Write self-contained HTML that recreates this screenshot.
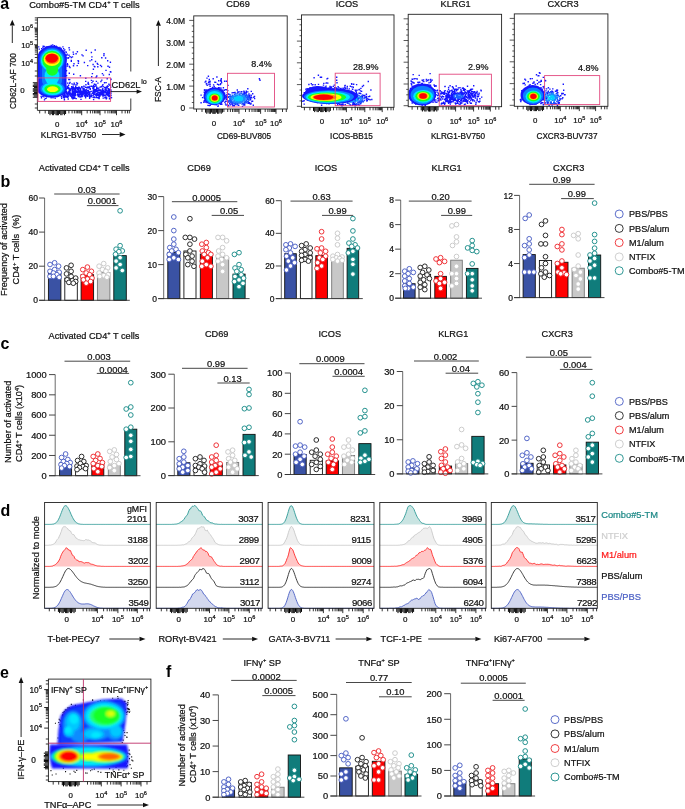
<!DOCTYPE html><html><head><meta charset="utf-8"><title>Figure</title><style>html,body{margin:0;padding:0;background:#fff;width:685px;height:809px;overflow:hidden}svg{display:block;font-family:"Liberation Sans", sans-serif;will-change:transform}</style></head><body><svg width="685" height="809" viewBox="0 0 685 809" font-family='"Liberation Sans", sans-serif'><defs><filter id="bl" x="-30%" y="-30%" width="160%" height="160%"><feGaussianBlur stdDeviation="0.75"/></filter><filter id="bl2" x="-30%" y="-30%" width="160%" height="160%"><feGaussianBlur stdDeviation="1.1"/></filter><clipPath id="c1"><rect x="37.9" y="17.6" width="93.4" height="92.8"/></clipPath><clipPath id="c2"><rect x="194.2" y="15.9" width="93.0" height="93.1"/></clipPath><clipPath id="c3"><rect x="302.0" y="14.9" width="92.0" height="92.4"/></clipPath><clipPath id="c4"><rect x="408.7" y="14.3" width="93.0" height="92.4"/></clipPath><clipPath id="c5"><rect x="514.8" y="13.9" width="93.0" height="92.4"/></clipPath><clipPath id="c6"><rect x="48.9" y="679.1" width="102.5" height="102.5"/></clipPath></defs><rect width="685" height="809" fill="#fff"/><rect x="48.40" y="273.02" width="12.50" height="27.28" fill="#3a52a4" stroke="#111" stroke-width="0.90"/>
<rect x="64.80" y="278.13" width="12.50" height="22.17" fill="#ffffff" stroke="#111" stroke-width="0.90"/>
<rect x="81.10" y="274.73" width="12.50" height="25.57" fill="#ff0000" stroke="#111" stroke-width="0.90"/>
<rect x="97.40" y="272.51" width="12.50" height="27.79" fill="#c8c8c8" stroke="#777" stroke-width="0.90"/>
<rect x="113.80" y="255.63" width="12.50" height="44.67" fill="#107c7b" stroke="#111" stroke-width="0.90"/>
<circle cx="54.6" cy="262.8" r="2.35" fill="#fff" stroke="#4b5fc4" stroke-width="0.95"/>
<circle cx="50.0" cy="264.5" r="2.35" fill="#fff" stroke="#4b5fc4" stroke-width="0.95"/>
<circle cx="58.6" cy="266.2" r="2.35" fill="#fff" stroke="#4b5fc4" stroke-width="0.95"/>
<circle cx="54.6" cy="269.6" r="2.35" fill="#fff" stroke="#4b5fc4" stroke-width="0.95"/>
<circle cx="50.0" cy="271.3" r="2.35" fill="#fff" stroke="#4b5fc4" stroke-width="0.95"/>
<circle cx="59.2" cy="272.2" r="2.35" fill="#fff" stroke="#4b5fc4" stroke-width="0.95"/>
<circle cx="53.4" cy="273.0" r="2.35" fill="#fff" stroke="#4b5fc4" stroke-width="0.95"/>
<circle cx="56.9" cy="274.7" r="2.35" fill="#fff" stroke="#4b5fc4" stroke-width="0.95"/>
<circle cx="50.0" cy="276.4" r="2.35" fill="#fff" stroke="#4b5fc4" stroke-width="0.95"/>
<circle cx="53.4" cy="276.4" r="2.35" fill="#fff" stroke="#4b5fc4" stroke-width="0.95"/>
<circle cx="59.2" cy="277.3" r="2.35" fill="#fff" stroke="#4b5fc4" stroke-width="0.95"/>
<circle cx="71.1" cy="265.3" r="2.35" fill="#fff" stroke="#222" stroke-width="0.95"/>
<circle cx="66.5" cy="267.9" r="2.35" fill="#fff" stroke="#222" stroke-width="0.95"/>
<circle cx="71.1" cy="271.3" r="2.35" fill="#fff" stroke="#222" stroke-width="0.95"/>
<circle cx="66.5" cy="273.9" r="2.35" fill="#fff" stroke="#222" stroke-width="0.95"/>
<circle cx="71.1" cy="276.4" r="2.35" fill="#fff" stroke="#222" stroke-width="0.95"/>
<circle cx="75.7" cy="278.1" r="2.35" fill="#fff" stroke="#222" stroke-width="0.95"/>
<circle cx="67.1" cy="279.8" r="2.35" fill="#fff" stroke="#222" stroke-width="0.95"/>
<circle cx="72.3" cy="280.7" r="2.35" fill="#fff" stroke="#222" stroke-width="0.95"/>
<circle cx="75.7" cy="281.5" r="2.35" fill="#fff" stroke="#222" stroke-width="0.95"/>
<circle cx="68.9" cy="282.4" r="2.35" fill="#fff" stroke="#222" stroke-width="0.95"/>
<circle cx="73.3" cy="283.2" r="2.35" fill="#fff" stroke="#222" stroke-width="0.95"/>
<circle cx="87.4" cy="267.1" r="2.35" fill="#fff" stroke="#ee2a2f" stroke-width="0.95"/>
<circle cx="82.8" cy="269.6" r="2.35" fill="#fff" stroke="#ee2a2f" stroke-width="0.95"/>
<circle cx="91.4" cy="271.3" r="2.35" fill="#fff" stroke="#ee2a2f" stroke-width="0.95"/>
<circle cx="86.2" cy="273.0" r="2.35" fill="#fff" stroke="#ee2a2f" stroke-width="0.95"/>
<circle cx="89.6" cy="274.7" r="2.35" fill="#fff" stroke="#ee2a2f" stroke-width="0.95"/>
<circle cx="82.8" cy="276.4" r="2.35" fill="#fff" stroke="#ee2a2f" stroke-width="0.95"/>
<circle cx="92.0" cy="278.1" r="2.35" fill="#fff" stroke="#ee2a2f" stroke-width="0.95"/>
<circle cx="87.4" cy="279.0" r="2.35" fill="#fff" stroke="#ee2a2f" stroke-width="0.95"/>
<circle cx="83.4" cy="279.8" r="2.35" fill="#fff" stroke="#ee2a2f" stroke-width="0.95"/>
<circle cx="90.6" cy="281.5" r="2.35" fill="#fff" stroke="#ee2a2f" stroke-width="0.95"/>
<circle cx="86.2" cy="283.2" r="2.35" fill="#fff" stroke="#ee2a2f" stroke-width="0.95"/>
<circle cx="103.7" cy="263.6" r="2.35" fill="#fff" stroke="#c9c9c9" stroke-width="0.95"/>
<circle cx="99.1" cy="266.2" r="2.35" fill="#fff" stroke="#c9c9c9" stroke-width="0.95"/>
<circle cx="107.7" cy="267.9" r="2.35" fill="#fff" stroke="#c9c9c9" stroke-width="0.95"/>
<circle cx="102.5" cy="269.6" r="2.35" fill="#fff" stroke="#c9c9c9" stroke-width="0.95"/>
<circle cx="105.9" cy="271.3" r="2.35" fill="#fff" stroke="#c9c9c9" stroke-width="0.95"/>
<circle cx="99.1" cy="273.0" r="2.35" fill="#fff" stroke="#c9c9c9" stroke-width="0.95"/>
<circle cx="108.2" cy="274.7" r="2.35" fill="#fff" stroke="#c9c9c9" stroke-width="0.95"/>
<circle cx="103.7" cy="275.6" r="2.35" fill="#fff" stroke="#c9c9c9" stroke-width="0.95"/>
<circle cx="99.7" cy="276.4" r="2.35" fill="#fff" stroke="#c9c9c9" stroke-width="0.95"/>
<circle cx="106.9" cy="277.3" r="2.35" fill="#fff" stroke="#c9c9c9" stroke-width="0.95"/>
<circle cx="120.1" cy="210.8" r="2.35" fill="#fff" stroke="#1a8c89" stroke-width="0.95"/>
<circle cx="120.1" cy="245.7" r="2.35" fill="#fff" stroke="#1a8c89" stroke-width="0.95"/>
<circle cx="116.1" cy="249.2" r="2.35" fill="#fff" stroke="#1a8c89" stroke-width="0.95"/>
<circle cx="122.3" cy="250.9" r="2.35" fill="#fff" stroke="#1a8c89" stroke-width="0.95"/>
<circle cx="118.9" cy="251.7" r="2.35" fill="#fff" stroke="#1a8c89" stroke-width="0.95"/>
<circle cx="115.5" cy="254.3" r="2.35" fill="#fff" stroke="#1a8c89" stroke-width="0.95"/>
<circle cx="120.1" cy="257.7" r="2.35" fill="#fff" stroke="#1a8c89" stroke-width="0.95"/>
<circle cx="116.1" cy="261.1" r="2.35" fill="#fff" stroke="#1a8c89" stroke-width="0.95"/>
<circle cx="120.1" cy="264.5" r="2.35" fill="#fff" stroke="#1a8c89" stroke-width="0.95"/>
<circle cx="116.1" cy="267.9" r="2.35" fill="#fff" stroke="#1a8c89" stroke-width="0.95"/>
<circle cx="122.3" cy="270.5" r="2.35" fill="#fff" stroke="#1a8c89" stroke-width="0.95"/>
<line x1="44.60" y1="198.00" x2="44.60" y2="300.75" stroke="#6a6a6a" stroke-width="1.00"/>
<line x1="39.10" y1="300.30" x2="129.80" y2="300.30" stroke="#333" stroke-width="0.90"/>
<line x1="39.10" y1="300.30" x2="44.60" y2="300.30" stroke="#333" stroke-width="0.90"/>
<text x="37.9" y="303.4" font-size="8.50" text-anchor="end" fill="#111" stroke="#111" stroke-width="0.22">0</text>
<line x1="39.10" y1="266.20" x2="44.60" y2="266.20" stroke="#333" stroke-width="0.90"/>
<text x="37.9" y="269.3" font-size="8.50" text-anchor="end" fill="#111" stroke="#111" stroke-width="0.22">20</text>
<line x1="39.10" y1="232.10" x2="44.60" y2="232.10" stroke="#333" stroke-width="0.90"/>
<text x="37.9" y="235.2" font-size="8.50" text-anchor="end" fill="#111" stroke="#111" stroke-width="0.22">40</text>
<line x1="39.10" y1="198.00" x2="44.60" y2="198.00" stroke="#333" stroke-width="0.90"/>
<text x="37.9" y="201.1" font-size="8.50" text-anchor="end" fill="#111" stroke="#111" stroke-width="0.22">60</text>
<line x1="54.20" y1="194.00" x2="119.60" y2="194.00" stroke="#333" stroke-width="0.90"/>
<text x="86.9" y="192.8" font-size="9.40" text-anchor="middle" fill="#111" stroke="#111" stroke-width="0.22">0.03</text>
<line x1="86.90" y1="205.60" x2="118.50" y2="205.60" stroke="#333" stroke-width="0.90"/>
<text x="102.2" y="204.4" font-size="9.40" text-anchor="middle" fill="#111" stroke="#111" stroke-width="0.22">0.0001</text>
<text x="84.2" y="171.3" font-size="9.20" text-anchor="middle" fill="#111" stroke="#111" stroke-width="0.22">Activated CD4<tspan dy="-3.50" font-size="5.70">+</tspan><tspan dy="3.50"> T cells</tspan></text>
<rect x="167.80" y="252.36" width="12.10" height="46.24" fill="#3a52a4" stroke="#111" stroke-width="0.90"/>
<rect x="183.90" y="251.00" width="12.10" height="47.60" fill="#ffffff" stroke="#111" stroke-width="0.90"/>
<rect x="200.30" y="254.06" width="12.10" height="44.54" fill="#ff0000" stroke="#111" stroke-width="0.90"/>
<rect x="216.60" y="257.46" width="12.10" height="41.14" fill="#c8c8c8" stroke="#777" stroke-width="0.90"/>
<rect x="233.00" y="274.12" width="12.10" height="24.48" fill="#107c7b" stroke="#111" stroke-width="0.90"/>
<circle cx="173.8" cy="217.0" r="2.35" fill="#fff" stroke="#4b5fc4" stroke-width="0.95"/>
<circle cx="173.8" cy="230.6" r="2.35" fill="#fff" stroke="#4b5fc4" stroke-width="0.95"/>
<circle cx="173.8" cy="239.1" r="2.35" fill="#fff" stroke="#4b5fc4" stroke-width="0.95"/>
<circle cx="173.8" cy="244.2" r="2.35" fill="#fff" stroke="#4b5fc4" stroke-width="0.95"/>
<circle cx="169.8" cy="247.6" r="2.35" fill="#fff" stroke="#4b5fc4" stroke-width="0.95"/>
<circle cx="176.0" cy="249.3" r="2.35" fill="#fff" stroke="#4b5fc4" stroke-width="0.95"/>
<circle cx="171.7" cy="251.0" r="2.35" fill="#fff" stroke="#4b5fc4" stroke-width="0.95"/>
<circle cx="178.4" cy="252.7" r="2.35" fill="#fff" stroke="#4b5fc4" stroke-width="0.95"/>
<circle cx="169.2" cy="254.4" r="2.35" fill="#fff" stroke="#4b5fc4" stroke-width="0.95"/>
<circle cx="173.8" cy="257.8" r="2.35" fill="#fff" stroke="#4b5fc4" stroke-width="0.95"/>
<circle cx="169.2" cy="259.5" r="2.35" fill="#fff" stroke="#4b5fc4" stroke-width="0.95"/>
<circle cx="178.4" cy="259.5" r="2.35" fill="#fff" stroke="#4b5fc4" stroke-width="0.95"/>
<circle cx="189.9" cy="218.7" r="2.35" fill="#fff" stroke="#222" stroke-width="0.95"/>
<circle cx="189.9" cy="237.4" r="2.35" fill="#fff" stroke="#222" stroke-width="0.95"/>
<circle cx="185.3" cy="237.4" r="2.35" fill="#fff" stroke="#222" stroke-width="0.95"/>
<circle cx="194.5" cy="239.1" r="2.35" fill="#fff" stroke="#222" stroke-width="0.95"/>
<circle cx="189.9" cy="244.2" r="2.35" fill="#fff" stroke="#222" stroke-width="0.95"/>
<circle cx="189.9" cy="251.0" r="2.35" fill="#fff" stroke="#222" stroke-width="0.95"/>
<circle cx="185.9" cy="254.4" r="2.35" fill="#fff" stroke="#222" stroke-width="0.95"/>
<circle cx="192.1" cy="256.1" r="2.35" fill="#fff" stroke="#222" stroke-width="0.95"/>
<circle cx="187.8" cy="257.8" r="2.35" fill="#fff" stroke="#222" stroke-width="0.95"/>
<circle cx="192.1" cy="261.2" r="2.35" fill="#fff" stroke="#222" stroke-width="0.95"/>
<circle cx="187.8" cy="264.6" r="2.35" fill="#fff" stroke="#222" stroke-width="0.95"/>
<circle cx="193.9" cy="266.3" r="2.35" fill="#fff" stroke="#222" stroke-width="0.95"/>
<circle cx="206.3" cy="242.5" r="2.35" fill="#fff" stroke="#ee2a2f" stroke-width="0.95"/>
<circle cx="201.8" cy="244.2" r="2.35" fill="#fff" stroke="#ee2a2f" stroke-width="0.95"/>
<circle cx="206.3" cy="247.6" r="2.35" fill="#fff" stroke="#ee2a2f" stroke-width="0.95"/>
<circle cx="202.3" cy="251.0" r="2.35" fill="#fff" stroke="#ee2a2f" stroke-width="0.95"/>
<circle cx="208.5" cy="252.7" r="2.35" fill="#fff" stroke="#ee2a2f" stroke-width="0.95"/>
<circle cx="204.2" cy="254.4" r="2.35" fill="#fff" stroke="#ee2a2f" stroke-width="0.95"/>
<circle cx="210.9" cy="254.4" r="2.35" fill="#fff" stroke="#ee2a2f" stroke-width="0.95"/>
<circle cx="207.5" cy="257.8" r="2.35" fill="#fff" stroke="#ee2a2f" stroke-width="0.95"/>
<circle cx="202.3" cy="261.2" r="2.35" fill="#fff" stroke="#ee2a2f" stroke-width="0.95"/>
<circle cx="206.3" cy="264.6" r="2.35" fill="#fff" stroke="#ee2a2f" stroke-width="0.95"/>
<circle cx="201.8" cy="266.3" r="2.35" fill="#fff" stroke="#ee2a2f" stroke-width="0.95"/>
<circle cx="210.9" cy="266.3" r="2.35" fill="#fff" stroke="#ee2a2f" stroke-width="0.95"/>
<circle cx="222.6" cy="237.4" r="2.35" fill="#fff" stroke="#c9c9c9" stroke-width="0.95"/>
<circle cx="218.0" cy="237.4" r="2.35" fill="#fff" stroke="#c9c9c9" stroke-width="0.95"/>
<circle cx="226.6" cy="240.8" r="2.35" fill="#fff" stroke="#c9c9c9" stroke-width="0.95"/>
<circle cx="222.6" cy="247.6" r="2.35" fill="#fff" stroke="#c9c9c9" stroke-width="0.95"/>
<circle cx="218.6" cy="251.0" r="2.35" fill="#fff" stroke="#c9c9c9" stroke-width="0.95"/>
<circle cx="222.6" cy="254.4" r="2.35" fill="#fff" stroke="#c9c9c9" stroke-width="0.95"/>
<circle cx="218.0" cy="256.1" r="2.35" fill="#fff" stroke="#c9c9c9" stroke-width="0.95"/>
<circle cx="226.6" cy="257.8" r="2.35" fill="#fff" stroke="#c9c9c9" stroke-width="0.95"/>
<circle cx="221.4" cy="259.5" r="2.35" fill="#fff" stroke="#c9c9c9" stroke-width="0.95"/>
<circle cx="218.0" cy="261.2" r="2.35" fill="#fff" stroke="#c9c9c9" stroke-width="0.95"/>
<circle cx="222.6" cy="264.6" r="2.35" fill="#fff" stroke="#c9c9c9" stroke-width="0.95"/>
<circle cx="222.6" cy="271.4" r="2.35" fill="#fff" stroke="#c9c9c9" stroke-width="0.95"/>
<circle cx="239.0" cy="252.7" r="2.35" fill="#fff" stroke="#1a8c89" stroke-width="0.95"/>
<circle cx="234.4" cy="254.4" r="2.35" fill="#fff" stroke="#1a8c89" stroke-width="0.95"/>
<circle cx="239.0" cy="264.6" r="2.35" fill="#fff" stroke="#1a8c89" stroke-width="0.95"/>
<circle cx="235.0" cy="268.0" r="2.35" fill="#fff" stroke="#1a8c89" stroke-width="0.95"/>
<circle cx="241.2" cy="269.7" r="2.35" fill="#fff" stroke="#1a8c89" stroke-width="0.95"/>
<circle cx="236.8" cy="271.4" r="2.35" fill="#fff" stroke="#1a8c89" stroke-width="0.95"/>
<circle cx="241.2" cy="274.8" r="2.35" fill="#fff" stroke="#1a8c89" stroke-width="0.95"/>
<circle cx="235.0" cy="276.5" r="2.35" fill="#fff" stroke="#1a8c89" stroke-width="0.95"/>
<circle cx="243.6" cy="278.2" r="2.35" fill="#fff" stroke="#1a8c89" stroke-width="0.95"/>
<circle cx="239.0" cy="279.9" r="2.35" fill="#fff" stroke="#1a8c89" stroke-width="0.95"/>
<circle cx="234.4" cy="281.6" r="2.35" fill="#fff" stroke="#1a8c89" stroke-width="0.95"/>
<circle cx="243.0" cy="283.3" r="2.35" fill="#fff" stroke="#1a8c89" stroke-width="0.95"/>
<circle cx="239.0" cy="286.7" r="2.35" fill="#fff" stroke="#1a8c89" stroke-width="0.95"/>
<line x1="163.70" y1="196.60" x2="163.70" y2="299.05" stroke="#6a6a6a" stroke-width="1.00"/>
<line x1="158.20" y1="298.60" x2="249.60" y2="298.60" stroke="#333" stroke-width="0.90"/>
<line x1="158.20" y1="298.60" x2="163.70" y2="298.60" stroke="#333" stroke-width="0.90"/>
<text x="157.0" y="301.7" font-size="8.50" text-anchor="end" fill="#111" stroke="#111" stroke-width="0.22">0</text>
<line x1="158.20" y1="264.60" x2="163.70" y2="264.60" stroke="#333" stroke-width="0.90"/>
<text x="157.0" y="267.7" font-size="8.50" text-anchor="end" fill="#111" stroke="#111" stroke-width="0.22">10</text>
<line x1="158.20" y1="230.60" x2="163.70" y2="230.60" stroke="#333" stroke-width="0.90"/>
<text x="157.0" y="233.7" font-size="8.50" text-anchor="end" fill="#111" stroke="#111" stroke-width="0.22">20</text>
<line x1="158.20" y1="196.60" x2="163.70" y2="196.60" stroke="#333" stroke-width="0.90"/>
<text x="157.0" y="199.7" font-size="8.50" text-anchor="end" fill="#111" stroke="#111" stroke-width="0.22">30</text>
<line x1="171.90" y1="201.70" x2="237.30" y2="201.70" stroke="#333" stroke-width="0.90"/>
<text x="206.6" y="200.8" font-size="9.40" text-anchor="middle" fill="#111" stroke="#111" stroke-width="0.22">0.0005</text>
<line x1="211.70" y1="215.40" x2="244.00" y2="215.40" stroke="#333" stroke-width="0.90"/>
<text x="229.1" y="214.1" font-size="9.40" text-anchor="middle" fill="#111" stroke="#111" stroke-width="0.22">0.05</text>
<text x="199.0" y="171.3" font-size="9.20" text-anchor="middle" fill="#111" stroke="#111" stroke-width="0.22">CD69</text>
<rect x="284.70" y="253.73" width="11.60" height="44.87" fill="#3a52a4" stroke="#111" stroke-width="0.90"/>
<rect x="300.40" y="255.36" width="11.60" height="43.24" fill="#ffffff" stroke="#111" stroke-width="0.90"/>
<rect x="315.80" y="255.69" width="11.60" height="42.91" fill="#ff0000" stroke="#111" stroke-width="0.90"/>
<rect x="331.70" y="256.18" width="11.60" height="42.42" fill="#c8c8c8" stroke="#777" stroke-width="0.90"/>
<rect x="347.10" y="248.34" width="11.60" height="50.26" fill="#107c7b" stroke="#111" stroke-width="0.90"/>
<circle cx="290.5" cy="243.9" r="2.35" fill="#fff" stroke="#4b5fc4" stroke-width="0.95"/>
<circle cx="285.9" cy="244.8" r="2.35" fill="#fff" stroke="#4b5fc4" stroke-width="0.95"/>
<circle cx="295.1" cy="246.4" r="2.35" fill="#fff" stroke="#4b5fc4" stroke-width="0.95"/>
<circle cx="289.3" cy="248.0" r="2.35" fill="#fff" stroke="#4b5fc4" stroke-width="0.95"/>
<circle cx="285.9" cy="249.7" r="2.35" fill="#fff" stroke="#4b5fc4" stroke-width="0.95"/>
<circle cx="290.5" cy="252.9" r="2.35" fill="#fff" stroke="#4b5fc4" stroke-width="0.95"/>
<circle cx="286.5" cy="256.2" r="2.35" fill="#fff" stroke="#4b5fc4" stroke-width="0.95"/>
<circle cx="292.7" cy="257.8" r="2.35" fill="#fff" stroke="#4b5fc4" stroke-width="0.95"/>
<circle cx="288.3" cy="261.1" r="2.35" fill="#fff" stroke="#4b5fc4" stroke-width="0.95"/>
<circle cx="294.5" cy="262.7" r="2.35" fill="#fff" stroke="#4b5fc4" stroke-width="0.95"/>
<circle cx="290.5" cy="266.0" r="2.35" fill="#fff" stroke="#4b5fc4" stroke-width="0.95"/>
<circle cx="286.5" cy="270.0" r="2.35" fill="#fff" stroke="#4b5fc4" stroke-width="0.95"/>
<circle cx="306.2" cy="243.9" r="2.35" fill="#fff" stroke="#222" stroke-width="0.95"/>
<circle cx="301.6" cy="245.6" r="2.35" fill="#fff" stroke="#222" stroke-width="0.95"/>
<circle cx="310.2" cy="248.0" r="2.35" fill="#fff" stroke="#222" stroke-width="0.95"/>
<circle cx="305.0" cy="249.7" r="2.35" fill="#fff" stroke="#222" stroke-width="0.95"/>
<circle cx="301.6" cy="251.3" r="2.35" fill="#fff" stroke="#222" stroke-width="0.95"/>
<circle cx="310.2" cy="252.9" r="2.35" fill="#fff" stroke="#222" stroke-width="0.95"/>
<circle cx="305.0" cy="254.5" r="2.35" fill="#fff" stroke="#222" stroke-width="0.95"/>
<circle cx="301.6" cy="255.4" r="2.35" fill="#fff" stroke="#222" stroke-width="0.95"/>
<circle cx="310.2" cy="257.8" r="2.35" fill="#fff" stroke="#222" stroke-width="0.95"/>
<circle cx="305.0" cy="259.4" r="2.35" fill="#fff" stroke="#222" stroke-width="0.95"/>
<circle cx="301.6" cy="260.3" r="2.35" fill="#fff" stroke="#222" stroke-width="0.95"/>
<circle cx="308.4" cy="261.1" r="2.35" fill="#fff" stroke="#222" stroke-width="0.95"/>
<circle cx="321.6" cy="231.7" r="2.35" fill="#fff" stroke="#ee2a2f" stroke-width="0.95"/>
<circle cx="321.6" cy="239.0" r="2.35" fill="#fff" stroke="#ee2a2f" stroke-width="0.95"/>
<circle cx="321.6" cy="248.0" r="2.35" fill="#fff" stroke="#ee2a2f" stroke-width="0.95"/>
<circle cx="317.0" cy="248.8" r="2.35" fill="#fff" stroke="#ee2a2f" stroke-width="0.95"/>
<circle cx="325.6" cy="251.3" r="2.35" fill="#fff" stroke="#ee2a2f" stroke-width="0.95"/>
<circle cx="320.4" cy="252.9" r="2.35" fill="#fff" stroke="#ee2a2f" stroke-width="0.95"/>
<circle cx="325.6" cy="256.2" r="2.35" fill="#fff" stroke="#ee2a2f" stroke-width="0.95"/>
<circle cx="319.4" cy="257.8" r="2.35" fill="#fff" stroke="#ee2a2f" stroke-width="0.95"/>
<circle cx="322.8" cy="259.4" r="2.35" fill="#fff" stroke="#ee2a2f" stroke-width="0.95"/>
<circle cx="317.6" cy="262.7" r="2.35" fill="#fff" stroke="#ee2a2f" stroke-width="0.95"/>
<circle cx="321.6" cy="266.0" r="2.35" fill="#fff" stroke="#ee2a2f" stroke-width="0.95"/>
<circle cx="317.0" cy="268.4" r="2.35" fill="#fff" stroke="#ee2a2f" stroke-width="0.95"/>
<circle cx="337.5" cy="233.3" r="2.35" fill="#fff" stroke="#c9c9c9" stroke-width="0.95"/>
<circle cx="337.5" cy="238.2" r="2.35" fill="#fff" stroke="#c9c9c9" stroke-width="0.95"/>
<circle cx="337.5" cy="244.8" r="2.35" fill="#fff" stroke="#c9c9c9" stroke-width="0.95"/>
<circle cx="337.5" cy="254.5" r="2.35" fill="#fff" stroke="#c9c9c9" stroke-width="0.95"/>
<circle cx="332.9" cy="256.2" r="2.35" fill="#fff" stroke="#c9c9c9" stroke-width="0.95"/>
<circle cx="342.1" cy="257.0" r="2.35" fill="#fff" stroke="#c9c9c9" stroke-width="0.95"/>
<circle cx="336.3" cy="257.8" r="2.35" fill="#fff" stroke="#c9c9c9" stroke-width="0.95"/>
<circle cx="339.7" cy="258.6" r="2.35" fill="#fff" stroke="#c9c9c9" stroke-width="0.95"/>
<circle cx="332.9" cy="259.4" r="2.35" fill="#fff" stroke="#c9c9c9" stroke-width="0.95"/>
<circle cx="342.1" cy="260.3" r="2.35" fill="#fff" stroke="#c9c9c9" stroke-width="0.95"/>
<circle cx="337.5" cy="261.1" r="2.35" fill="#fff" stroke="#c9c9c9" stroke-width="0.95"/>
<circle cx="352.9" cy="218.6" r="2.35" fill="#fff" stroke="#1a8c89" stroke-width="0.95"/>
<circle cx="352.9" cy="230.9" r="2.35" fill="#fff" stroke="#1a8c89" stroke-width="0.95"/>
<circle cx="352.9" cy="239.0" r="2.35" fill="#fff" stroke="#1a8c89" stroke-width="0.95"/>
<circle cx="348.9" cy="243.1" r="2.35" fill="#fff" stroke="#1a8c89" stroke-width="0.95"/>
<circle cx="355.1" cy="244.8" r="2.35" fill="#fff" stroke="#1a8c89" stroke-width="0.95"/>
<circle cx="351.7" cy="246.4" r="2.35" fill="#fff" stroke="#1a8c89" stroke-width="0.95"/>
<circle cx="357.5" cy="248.0" r="2.35" fill="#fff" stroke="#1a8c89" stroke-width="0.95"/>
<circle cx="352.9" cy="251.3" r="2.35" fill="#fff" stroke="#1a8c89" stroke-width="0.95"/>
<circle cx="348.3" cy="252.9" r="2.35" fill="#fff" stroke="#1a8c89" stroke-width="0.95"/>
<circle cx="352.9" cy="259.4" r="2.35" fill="#fff" stroke="#1a8c89" stroke-width="0.95"/>
<circle cx="352.9" cy="264.3" r="2.35" fill="#fff" stroke="#1a8c89" stroke-width="0.95"/>
<circle cx="352.9" cy="274.1" r="2.35" fill="#fff" stroke="#1a8c89" stroke-width="0.95"/>
<line x1="281.30" y1="200.70" x2="281.30" y2="299.05" stroke="#6a6a6a" stroke-width="1.00"/>
<line x1="275.80" y1="298.60" x2="362.80" y2="298.60" stroke="#333" stroke-width="0.90"/>
<line x1="275.80" y1="298.60" x2="281.30" y2="298.60" stroke="#333" stroke-width="0.90"/>
<text x="274.6" y="301.7" font-size="8.50" text-anchor="end" fill="#111" stroke="#111" stroke-width="0.22">0</text>
<line x1="275.80" y1="265.97" x2="281.30" y2="265.97" stroke="#333" stroke-width="0.90"/>
<text x="274.6" y="269.0" font-size="8.50" text-anchor="end" fill="#111" stroke="#111" stroke-width="0.22">20</text>
<line x1="275.80" y1="233.33" x2="281.30" y2="233.33" stroke="#333" stroke-width="0.90"/>
<text x="274.6" y="236.4" font-size="8.50" text-anchor="end" fill="#111" stroke="#111" stroke-width="0.22">40</text>
<line x1="275.80" y1="200.70" x2="281.30" y2="200.70" stroke="#333" stroke-width="0.90"/>
<text x="274.6" y="203.8" font-size="8.50" text-anchor="end" fill="#111" stroke="#111" stroke-width="0.22">60</text>
<line x1="290.50" y1="201.10" x2="352.60" y2="201.10" stroke="#333" stroke-width="0.90"/>
<text x="321.5" y="200.0" font-size="9.40" text-anchor="middle" fill="#111" stroke="#111" stroke-width="0.22">0.63</text>
<line x1="322.00" y1="215.40" x2="353.20" y2="215.40" stroke="#333" stroke-width="0.90"/>
<text x="337.5" y="213.9" font-size="9.40" text-anchor="middle" fill="#111" stroke="#111" stroke-width="0.22">0.99</text>
<text x="326.0" y="171.3" font-size="9.20" text-anchor="middle" fill="#111" stroke="#111" stroke-width="0.22">ICOS</text>
<rect x="403.50" y="283.73" width="11.60" height="14.47" fill="#3a52a4" stroke="#111" stroke-width="0.90"/>
<rect x="419.00" y="274.29" width="11.60" height="23.91" fill="#ffffff" stroke="#111" stroke-width="0.90"/>
<rect x="434.80" y="276.37" width="11.60" height="21.83" fill="#ff0000" stroke="#111" stroke-width="0.90"/>
<rect x="450.70" y="260.19" width="11.60" height="38.01" fill="#c8c8c8" stroke="#777" stroke-width="0.90"/>
<rect x="466.40" y="268.40" width="11.60" height="29.80" fill="#107c7b" stroke="#111" stroke-width="0.90"/>
<circle cx="409.3" cy="268.8" r="2.35" fill="#fff" stroke="#4b5fc4" stroke-width="0.95"/>
<circle cx="404.7" cy="271.2" r="2.35" fill="#fff" stroke="#4b5fc4" stroke-width="0.95"/>
<circle cx="413.3" cy="272.4" r="2.35" fill="#fff" stroke="#4b5fc4" stroke-width="0.95"/>
<circle cx="408.1" cy="273.7" r="2.35" fill="#fff" stroke="#4b5fc4" stroke-width="0.95"/>
<circle cx="404.7" cy="276.1" r="2.35" fill="#fff" stroke="#4b5fc4" stroke-width="0.95"/>
<circle cx="409.3" cy="278.6" r="2.35" fill="#fff" stroke="#4b5fc4" stroke-width="0.95"/>
<circle cx="404.7" cy="281.0" r="2.35" fill="#fff" stroke="#4b5fc4" stroke-width="0.95"/>
<circle cx="409.3" cy="283.5" r="2.35" fill="#fff" stroke="#4b5fc4" stroke-width="0.95"/>
<circle cx="404.7" cy="285.9" r="2.35" fill="#fff" stroke="#4b5fc4" stroke-width="0.95"/>
<circle cx="413.3" cy="287.2" r="2.35" fill="#fff" stroke="#4b5fc4" stroke-width="0.95"/>
<circle cx="408.1" cy="288.4" r="2.35" fill="#fff" stroke="#4b5fc4" stroke-width="0.95"/>
<circle cx="405.3" cy="288.4" r="2.35" fill="#fff" stroke="#4b5fc4" stroke-width="0.95"/>
<circle cx="424.8" cy="266.3" r="2.35" fill="#fff" stroke="#222" stroke-width="0.95"/>
<circle cx="420.2" cy="267.5" r="2.35" fill="#fff" stroke="#222" stroke-width="0.95"/>
<circle cx="428.8" cy="270.0" r="2.35" fill="#fff" stroke="#222" stroke-width="0.95"/>
<circle cx="422.6" cy="272.4" r="2.35" fill="#fff" stroke="#222" stroke-width="0.95"/>
<circle cx="427.0" cy="274.9" r="2.35" fill="#fff" stroke="#222" stroke-width="0.95"/>
<circle cx="420.2" cy="276.1" r="2.35" fill="#fff" stroke="#222" stroke-width="0.95"/>
<circle cx="429.4" cy="278.6" r="2.35" fill="#fff" stroke="#222" stroke-width="0.95"/>
<circle cx="423.6" cy="279.8" r="2.35" fill="#fff" stroke="#222" stroke-width="0.95"/>
<circle cx="420.2" cy="282.3" r="2.35" fill="#fff" stroke="#222" stroke-width="0.95"/>
<circle cx="424.8" cy="284.7" r="2.35" fill="#fff" stroke="#222" stroke-width="0.95"/>
<circle cx="420.2" cy="287.2" r="2.35" fill="#fff" stroke="#222" stroke-width="0.95"/>
<circle cx="424.8" cy="289.6" r="2.35" fill="#fff" stroke="#222" stroke-width="0.95"/>
<circle cx="440.6" cy="257.7" r="2.35" fill="#fff" stroke="#ee2a2f" stroke-width="0.95"/>
<circle cx="436.0" cy="259.0" r="2.35" fill="#fff" stroke="#ee2a2f" stroke-width="0.95"/>
<circle cx="444.6" cy="261.4" r="2.35" fill="#fff" stroke="#ee2a2f" stroke-width="0.95"/>
<circle cx="439.4" cy="262.6" r="2.35" fill="#fff" stroke="#ee2a2f" stroke-width="0.95"/>
<circle cx="440.6" cy="273.7" r="2.35" fill="#fff" stroke="#ee2a2f" stroke-width="0.95"/>
<circle cx="440.6" cy="278.6" r="2.35" fill="#fff" stroke="#ee2a2f" stroke-width="0.95"/>
<circle cx="436.0" cy="281.0" r="2.35" fill="#fff" stroke="#ee2a2f" stroke-width="0.95"/>
<circle cx="444.6" cy="282.3" r="2.35" fill="#fff" stroke="#ee2a2f" stroke-width="0.95"/>
<circle cx="439.4" cy="283.5" r="2.35" fill="#fff" stroke="#ee2a2f" stroke-width="0.95"/>
<circle cx="440.6" cy="288.4" r="2.35" fill="#fff" stroke="#ee2a2f" stroke-width="0.95"/>
<circle cx="456.5" cy="224.6" r="2.35" fill="#fff" stroke="#c9c9c9" stroke-width="0.95"/>
<circle cx="451.9" cy="225.9" r="2.35" fill="#fff" stroke="#c9c9c9" stroke-width="0.95"/>
<circle cx="456.5" cy="236.9" r="2.35" fill="#fff" stroke="#c9c9c9" stroke-width="0.95"/>
<circle cx="456.5" cy="241.8" r="2.35" fill="#fff" stroke="#c9c9c9" stroke-width="0.95"/>
<circle cx="452.5" cy="245.5" r="2.35" fill="#fff" stroke="#c9c9c9" stroke-width="0.95"/>
<circle cx="456.5" cy="256.5" r="2.35" fill="#fff" stroke="#c9c9c9" stroke-width="0.95"/>
<circle cx="456.5" cy="266.3" r="2.35" fill="#fff" stroke="#c9c9c9" stroke-width="0.95"/>
<circle cx="456.5" cy="273.7" r="2.35" fill="#fff" stroke="#c9c9c9" stroke-width="0.95"/>
<circle cx="451.9" cy="273.7" r="2.35" fill="#fff" stroke="#c9c9c9" stroke-width="0.95"/>
<circle cx="456.5" cy="278.6" r="2.35" fill="#fff" stroke="#c9c9c9" stroke-width="0.95"/>
<circle cx="456.5" cy="283.5" r="2.35" fill="#fff" stroke="#c9c9c9" stroke-width="0.95"/>
<circle cx="451.9" cy="285.9" r="2.35" fill="#fff" stroke="#c9c9c9" stroke-width="0.95"/>
<circle cx="472.2" cy="240.6" r="2.35" fill="#fff" stroke="#1a8c89" stroke-width="0.95"/>
<circle cx="472.2" cy="245.5" r="2.35" fill="#fff" stroke="#1a8c89" stroke-width="0.95"/>
<circle cx="467.6" cy="247.9" r="2.35" fill="#fff" stroke="#1a8c89" stroke-width="0.95"/>
<circle cx="472.2" cy="250.4" r="2.35" fill="#fff" stroke="#1a8c89" stroke-width="0.95"/>
<circle cx="476.8" cy="251.6" r="2.35" fill="#fff" stroke="#1a8c89" stroke-width="0.95"/>
<circle cx="472.2" cy="263.9" r="2.35" fill="#fff" stroke="#1a8c89" stroke-width="0.95"/>
<circle cx="472.2" cy="273.7" r="2.35" fill="#fff" stroke="#1a8c89" stroke-width="0.95"/>
<circle cx="467.6" cy="273.7" r="2.35" fill="#fff" stroke="#1a8c89" stroke-width="0.95"/>
<circle cx="472.2" cy="279.8" r="2.35" fill="#fff" stroke="#1a8c89" stroke-width="0.95"/>
<circle cx="472.2" cy="285.9" r="2.35" fill="#fff" stroke="#1a8c89" stroke-width="0.95"/>
<circle cx="472.2" cy="290.8" r="2.35" fill="#fff" stroke="#1a8c89" stroke-width="0.95"/>
<line x1="400.70" y1="200.10" x2="400.70" y2="298.65" stroke="#6a6a6a" stroke-width="1.00"/>
<line x1="395.20" y1="298.20" x2="482.00" y2="298.20" stroke="#333" stroke-width="0.90"/>
<line x1="395.20" y1="298.20" x2="400.70" y2="298.20" stroke="#333" stroke-width="0.90"/>
<text x="394.0" y="301.3" font-size="8.50" text-anchor="end" fill="#111" stroke="#111" stroke-width="0.22">0</text>
<line x1="395.20" y1="273.68" x2="400.70" y2="273.68" stroke="#333" stroke-width="0.90"/>
<text x="394.0" y="276.7" font-size="8.50" text-anchor="end" fill="#111" stroke="#111" stroke-width="0.22">2</text>
<line x1="395.20" y1="249.15" x2="400.70" y2="249.15" stroke="#333" stroke-width="0.90"/>
<text x="394.0" y="252.2" font-size="8.50" text-anchor="end" fill="#111" stroke="#111" stroke-width="0.22">4</text>
<line x1="395.20" y1="224.62" x2="400.70" y2="224.62" stroke="#333" stroke-width="0.90"/>
<text x="394.0" y="227.7" font-size="8.50" text-anchor="end" fill="#111" stroke="#111" stroke-width="0.22">6</text>
<line x1="395.20" y1="200.10" x2="400.70" y2="200.10" stroke="#333" stroke-width="0.90"/>
<text x="394.0" y="203.2" font-size="8.50" text-anchor="end" fill="#111" stroke="#111" stroke-width="0.22">8</text>
<line x1="408.80" y1="201.10" x2="471.60" y2="201.10" stroke="#333" stroke-width="0.90"/>
<text x="440.5" y="200.0" font-size="9.40" text-anchor="middle" fill="#111" stroke="#111" stroke-width="0.22">0.20</text>
<line x1="441.10" y1="215.40" x2="472.20" y2="215.40" stroke="#333" stroke-width="0.90"/>
<text x="456.9" y="213.9" font-size="9.40" text-anchor="middle" fill="#111" stroke="#111" stroke-width="0.22">0.99</text>
<text x="446.6" y="171.3" font-size="9.20" text-anchor="middle" fill="#111" stroke="#111" stroke-width="0.22">KLRG1</text>
<rect x="523.10" y="254.59" width="12.20" height="43.01" fill="#3a52a4" stroke="#111" stroke-width="0.90"/>
<rect x="539.40" y="260.55" width="12.20" height="37.05" fill="#ffffff" stroke="#111" stroke-width="0.90"/>
<rect x="555.80" y="262.26" width="12.20" height="35.34" fill="#ff0000" stroke="#111" stroke-width="0.90"/>
<rect x="572.10" y="268.22" width="12.20" height="29.38" fill="#c8c8c8" stroke="#777" stroke-width="0.90"/>
<rect x="588.50" y="255.02" width="12.20" height="42.58" fill="#107c7b" stroke="#111" stroke-width="0.90"/>
<circle cx="529.2" cy="215.0" r="2.35" fill="#fff" stroke="#4b5fc4" stroke-width="0.95"/>
<circle cx="525.2" cy="218.4" r="2.35" fill="#fff" stroke="#4b5fc4" stroke-width="0.95"/>
<circle cx="529.2" cy="238.8" r="2.35" fill="#fff" stroke="#4b5fc4" stroke-width="0.95"/>
<circle cx="529.2" cy="243.9" r="2.35" fill="#fff" stroke="#4b5fc4" stroke-width="0.95"/>
<circle cx="524.6" cy="245.6" r="2.35" fill="#fff" stroke="#4b5fc4" stroke-width="0.95"/>
<circle cx="529.2" cy="249.9" r="2.35" fill="#fff" stroke="#4b5fc4" stroke-width="0.95"/>
<circle cx="529.2" cy="255.0" r="2.35" fill="#fff" stroke="#4b5fc4" stroke-width="0.95"/>
<circle cx="524.6" cy="257.6" r="2.35" fill="#fff" stroke="#4b5fc4" stroke-width="0.95"/>
<circle cx="529.2" cy="272.1" r="2.35" fill="#fff" stroke="#4b5fc4" stroke-width="0.95"/>
<circle cx="524.6" cy="272.1" r="2.35" fill="#fff" stroke="#4b5fc4" stroke-width="0.95"/>
<circle cx="533.8" cy="272.1" r="2.35" fill="#fff" stroke="#4b5fc4" stroke-width="0.95"/>
<circle cx="545.5" cy="220.9" r="2.35" fill="#fff" stroke="#222" stroke-width="0.95"/>
<circle cx="541.5" cy="224.4" r="2.35" fill="#fff" stroke="#222" stroke-width="0.95"/>
<circle cx="545.5" cy="235.4" r="2.35" fill="#fff" stroke="#222" stroke-width="0.95"/>
<circle cx="545.5" cy="243.9" r="2.35" fill="#fff" stroke="#222" stroke-width="0.95"/>
<circle cx="540.9" cy="243.9" r="2.35" fill="#fff" stroke="#222" stroke-width="0.95"/>
<circle cx="545.5" cy="256.7" r="2.35" fill="#fff" stroke="#222" stroke-width="0.95"/>
<circle cx="545.5" cy="263.5" r="2.35" fill="#fff" stroke="#222" stroke-width="0.95"/>
<circle cx="541.5" cy="267.8" r="2.35" fill="#fff" stroke="#222" stroke-width="0.95"/>
<circle cx="545.5" cy="272.1" r="2.35" fill="#fff" stroke="#222" stroke-width="0.95"/>
<circle cx="540.9" cy="273.8" r="2.35" fill="#fff" stroke="#222" stroke-width="0.95"/>
<circle cx="549.5" cy="275.5" r="2.35" fill="#fff" stroke="#222" stroke-width="0.95"/>
<circle cx="544.3" cy="277.2" r="2.35" fill="#fff" stroke="#222" stroke-width="0.95"/>
<circle cx="561.9" cy="229.5" r="2.35" fill="#fff" stroke="#ee2a2f" stroke-width="0.95"/>
<circle cx="561.9" cy="234.6" r="2.35" fill="#fff" stroke="#ee2a2f" stroke-width="0.95"/>
<circle cx="561.9" cy="243.9" r="2.35" fill="#fff" stroke="#ee2a2f" stroke-width="0.95"/>
<circle cx="557.3" cy="246.5" r="2.35" fill="#fff" stroke="#ee2a2f" stroke-width="0.95"/>
<circle cx="561.9" cy="249.9" r="2.35" fill="#fff" stroke="#ee2a2f" stroke-width="0.95"/>
<circle cx="561.9" cy="261.0" r="2.35" fill="#fff" stroke="#ee2a2f" stroke-width="0.95"/>
<circle cx="557.3" cy="263.5" r="2.35" fill="#fff" stroke="#ee2a2f" stroke-width="0.95"/>
<circle cx="561.9" cy="267.8" r="2.35" fill="#fff" stroke="#ee2a2f" stroke-width="0.95"/>
<circle cx="557.9" cy="272.1" r="2.35" fill="#fff" stroke="#ee2a2f" stroke-width="0.95"/>
<circle cx="564.1" cy="272.9" r="2.35" fill="#fff" stroke="#ee2a2f" stroke-width="0.95"/>
<circle cx="560.7" cy="273.8" r="2.35" fill="#fff" stroke="#ee2a2f" stroke-width="0.95"/>
<circle cx="566.5" cy="274.6" r="2.35" fill="#fff" stroke="#ee2a2f" stroke-width="0.95"/>
<circle cx="578.2" cy="233.7" r="2.35" fill="#fff" stroke="#c9c9c9" stroke-width="0.95"/>
<circle cx="573.6" cy="235.4" r="2.35" fill="#fff" stroke="#c9c9c9" stroke-width="0.95"/>
<circle cx="578.2" cy="238.8" r="2.35" fill="#fff" stroke="#c9c9c9" stroke-width="0.95"/>
<circle cx="578.2" cy="255.0" r="2.35" fill="#fff" stroke="#c9c9c9" stroke-width="0.95"/>
<circle cx="578.2" cy="266.1" r="2.35" fill="#fff" stroke="#c9c9c9" stroke-width="0.95"/>
<circle cx="574.2" cy="269.5" r="2.35" fill="#fff" stroke="#c9c9c9" stroke-width="0.95"/>
<circle cx="580.4" cy="272.1" r="2.35" fill="#fff" stroke="#c9c9c9" stroke-width="0.95"/>
<circle cx="576.0" cy="275.5" r="2.35" fill="#fff" stroke="#c9c9c9" stroke-width="0.95"/>
<circle cx="580.4" cy="278.9" r="2.35" fill="#fff" stroke="#c9c9c9" stroke-width="0.95"/>
<circle cx="578.2" cy="284.0" r="2.35" fill="#fff" stroke="#c9c9c9" stroke-width="0.95"/>
<circle cx="578.2" cy="289.1" r="2.35" fill="#fff" stroke="#c9c9c9" stroke-width="0.95"/>
<circle cx="594.6" cy="203.1" r="2.35" fill="#fff" stroke="#1a8c89" stroke-width="0.95"/>
<circle cx="594.6" cy="234.6" r="2.35" fill="#fff" stroke="#1a8c89" stroke-width="0.95"/>
<circle cx="594.6" cy="241.4" r="2.35" fill="#fff" stroke="#1a8c89" stroke-width="0.95"/>
<circle cx="594.6" cy="248.2" r="2.35" fill="#fff" stroke="#1a8c89" stroke-width="0.95"/>
<circle cx="594.6" cy="253.3" r="2.35" fill="#fff" stroke="#1a8c89" stroke-width="0.95"/>
<circle cx="590.0" cy="255.0" r="2.35" fill="#fff" stroke="#1a8c89" stroke-width="0.95"/>
<circle cx="594.6" cy="258.4" r="2.35" fill="#fff" stroke="#1a8c89" stroke-width="0.95"/>
<circle cx="590.0" cy="261.0" r="2.35" fill="#fff" stroke="#1a8c89" stroke-width="0.95"/>
<circle cx="594.6" cy="265.2" r="2.35" fill="#fff" stroke="#1a8c89" stroke-width="0.95"/>
<circle cx="590.0" cy="267.8" r="2.35" fill="#fff" stroke="#1a8c89" stroke-width="0.95"/>
<circle cx="594.6" cy="278.0" r="2.35" fill="#fff" stroke="#1a8c89" stroke-width="0.95"/>
<circle cx="590.0" cy="278.0" r="2.35" fill="#fff" stroke="#1a8c89" stroke-width="0.95"/>
<line x1="519.60" y1="195.40" x2="519.60" y2="298.05" stroke="#6a6a6a" stroke-width="1.00"/>
<line x1="514.10" y1="297.60" x2="604.50" y2="297.60" stroke="#333" stroke-width="0.90"/>
<line x1="514.10" y1="297.60" x2="519.60" y2="297.60" stroke="#333" stroke-width="0.90"/>
<text x="512.9" y="300.7" font-size="8.50" text-anchor="end" fill="#111" stroke="#111" stroke-width="0.22">0</text>
<line x1="514.10" y1="263.53" x2="519.60" y2="263.53" stroke="#333" stroke-width="0.90"/>
<text x="512.9" y="266.6" font-size="8.50" text-anchor="end" fill="#111" stroke="#111" stroke-width="0.22">4</text>
<line x1="514.10" y1="229.47" x2="519.60" y2="229.47" stroke="#333" stroke-width="0.90"/>
<text x="512.9" y="232.5" font-size="8.50" text-anchor="end" fill="#111" stroke="#111" stroke-width="0.22">8</text>
<line x1="514.10" y1="195.40" x2="519.60" y2="195.40" stroke="#333" stroke-width="0.90"/>
<text x="512.9" y="198.5" font-size="8.50" text-anchor="end" fill="#111" stroke="#111" stroke-width="0.22">12</text>
<line x1="529.20" y1="184.30" x2="594.60" y2="184.30" stroke="#333" stroke-width="0.90"/>
<text x="561.9" y="183.0" font-size="9.40" text-anchor="middle" fill="#111" stroke="#111" stroke-width="0.22">0.99</text>
<line x1="561.10" y1="198.60" x2="593.80" y2="198.60" stroke="#333" stroke-width="0.90"/>
<text x="576.9" y="196.9" font-size="9.40" text-anchor="middle" fill="#111" stroke="#111" stroke-width="0.22">0.99</text>
<text x="568.7" y="171.3" font-size="9.20" text-anchor="middle" fill="#111" stroke="#111" stroke-width="0.22">CXCR3</text>
<rect x="59.60" y="463.06" width="12.00" height="12.64" fill="#3a52a4" stroke="#111" stroke-width="0.90"/>
<rect x="75.60" y="466.10" width="12.00" height="9.60" fill="#ffffff" stroke="#111" stroke-width="0.90"/>
<rect x="91.80" y="464.07" width="12.00" height="11.63" fill="#ff0000" stroke="#111" stroke-width="0.90"/>
<rect x="108.30" y="465.08" width="12.00" height="10.62" fill="#c8c8c8" stroke="#777" stroke-width="0.90"/>
<rect x="124.80" y="429.19" width="12.00" height="46.51" fill="#107c7b" stroke="#111" stroke-width="0.90"/>
<circle cx="65.6" cy="454.0" r="2.35" fill="#fff" stroke="#4b5fc4" stroke-width="0.95"/>
<circle cx="61.6" cy="457.5" r="2.35" fill="#fff" stroke="#4b5fc4" stroke-width="0.95"/>
<circle cx="67.8" cy="459.5" r="2.35" fill="#fff" stroke="#4b5fc4" stroke-width="0.95"/>
<circle cx="63.4" cy="461.5" r="2.35" fill="#fff" stroke="#4b5fc4" stroke-width="0.95"/>
<circle cx="70.2" cy="462.6" r="2.35" fill="#fff" stroke="#4b5fc4" stroke-width="0.95"/>
<circle cx="66.8" cy="463.6" r="2.35" fill="#fff" stroke="#4b5fc4" stroke-width="0.95"/>
<circle cx="61.0" cy="464.6" r="2.35" fill="#fff" stroke="#4b5fc4" stroke-width="0.95"/>
<circle cx="64.4" cy="465.6" r="2.35" fill="#fff" stroke="#4b5fc4" stroke-width="0.95"/>
<circle cx="69.6" cy="466.6" r="2.35" fill="#fff" stroke="#4b5fc4" stroke-width="0.95"/>
<circle cx="61.6" cy="468.1" r="2.35" fill="#fff" stroke="#4b5fc4" stroke-width="0.95"/>
<circle cx="81.6" cy="456.5" r="2.35" fill="#fff" stroke="#222" stroke-width="0.95"/>
<circle cx="77.6" cy="460.5" r="2.35" fill="#fff" stroke="#222" stroke-width="0.95"/>
<circle cx="83.8" cy="461.5" r="2.35" fill="#fff" stroke="#222" stroke-width="0.95"/>
<circle cx="80.4" cy="463.6" r="2.35" fill="#fff" stroke="#222" stroke-width="0.95"/>
<circle cx="86.2" cy="465.6" r="2.35" fill="#fff" stroke="#222" stroke-width="0.95"/>
<circle cx="77.0" cy="466.1" r="2.35" fill="#fff" stroke="#222" stroke-width="0.95"/>
<circle cx="82.8" cy="466.6" r="2.35" fill="#fff" stroke="#222" stroke-width="0.95"/>
<circle cx="79.4" cy="467.6" r="2.35" fill="#fff" stroke="#222" stroke-width="0.95"/>
<circle cx="85.6" cy="468.6" r="2.35" fill="#fff" stroke="#222" stroke-width="0.95"/>
<circle cx="77.0" cy="469.6" r="2.35" fill="#fff" stroke="#222" stroke-width="0.95"/>
<circle cx="97.8" cy="454.0" r="2.35" fill="#fff" stroke="#ee2a2f" stroke-width="0.95"/>
<circle cx="93.2" cy="456.5" r="2.35" fill="#fff" stroke="#ee2a2f" stroke-width="0.95"/>
<circle cx="100.0" cy="458.5" r="2.35" fill="#fff" stroke="#ee2a2f" stroke-width="0.95"/>
<circle cx="95.6" cy="460.5" r="2.35" fill="#fff" stroke="#ee2a2f" stroke-width="0.95"/>
<circle cx="102.4" cy="462.6" r="2.35" fill="#fff" stroke="#ee2a2f" stroke-width="0.95"/>
<circle cx="93.2" cy="463.6" r="2.35" fill="#fff" stroke="#ee2a2f" stroke-width="0.95"/>
<circle cx="97.8" cy="465.6" r="2.35" fill="#fff" stroke="#ee2a2f" stroke-width="0.95"/>
<circle cx="101.8" cy="466.6" r="2.35" fill="#fff" stroke="#ee2a2f" stroke-width="0.95"/>
<circle cx="93.8" cy="468.6" r="2.35" fill="#fff" stroke="#ee2a2f" stroke-width="0.95"/>
<circle cx="97.8" cy="471.7" r="2.35" fill="#fff" stroke="#ee2a2f" stroke-width="0.95"/>
<circle cx="114.3" cy="449.9" r="2.35" fill="#fff" stroke="#c9c9c9" stroke-width="0.95"/>
<circle cx="109.7" cy="451.4" r="2.35" fill="#fff" stroke="#c9c9c9" stroke-width="0.95"/>
<circle cx="116.5" cy="454.5" r="2.35" fill="#fff" stroke="#c9c9c9" stroke-width="0.95"/>
<circle cx="112.1" cy="457.0" r="2.35" fill="#fff" stroke="#c9c9c9" stroke-width="0.95"/>
<circle cx="116.5" cy="459.5" r="2.35" fill="#fff" stroke="#c9c9c9" stroke-width="0.95"/>
<circle cx="110.3" cy="461.5" r="2.35" fill="#fff" stroke="#c9c9c9" stroke-width="0.95"/>
<circle cx="118.9" cy="463.6" r="2.35" fill="#fff" stroke="#c9c9c9" stroke-width="0.95"/>
<circle cx="114.3" cy="465.6" r="2.35" fill="#fff" stroke="#c9c9c9" stroke-width="0.95"/>
<circle cx="109.7" cy="467.6" r="2.35" fill="#fff" stroke="#c9c9c9" stroke-width="0.95"/>
<circle cx="114.3" cy="470.6" r="2.35" fill="#fff" stroke="#c9c9c9" stroke-width="0.95"/>
<circle cx="130.8" cy="382.7" r="2.35" fill="#fff" stroke="#1a8c89" stroke-width="0.95"/>
<circle cx="130.8" cy="407.0" r="2.35" fill="#fff" stroke="#1a8c89" stroke-width="0.95"/>
<circle cx="126.2" cy="409.0" r="2.35" fill="#fff" stroke="#1a8c89" stroke-width="0.95"/>
<circle cx="130.8" cy="415.0" r="2.35" fill="#fff" stroke="#1a8c89" stroke-width="0.95"/>
<circle cx="130.8" cy="427.2" r="2.35" fill="#fff" stroke="#1a8c89" stroke-width="0.95"/>
<circle cx="126.2" cy="429.2" r="2.35" fill="#fff" stroke="#1a8c89" stroke-width="0.95"/>
<circle cx="130.8" cy="435.3" r="2.35" fill="#fff" stroke="#1a8c89" stroke-width="0.95"/>
<circle cx="130.8" cy="441.3" r="2.35" fill="#fff" stroke="#1a8c89" stroke-width="0.95"/>
<circle cx="130.8" cy="449.4" r="2.35" fill="#fff" stroke="#1a8c89" stroke-width="0.95"/>
<circle cx="130.8" cy="456.5" r="2.35" fill="#fff" stroke="#1a8c89" stroke-width="0.95"/>
<circle cx="126.2" cy="457.5" r="2.35" fill="#fff" stroke="#1a8c89" stroke-width="0.95"/>
<line x1="55.20" y1="374.60" x2="55.20" y2="476.15" stroke="#6a6a6a" stroke-width="1.00"/>
<line x1="49.00" y1="475.70" x2="140.50" y2="475.70" stroke="#333" stroke-width="0.90"/>
<line x1="49.00" y1="475.70" x2="55.20" y2="475.70" stroke="#333" stroke-width="0.90"/>
<text x="46.7" y="479.0" font-size="9.30" text-anchor="end" fill="#111" stroke="#111" stroke-width="0.22">0</text>
<line x1="49.00" y1="455.48" x2="55.20" y2="455.48" stroke="#333" stroke-width="0.90"/>
<text x="46.7" y="458.8" font-size="9.30" text-anchor="end" fill="#111" stroke="#111" stroke-width="0.22">200</text>
<line x1="49.00" y1="435.26" x2="55.20" y2="435.26" stroke="#333" stroke-width="0.90"/>
<text x="46.7" y="438.6" font-size="9.30" text-anchor="end" fill="#111" stroke="#111" stroke-width="0.22">400</text>
<line x1="49.00" y1="415.04" x2="55.20" y2="415.04" stroke="#333" stroke-width="0.90"/>
<text x="46.7" y="418.4" font-size="9.30" text-anchor="end" fill="#111" stroke="#111" stroke-width="0.22">600</text>
<line x1="49.00" y1="394.82" x2="55.20" y2="394.82" stroke="#333" stroke-width="0.90"/>
<text x="46.7" y="398.2" font-size="9.30" text-anchor="end" fill="#111" stroke="#111" stroke-width="0.22">800</text>
<line x1="49.00" y1="374.60" x2="55.20" y2="374.60" stroke="#333" stroke-width="0.90"/>
<text x="46.7" y="377.9" font-size="9.30" text-anchor="end" fill="#111" stroke="#111" stroke-width="0.22">1000</text>
<line x1="64.50" y1="361.20" x2="130.20" y2="361.20" stroke="#333" stroke-width="0.90"/>
<text x="99.0" y="360.2" font-size="9.40" text-anchor="middle" fill="#111" stroke="#111" stroke-width="0.22">0.003</text>
<line x1="96.80" y1="373.40" x2="129.10" y2="373.40" stroke="#333" stroke-width="0.90"/>
<text x="113.5" y="372.8" font-size="9.40" text-anchor="middle" fill="#111" stroke="#111" stroke-width="0.22">0.0004</text>
<text x="94.0" y="338.5" font-size="9.20" text-anchor="middle" fill="#111" stroke="#111" stroke-width="0.22">Activated CD4<tspan dy="-3.50" font-size="5.70">+</tspan><tspan dy="3.50"> T cells</tspan></text>
<rect x="177.80" y="462.76" width="12.10" height="12.84" fill="#3a52a4" stroke="#111" stroke-width="0.90"/>
<rect x="194.00" y="465.46" width="12.10" height="10.14" fill="#ffffff" stroke="#111" stroke-width="0.90"/>
<rect x="210.20" y="464.11" width="12.10" height="11.49" fill="#ff0000" stroke="#111" stroke-width="0.90"/>
<rect x="226.60" y="462.42" width="12.10" height="13.18" fill="#c8c8c8" stroke="#777" stroke-width="0.90"/>
<rect x="243.00" y="434.36" width="12.10" height="41.24" fill="#107c7b" stroke="#111" stroke-width="0.90"/>
<circle cx="183.8" cy="451.3" r="2.35" fill="#fff" stroke="#4b5fc4" stroke-width="0.95"/>
<circle cx="183.8" cy="457.0" r="2.35" fill="#fff" stroke="#4b5fc4" stroke-width="0.95"/>
<circle cx="179.2" cy="458.7" r="2.35" fill="#fff" stroke="#4b5fc4" stroke-width="0.95"/>
<circle cx="183.8" cy="462.1" r="2.35" fill="#fff" stroke="#4b5fc4" stroke-width="0.95"/>
<circle cx="179.2" cy="463.8" r="2.35" fill="#fff" stroke="#4b5fc4" stroke-width="0.95"/>
<circle cx="187.8" cy="465.5" r="2.35" fill="#fff" stroke="#4b5fc4" stroke-width="0.95"/>
<circle cx="182.7" cy="467.2" r="2.35" fill="#fff" stroke="#4b5fc4" stroke-width="0.95"/>
<circle cx="179.2" cy="468.8" r="2.35" fill="#fff" stroke="#4b5fc4" stroke-width="0.95"/>
<circle cx="187.8" cy="470.5" r="2.35" fill="#fff" stroke="#4b5fc4" stroke-width="0.95"/>
<circle cx="182.7" cy="472.2" r="2.35" fill="#fff" stroke="#4b5fc4" stroke-width="0.95"/>
<circle cx="200.0" cy="457.0" r="2.35" fill="#fff" stroke="#222" stroke-width="0.95"/>
<circle cx="195.4" cy="458.7" r="2.35" fill="#fff" stroke="#222" stroke-width="0.95"/>
<circle cx="204.0" cy="460.4" r="2.35" fill="#fff" stroke="#222" stroke-width="0.95"/>
<circle cx="200.0" cy="463.8" r="2.35" fill="#fff" stroke="#222" stroke-width="0.95"/>
<circle cx="195.4" cy="465.5" r="2.35" fill="#fff" stroke="#222" stroke-width="0.95"/>
<circle cx="204.6" cy="466.1" r="2.35" fill="#fff" stroke="#222" stroke-width="0.95"/>
<circle cx="198.8" cy="467.2" r="2.35" fill="#fff" stroke="#222" stroke-width="0.95"/>
<circle cx="202.2" cy="468.8" r="2.35" fill="#fff" stroke="#222" stroke-width="0.95"/>
<circle cx="195.4" cy="470.5" r="2.35" fill="#fff" stroke="#222" stroke-width="0.95"/>
<circle cx="204.6" cy="472.2" r="2.35" fill="#fff" stroke="#222" stroke-width="0.95"/>
<circle cx="216.2" cy="445.2" r="2.35" fill="#fff" stroke="#ee2a2f" stroke-width="0.95"/>
<circle cx="216.2" cy="455.3" r="2.35" fill="#fff" stroke="#ee2a2f" stroke-width="0.95"/>
<circle cx="211.7" cy="457.0" r="2.35" fill="#fff" stroke="#ee2a2f" stroke-width="0.95"/>
<circle cx="216.2" cy="460.4" r="2.35" fill="#fff" stroke="#ee2a2f" stroke-width="0.95"/>
<circle cx="211.7" cy="462.1" r="2.35" fill="#fff" stroke="#ee2a2f" stroke-width="0.95"/>
<circle cx="220.2" cy="463.8" r="2.35" fill="#fff" stroke="#ee2a2f" stroke-width="0.95"/>
<circle cx="215.1" cy="465.5" r="2.35" fill="#fff" stroke="#ee2a2f" stroke-width="0.95"/>
<circle cx="211.7" cy="467.2" r="2.35" fill="#fff" stroke="#ee2a2f" stroke-width="0.95"/>
<circle cx="220.2" cy="468.8" r="2.35" fill="#fff" stroke="#ee2a2f" stroke-width="0.95"/>
<circle cx="216.2" cy="472.2" r="2.35" fill="#fff" stroke="#ee2a2f" stroke-width="0.95"/>
<circle cx="211.7" cy="473.9" r="2.35" fill="#fff" stroke="#ee2a2f" stroke-width="0.95"/>
<circle cx="232.6" cy="450.2" r="2.35" fill="#fff" stroke="#c9c9c9" stroke-width="0.95"/>
<circle cx="228.0" cy="451.9" r="2.35" fill="#fff" stroke="#c9c9c9" stroke-width="0.95"/>
<circle cx="232.6" cy="455.3" r="2.35" fill="#fff" stroke="#c9c9c9" stroke-width="0.95"/>
<circle cx="228.6" cy="458.7" r="2.35" fill="#fff" stroke="#c9c9c9" stroke-width="0.95"/>
<circle cx="234.8" cy="460.4" r="2.35" fill="#fff" stroke="#c9c9c9" stroke-width="0.95"/>
<circle cx="230.4" cy="462.1" r="2.35" fill="#fff" stroke="#c9c9c9" stroke-width="0.95"/>
<circle cx="234.8" cy="465.5" r="2.35" fill="#fff" stroke="#c9c9c9" stroke-width="0.95"/>
<circle cx="228.6" cy="467.2" r="2.35" fill="#fff" stroke="#c9c9c9" stroke-width="0.95"/>
<circle cx="237.2" cy="468.8" r="2.35" fill="#fff" stroke="#c9c9c9" stroke-width="0.95"/>
<circle cx="232.6" cy="472.2" r="2.35" fill="#fff" stroke="#c9c9c9" stroke-width="0.95"/>
<circle cx="249.0" cy="389.4" r="2.35" fill="#fff" stroke="#1a8c89" stroke-width="0.95"/>
<circle cx="249.0" cy="394.5" r="2.35" fill="#fff" stroke="#1a8c89" stroke-width="0.95"/>
<circle cx="249.0" cy="408.0" r="2.35" fill="#fff" stroke="#1a8c89" stroke-width="0.95"/>
<circle cx="244.4" cy="408.7" r="2.35" fill="#fff" stroke="#1a8c89" stroke-width="0.95"/>
<circle cx="249.0" cy="427.3" r="2.35" fill="#fff" stroke="#1a8c89" stroke-width="0.95"/>
<circle cx="244.4" cy="428.3" r="2.35" fill="#fff" stroke="#1a8c89" stroke-width="0.95"/>
<circle cx="249.0" cy="441.8" r="2.35" fill="#fff" stroke="#1a8c89" stroke-width="0.95"/>
<circle cx="244.4" cy="442.5" r="2.35" fill="#fff" stroke="#1a8c89" stroke-width="0.95"/>
<circle cx="249.0" cy="451.9" r="2.35" fill="#fff" stroke="#1a8c89" stroke-width="0.95"/>
<circle cx="245.0" cy="455.3" r="2.35" fill="#fff" stroke="#1a8c89" stroke-width="0.95"/>
<circle cx="251.2" cy="457.0" r="2.35" fill="#fff" stroke="#1a8c89" stroke-width="0.95"/>
<line x1="174.30" y1="374.20" x2="174.30" y2="476.05" stroke="#6a6a6a" stroke-width="1.00"/>
<line x1="168.30" y1="475.60" x2="258.80" y2="475.60" stroke="#333" stroke-width="0.90"/>
<line x1="168.30" y1="475.60" x2="174.30" y2="475.60" stroke="#333" stroke-width="0.90"/>
<text x="166.0" y="478.9" font-size="9.30" text-anchor="end" fill="#111" stroke="#111" stroke-width="0.22">0</text>
<line x1="168.30" y1="441.80" x2="174.30" y2="441.80" stroke="#333" stroke-width="0.90"/>
<text x="166.0" y="445.1" font-size="9.30" text-anchor="end" fill="#111" stroke="#111" stroke-width="0.22">100</text>
<line x1="168.30" y1="408.00" x2="174.30" y2="408.00" stroke="#333" stroke-width="0.90"/>
<text x="166.0" y="411.3" font-size="9.30" text-anchor="end" fill="#111" stroke="#111" stroke-width="0.22">200</text>
<line x1="168.30" y1="374.20" x2="174.30" y2="374.20" stroke="#333" stroke-width="0.90"/>
<text x="166.0" y="377.5" font-size="9.30" text-anchor="end" fill="#111" stroke="#111" stroke-width="0.22">300</text>
<line x1="182.00" y1="368.30" x2="247.60" y2="368.30" stroke="#333" stroke-width="0.90"/>
<text x="216.1" y="367.1" font-size="9.40" text-anchor="middle" fill="#111" stroke="#111" stroke-width="0.22">0.99</text>
<line x1="217.40" y1="383.00" x2="249.70" y2="383.00" stroke="#333" stroke-width="0.90"/>
<text x="232.5" y="381.8" font-size="9.40" text-anchor="middle" fill="#111" stroke="#111" stroke-width="0.22">0.13</text>
<text x="216.7" y="337.0" font-size="9.20" text-anchor="middle" fill="#111" stroke="#111" stroke-width="0.22">CD69</text>
<rect x="294.00" y="454.50" width="12.20" height="20.00" fill="#3a52a4" stroke="#111" stroke-width="0.90"/>
<rect x="310.20" y="460.29" width="12.20" height="14.21" fill="#ffffff" stroke="#111" stroke-width="0.90"/>
<rect x="326.20" y="460.80" width="12.20" height="13.70" fill="#ff0000" stroke="#111" stroke-width="0.90"/>
<rect x="342.40" y="455.52" width="12.20" height="18.98" fill="#c8c8c8" stroke="#777" stroke-width="0.90"/>
<rect x="358.80" y="443.64" width="12.20" height="30.86" fill="#107c7b" stroke="#111" stroke-width="0.90"/>
<circle cx="300.1" cy="421.7" r="2.35" fill="#fff" stroke="#4b5fc4" stroke-width="0.95"/>
<circle cx="300.1" cy="445.1" r="2.35" fill="#fff" stroke="#4b5fc4" stroke-width="0.95"/>
<circle cx="295.5" cy="446.1" r="2.35" fill="#fff" stroke="#4b5fc4" stroke-width="0.95"/>
<circle cx="304.7" cy="447.1" r="2.35" fill="#fff" stroke="#4b5fc4" stroke-width="0.95"/>
<circle cx="300.1" cy="452.2" r="2.35" fill="#fff" stroke="#4b5fc4" stroke-width="0.95"/>
<circle cx="295.5" cy="454.2" r="2.35" fill="#fff" stroke="#4b5fc4" stroke-width="0.95"/>
<circle cx="304.1" cy="456.2" r="2.35" fill="#fff" stroke="#4b5fc4" stroke-width="0.95"/>
<circle cx="300.1" cy="459.3" r="2.35" fill="#fff" stroke="#4b5fc4" stroke-width="0.95"/>
<circle cx="296.1" cy="462.3" r="2.35" fill="#fff" stroke="#4b5fc4" stroke-width="0.95"/>
<circle cx="302.3" cy="464.4" r="2.35" fill="#fff" stroke="#4b5fc4" stroke-width="0.95"/>
<circle cx="316.3" cy="440.0" r="2.35" fill="#fff" stroke="#222" stroke-width="0.95"/>
<circle cx="316.3" cy="450.1" r="2.35" fill="#fff" stroke="#222" stroke-width="0.95"/>
<circle cx="311.7" cy="452.2" r="2.35" fill="#fff" stroke="#222" stroke-width="0.95"/>
<circle cx="320.3" cy="454.2" r="2.35" fill="#fff" stroke="#222" stroke-width="0.95"/>
<circle cx="315.1" cy="456.2" r="2.35" fill="#fff" stroke="#222" stroke-width="0.95"/>
<circle cx="320.3" cy="459.3" r="2.35" fill="#fff" stroke="#222" stroke-width="0.95"/>
<circle cx="316.3" cy="462.3" r="2.35" fill="#fff" stroke="#222" stroke-width="0.95"/>
<circle cx="311.7" cy="464.4" r="2.35" fill="#fff" stroke="#222" stroke-width="0.95"/>
<circle cx="320.3" cy="466.4" r="2.35" fill="#fff" stroke="#222" stroke-width="0.95"/>
<circle cx="316.3" cy="469.4" r="2.35" fill="#fff" stroke="#222" stroke-width="0.95"/>
<circle cx="332.3" cy="439.0" r="2.35" fill="#fff" stroke="#ee2a2f" stroke-width="0.95"/>
<circle cx="332.3" cy="447.1" r="2.35" fill="#fff" stroke="#ee2a2f" stroke-width="0.95"/>
<circle cx="332.3" cy="452.2" r="2.35" fill="#fff" stroke="#ee2a2f" stroke-width="0.95"/>
<circle cx="327.7" cy="454.2" r="2.35" fill="#fff" stroke="#ee2a2f" stroke-width="0.95"/>
<circle cx="336.3" cy="456.2" r="2.35" fill="#fff" stroke="#ee2a2f" stroke-width="0.95"/>
<circle cx="331.1" cy="458.3" r="2.35" fill="#fff" stroke="#ee2a2f" stroke-width="0.95"/>
<circle cx="335.5" cy="460.3" r="2.35" fill="#fff" stroke="#ee2a2f" stroke-width="0.95"/>
<circle cx="328.3" cy="462.3" r="2.35" fill="#fff" stroke="#ee2a2f" stroke-width="0.95"/>
<circle cx="333.5" cy="464.4" r="2.35" fill="#fff" stroke="#ee2a2f" stroke-width="0.95"/>
<circle cx="332.3" cy="469.4" r="2.35" fill="#fff" stroke="#ee2a2f" stroke-width="0.95"/>
<circle cx="348.5" cy="440.0" r="2.35" fill="#fff" stroke="#c9c9c9" stroke-width="0.95"/>
<circle cx="348.5" cy="446.1" r="2.35" fill="#fff" stroke="#c9c9c9" stroke-width="0.95"/>
<circle cx="343.9" cy="447.1" r="2.35" fill="#fff" stroke="#c9c9c9" stroke-width="0.95"/>
<circle cx="352.5" cy="450.1" r="2.35" fill="#fff" stroke="#c9c9c9" stroke-width="0.95"/>
<circle cx="348.5" cy="454.2" r="2.35" fill="#fff" stroke="#c9c9c9" stroke-width="0.95"/>
<circle cx="343.9" cy="456.2" r="2.35" fill="#fff" stroke="#c9c9c9" stroke-width="0.95"/>
<circle cx="352.5" cy="458.3" r="2.35" fill="#fff" stroke="#c9c9c9" stroke-width="0.95"/>
<circle cx="347.3" cy="460.3" r="2.35" fill="#fff" stroke="#c9c9c9" stroke-width="0.95"/>
<circle cx="351.7" cy="462.3" r="2.35" fill="#fff" stroke="#c9c9c9" stroke-width="0.95"/>
<circle cx="344.5" cy="464.4" r="2.35" fill="#fff" stroke="#c9c9c9" stroke-width="0.95"/>
<circle cx="364.9" cy="390.3" r="2.35" fill="#fff" stroke="#1a8c89" stroke-width="0.95"/>
<circle cx="364.9" cy="410.6" r="2.35" fill="#fff" stroke="#1a8c89" stroke-width="0.95"/>
<circle cx="364.9" cy="416.6" r="2.35" fill="#fff" stroke="#1a8c89" stroke-width="0.95"/>
<circle cx="360.3" cy="417.7" r="2.35" fill="#fff" stroke="#1a8c89" stroke-width="0.95"/>
<circle cx="364.9" cy="430.9" r="2.35" fill="#fff" stroke="#1a8c89" stroke-width="0.95"/>
<circle cx="360.3" cy="432.9" r="2.35" fill="#fff" stroke="#1a8c89" stroke-width="0.95"/>
<circle cx="364.9" cy="455.2" r="2.35" fill="#fff" stroke="#1a8c89" stroke-width="0.95"/>
<circle cx="360.9" cy="458.3" r="2.35" fill="#fff" stroke="#1a8c89" stroke-width="0.95"/>
<circle cx="368.9" cy="459.3" r="2.35" fill="#fff" stroke="#1a8c89" stroke-width="0.95"/>
<circle cx="364.9" cy="461.3" r="2.35" fill="#fff" stroke="#1a8c89" stroke-width="0.95"/>
<circle cx="360.3" cy="462.3" r="2.35" fill="#fff" stroke="#1a8c89" stroke-width="0.95"/>
<line x1="290.50" y1="373.00" x2="290.50" y2="474.95" stroke="#6a6a6a" stroke-width="1.00"/>
<line x1="284.80" y1="474.50" x2="375.20" y2="474.50" stroke="#333" stroke-width="0.90"/>
<line x1="284.80" y1="474.50" x2="290.50" y2="474.50" stroke="#333" stroke-width="0.90"/>
<text x="282.5" y="477.8" font-size="9.30" text-anchor="end" fill="#111" stroke="#111" stroke-width="0.22">0</text>
<line x1="284.80" y1="454.20" x2="290.50" y2="454.20" stroke="#333" stroke-width="0.90"/>
<text x="282.5" y="457.5" font-size="9.30" text-anchor="end" fill="#111" stroke="#111" stroke-width="0.22">20</text>
<line x1="284.80" y1="433.90" x2="290.50" y2="433.90" stroke="#333" stroke-width="0.90"/>
<text x="282.5" y="437.2" font-size="9.30" text-anchor="end" fill="#111" stroke="#111" stroke-width="0.22">40</text>
<line x1="284.80" y1="413.60" x2="290.50" y2="413.60" stroke="#333" stroke-width="0.90"/>
<text x="282.5" y="416.9" font-size="9.30" text-anchor="end" fill="#111" stroke="#111" stroke-width="0.22">60</text>
<line x1="284.80" y1="393.30" x2="290.50" y2="393.30" stroke="#333" stroke-width="0.90"/>
<text x="282.5" y="396.6" font-size="9.30" text-anchor="end" fill="#111" stroke="#111" stroke-width="0.22">80</text>
<line x1="284.80" y1="373.00" x2="290.50" y2="373.00" stroke="#333" stroke-width="0.90"/>
<text x="282.5" y="376.3" font-size="9.30" text-anchor="end" fill="#111" stroke="#111" stroke-width="0.22">100</text>
<line x1="299.30" y1="363.70" x2="364.50" y2="363.70" stroke="#333" stroke-width="0.90"/>
<text x="330.4" y="361.9" font-size="9.40" text-anchor="middle" fill="#111" stroke="#111" stroke-width="0.22">0.0009</text>
<line x1="332.50" y1="376.30" x2="364.70" y2="376.30" stroke="#333" stroke-width="0.90"/>
<text x="348.7" y="374.9" font-size="9.40" text-anchor="middle" fill="#111" stroke="#111" stroke-width="0.22">0.0004</text>
<text x="329.8" y="337.0" font-size="9.20" text-anchor="middle" fill="#111" stroke="#111" stroke-width="0.22">ICOS</text>
<rect x="406.70" y="468.10" width="12.30" height="5.80" fill="#3a52a4" stroke="#111" stroke-width="0.90"/>
<rect x="422.90" y="468.78" width="12.30" height="5.12" fill="#ffffff" stroke="#111" stroke-width="0.90"/>
<rect x="439.30" y="466.05" width="12.30" height="7.85" fill="#ff0000" stroke="#111" stroke-width="0.90"/>
<rect x="455.40" y="463.66" width="12.30" height="10.24" fill="#c8c8c8" stroke="#777" stroke-width="0.90"/>
<rect x="471.80" y="436.35" width="12.30" height="37.55" fill="#107c7b" stroke="#111" stroke-width="0.90"/>
<circle cx="412.9" cy="460.9" r="2.35" fill="#fff" stroke="#4b5fc4" stroke-width="0.95"/>
<circle cx="408.2" cy="462.0" r="2.35" fill="#fff" stroke="#4b5fc4" stroke-width="0.95"/>
<circle cx="417.5" cy="463.7" r="2.35" fill="#fff" stroke="#4b5fc4" stroke-width="0.95"/>
<circle cx="411.7" cy="465.4" r="2.35" fill="#fff" stroke="#4b5fc4" stroke-width="0.95"/>
<circle cx="408.2" cy="467.1" r="2.35" fill="#fff" stroke="#4b5fc4" stroke-width="0.95"/>
<circle cx="416.9" cy="468.8" r="2.35" fill="#fff" stroke="#4b5fc4" stroke-width="0.95"/>
<circle cx="411.7" cy="470.5" r="2.35" fill="#fff" stroke="#4b5fc4" stroke-width="0.95"/>
<circle cx="408.2" cy="471.2" r="2.35" fill="#fff" stroke="#4b5fc4" stroke-width="0.95"/>
<circle cx="415.1" cy="472.2" r="2.35" fill="#fff" stroke="#4b5fc4" stroke-width="0.95"/>
<circle cx="410.7" cy="472.9" r="2.35" fill="#fff" stroke="#4b5fc4" stroke-width="0.95"/>
<circle cx="429.1" cy="456.8" r="2.35" fill="#fff" stroke="#222" stroke-width="0.95"/>
<circle cx="429.1" cy="462.0" r="2.35" fill="#fff" stroke="#222" stroke-width="0.95"/>
<circle cx="424.4" cy="463.7" r="2.35" fill="#fff" stroke="#222" stroke-width="0.95"/>
<circle cx="433.1" cy="465.4" r="2.35" fill="#fff" stroke="#222" stroke-width="0.95"/>
<circle cx="427.9" cy="467.1" r="2.35" fill="#fff" stroke="#222" stroke-width="0.95"/>
<circle cx="424.4" cy="468.8" r="2.35" fill="#fff" stroke="#222" stroke-width="0.95"/>
<circle cx="433.1" cy="470.5" r="2.35" fill="#fff" stroke="#222" stroke-width="0.95"/>
<circle cx="427.9" cy="471.5" r="2.35" fill="#fff" stroke="#222" stroke-width="0.95"/>
<circle cx="424.4" cy="472.2" r="2.35" fill="#fff" stroke="#222" stroke-width="0.95"/>
<circle cx="445.4" cy="449.0" r="2.35" fill="#fff" stroke="#ee2a2f" stroke-width="0.95"/>
<circle cx="440.8" cy="451.7" r="2.35" fill="#fff" stroke="#ee2a2f" stroke-width="0.95"/>
<circle cx="445.4" cy="455.1" r="2.35" fill="#fff" stroke="#ee2a2f" stroke-width="0.95"/>
<circle cx="441.4" cy="458.5" r="2.35" fill="#fff" stroke="#ee2a2f" stroke-width="0.95"/>
<circle cx="445.4" cy="462.0" r="2.35" fill="#fff" stroke="#ee2a2f" stroke-width="0.95"/>
<circle cx="441.4" cy="465.4" r="2.35" fill="#fff" stroke="#ee2a2f" stroke-width="0.95"/>
<circle cx="447.6" cy="467.1" r="2.35" fill="#fff" stroke="#ee2a2f" stroke-width="0.95"/>
<circle cx="443.2" cy="468.8" r="2.35" fill="#fff" stroke="#ee2a2f" stroke-width="0.95"/>
<circle cx="450.1" cy="470.5" r="2.35" fill="#fff" stroke="#ee2a2f" stroke-width="0.95"/>
<circle cx="440.8" cy="472.2" r="2.35" fill="#fff" stroke="#ee2a2f" stroke-width="0.95"/>
<circle cx="445.4" cy="473.2" r="2.35" fill="#fff" stroke="#ee2a2f" stroke-width="0.95"/>
<circle cx="461.6" cy="429.5" r="2.35" fill="#fff" stroke="#c9c9c9" stroke-width="0.95"/>
<circle cx="461.6" cy="444.9" r="2.35" fill="#fff" stroke="#c9c9c9" stroke-width="0.95"/>
<circle cx="456.9" cy="446.6" r="2.35" fill="#fff" stroke="#c9c9c9" stroke-width="0.95"/>
<circle cx="465.6" cy="448.3" r="2.35" fill="#fff" stroke="#c9c9c9" stroke-width="0.95"/>
<circle cx="461.6" cy="458.5" r="2.35" fill="#fff" stroke="#c9c9c9" stroke-width="0.95"/>
<circle cx="457.6" cy="462.0" r="2.35" fill="#fff" stroke="#c9c9c9" stroke-width="0.95"/>
<circle cx="463.8" cy="463.7" r="2.35" fill="#fff" stroke="#c9c9c9" stroke-width="0.95"/>
<circle cx="459.4" cy="465.4" r="2.35" fill="#fff" stroke="#c9c9c9" stroke-width="0.95"/>
<circle cx="463.8" cy="468.8" r="2.35" fill="#fff" stroke="#c9c9c9" stroke-width="0.95"/>
<circle cx="457.6" cy="470.5" r="2.35" fill="#fff" stroke="#c9c9c9" stroke-width="0.95"/>
<circle cx="477.9" cy="381.7" r="2.35" fill="#fff" stroke="#1a8c89" stroke-width="0.95"/>
<circle cx="473.3" cy="383.4" r="2.35" fill="#fff" stroke="#1a8c89" stroke-width="0.95"/>
<circle cx="481.9" cy="385.2" r="2.35" fill="#fff" stroke="#1a8c89" stroke-width="0.95"/>
<circle cx="476.8" cy="386.9" r="2.35" fill="#fff" stroke="#1a8c89" stroke-width="0.95"/>
<circle cx="477.9" cy="393.7" r="2.35" fill="#fff" stroke="#1a8c89" stroke-width="0.95"/>
<circle cx="477.9" cy="402.2" r="2.35" fill="#fff" stroke="#1a8c89" stroke-width="0.95"/>
<circle cx="477.9" cy="412.5" r="2.35" fill="#fff" stroke="#1a8c89" stroke-width="0.95"/>
<circle cx="477.9" cy="461.3" r="2.35" fill="#fff" stroke="#1a8c89" stroke-width="0.95"/>
<circle cx="473.3" cy="462.6" r="2.35" fill="#fff" stroke="#1a8c89" stroke-width="0.95"/>
<circle cx="482.6" cy="463.7" r="2.35" fill="#fff" stroke="#1a8c89" stroke-width="0.95"/>
<circle cx="476.8" cy="464.7" r="2.35" fill="#fff" stroke="#1a8c89" stroke-width="0.95"/>
<circle cx="480.1" cy="465.4" r="2.35" fill="#fff" stroke="#1a8c89" stroke-width="0.95"/>
<line x1="402.70" y1="371.50" x2="402.70" y2="474.35" stroke="#6a6a6a" stroke-width="1.00"/>
<line x1="396.80" y1="473.90" x2="488.30" y2="473.90" stroke="#333" stroke-width="0.90"/>
<line x1="396.80" y1="473.90" x2="402.70" y2="473.90" stroke="#333" stroke-width="0.90"/>
<text x="394.5" y="477.2" font-size="9.30" text-anchor="end" fill="#111" stroke="#111" stroke-width="0.22">0</text>
<line x1="396.80" y1="439.77" x2="402.70" y2="439.77" stroke="#333" stroke-width="0.90"/>
<text x="394.5" y="443.1" font-size="9.30" text-anchor="end" fill="#111" stroke="#111" stroke-width="0.22">10</text>
<line x1="396.80" y1="405.63" x2="402.70" y2="405.63" stroke="#333" stroke-width="0.90"/>
<text x="394.5" y="409.0" font-size="9.30" text-anchor="end" fill="#111" stroke="#111" stroke-width="0.22">20</text>
<line x1="396.80" y1="371.50" x2="402.70" y2="371.50" stroke="#333" stroke-width="0.90"/>
<text x="394.5" y="374.8" font-size="9.30" text-anchor="end" fill="#111" stroke="#111" stroke-width="0.22">30</text>
<line x1="414.00" y1="361.00" x2="478.80" y2="361.00" stroke="#333" stroke-width="0.90"/>
<text x="445.6" y="359.6" font-size="9.40" text-anchor="middle" fill="#111" stroke="#111" stroke-width="0.22">0.002</text>
<line x1="445.60" y1="373.20" x2="478.20" y2="373.20" stroke="#333" stroke-width="0.90"/>
<text x="460.9" y="371.8" font-size="9.40" text-anchor="middle" fill="#111" stroke="#111" stroke-width="0.22">0.04</text>
<text x="453.2" y="337.0" font-size="9.20" text-anchor="middle" fill="#111" stroke="#111" stroke-width="0.22">KLRG1</text>
<rect x="520.80" y="463.26" width="12.30" height="10.64" fill="#3a52a4" stroke="#111" stroke-width="0.90"/>
<rect x="537.20" y="464.95" width="12.30" height="8.95" fill="#ffffff" stroke="#111" stroke-width="0.90"/>
<rect x="553.60" y="464.95" width="12.30" height="8.95" fill="#ff0000" stroke="#111" stroke-width="0.90"/>
<rect x="569.80" y="464.61" width="12.30" height="9.29" fill="#c8c8c8" stroke="#777" stroke-width="0.90"/>
<rect x="586.20" y="442.16" width="12.30" height="31.74" fill="#107c7b" stroke="#111" stroke-width="0.90"/>
<circle cx="526.9" cy="438.4" r="2.35" fill="#fff" stroke="#4b5fc4" stroke-width="0.95"/>
<circle cx="526.9" cy="452.8" r="2.35" fill="#fff" stroke="#4b5fc4" stroke-width="0.95"/>
<circle cx="522.3" cy="455.3" r="2.35" fill="#fff" stroke="#4b5fc4" stroke-width="0.95"/>
<circle cx="530.9" cy="457.0" r="2.35" fill="#fff" stroke="#4b5fc4" stroke-width="0.95"/>
<circle cx="526.9" cy="460.4" r="2.35" fill="#fff" stroke="#4b5fc4" stroke-width="0.95"/>
<circle cx="522.9" cy="463.8" r="2.35" fill="#fff" stroke="#4b5fc4" stroke-width="0.95"/>
<circle cx="529.1" cy="465.5" r="2.35" fill="#fff" stroke="#4b5fc4" stroke-width="0.95"/>
<circle cx="524.7" cy="467.1" r="2.35" fill="#fff" stroke="#4b5fc4" stroke-width="0.95"/>
<circle cx="531.5" cy="468.8" r="2.35" fill="#fff" stroke="#4b5fc4" stroke-width="0.95"/>
<circle cx="522.3" cy="470.5" r="2.35" fill="#fff" stroke="#4b5fc4" stroke-width="0.95"/>
<circle cx="543.3" cy="450.3" r="2.35" fill="#fff" stroke="#222" stroke-width="0.95"/>
<circle cx="543.3" cy="457.0" r="2.35" fill="#fff" stroke="#222" stroke-width="0.95"/>
<circle cx="538.7" cy="458.7" r="2.35" fill="#fff" stroke="#222" stroke-width="0.95"/>
<circle cx="543.3" cy="462.1" r="2.35" fill="#fff" stroke="#222" stroke-width="0.95"/>
<circle cx="539.3" cy="465.5" r="2.35" fill="#fff" stroke="#222" stroke-width="0.95"/>
<circle cx="545.5" cy="467.1" r="2.35" fill="#fff" stroke="#222" stroke-width="0.95"/>
<circle cx="541.1" cy="468.8" r="2.35" fill="#fff" stroke="#222" stroke-width="0.95"/>
<circle cx="547.9" cy="470.5" r="2.35" fill="#fff" stroke="#222" stroke-width="0.95"/>
<circle cx="538.7" cy="472.2" r="2.35" fill="#fff" stroke="#222" stroke-width="0.95"/>
<circle cx="559.8" cy="445.2" r="2.35" fill="#fff" stroke="#ee2a2f" stroke-width="0.95"/>
<circle cx="559.8" cy="453.6" r="2.35" fill="#fff" stroke="#ee2a2f" stroke-width="0.95"/>
<circle cx="555.1" cy="455.3" r="2.35" fill="#fff" stroke="#ee2a2f" stroke-width="0.95"/>
<circle cx="563.8" cy="457.0" r="2.35" fill="#fff" stroke="#ee2a2f" stroke-width="0.95"/>
<circle cx="559.8" cy="460.4" r="2.35" fill="#fff" stroke="#ee2a2f" stroke-width="0.95"/>
<circle cx="555.8" cy="463.8" r="2.35" fill="#fff" stroke="#ee2a2f" stroke-width="0.95"/>
<circle cx="562.0" cy="465.5" r="2.35" fill="#fff" stroke="#ee2a2f" stroke-width="0.95"/>
<circle cx="557.5" cy="467.1" r="2.35" fill="#fff" stroke="#ee2a2f" stroke-width="0.95"/>
<circle cx="564.4" cy="468.8" r="2.35" fill="#fff" stroke="#ee2a2f" stroke-width="0.95"/>
<circle cx="559.8" cy="472.2" r="2.35" fill="#fff" stroke="#ee2a2f" stroke-width="0.95"/>
<circle cx="575.9" cy="450.3" r="2.35" fill="#fff" stroke="#c9c9c9" stroke-width="0.95"/>
<circle cx="575.9" cy="455.3" r="2.35" fill="#fff" stroke="#c9c9c9" stroke-width="0.95"/>
<circle cx="571.9" cy="458.7" r="2.35" fill="#fff" stroke="#c9c9c9" stroke-width="0.95"/>
<circle cx="575.9" cy="462.1" r="2.35" fill="#fff" stroke="#c9c9c9" stroke-width="0.95"/>
<circle cx="571.3" cy="463.8" r="2.35" fill="#fff" stroke="#c9c9c9" stroke-width="0.95"/>
<circle cx="579.9" cy="465.5" r="2.35" fill="#fff" stroke="#c9c9c9" stroke-width="0.95"/>
<circle cx="574.7" cy="467.1" r="2.35" fill="#fff" stroke="#c9c9c9" stroke-width="0.95"/>
<circle cx="578.1" cy="468.8" r="2.35" fill="#fff" stroke="#c9c9c9" stroke-width="0.95"/>
<circle cx="571.3" cy="470.5" r="2.35" fill="#fff" stroke="#c9c9c9" stroke-width="0.95"/>
<circle cx="580.5" cy="472.2" r="2.35" fill="#fff" stroke="#c9c9c9" stroke-width="0.95"/>
<circle cx="592.3" cy="382.7" r="2.35" fill="#fff" stroke="#1a8c89" stroke-width="0.95"/>
<circle cx="592.3" cy="396.2" r="2.35" fill="#fff" stroke="#1a8c89" stroke-width="0.95"/>
<circle cx="592.3" cy="418.2" r="2.35" fill="#fff" stroke="#1a8c89" stroke-width="0.95"/>
<circle cx="587.7" cy="419.9" r="2.35" fill="#fff" stroke="#1a8c89" stroke-width="0.95"/>
<circle cx="592.3" cy="433.4" r="2.35" fill="#fff" stroke="#1a8c89" stroke-width="0.95"/>
<circle cx="588.3" cy="436.8" r="2.35" fill="#fff" stroke="#1a8c89" stroke-width="0.95"/>
<circle cx="592.3" cy="445.2" r="2.35" fill="#fff" stroke="#1a8c89" stroke-width="0.95"/>
<circle cx="588.3" cy="448.6" r="2.35" fill="#fff" stroke="#1a8c89" stroke-width="0.95"/>
<circle cx="592.3" cy="453.6" r="2.35" fill="#fff" stroke="#1a8c89" stroke-width="0.95"/>
<circle cx="588.3" cy="457.0" r="2.35" fill="#fff" stroke="#1a8c89" stroke-width="0.95"/>
<circle cx="592.3" cy="462.1" r="2.35" fill="#fff" stroke="#1a8c89" stroke-width="0.95"/>
<line x1="516.80" y1="372.60" x2="516.80" y2="474.35" stroke="#6a6a6a" stroke-width="1.00"/>
<line x1="511.60" y1="473.90" x2="602.40" y2="473.90" stroke="#333" stroke-width="0.90"/>
<line x1="511.60" y1="473.90" x2="516.80" y2="473.90" stroke="#333" stroke-width="0.90"/>
<text x="509.3" y="477.2" font-size="9.30" text-anchor="end" fill="#111" stroke="#111" stroke-width="0.22">0</text>
<line x1="511.60" y1="440.13" x2="516.80" y2="440.13" stroke="#333" stroke-width="0.90"/>
<text x="509.3" y="443.5" font-size="9.30" text-anchor="end" fill="#111" stroke="#111" stroke-width="0.22">20</text>
<line x1="511.60" y1="406.37" x2="516.80" y2="406.37" stroke="#333" stroke-width="0.90"/>
<text x="509.3" y="409.7" font-size="9.30" text-anchor="end" fill="#111" stroke="#111" stroke-width="0.22">40</text>
<line x1="511.60" y1="372.60" x2="516.80" y2="372.60" stroke="#333" stroke-width="0.90"/>
<text x="509.3" y="375.9" font-size="9.30" text-anchor="end" fill="#111" stroke="#111" stroke-width="0.22">60</text>
<line x1="525.90" y1="357.20" x2="591.40" y2="357.20" stroke="#333" stroke-width="0.90"/>
<text x="558.9" y="355.6" font-size="9.40" text-anchor="middle" fill="#111" stroke="#111" stroke-width="0.22">0.05</text>
<line x1="559.90" y1="369.40" x2="592.50" y2="369.40" stroke="#333" stroke-width="0.90"/>
<text x="575.0" y="368.0" font-size="9.40" text-anchor="middle" fill="#111" stroke="#111" stroke-width="0.22">0.004</text>
<text x="557.2" y="337.0" font-size="9.20" text-anchor="middle" fill="#111" stroke="#111" stroke-width="0.22">CXCR3</text>
<rect x="222.30" y="787.99" width="12.30" height="9.21" fill="#3a52a4" stroke="#111" stroke-width="0.90"/>
<rect x="239.10" y="782.62" width="12.30" height="14.58" fill="#ffffff" stroke="#111" stroke-width="0.90"/>
<rect x="255.50" y="787.99" width="12.30" height="9.21" fill="#ff0000" stroke="#111" stroke-width="0.90"/>
<rect x="271.80" y="787.23" width="12.30" height="9.97" fill="#c8c8c8" stroke="#777" stroke-width="0.90"/>
<rect x="288.20" y="755.00" width="12.30" height="42.20" fill="#107c7b" stroke="#111" stroke-width="0.90"/>
<circle cx="228.5" cy="779.3" r="2.35" fill="#fff" stroke="#4b5fc4" stroke-width="0.95"/>
<circle cx="223.9" cy="781.9" r="2.35" fill="#fff" stroke="#4b5fc4" stroke-width="0.95"/>
<circle cx="228.5" cy="784.4" r="2.35" fill="#fff" stroke="#4b5fc4" stroke-width="0.95"/>
<circle cx="223.9" cy="787.0" r="2.35" fill="#fff" stroke="#4b5fc4" stroke-width="0.95"/>
<circle cx="232.5" cy="788.2" r="2.35" fill="#fff" stroke="#4b5fc4" stroke-width="0.95"/>
<circle cx="227.3" cy="789.5" r="2.35" fill="#fff" stroke="#4b5fc4" stroke-width="0.95"/>
<circle cx="223.9" cy="790.8" r="2.35" fill="#fff" stroke="#4b5fc4" stroke-width="0.95"/>
<circle cx="230.7" cy="792.1" r="2.35" fill="#fff" stroke="#4b5fc4" stroke-width="0.95"/>
<circle cx="227.3" cy="793.4" r="2.35" fill="#fff" stroke="#4b5fc4" stroke-width="0.95"/>
<circle cx="223.9" cy="794.6" r="2.35" fill="#fff" stroke="#4b5fc4" stroke-width="0.95"/>
<circle cx="245.2" cy="780.6" r="2.35" fill="#fff" stroke="#222" stroke-width="0.95"/>
<circle cx="240.7" cy="781.9" r="2.35" fill="#fff" stroke="#222" stroke-width="0.95"/>
<circle cx="249.2" cy="784.4" r="2.35" fill="#fff" stroke="#222" stroke-width="0.95"/>
<circle cx="244.1" cy="785.7" r="2.35" fill="#fff" stroke="#222" stroke-width="0.95"/>
<circle cx="240.7" cy="787.0" r="2.35" fill="#fff" stroke="#222" stroke-width="0.95"/>
<circle cx="247.4" cy="788.2" r="2.35" fill="#fff" stroke="#222" stroke-width="0.95"/>
<circle cx="244.1" cy="789.5" r="2.35" fill="#fff" stroke="#222" stroke-width="0.95"/>
<circle cx="249.8" cy="792.1" r="2.35" fill="#fff" stroke="#222" stroke-width="0.95"/>
<circle cx="240.7" cy="793.4" r="2.35" fill="#fff" stroke="#222" stroke-width="0.95"/>
<circle cx="245.2" cy="794.6" r="2.35" fill="#fff" stroke="#222" stroke-width="0.95"/>
<circle cx="261.6" cy="774.2" r="2.35" fill="#fff" stroke="#ee2a2f" stroke-width="0.95"/>
<circle cx="257.0" cy="776.7" r="2.35" fill="#fff" stroke="#ee2a2f" stroke-width="0.95"/>
<circle cx="261.6" cy="781.9" r="2.35" fill="#fff" stroke="#ee2a2f" stroke-width="0.95"/>
<circle cx="257.0" cy="784.4" r="2.35" fill="#fff" stroke="#ee2a2f" stroke-width="0.95"/>
<circle cx="261.6" cy="787.0" r="2.35" fill="#fff" stroke="#ee2a2f" stroke-width="0.95"/>
<circle cx="266.2" cy="788.2" r="2.35" fill="#fff" stroke="#ee2a2f" stroke-width="0.95"/>
<circle cx="257.0" cy="789.5" r="2.35" fill="#fff" stroke="#ee2a2f" stroke-width="0.95"/>
<circle cx="261.6" cy="792.1" r="2.35" fill="#fff" stroke="#ee2a2f" stroke-width="0.95"/>
<circle cx="266.2" cy="793.4" r="2.35" fill="#fff" stroke="#ee2a2f" stroke-width="0.95"/>
<circle cx="257.0" cy="794.6" r="2.35" fill="#fff" stroke="#ee2a2f" stroke-width="0.95"/>
<circle cx="277.9" cy="769.1" r="2.35" fill="#fff" stroke="#c9c9c9" stroke-width="0.95"/>
<circle cx="277.9" cy="774.2" r="2.35" fill="#fff" stroke="#c9c9c9" stroke-width="0.95"/>
<circle cx="273.3" cy="776.7" r="2.35" fill="#fff" stroke="#c9c9c9" stroke-width="0.95"/>
<circle cx="277.9" cy="779.3" r="2.35" fill="#fff" stroke="#c9c9c9" stroke-width="0.95"/>
<circle cx="273.3" cy="781.9" r="2.35" fill="#fff" stroke="#c9c9c9" stroke-width="0.95"/>
<circle cx="277.9" cy="784.4" r="2.35" fill="#fff" stroke="#c9c9c9" stroke-width="0.95"/>
<circle cx="273.3" cy="787.0" r="2.35" fill="#fff" stroke="#c9c9c9" stroke-width="0.95"/>
<circle cx="277.9" cy="789.5" r="2.35" fill="#fff" stroke="#c9c9c9" stroke-width="0.95"/>
<circle cx="273.3" cy="792.1" r="2.35" fill="#fff" stroke="#c9c9c9" stroke-width="0.95"/>
<circle cx="277.9" cy="794.6" r="2.35" fill="#fff" stroke="#c9c9c9" stroke-width="0.95"/>
<circle cx="294.4" cy="706.4" r="2.35" fill="#fff" stroke="#1a8c89" stroke-width="0.95"/>
<circle cx="294.4" cy="720.5" r="2.35" fill="#fff" stroke="#1a8c89" stroke-width="0.95"/>
<circle cx="294.4" cy="725.6" r="2.35" fill="#fff" stroke="#1a8c89" stroke-width="0.95"/>
<circle cx="289.8" cy="726.9" r="2.35" fill="#fff" stroke="#1a8c89" stroke-width="0.95"/>
<circle cx="294.4" cy="732.0" r="2.35" fill="#fff" stroke="#1a8c89" stroke-width="0.95"/>
<circle cx="294.4" cy="739.7" r="2.35" fill="#fff" stroke="#1a8c89" stroke-width="0.95"/>
<circle cx="294.4" cy="770.3" r="2.35" fill="#fff" stroke="#1a8c89" stroke-width="0.95"/>
<circle cx="294.4" cy="776.7" r="2.35" fill="#fff" stroke="#1a8c89" stroke-width="0.95"/>
<circle cx="289.8" cy="778.0" r="2.35" fill="#fff" stroke="#1a8c89" stroke-width="0.95"/>
<circle cx="299.0" cy="779.3" r="2.35" fill="#fff" stroke="#1a8c89" stroke-width="0.95"/>
<circle cx="293.2" cy="780.6" r="2.35" fill="#fff" stroke="#1a8c89" stroke-width="0.95"/>
<line x1="218.40" y1="694.90" x2="218.40" y2="797.65" stroke="#6a6a6a" stroke-width="1.00"/>
<line x1="212.60" y1="797.20" x2="304.40" y2="797.20" stroke="#333" stroke-width="0.90"/>
<line x1="212.60" y1="797.20" x2="218.40" y2="797.20" stroke="#333" stroke-width="0.90"/>
<text x="210.3" y="800.5" font-size="9.30" text-anchor="end" fill="#111" stroke="#111" stroke-width="0.22">0</text>
<line x1="212.60" y1="771.62" x2="218.40" y2="771.62" stroke="#333" stroke-width="0.90"/>
<text x="210.3" y="775.0" font-size="9.30" text-anchor="end" fill="#111" stroke="#111" stroke-width="0.22">10</text>
<line x1="212.60" y1="746.05" x2="218.40" y2="746.05" stroke="#333" stroke-width="0.90"/>
<text x="210.3" y="749.4" font-size="9.30" text-anchor="end" fill="#111" stroke="#111" stroke-width="0.22">20</text>
<line x1="212.60" y1="720.48" x2="218.40" y2="720.48" stroke="#333" stroke-width="0.90"/>
<text x="210.3" y="723.8" font-size="9.30" text-anchor="end" fill="#111" stroke="#111" stroke-width="0.22">30</text>
<line x1="212.60" y1="694.90" x2="218.40" y2="694.90" stroke="#333" stroke-width="0.90"/>
<text x="210.3" y="698.2" font-size="9.30" text-anchor="end" fill="#111" stroke="#111" stroke-width="0.22">40</text>
<line x1="231.20" y1="680.40" x2="296.70" y2="680.40" stroke="#333" stroke-width="0.90"/>
<text x="266.3" y="679.6" font-size="9.40" text-anchor="middle" fill="#111" stroke="#111" stroke-width="0.22">0.0002</text>
<line x1="262.30" y1="695.60" x2="295.50" y2="695.60" stroke="#333" stroke-width="0.90"/>
<text x="278.7" y="694.3" font-size="9.40" text-anchor="middle" fill="#111" stroke="#111" stroke-width="0.22">0.0005</text>
<text x="262.3" y="665.5" font-size="9.20" text-anchor="middle" fill="#111" stroke="#111" stroke-width="0.22">IFNγ<tspan dy="-3.50" font-size="5.70">+</tspan><tspan dy="3.50"> SP</tspan></text>
<rect x="339.60" y="767.84" width="12.60" height="28.16" fill="#3a52a4" stroke="#111" stroke-width="0.90"/>
<rect x="355.80" y="766.21" width="12.60" height="29.79" fill="#ffffff" stroke="#111" stroke-width="0.90"/>
<rect x="372.30" y="761.31" width="12.60" height="34.69" fill="#ff0000" stroke="#111" stroke-width="0.90"/>
<rect x="388.70" y="771.10" width="12.60" height="24.90" fill="#c8c8c8" stroke="#777" stroke-width="0.90"/>
<rect x="405.00" y="774.37" width="12.60" height="21.63" fill="#107c7b" stroke="#111" stroke-width="0.90"/>
<circle cx="345.9" cy="718.8" r="2.35" fill="#fff" stroke="#4b5fc4" stroke-width="0.95"/>
<circle cx="345.9" cy="753.1" r="2.35" fill="#fff" stroke="#4b5fc4" stroke-width="0.95"/>
<circle cx="341.3" cy="755.6" r="2.35" fill="#fff" stroke="#4b5fc4" stroke-width="0.95"/>
<circle cx="348.1" cy="757.6" r="2.35" fill="#fff" stroke="#4b5fc4" stroke-width="0.95"/>
<circle cx="343.7" cy="759.7" r="2.35" fill="#fff" stroke="#4b5fc4" stroke-width="0.95"/>
<circle cx="348.1" cy="763.8" r="2.35" fill="#fff" stroke="#4b5fc4" stroke-width="0.95"/>
<circle cx="345.9" cy="771.9" r="2.35" fill="#fff" stroke="#4b5fc4" stroke-width="0.95"/>
<circle cx="341.3" cy="774.0" r="2.35" fill="#fff" stroke="#4b5fc4" stroke-width="0.95"/>
<circle cx="345.9" cy="778.0" r="2.35" fill="#fff" stroke="#4b5fc4" stroke-width="0.95"/>
<circle cx="341.3" cy="780.0" r="2.35" fill="#fff" stroke="#4b5fc4" stroke-width="0.95"/>
<circle cx="362.1" cy="737.8" r="2.35" fill="#fff" stroke="#222" stroke-width="0.95"/>
<circle cx="362.1" cy="757.6" r="2.35" fill="#fff" stroke="#222" stroke-width="0.95"/>
<circle cx="357.5" cy="759.7" r="2.35" fill="#fff" stroke="#222" stroke-width="0.95"/>
<circle cx="366.1" cy="761.7" r="2.35" fill="#fff" stroke="#222" stroke-width="0.95"/>
<circle cx="360.9" cy="763.8" r="2.35" fill="#fff" stroke="#222" stroke-width="0.95"/>
<circle cx="365.3" cy="765.8" r="2.35" fill="#fff" stroke="#222" stroke-width="0.95"/>
<circle cx="358.1" cy="767.8" r="2.35" fill="#fff" stroke="#222" stroke-width="0.95"/>
<circle cx="363.3" cy="769.9" r="2.35" fill="#fff" stroke="#222" stroke-width="0.95"/>
<circle cx="358.9" cy="771.9" r="2.35" fill="#fff" stroke="#222" stroke-width="0.95"/>
<circle cx="366.1" cy="774.0" r="2.35" fill="#fff" stroke="#222" stroke-width="0.95"/>
<circle cx="360.9" cy="776.0" r="2.35" fill="#fff" stroke="#222" stroke-width="0.95"/>
<circle cx="365.3" cy="778.0" r="2.35" fill="#fff" stroke="#222" stroke-width="0.95"/>
<circle cx="378.6" cy="751.0" r="2.35" fill="#fff" stroke="#ee2a2f" stroke-width="0.95"/>
<circle cx="374.0" cy="752.6" r="2.35" fill="#fff" stroke="#ee2a2f" stroke-width="0.95"/>
<circle cx="380.8" cy="755.6" r="2.35" fill="#fff" stroke="#ee2a2f" stroke-width="0.95"/>
<circle cx="376.4" cy="757.6" r="2.35" fill="#fff" stroke="#ee2a2f" stroke-width="0.95"/>
<circle cx="383.2" cy="759.7" r="2.35" fill="#fff" stroke="#ee2a2f" stroke-width="0.95"/>
<circle cx="378.6" cy="763.8" r="2.35" fill="#fff" stroke="#ee2a2f" stroke-width="0.95"/>
<circle cx="374.0" cy="765.8" r="2.35" fill="#fff" stroke="#ee2a2f" stroke-width="0.95"/>
<circle cx="382.6" cy="767.8" r="2.35" fill="#fff" stroke="#ee2a2f" stroke-width="0.95"/>
<circle cx="378.6" cy="771.9" r="2.35" fill="#fff" stroke="#ee2a2f" stroke-width="0.95"/>
<circle cx="378.6" cy="780.0" r="2.35" fill="#fff" stroke="#ee2a2f" stroke-width="0.95"/>
<circle cx="374.0" cy="780.0" r="2.35" fill="#fff" stroke="#ee2a2f" stroke-width="0.95"/>
<circle cx="395.0" cy="753.1" r="2.35" fill="#fff" stroke="#c9c9c9" stroke-width="0.95"/>
<circle cx="395.0" cy="759.7" r="2.35" fill="#fff" stroke="#c9c9c9" stroke-width="0.95"/>
<circle cx="390.4" cy="761.7" r="2.35" fill="#fff" stroke="#c9c9c9" stroke-width="0.95"/>
<circle cx="399.0" cy="763.8" r="2.35" fill="#fff" stroke="#c9c9c9" stroke-width="0.95"/>
<circle cx="393.8" cy="765.8" r="2.35" fill="#fff" stroke="#c9c9c9" stroke-width="0.95"/>
<circle cx="398.2" cy="767.8" r="2.35" fill="#fff" stroke="#c9c9c9" stroke-width="0.95"/>
<circle cx="391.0" cy="769.9" r="2.35" fill="#fff" stroke="#c9c9c9" stroke-width="0.95"/>
<circle cx="396.2" cy="771.9" r="2.35" fill="#fff" stroke="#c9c9c9" stroke-width="0.95"/>
<circle cx="391.8" cy="774.0" r="2.35" fill="#fff" stroke="#c9c9c9" stroke-width="0.95"/>
<circle cx="399.0" cy="776.0" r="2.35" fill="#fff" stroke="#c9c9c9" stroke-width="0.95"/>
<circle cx="393.8" cy="778.0" r="2.35" fill="#fff" stroke="#c9c9c9" stroke-width="0.95"/>
<circle cx="411.3" cy="755.1" r="2.35" fill="#fff" stroke="#1a8c89" stroke-width="0.95"/>
<circle cx="411.3" cy="765.8" r="2.35" fill="#fff" stroke="#1a8c89" stroke-width="0.95"/>
<circle cx="406.7" cy="767.8" r="2.35" fill="#fff" stroke="#1a8c89" stroke-width="0.95"/>
<circle cx="415.3" cy="769.9" r="2.35" fill="#fff" stroke="#1a8c89" stroke-width="0.95"/>
<circle cx="410.1" cy="771.9" r="2.35" fill="#fff" stroke="#1a8c89" stroke-width="0.95"/>
<circle cx="414.5" cy="774.0" r="2.35" fill="#fff" stroke="#1a8c89" stroke-width="0.95"/>
<circle cx="407.3" cy="776.0" r="2.35" fill="#fff" stroke="#1a8c89" stroke-width="0.95"/>
<circle cx="412.5" cy="778.0" r="2.35" fill="#fff" stroke="#1a8c89" stroke-width="0.95"/>
<circle cx="408.1" cy="780.0" r="2.35" fill="#fff" stroke="#1a8c89" stroke-width="0.95"/>
<line x1="336.70" y1="694.40" x2="336.70" y2="796.45" stroke="#6a6a6a" stroke-width="1.00"/>
<line x1="330.40" y1="796.00" x2="421.50" y2="796.00" stroke="#333" stroke-width="0.90"/>
<line x1="330.40" y1="796.00" x2="336.70" y2="796.00" stroke="#333" stroke-width="0.90"/>
<text x="328.1" y="799.3" font-size="9.30" text-anchor="end" fill="#111" stroke="#111" stroke-width="0.22">0</text>
<line x1="330.40" y1="776.00" x2="336.70" y2="776.00" stroke="#333" stroke-width="0.90"/>
<text x="328.1" y="779.3" font-size="9.30" text-anchor="end" fill="#111" stroke="#111" stroke-width="0.22">50</text>
<line x1="330.40" y1="755.60" x2="336.70" y2="755.60" stroke="#333" stroke-width="0.90"/>
<text x="328.1" y="758.9" font-size="9.30" text-anchor="end" fill="#111" stroke="#111" stroke-width="0.22">100</text>
<line x1="330.40" y1="735.30" x2="336.70" y2="735.30" stroke="#333" stroke-width="0.90"/>
<text x="328.1" y="738.6" font-size="9.30" text-anchor="end" fill="#111" stroke="#111" stroke-width="0.22">300</text>
<line x1="330.40" y1="714.70" x2="336.70" y2="714.70" stroke="#333" stroke-width="0.90"/>
<text x="328.1" y="718.0" font-size="9.30" text-anchor="end" fill="#111" stroke="#111" stroke-width="0.22">400</text>
<line x1="330.40" y1="694.40" x2="336.70" y2="694.40" stroke="#333" stroke-width="0.90"/>
<text x="328.1" y="697.7" font-size="9.30" text-anchor="end" fill="#111" stroke="#111" stroke-width="0.22">500</text>
<line x1="346.00" y1="682.50" x2="411.70" y2="682.50" stroke="#333" stroke-width="0.90"/>
<text x="379.0" y="680.8" font-size="9.40" text-anchor="middle" fill="#111" stroke="#111" stroke-width="0.22">0.77</text>
<line x1="379.00" y1="696.80" x2="411.70" y2="696.80" stroke="#333" stroke-width="0.90"/>
<text x="395.3" y="695.3" font-size="9.40" text-anchor="middle" fill="#111" stroke="#111" stroke-width="0.22">0.10</text>
<text x="379.0" y="665.5" font-size="9.20" text-anchor="middle" fill="#111" stroke="#111" stroke-width="0.22">TNFα<tspan dy="-3.50" font-size="5.70">+</tspan><tspan dy="3.50"> SP</tspan></text>
<rect x="453.80" y="781.17" width="12.10" height="14.83" fill="#3a52a4" stroke="#111" stroke-width="0.90"/>
<rect x="470.10" y="780.14" width="12.10" height="15.86" fill="#ffffff" stroke="#111" stroke-width="0.90"/>
<rect x="486.50" y="783.72" width="12.10" height="12.28" fill="#ff0000" stroke="#111" stroke-width="0.90"/>
<rect x="502.80" y="783.72" width="12.10" height="12.28" fill="#c8c8c8" stroke="#777" stroke-width="0.90"/>
<rect x="519.20" y="759.17" width="12.10" height="36.83" fill="#107c7b" stroke="#111" stroke-width="0.90"/>
<circle cx="459.8" cy="765.3" r="2.35" fill="#fff" stroke="#4b5fc4" stroke-width="0.95"/>
<circle cx="455.2" cy="767.9" r="2.35" fill="#fff" stroke="#4b5fc4" stroke-width="0.95"/>
<circle cx="459.8" cy="773.0" r="2.35" fill="#fff" stroke="#4b5fc4" stroke-width="0.95"/>
<circle cx="455.2" cy="775.5" r="2.35" fill="#fff" stroke="#4b5fc4" stroke-width="0.95"/>
<circle cx="459.8" cy="778.1" r="2.35" fill="#fff" stroke="#4b5fc4" stroke-width="0.95"/>
<circle cx="455.2" cy="780.7" r="2.35" fill="#fff" stroke="#4b5fc4" stroke-width="0.95"/>
<circle cx="463.8" cy="781.7" r="2.35" fill="#fff" stroke="#4b5fc4" stroke-width="0.95"/>
<circle cx="459.8" cy="783.2" r="2.35" fill="#fff" stroke="#4b5fc4" stroke-width="0.95"/>
<circle cx="455.2" cy="785.8" r="2.35" fill="#fff" stroke="#4b5fc4" stroke-width="0.95"/>
<circle cx="459.8" cy="788.3" r="2.35" fill="#fff" stroke="#4b5fc4" stroke-width="0.95"/>
<circle cx="476.1" cy="766.8" r="2.35" fill="#fff" stroke="#222" stroke-width="0.95"/>
<circle cx="476.1" cy="773.0" r="2.35" fill="#fff" stroke="#222" stroke-width="0.95"/>
<circle cx="471.5" cy="775.5" r="2.35" fill="#fff" stroke="#222" stroke-width="0.95"/>
<circle cx="476.1" cy="778.1" r="2.35" fill="#fff" stroke="#222" stroke-width="0.95"/>
<circle cx="471.5" cy="780.7" r="2.35" fill="#fff" stroke="#222" stroke-width="0.95"/>
<circle cx="480.1" cy="781.7" r="2.35" fill="#fff" stroke="#222" stroke-width="0.95"/>
<circle cx="476.1" cy="783.2" r="2.35" fill="#fff" stroke="#222" stroke-width="0.95"/>
<circle cx="472.1" cy="784.7" r="2.35" fill="#fff" stroke="#222" stroke-width="0.95"/>
<circle cx="480.8" cy="785.8" r="2.35" fill="#fff" stroke="#222" stroke-width="0.95"/>
<circle cx="492.6" cy="767.9" r="2.35" fill="#fff" stroke="#ee2a2f" stroke-width="0.95"/>
<circle cx="487.9" cy="770.4" r="2.35" fill="#fff" stroke="#ee2a2f" stroke-width="0.95"/>
<circle cx="492.6" cy="773.0" r="2.35" fill="#fff" stroke="#ee2a2f" stroke-width="0.95"/>
<circle cx="487.9" cy="775.5" r="2.35" fill="#fff" stroke="#ee2a2f" stroke-width="0.95"/>
<circle cx="492.6" cy="778.1" r="2.35" fill="#fff" stroke="#ee2a2f" stroke-width="0.95"/>
<circle cx="487.9" cy="780.7" r="2.35" fill="#fff" stroke="#ee2a2f" stroke-width="0.95"/>
<circle cx="492.6" cy="783.2" r="2.35" fill="#fff" stroke="#ee2a2f" stroke-width="0.95"/>
<circle cx="487.9" cy="785.8" r="2.35" fill="#fff" stroke="#ee2a2f" stroke-width="0.95"/>
<circle cx="492.6" cy="788.3" r="2.35" fill="#fff" stroke="#ee2a2f" stroke-width="0.95"/>
<circle cx="487.9" cy="790.9" r="2.35" fill="#fff" stroke="#ee2a2f" stroke-width="0.95"/>
<circle cx="508.8" cy="770.4" r="2.35" fill="#fff" stroke="#c9c9c9" stroke-width="0.95"/>
<circle cx="504.2" cy="771.4" r="2.35" fill="#fff" stroke="#c9c9c9" stroke-width="0.95"/>
<circle cx="513.4" cy="773.0" r="2.35" fill="#fff" stroke="#c9c9c9" stroke-width="0.95"/>
<circle cx="508.8" cy="775.5" r="2.35" fill="#fff" stroke="#c9c9c9" stroke-width="0.95"/>
<circle cx="504.2" cy="778.1" r="2.35" fill="#fff" stroke="#c9c9c9" stroke-width="0.95"/>
<circle cx="508.8" cy="780.7" r="2.35" fill="#fff" stroke="#c9c9c9" stroke-width="0.95"/>
<circle cx="504.2" cy="783.2" r="2.35" fill="#fff" stroke="#c9c9c9" stroke-width="0.95"/>
<circle cx="508.8" cy="785.8" r="2.35" fill="#fff" stroke="#c9c9c9" stroke-width="0.95"/>
<circle cx="504.2" cy="788.3" r="2.35" fill="#fff" stroke="#c9c9c9" stroke-width="0.95"/>
<circle cx="525.2" cy="709.0" r="2.35" fill="#fff" stroke="#1a8c89" stroke-width="0.95"/>
<circle cx="525.2" cy="737.2" r="2.35" fill="#fff" stroke="#1a8c89" stroke-width="0.95"/>
<circle cx="520.6" cy="738.7" r="2.35" fill="#fff" stroke="#1a8c89" stroke-width="0.95"/>
<circle cx="525.2" cy="742.3" r="2.35" fill="#fff" stroke="#1a8c89" stroke-width="0.95"/>
<circle cx="525.2" cy="751.0" r="2.35" fill="#fff" stroke="#1a8c89" stroke-width="0.95"/>
<circle cx="525.2" cy="756.6" r="2.35" fill="#fff" stroke="#1a8c89" stroke-width="0.95"/>
<circle cx="520.6" cy="757.6" r="2.35" fill="#fff" stroke="#1a8c89" stroke-width="0.95"/>
<circle cx="529.2" cy="760.2" r="2.35" fill="#fff" stroke="#1a8c89" stroke-width="0.95"/>
<circle cx="525.2" cy="764.3" r="2.35" fill="#fff" stroke="#1a8c89" stroke-width="0.95"/>
<circle cx="520.6" cy="766.3" r="2.35" fill="#fff" stroke="#1a8c89" stroke-width="0.95"/>
<circle cx="529.2" cy="767.9" r="2.35" fill="#fff" stroke="#1a8c89" stroke-width="0.95"/>
<line x1="450.60" y1="693.70" x2="450.60" y2="796.45" stroke="#6a6a6a" stroke-width="1.00"/>
<line x1="444.20" y1="796.00" x2="535.10" y2="796.00" stroke="#333" stroke-width="0.90"/>
<line x1="444.20" y1="796.00" x2="450.60" y2="796.00" stroke="#333" stroke-width="0.90"/>
<text x="441.9" y="799.3" font-size="9.30" text-anchor="end" fill="#111" stroke="#111" stroke-width="0.22">0</text>
<line x1="444.20" y1="770.42" x2="450.60" y2="770.42" stroke="#333" stroke-width="0.90"/>
<text x="441.9" y="773.8" font-size="9.30" text-anchor="end" fill="#111" stroke="#111" stroke-width="0.22">50</text>
<line x1="444.20" y1="744.85" x2="450.60" y2="744.85" stroke="#333" stroke-width="0.90"/>
<text x="441.9" y="748.2" font-size="9.30" text-anchor="end" fill="#111" stroke="#111" stroke-width="0.22">100</text>
<line x1="444.20" y1="719.28" x2="450.60" y2="719.28" stroke="#333" stroke-width="0.90"/>
<text x="441.9" y="722.6" font-size="9.30" text-anchor="end" fill="#111" stroke="#111" stroke-width="0.22">150</text>
<line x1="444.20" y1="693.70" x2="450.60" y2="693.70" stroke="#333" stroke-width="0.90"/>
<text x="441.9" y="697.0" font-size="9.30" text-anchor="end" fill="#111" stroke="#111" stroke-width="0.22">200</text>
<line x1="460.80" y1="683.20" x2="525.80" y2="683.20" stroke="#333" stroke-width="0.90"/>
<text x="493.5" y="681.2" font-size="9.40" text-anchor="middle" fill="#111" stroke="#111" stroke-width="0.22">0.0005</text>
<line x1="492.60" y1="700.30" x2="524.60" y2="700.30" stroke="#333" stroke-width="0.90"/>
<text x="508.7" y="699.0" font-size="9.40" text-anchor="middle" fill="#111" stroke="#111" stroke-width="0.22">0.0001</text>
<text x="490.3" y="665.5" font-size="9.20" text-anchor="middle" fill="#111" stroke="#111" stroke-width="0.22">TNFα<tspan dy="-3.50" font-size="5.70">+</tspan><tspan dy="3.50">IFNγ</tspan><tspan dy="-3.50" font-size="5.70">+</tspan></text>
<circle cx="619.20" cy="214.00" r="4.0" fill="#fff" stroke="#4b5fc4" stroke-width="0.9"/>
<text x="629.0" y="217.3" font-size="9.10" text-anchor="start" fill="#111" stroke="#111" stroke-width="0.22">PBS/PBS</text>
<circle cx="619.20" cy="228.40" r="4.0" fill="#fff" stroke="#222" stroke-width="0.9"/>
<text x="629.0" y="231.7" font-size="9.10" text-anchor="start" fill="#111" stroke="#111" stroke-width="0.22">PBS/alum</text>
<circle cx="619.20" cy="242.60" r="4.0" fill="#fff" stroke="#ee2a2f" stroke-width="0.9"/>
<text x="629.0" y="245.9" font-size="9.10" text-anchor="start" fill="#111" stroke="#111" stroke-width="0.22">M1/alum</text>
<circle cx="619.20" cy="256.90" r="4.0" fill="#fff" stroke="#c9c9c9" stroke-width="0.9"/>
<text x="629.0" y="260.2" font-size="9.10" text-anchor="start" fill="#111" stroke="#111" stroke-width="0.22">NTFIX</text>
<circle cx="619.20" cy="270.70" r="4.0" fill="#fff" stroke="#1a8c89" stroke-width="0.9"/>
<text x="629.0" y="274.0" font-size="9.10" text-anchor="start" fill="#111" stroke="#111" stroke-width="0.22">Combo#5-TM</text>
<circle cx="619.30" cy="401.40" r="4.0" fill="#fff" stroke="#4b5fc4" stroke-width="0.9"/>
<text x="629.0" y="404.7" font-size="9.10" text-anchor="start" fill="#111" stroke="#111" stroke-width="0.22">PBS/PBS</text>
<circle cx="619.30" cy="415.60" r="4.0" fill="#fff" stroke="#222" stroke-width="0.9"/>
<text x="629.0" y="418.9" font-size="9.10" text-anchor="start" fill="#111" stroke="#111" stroke-width="0.22">PBS/alum</text>
<circle cx="619.30" cy="430.00" r="4.0" fill="#fff" stroke="#ee2a2f" stroke-width="0.9"/>
<text x="629.0" y="433.3" font-size="9.10" text-anchor="start" fill="#111" stroke="#111" stroke-width="0.22">M1/alum</text>
<circle cx="619.30" cy="444.00" r="4.0" fill="#fff" stroke="#c9c9c9" stroke-width="0.9"/>
<text x="629.0" y="447.3" font-size="9.10" text-anchor="start" fill="#111" stroke="#111" stroke-width="0.22">NTFIX</text>
<circle cx="619.30" cy="458.30" r="4.0" fill="#fff" stroke="#1a8c89" stroke-width="0.9"/>
<text x="629.0" y="461.6" font-size="9.10" text-anchor="start" fill="#111" stroke="#111" stroke-width="0.22">Combo#5-TM</text>
<circle cx="555.00" cy="719.60" r="4.0" fill="#fff" stroke="#4b5fc4" stroke-width="0.9"/>
<text x="564.1" y="722.9" font-size="9.10" text-anchor="start" fill="#111" stroke="#111" stroke-width="0.22">PBS/PBS</text>
<circle cx="555.00" cy="733.90" r="4.0" fill="#fff" stroke="#222" stroke-width="0.9"/>
<text x="564.1" y="737.2" font-size="9.10" text-anchor="start" fill="#111" stroke="#111" stroke-width="0.22">PBS/alum</text>
<circle cx="555.00" cy="748.50" r="4.0" fill="#fff" stroke="#ee2a2f" stroke-width="0.9"/>
<text x="564.1" y="751.8" font-size="9.10" text-anchor="start" fill="#111" stroke="#111" stroke-width="0.22">M1/alum</text>
<circle cx="555.00" cy="762.70" r="4.0" fill="#fff" stroke="#c9c9c9" stroke-width="0.9"/>
<text x="564.1" y="766.0" font-size="9.10" text-anchor="start" fill="#111" stroke="#111" stroke-width="0.22">NTFIX</text>
<circle cx="555.00" cy="777.00" r="4.0" fill="#fff" stroke="#1a8c89" stroke-width="0.9"/>
<text x="564.1" y="780.3" font-size="9.10" text-anchor="start" fill="#111" stroke="#111" stroke-width="0.22">Combo#5-TM</text>
<text x="3.6" y="252.8" font-size="9.20" text-anchor="middle" fill="#111" stroke="#111" stroke-width="0.22" transform="rotate(-90 3.60 249.50)">Frequency of activated</text>
<text x="15.8" y="252.8" font-size="9.20" text-anchor="middle" fill="#111" stroke="#111" stroke-width="0.22" transform="rotate(-90 15.80 249.50)">CD4<tspan dy="-3.50" font-size="5.70">+</tspan><tspan dy="3.50"> T cells  (%)</tspan></text>
<text x="7.8" y="425.1" font-size="9.20" text-anchor="middle" fill="#111" stroke="#111" stroke-width="0.22" transform="rotate(-90 7.80 421.80)">Number of activated</text>
<text x="18.9" y="426.7" font-size="9.20" text-anchor="middle" fill="#111" stroke="#111" stroke-width="0.22" transform="rotate(-90 18.90 423.40)">CD4<tspan dy="-3.50" font-size="5.70">+</tspan><tspan dy="3.50"> T cells (x10</tspan><tspan dy="-3.50" font-size="5.70">4</tspan><tspan dy="3.50">)</tspan></text>
<text x="181.5" y="748.6" font-size="9.20" text-anchor="middle" fill="#111" stroke="#111" stroke-width="0.22" transform="rotate(-90 181.50 745.30)">Number of activated</text>
<text x="192.7" y="747.5" font-size="9.20" text-anchor="middle" fill="#111" stroke="#111" stroke-width="0.22" transform="rotate(-90 192.70 744.20)">CD4<tspan dy="-3.50" font-size="5.70">+</tspan><tspan dy="3.50"> T cells (x10</tspan><tspan dy="-3.50" font-size="5.70">4</tspan><tspan dy="3.50">)</tspan></text>
<text x="0.3" y="8.8" font-size="16.00" text-anchor="start" fill="#000" font-weight="bold">a</text>
<text x="0.5" y="186.5" font-size="16.00" text-anchor="start" fill="#000" font-weight="bold">b</text>
<text x="0.5" y="349.4" font-size="16.00" text-anchor="start" fill="#000" font-weight="bold">c</text>
<text x="0.5" y="516.3" font-size="16.00" text-anchor="start" fill="#000" font-weight="bold">d</text>
<text x="0.0" y="677.7" font-size="16.00" text-anchor="start" fill="#000" font-weight="bold">e</text>
<text x="166.0" y="677.4" font-size="16.00" text-anchor="start" fill="#000" font-weight="bold">f</text>
<text x="84.4" y="7.7" font-size="9.30" text-anchor="middle" fill="#111" stroke="#111" stroke-width="0.22">Combo#5-TM CD4<tspan dy="-3.53" font-size="5.77">+</tspan><tspan dy="3.53"> T cells</tspan></text>
<path d="M69.3 66.8h1.4v1.4h-1.4zM68.6 65.8h1.4v1.4h-1.4zM85.5 49.6h1.4v1.4h-1.4zM85.1 77.6h1.4v1.4h-1.4zM68.1 78.8h1.4v1.4h-1.4zM72.5 51.4h1.4v1.4h-1.4zM94.8 60.8h1.4v1.4h-1.4zM68.8 49.2h1.4v1.4h-1.4zM96.6 62.8h1.4v1.4h-1.4zM92.4 63.8h1.4v1.4h-1.4zM101.7 72.9h1.4v1.4h-1.4zM72.8 65.1h1.4v1.4h-1.4zM96.1 75.3h1.4v1.4h-1.4zM92.7 68.5h1.4v1.4h-1.4zM103.8 82.0h1.4v1.4h-1.4zM95.1 83.7h1.4v1.4h-1.4zM67.0 64.1h1.4v1.4h-1.4zM71.8 56.2h1.4v1.4h-1.4zM90.7 79.7h1.4v1.4h-1.4zM104.9 57.3h1.4v1.4h-1.4zM72.8 53.5h1.4v1.4h-1.4zM76.5 64.9h1.4v1.4h-1.4zM97.1 66.1h1.4v1.4h-1.4zM101.1 79.4h1.4v1.4h-1.4zM83.7 61.8h1.4v1.4h-1.4zM94.5 49.3h1.4v1.4h-1.4zM75.4 53.0h1.4v1.4h-1.4zM68.4 47.0h1.4v1.4h-1.4zM70.6 60.5h1.4v1.4h-1.4zM105.3 69.7h1.4v1.4h-1.4zM77.4 59.9h1.4v1.4h-1.4zM87.0 64.9h1.4v1.4h-1.4zM70.6 59.7h1.4v1.4h-1.4zM103.3 53.0h1.4v1.4h-1.4zM108.8 66.5h1.4v1.4h-1.4zM110.0 78.9h1.4v1.4h-1.4zM77.8 60.6h1.4v1.4h-1.4zM110.3 78.5h1.4v1.4h-1.4zM102.8 74.4h1.4v1.4h-1.4zM89.3 60.2h1.4v1.4h-1.4zM67.3 57.3h1.4v1.4h-1.4zM97.2 82.4h1.4v1.4h-1.4zM108.2 83.6h1.4v1.4h-1.4zM82.4 55.2h1.4v1.4h-1.4zM106.5 78.1h1.4v1.4h-1.4zM95.4 76.6h1.4v1.4h-1.4zM95.7 80.7h1.4v1.4h-1.4zM99.8 64.7h1.4v1.4h-1.4zM109.7 61.6h1.4v1.4h-1.4zM108.6 73.8h1.4v1.4h-1.4zM110.1 71.3h1.4v1.4h-1.4zM90.7 51.8h1.4v1.4h-1.4zM109.7 71.0h1.4v1.4h-1.4zM103.2 54.8h1.4v1.4h-1.4zM77.7 62.5h1.4v1.4h-1.4zM107.0 60.1h1.4v1.4h-1.4zM92.3 80.5h1.4v1.4h-1.4zM107.3 65.6h1.4v1.4h-1.4zM91.0 59.1h1.4v1.4h-1.4zM91.0 76.0h1.4v1.4h-1.4zM91.2 56.2h1.4v1.4h-1.4zM100.8 65.8h1.4v1.4h-1.4zM100.2 80.8h1.4v1.4h-1.4zM93.6 65.7h1.4v1.4h-1.4zM97.2 63.7h1.4v1.4h-1.4zM87.5 81.8h1.4v1.4h-1.4zM105.4 81.9h1.4v1.4h-1.4zM91.2 81.9h1.4v1.4h-1.4zM69.3 55.9h1.4v1.4h-1.4zM73.0 73.5h1.4v1.4h-1.4zM75.9 82.2h1.4v1.4h-1.4zM87.9 83.6h1.4v1.4h-1.4zM73.3 63.0h1.4v1.4h-1.4zM81.3 54.2h1.4v1.4h-1.4zM94.1 66.0h1.4v1.4h-1.4zM70.7 56.8h1.4v1.4h-1.4zM101.1 57.0h1.4v1.4h-1.4zM85.0 80.7h1.4v1.4h-1.4zM91.7 72.9h1.4v1.4h-1.4zM68.6 72.5h1.4v1.4h-1.4zM69.3 81.7h1.4v1.4h-1.4zM69.0 78.9h1.4v1.4h-1.4zM76.7 51.0h1.4v1.4h-1.4zM68.3 54.5h1.4v1.4h-1.4zM79.7 75.1h1.4v1.4h-1.4z" fill="#1414ff"/>
<path d="M86.5 93.0h1.4v1.4h-1.4zM62.9 94.5h1.4v1.4h-1.4zM74.3 97.3h1.4v1.4h-1.4zM89.0 92.1h1.4v1.4h-1.4zM71.3 83.2h1.4v1.4h-1.4zM67.2 92.8h1.4v1.4h-1.4zM102.1 87.7h1.4v1.4h-1.4zM102.9 93.2h1.4v1.4h-1.4zM81.3 86.0h1.4v1.4h-1.4zM110.1 91.3h1.4v1.4h-1.4zM78.8 94.3h1.4v1.4h-1.4zM93.2 86.6h1.4v1.4h-1.4zM81.8 90.8h1.4v1.4h-1.4zM68.4 92.5h1.4v1.4h-1.4zM65.5 91.3h1.4v1.4h-1.4zM70.0 88.7h1.4v1.4h-1.4zM66.1 95.4h1.4v1.4h-1.4zM94.9 85.4h1.4v1.4h-1.4zM75.8 91.6h1.4v1.4h-1.4zM84.5 94.5h1.4v1.4h-1.4zM69.7 88.8h1.4v1.4h-1.4zM109.1 92.4h1.4v1.4h-1.4zM109.7 88.9h1.4v1.4h-1.4zM109.3 90.7h1.4v1.4h-1.4zM77.2 91.4h1.4v1.4h-1.4zM80.7 91.6h1.4v1.4h-1.4zM85.3 89.1h1.4v1.4h-1.4zM86.7 91.5h1.4v1.4h-1.4zM62.2 91.4h1.4v1.4h-1.4zM81.6 93.1h1.4v1.4h-1.4zM64.0 94.5h1.4v1.4h-1.4zM73.4 91.9h1.4v1.4h-1.4zM90.7 85.6h1.4v1.4h-1.4zM94.2 90.4h1.4v1.4h-1.4zM97.1 94.1h1.4v1.4h-1.4zM78.0 89.0h1.4v1.4h-1.4zM110.3 94.9h1.4v1.4h-1.4zM93.5 96.2h1.4v1.4h-1.4zM64.1 95.4h1.4v1.4h-1.4zM92.7 85.0h1.4v1.4h-1.4zM98.0 92.3h1.4v1.4h-1.4zM87.7 89.7h1.4v1.4h-1.4zM86.7 94.8h1.4v1.4h-1.4zM102.5 85.9h1.4v1.4h-1.4zM90.6 95.8h1.4v1.4h-1.4zM96.0 88.1h1.4v1.4h-1.4zM73.3 93.4h1.4v1.4h-1.4zM79.7 91.9h1.4v1.4h-1.4zM67.1 93.9h1.4v1.4h-1.4zM92.8 87.5h1.4v1.4h-1.4zM92.7 89.7h1.4v1.4h-1.4zM62.2 87.7h1.4v1.4h-1.4zM101.1 91.5h1.4v1.4h-1.4zM88.2 87.2h1.4v1.4h-1.4zM94.3 96.9h1.4v1.4h-1.4zM74.4 93.9h1.4v1.4h-1.4zM65.6 90.9h1.4v1.4h-1.4zM72.1 97.3h1.4v1.4h-1.4zM98.3 95.7h1.4v1.4h-1.4zM80.7 90.9h1.4v1.4h-1.4zM85.5 89.0h1.4v1.4h-1.4zM92.2 85.9h1.4v1.4h-1.4zM93.5 93.3h1.4v1.4h-1.4zM74.4 92.5h1.4v1.4h-1.4zM98.4 89.9h1.4v1.4h-1.4zM62.6 95.9h1.4v1.4h-1.4zM65.0 90.9h1.4v1.4h-1.4zM95.9 96.8h1.4v1.4h-1.4zM95.1 90.4h1.4v1.4h-1.4zM84.8 95.7h1.4v1.4h-1.4zM84.9 97.1h1.4v1.4h-1.4zM71.8 96.7h1.4v1.4h-1.4zM109.9 92.1h1.4v1.4h-1.4zM84.5 91.2h1.4v1.4h-1.4zM102.2 95.4h1.4v1.4h-1.4zM75.2 90.7h1.4v1.4h-1.4zM72.3 93.8h1.4v1.4h-1.4zM90.5 90.7h1.4v1.4h-1.4zM68.9 82.7h1.4v1.4h-1.4zM68.5 90.2h1.4v1.4h-1.4zM102.2 84.0h1.4v1.4h-1.4zM96.5 91.1h1.4v1.4h-1.4zM73.3 94.8h1.4v1.4h-1.4zM63.2 89.0h1.4v1.4h-1.4zM62.2 87.6h1.4v1.4h-1.4zM76.8 91.7h1.4v1.4h-1.4zM68.9 89.8h1.4v1.4h-1.4zM103.2 94.1h1.4v1.4h-1.4zM62.1 91.5h1.4v1.4h-1.4zM67.9 84.6h1.4v1.4h-1.4zM107.4 89.7h1.4v1.4h-1.4zM76.2 84.0h1.4v1.4h-1.4zM79.7 88.9h1.4v1.4h-1.4zM64.4 92.8h1.4v1.4h-1.4zM67.0 93.0h1.4v1.4h-1.4zM107.8 89.0h1.4v1.4h-1.4zM74.2 91.1h1.4v1.4h-1.4zM71.3 95.8h1.4v1.4h-1.4zM80.3 98.7h1.4v1.4h-1.4zM101.8 89.5h1.4v1.4h-1.4zM92.9 98.8h1.4v1.4h-1.4zM88.9 87.1h1.4v1.4h-1.4zM97.3 97.1h1.4v1.4h-1.4zM84.1 93.3h1.4v1.4h-1.4zM98.9 89.7h1.4v1.4h-1.4zM64.4 89.2h1.4v1.4h-1.4zM107.4 94.3h1.4v1.4h-1.4zM78.8 94.4h1.4v1.4h-1.4zM76.6 90.8h1.4v1.4h-1.4zM94.1 90.1h1.4v1.4h-1.4zM81.3 95.9h1.4v1.4h-1.4zM70.2 92.8h1.4v1.4h-1.4zM106.4 93.6h1.4v1.4h-1.4zM86.4 93.0h1.4v1.4h-1.4zM84.0 93.0h1.4v1.4h-1.4zM66.4 93.3h1.4v1.4h-1.4zM78.8 93.7h1.4v1.4h-1.4zM74.7 92.9h1.4v1.4h-1.4zM89.9 96.0h1.4v1.4h-1.4zM82.2 87.6h1.4v1.4h-1.4zM82.3 88.0h1.4v1.4h-1.4zM78.6 91.0h1.4v1.4h-1.4zM65.0 89.9h1.4v1.4h-1.4zM86.7 86.6h1.4v1.4h-1.4zM72.6 86.3h1.4v1.4h-1.4zM75.3 91.5h1.4v1.4h-1.4zM83.8 95.1h1.4v1.4h-1.4zM108.7 95.7h1.4v1.4h-1.4zM63.1 85.5h1.4v1.4h-1.4zM63.6 89.6h1.4v1.4h-1.4zM85.2 84.1h1.4v1.4h-1.4zM90.8 95.1h1.4v1.4h-1.4zM107.4 91.5h1.4v1.4h-1.4zM102.5 97.4h1.4v1.4h-1.4zM74.2 83.9h1.4v1.4h-1.4zM67.3 94.0h1.4v1.4h-1.4zM95.4 95.1h1.4v1.4h-1.4zM108.1 90.6h1.4v1.4h-1.4zM99.5 86.4h1.4v1.4h-1.4zM84.4 90.5h1.4v1.4h-1.4zM100.3 91.2h1.4v1.4h-1.4zM73.4 96.0h1.4v1.4h-1.4zM76.9 89.0h1.4v1.4h-1.4zM68.3 91.4h1.4v1.4h-1.4zM96.2 96.6h1.4v1.4h-1.4zM67.5 95.5h1.4v1.4h-1.4zM90.6 93.4h1.4v1.4h-1.4zM81.0 92.3h1.4v1.4h-1.4zM62.5 96.3h1.4v1.4h-1.4zM76.8 82.7h1.4v1.4h-1.4zM93.6 93.7h1.4v1.4h-1.4zM105.3 88.9h1.4v1.4h-1.4zM74.1 91.9h1.4v1.4h-1.4zM109.1 90.6h1.4v1.4h-1.4zM63.1 88.5h1.4v1.4h-1.4zM86.4 89.8h1.4v1.4h-1.4zM74.6 88.2h1.4v1.4h-1.4zM94.7 93.8h1.4v1.4h-1.4zM63.7 90.3h1.4v1.4h-1.4zM78.6 86.7h1.4v1.4h-1.4zM71.7 94.1h1.4v1.4h-1.4zM101.1 91.2h1.4v1.4h-1.4zM72.1 87.2h1.4v1.4h-1.4zM109.5 89.0h1.4v1.4h-1.4zM73.3 97.7h1.4v1.4h-1.4zM72.9 91.7h1.4v1.4h-1.4zM108.6 88.5h1.4v1.4h-1.4zM86.3 92.5h1.4v1.4h-1.4zM82.4 93.9h1.4v1.4h-1.4zM94.6 93.4h1.4v1.4h-1.4zM81.3 90.9h1.4v1.4h-1.4zM72.4 93.5h1.4v1.4h-1.4zM64.5 91.2h1.4v1.4h-1.4zM64.9 85.5h1.4v1.4h-1.4zM105.3 96.3h1.4v1.4h-1.4zM78.1 91.4h1.4v1.4h-1.4zM71.1 97.0h1.4v1.4h-1.4zM63.6 89.2h1.4v1.4h-1.4zM94.6 89.0h1.4v1.4h-1.4zM78.3 93.9h1.4v1.4h-1.4zM70.3 94.4h1.4v1.4h-1.4zM79.2 91.6h1.4v1.4h-1.4zM108.8 98.1h1.4v1.4h-1.4zM72.2 98.0h1.4v1.4h-1.4zM79.5 94.4h1.4v1.4h-1.4zM83.2 85.5h1.4v1.4h-1.4zM64.4 88.1h1.4v1.4h-1.4zM107.1 92.1h1.4v1.4h-1.4zM71.5 86.5h1.4v1.4h-1.4zM63.5 97.3h1.4v1.4h-1.4zM82.1 93.8h1.4v1.4h-1.4zM64.0 85.8h1.4v1.4h-1.4zM63.7 99.0h1.4v1.4h-1.4zM74.6 94.6h1.4v1.4h-1.4zM98.6 94.1h1.4v1.4h-1.4zM75.3 89.6h1.4v1.4h-1.4zM108.9 89.4h1.4v1.4h-1.4zM97.1 89.6h1.4v1.4h-1.4zM77.5 91.4h1.4v1.4h-1.4zM99.0 91.8h1.4v1.4h-1.4zM106.9 85.8h1.4v1.4h-1.4zM63.2 85.1h1.4v1.4h-1.4zM73.5 82.6h1.4v1.4h-1.4zM108.7 92.9h1.4v1.4h-1.4zM80.9 91.5h1.4v1.4h-1.4zM86.2 95.3h1.4v1.4h-1.4zM107.5 94.2h1.4v1.4h-1.4zM98.2 97.4h1.4v1.4h-1.4zM102.3 92.2h1.4v1.4h-1.4zM78.1 86.6h1.4v1.4h-1.4zM77.7 87.4h1.4v1.4h-1.4zM65.9 96.3h1.4v1.4h-1.4zM71.7 91.5h1.4v1.4h-1.4zM65.2 88.8h1.4v1.4h-1.4zM63.7 88.5h1.4v1.4h-1.4zM110.0 90.5h1.4v1.4h-1.4zM105.3 94.3h1.4v1.4h-1.4zM66.1 91.3h1.4v1.4h-1.4zM66.7 85.8h1.4v1.4h-1.4zM83.9 91.6h1.4v1.4h-1.4zM73.5 87.2h1.4v1.4h-1.4zM95.0 94.0h1.4v1.4h-1.4zM98.7 94.5h1.4v1.4h-1.4zM67.9 87.1h1.4v1.4h-1.4zM103.2 90.2h1.4v1.4h-1.4zM80.3 96.0h1.4v1.4h-1.4zM98.2 92.4h1.4v1.4h-1.4zM74.0 94.1h1.4v1.4h-1.4zM69.5 95.0h1.4v1.4h-1.4zM78.0 88.4h1.4v1.4h-1.4zM81.4 95.8h1.4v1.4h-1.4zM73.3 91.3h1.4v1.4h-1.4zM101.6 85.2h1.4v1.4h-1.4zM67.0 82.4h1.4v1.4h-1.4zM85.3 94.4h1.4v1.4h-1.4zM106.8 85.2h1.4v1.4h-1.4zM64.0 91.0h1.4v1.4h-1.4zM71.3 93.2h1.4v1.4h-1.4zM109.7 84.3h1.4v1.4h-1.4zM80.2 87.4h1.4v1.4h-1.4zM104.4 88.8h1.4v1.4h-1.4zM100.1 92.4h1.4v1.4h-1.4zM108.3 95.3h1.4v1.4h-1.4zM92.4 94.5h1.4v1.4h-1.4zM72.7 90.2h1.4v1.4h-1.4zM72.0 93.0h1.4v1.4h-1.4zM74.5 87.3h1.4v1.4h-1.4zM72.0 88.4h1.4v1.4h-1.4zM62.6 89.0h1.4v1.4h-1.4zM71.1 96.3h1.4v1.4h-1.4zM77.3 93.4h1.4v1.4h-1.4zM88.9 97.6h1.4v1.4h-1.4zM65.1 94.4h1.4v1.4h-1.4zM89.0 93.6h1.4v1.4h-1.4zM93.3 93.3h1.4v1.4h-1.4zM96.1 92.7h1.4v1.4h-1.4zM82.1 90.9h1.4v1.4h-1.4zM108.7 94.5h1.4v1.4h-1.4zM77.3 88.4h1.4v1.4h-1.4zM82.4 90.1h1.4v1.4h-1.4zM104.3 94.9h1.4v1.4h-1.4zM71.7 91.4h1.4v1.4h-1.4zM97.7 91.6h1.4v1.4h-1.4zM106.2 91.9h1.4v1.4h-1.4zM82.8 93.1h1.4v1.4h-1.4zM105.3 88.2h1.4v1.4h-1.4zM84.6 91.8h1.4v1.4h-1.4zM89.0 92.0h1.4v1.4h-1.4zM93.4 92.8h1.4v1.4h-1.4zM92.5 90.7h1.4v1.4h-1.4zM80.2 89.5h1.4v1.4h-1.4zM75.9 91.4h1.4v1.4h-1.4zM87.5 93.0h1.4v1.4h-1.4zM86.0 90.7h1.4v1.4h-1.4zM101.4 93.8h1.4v1.4h-1.4zM68.2 91.0h1.4v1.4h-1.4zM108.2 95.6h1.4v1.4h-1.4zM64.6 90.9h1.4v1.4h-1.4zM107.4 85.6h1.4v1.4h-1.4zM92.4 96.5h1.4v1.4h-1.4zM102.4 94.9h1.4v1.4h-1.4zM72.9 96.8h1.4v1.4h-1.4zM81.8 95.4h1.4v1.4h-1.4zM71.0 85.9h1.4v1.4h-1.4zM72.7 88.0h1.4v1.4h-1.4zM80.8 94.1h1.4v1.4h-1.4zM68.0 91.6h1.4v1.4h-1.4zM106.0 97.3h1.4v1.4h-1.4zM64.0 85.9h1.4v1.4h-1.4zM63.9 89.2h1.4v1.4h-1.4zM103.1 95.1h1.4v1.4h-1.4zM89.0 94.8h1.4v1.4h-1.4zM92.7 90.2h1.4v1.4h-1.4zM90.5 95.0h1.4v1.4h-1.4zM82.9 89.4h1.4v1.4h-1.4zM83.5 88.2h1.4v1.4h-1.4zM63.1 88.4h1.4v1.4h-1.4zM73.5 88.7h1.4v1.4h-1.4zM99.4 92.2h1.4v1.4h-1.4zM70.8 87.6h1.4v1.4h-1.4zM85.2 93.0h1.4v1.4h-1.4zM83.1 92.7h1.4v1.4h-1.4zM66.5 87.5h1.4v1.4h-1.4zM64.0 93.0h1.4v1.4h-1.4zM93.2 96.6h1.4v1.4h-1.4zM100.1 94.4h1.4v1.4h-1.4zM87.1 95.5h1.4v1.4h-1.4zM80.5 92.9h1.4v1.4h-1.4zM108.6 96.2h1.4v1.4h-1.4zM110.8 96.9h1.4v1.4h-1.4zM97.9 92.4h1.4v1.4h-1.4zM110.1 89.3h1.4v1.4h-1.4zM70.1 89.3h1.4v1.4h-1.4zM100.6 92.7h1.4v1.4h-1.4zM79.2 90.9h1.4v1.4h-1.4zM99.1 95.7h1.4v1.4h-1.4zM75.5 97.9h1.4v1.4h-1.4zM102.0 94.1h1.4v1.4h-1.4zM107.1 94.8h1.4v1.4h-1.4zM72.2 91.2h1.4v1.4h-1.4zM77.6 95.8h1.4v1.4h-1.4zM63.8 92.4h1.4v1.4h-1.4zM107.9 93.4h1.4v1.4h-1.4zM95.3 93.2h1.4v1.4h-1.4zM100.5 90.2h1.4v1.4h-1.4zM67.6 86.5h1.4v1.4h-1.4zM79.6 90.5h1.4v1.4h-1.4zM104.8 87.0h1.4v1.4h-1.4zM105.2 89.9h1.4v1.4h-1.4zM67.1 96.6h1.4v1.4h-1.4zM81.3 91.3h1.4v1.4h-1.4zM101.1 90.5h1.4v1.4h-1.4zM79.7 91.9h1.4v1.4h-1.4zM70.7 87.6h1.4v1.4h-1.4zM98.4 97.9h1.4v1.4h-1.4zM74.4 93.5h1.4v1.4h-1.4zM93.3 96.3h1.4v1.4h-1.4zM94.5 91.0h1.4v1.4h-1.4zM77.3 92.4h1.4v1.4h-1.4zM69.3 91.5h1.4v1.4h-1.4zM92.2 87.6h1.4v1.4h-1.4zM105.9 93.3h1.4v1.4h-1.4zM68.5 92.2h1.4v1.4h-1.4zM63.1 96.7h1.4v1.4h-1.4zM62.1 90.5h1.4v1.4h-1.4zM79.5 92.8h1.4v1.4h-1.4zM73.0 87.3h1.4v1.4h-1.4zM72.0 89.1h1.4v1.4h-1.4zM92.6 89.6h1.4v1.4h-1.4zM107.9 91.8h1.4v1.4h-1.4zM73.9 92.5h1.4v1.4h-1.4zM93.3 92.8h1.4v1.4h-1.4zM104.7 92.2h1.4v1.4h-1.4zM74.9 87.9h1.4v1.4h-1.4zM62.6 88.7h1.4v1.4h-1.4zM79.2 87.8h1.4v1.4h-1.4zM93.6 83.6h1.4v1.4h-1.4zM97.9 94.4h1.4v1.4h-1.4zM74.2 92.4h1.4v1.4h-1.4zM88.0 90.9h1.4v1.4h-1.4zM81.9 91.6h1.4v1.4h-1.4zM100.2 92.7h1.4v1.4h-1.4zM62.6 83.4h1.4v1.4h-1.4zM69.0 88.8h1.4v1.4h-1.4zM71.8 88.2h1.4v1.4h-1.4zM93.4 88.8h1.4v1.4h-1.4zM101.9 92.9h1.4v1.4h-1.4zM76.7 94.3h1.4v1.4h-1.4zM64.4 96.3h1.4v1.4h-1.4zM97.1 87.5h1.4v1.4h-1.4zM62.3 94.8h1.4v1.4h-1.4zM84.8 86.6h1.4v1.4h-1.4zM98.3 89.0h1.4v1.4h-1.4zM67.2 92.3h1.4v1.4h-1.4zM73.4 94.7h1.4v1.4h-1.4zM98.7 92.3h1.4v1.4h-1.4zM96.1 94.7h1.4v1.4h-1.4zM75.0 86.8h1.4v1.4h-1.4zM89.1 85.7h1.4v1.4h-1.4zM87.6 94.0h1.4v1.4h-1.4zM75.0 85.6h1.4v1.4h-1.4zM72.6 84.2h1.4v1.4h-1.4zM105.1 94.3h1.4v1.4h-1.4zM73.6 91.8h1.4v1.4h-1.4zM98.5 97.1h1.4v1.4h-1.4zM78.0 89.5h1.4v1.4h-1.4zM105.1 90.2h1.4v1.4h-1.4zM106.5 93.8h1.4v1.4h-1.4zM92.9 89.6h1.4v1.4h-1.4zM110.0 86.5h1.4v1.4h-1.4zM85.0 94.5h1.4v1.4h-1.4zM104.0 86.8h1.4v1.4h-1.4zM83.4 90.8h1.4v1.4h-1.4zM77.1 86.9h1.4v1.4h-1.4zM72.4 90.5h1.4v1.4h-1.4zM106.6 90.5h1.4v1.4h-1.4zM69.1 93.2h1.4v1.4h-1.4zM107.5 91.8h1.4v1.4h-1.4zM78.9 92.0h1.4v1.4h-1.4zM64.0 92.2h1.4v1.4h-1.4zM95.9 87.8h1.4v1.4h-1.4zM98.1 87.4h1.4v1.4h-1.4zM65.2 88.6h1.4v1.4h-1.4zM102.1 89.7h1.4v1.4h-1.4zM102.2 92.5h1.4v1.4h-1.4zM104.5 90.7h1.4v1.4h-1.4zM106.8 93.1h1.4v1.4h-1.4zM72.1 90.9h1.4v1.4h-1.4zM67.5 98.3h1.4v1.4h-1.4zM101.8 93.0h1.4v1.4h-1.4zM93.1 93.8h1.4v1.4h-1.4zM76.1 87.0h1.4v1.4h-1.4zM66.9 96.4h1.4v1.4h-1.4zM72.0 95.0h1.4v1.4h-1.4zM77.6 90.8h1.4v1.4h-1.4zM74.6 91.8h1.4v1.4h-1.4zM75.8 90.8h1.4v1.4h-1.4zM77.7 88.1h1.4v1.4h-1.4zM109.2 84.5h1.4v1.4h-1.4zM92.3 91.3h1.4v1.4h-1.4zM63.5 88.2h1.4v1.4h-1.4zM99.9 93.5h1.4v1.4h-1.4zM79.0 90.2h1.4v1.4h-1.4zM72.6 87.2h1.4v1.4h-1.4zM104.2 97.1h1.4v1.4h-1.4zM70.3 95.1h1.4v1.4h-1.4zM62.1 93.3h1.4v1.4h-1.4zM109.9 97.3h1.4v1.4h-1.4zM62.2 87.3h1.4v1.4h-1.4zM101.0 91.7h1.4v1.4h-1.4zM71.0 88.2h1.4v1.4h-1.4zM102.8 91.6h1.4v1.4h-1.4zM74.8 94.3h1.4v1.4h-1.4zM72.5 90.5h1.4v1.4h-1.4zM96.3 89.8h1.4v1.4h-1.4zM93.2 91.5h1.4v1.4h-1.4zM66.0 92.8h1.4v1.4h-1.4zM100.6 86.1h1.4v1.4h-1.4zM92.8 89.3h1.4v1.4h-1.4zM81.3 94.4h1.4v1.4h-1.4zM105.6 98.0h1.4v1.4h-1.4zM63.2 95.4h1.4v1.4h-1.4zM72.1 90.9h1.4v1.4h-1.4zM80.6 93.5h1.4v1.4h-1.4zM84.6 89.8h1.4v1.4h-1.4zM88.0 91.7h1.4v1.4h-1.4zM93.7 85.5h1.4v1.4h-1.4zM79.1 90.5h1.4v1.4h-1.4zM103.3 93.4h1.4v1.4h-1.4zM94.4 91.4h1.4v1.4h-1.4zM83.5 89.3h1.4v1.4h-1.4zM99.9 89.9h1.4v1.4h-1.4zM84.6 90.6h1.4v1.4h-1.4zM105.4 91.7h1.4v1.4h-1.4zM76.8 93.8h1.4v1.4h-1.4zM96.5 92.7h1.4v1.4h-1.4zM69.6 89.8h1.4v1.4h-1.4zM74.1 89.5h1.4v1.4h-1.4zM69.9 95.4h1.4v1.4h-1.4zM78.1 95.1h1.4v1.4h-1.4zM67.0 93.1h1.4v1.4h-1.4zM80.8 91.1h1.4v1.4h-1.4zM110.2 93.1h1.4v1.4h-1.4zM83.3 85.9h1.4v1.4h-1.4zM71.6 90.4h1.4v1.4h-1.4zM72.1 90.2h1.4v1.4h-1.4zM81.0 95.1h1.4v1.4h-1.4zM100.8 92.3h1.4v1.4h-1.4zM96.0 86.4h1.4v1.4h-1.4zM84.7 91.5h1.4v1.4h-1.4zM68.9 88.6h1.4v1.4h-1.4zM98.3 89.3h1.4v1.4h-1.4zM106.5 87.2h1.4v1.4h-1.4zM98.7 93.5h1.4v1.4h-1.4zM82.6 92.3h1.4v1.4h-1.4zM105.1 97.2h1.4v1.4h-1.4zM99.9 89.3h1.4v1.4h-1.4zM95.3 84.8h1.4v1.4h-1.4zM93.4 88.5h1.4v1.4h-1.4zM92.8 92.4h1.4v1.4h-1.4zM66.8 86.0h1.4v1.4h-1.4zM96.9 94.5h1.4v1.4h-1.4zM92.9 91.5h1.4v1.4h-1.4zM84.3 95.3h1.4v1.4h-1.4zM92.5 87.0h1.4v1.4h-1.4zM107.6 94.4h1.4v1.4h-1.4zM71.0 88.0h1.4v1.4h-1.4zM81.0 86.3h1.4v1.4h-1.4zM86.0 92.5h1.4v1.4h-1.4zM88.6 91.3h1.4v1.4h-1.4zM69.9 93.2h1.4v1.4h-1.4zM87.4 83.1h1.4v1.4h-1.4zM67.0 87.5h1.4v1.4h-1.4zM97.1 89.5h1.4v1.4h-1.4zM87.1 87.2h1.4v1.4h-1.4zM87.6 86.3h1.4v1.4h-1.4zM82.1 93.8h1.4v1.4h-1.4zM95.5 90.7h1.4v1.4h-1.4zM81.2 91.6h1.4v1.4h-1.4zM110.2 89.7h1.4v1.4h-1.4zM79.4 94.2h1.4v1.4h-1.4zM81.6 92.5h1.4v1.4h-1.4zM62.7 88.2h1.4v1.4h-1.4zM96.2 93.3h1.4v1.4h-1.4zM79.3 91.3h1.4v1.4h-1.4zM98.3 94.1h1.4v1.4h-1.4zM108.1 89.0h1.4v1.4h-1.4zM101.3 91.1h1.4v1.4h-1.4zM81.2 91.9h1.4v1.4h-1.4zM100.1 93.3h1.4v1.4h-1.4zM101.7 88.8h1.4v1.4h-1.4zM89.5 88.5h1.4v1.4h-1.4zM73.1 94.8h1.4v1.4h-1.4zM93.3 90.7h1.4v1.4h-1.4zM102.1 93.1h1.4v1.4h-1.4zM76.4 87.8h1.4v1.4h-1.4zM88.9 96.3h1.4v1.4h-1.4zM79.4 96.3h1.4v1.4h-1.4zM103.7 91.1h1.4v1.4h-1.4zM74.4 95.0h1.4v1.4h-1.4zM82.9 91.6h1.4v1.4h-1.4zM97.4 91.7h1.4v1.4h-1.4zM75.8 91.6h1.4v1.4h-1.4zM85.5 94.6h1.4v1.4h-1.4zM83.0 88.1h1.4v1.4h-1.4zM79.8 87.5h1.4v1.4h-1.4zM107.5 92.3h1.4v1.4h-1.4zM102.6 90.5h1.4v1.4h-1.4zM106.4 91.9h1.4v1.4h-1.4zM102.7 89.6h1.4v1.4h-1.4zM93.0 92.0h1.4v1.4h-1.4zM108.6 91.6h1.4v1.4h-1.4zM94.1 91.5h1.4v1.4h-1.4zM69.0 93.2h1.4v1.4h-1.4zM73.4 92.0h1.4v1.4h-1.4zM69.5 88.2h1.4v1.4h-1.4zM106.3 92.1h1.4v1.4h-1.4zM105.7 89.4h1.4v1.4h-1.4zM91.8 92.5h1.4v1.4h-1.4zM105.8 86.3h1.4v1.4h-1.4zM100.6 92.8h1.4v1.4h-1.4zM95.9 89.5h1.4v1.4h-1.4zM88.0 91.3h1.4v1.4h-1.4zM105.3 87.6h1.4v1.4h-1.4zM89.2 91.3h1.4v1.4h-1.4zM68.8 94.1h1.4v1.4h-1.4zM86.2 95.3h1.4v1.4h-1.4zM69.1 93.0h1.4v1.4h-1.4zM86.1 87.0h1.4v1.4h-1.4zM104.3 91.6h1.4v1.4h-1.4zM62.3 93.7h1.4v1.4h-1.4zM89.6 88.1h1.4v1.4h-1.4zM94.6 93.4h1.4v1.4h-1.4zM82.5 88.6h1.4v1.4h-1.4zM109.1 96.1h1.4v1.4h-1.4zM93.2 93.8h1.4v1.4h-1.4zM63.4 87.3h1.4v1.4h-1.4zM107.6 88.0h1.4v1.4h-1.4zM78.2 95.8h1.4v1.4h-1.4zM85.7 91.0h1.4v1.4h-1.4z" fill="#1414ff"/>
<path d="M52.1 44.2h1.3v1.3h-1.3zM66.5 65.6h1.3v1.3h-1.3zM52.4 97.2h1.3v1.3h-1.3zM65.0 70.7h1.3v1.3h-1.3zM65.5 56.7h1.3v1.3h-1.3zM66.5 63.9h1.3v1.3h-1.3zM61.0 97.7h1.3v1.3h-1.3zM66.5 53.6h1.3v1.3h-1.3zM38.6 48.5h1.3v1.3h-1.3zM44.6 97.9h1.3v1.3h-1.3zM63.6 51.5h1.3v1.3h-1.3zM42.3 46.9h1.3v1.3h-1.3zM43.3 96.3h1.3v1.3h-1.3zM43.6 45.7h1.3v1.3h-1.3zM53.1 46.0h1.3v1.3h-1.3zM50.6 44.8h1.3v1.3h-1.3zM59.2 46.8h1.3v1.3h-1.3zM66.4 54.4h1.3v1.3h-1.3zM40.8 97.2h1.3v1.3h-1.3zM42.1 95.8h1.3v1.3h-1.3zM67.7 88.1h1.3v1.3h-1.3zM38.1 46.2h1.3v1.3h-1.3zM56.4 46.7h1.3v1.3h-1.3zM65.6 95.7h1.3v1.3h-1.3zM36.6 47.4h1.3v1.3h-1.3zM45.0 47.5h1.3v1.3h-1.3zM66.8 63.0h1.3v1.3h-1.3zM60.1 48.6h1.3v1.3h-1.3zM60.5 47.7h1.3v1.3h-1.3zM64.5 95.8h1.3v1.3h-1.3zM41.0 47.9h1.3v1.3h-1.3zM43.8 99.2h1.3v1.3h-1.3zM62.3 46.2h1.3v1.3h-1.3zM65.9 70.0h1.3v1.3h-1.3zM53.7 44.9h1.3v1.3h-1.3zM57.4 47.2h1.3v1.3h-1.3zM60.7 96.1h1.3v1.3h-1.3zM65.2 54.6h1.3v1.3h-1.3zM40.5 95.8h1.3v1.3h-1.3zM57.6 47.7h1.3v1.3h-1.3zM63.0 48.0h1.3v1.3h-1.3zM65.2 51.2h1.3v1.3h-1.3zM67.5 57.4h1.3v1.3h-1.3zM40.5 50.8h1.3v1.3h-1.3zM45.7 97.4h1.3v1.3h-1.3zM50.5 97.2h1.3v1.3h-1.3zM46.4 46.3h1.3v1.3h-1.3zM64.2 49.2h1.3v1.3h-1.3zM65.6 51.6h1.3v1.3h-1.3zM68.3 87.8h1.3v1.3h-1.3zM42.5 45.6h1.3v1.3h-1.3zM54.5 97.6h1.3v1.3h-1.3zM63.4 49.8h1.3v1.3h-1.3zM65.6 75.0h1.3v1.3h-1.3zM55.5 45.4h1.3v1.3h-1.3zM45.3 46.5h1.3v1.3h-1.3zM66.0 75.0h1.3v1.3h-1.3zM38.9 51.7h1.3v1.3h-1.3zM40.9 97.1h1.3v1.3h-1.3zM68.0 57.0h1.3v1.3h-1.3z" fill="#1414ff"/>
<g clip-path="url(#c1)"><g filter="url(#bl)"><ellipse cx="52.0" cy="59.0" rx="14.8" ry="13.5" fill="#1414ff"/><rect x="37.0" y="58.0" width="29.5" height="32.0" rx="0.0" fill="#1414ff"/><ellipse cx="52.0" cy="89.0" rx="14.8" ry="8.8" fill="#1414ff"/><ellipse cx="52.0" cy="59.5" rx="13.2" ry="12.3" fill="#0f3cff"/><rect x="39.5" y="60.0" width="25.0" height="29.0" rx="0.0" fill="#0f3cff"/><ellipse cx="52.5" cy="89.0" rx="13.0" ry="7.5" fill="#0f3cff"/><ellipse cx="52.0" cy="60.0" rx="12.2" ry="11.8" fill="#0a7dff"/><ellipse cx="52.5" cy="88.8" rx="12.0" ry="7.0" fill="#0a7dff"/><rect x="42.0" y="64.0" width="20.0" height="22.0" rx="5.0" fill="#0a7dff"/><ellipse cx="52.0" cy="60.5" rx="11.0" ry="11.0" fill="#00e8ff"/><ellipse cx="52.5" cy="88.8" rx="10.5" ry="6.3" fill="#00e8ff"/><ellipse cx="52.0" cy="76.0" rx="7.5" ry="9.0" fill="#00e8ff"/><ellipse cx="52.0" cy="60.3" rx="9.8" ry="9.6" fill="#18ff28"/><ellipse cx="52.2" cy="69.5" rx="6.0" ry="6.2" fill="#18ff28"/><ellipse cx="52.5" cy="89.0" rx="8.2" ry="4.6" fill="#18ff28"/><ellipse cx="52.0" cy="59.2" rx="8.2" ry="6.8" fill="#ffff00"/><ellipse cx="52.6" cy="89.2" rx="5.6" ry="2.9" fill="#ffff00"/><ellipse cx="52.0" cy="58.6" rx="7.1" ry="5.4" fill="#ff8c00"/><ellipse cx="51.8" cy="58.2" rx="6.2" ry="4.5" fill="#ff0000"/></g></g>
<path d="M37.4 110.4V17.6H130.8V71.5M130.8 98.5V110.4H37.4" fill="none" stroke="#222" stroke-width="0.9"/>
<rect x="38.00" y="77.90" width="72.60" height="23.50" fill="none" stroke="#e2487f" stroke-width="0.90"/>
<line x1="110.60" y1="91.60" x2="137.50" y2="91.60" stroke="#111" stroke-width="0.90"/>
<polygon points="142.0,91.6 136.6,89.4 136.6,93.8" fill="#111"/>
<text x="111.6" y="88.0" font-size="9.3" fill="#111" stroke="#111" stroke-width="0.22">CD62L<tspan dx="0.6" dy="-4.4" font-size="7.2">lo</tspan></text>
<line x1="37.40" y1="28.00" x2="34.00" y2="28.00" stroke="#222" stroke-width="0.80"/>
<text x="33.0" y="30.8" font-size="7.90" text-anchor="end" fill="#111" stroke="#111" stroke-width="0.22">10<tspan dy="-3.00" font-size="5.53">6</tspan></text>
<line x1="37.40" y1="44.70" x2="34.00" y2="44.70" stroke="#222" stroke-width="0.80"/>
<text x="33.0" y="47.5" font-size="7.90" text-anchor="end" fill="#111" stroke="#111" stroke-width="0.22">10<tspan dy="-3.00" font-size="5.53">5</tspan></text>
<line x1="37.40" y1="63.00" x2="34.00" y2="63.00" stroke="#222" stroke-width="0.80"/>
<text x="33.0" y="65.8" font-size="7.90" text-anchor="end" fill="#111" stroke="#111" stroke-width="0.22">10<tspan dy="-3.00" font-size="5.53">4</tspan></text>
<line x1="37.40" y1="90.00" x2="34.00" y2="90.00" stroke="#222" stroke-width="0.80"/>
<text x="22.5" y="92.8" font-size="7.90" text-anchor="middle" fill="#111" stroke="#111" stroke-width="0.22">0</text>
<path d="M37.4 57.5h-2.6M37.4 54.3h-2.6M37.4 52.0h-2.6M37.4 50.2h-2.6M37.4 48.8h-2.6M37.4 47.5h-2.6M37.4 46.5h-2.6M37.4 45.5h-2.6M37.4 39.7h-2.6M37.4 36.7h-2.6M37.4 34.6h-2.6M37.4 33.0h-2.6M37.4 31.7h-2.6M37.4 30.6h-2.6M37.4 29.6h-2.6M37.4 28.8h-2.6M37.4 23.0h-2.6M37.4 20.0h-2.6M37.4 17.9h-2.6M37.4 76.0h-2.6M37.4 71.0h-2.6M37.4 104.0h-2.6M37.4 108.0h-2.6" stroke="#111" stroke-width="0.85" fill="none"/>
<path d="M37.4 82.8h-4.6M37.4 84.0h-3.4M37.4 85.2h-4.6M37.4 86.4h-4.6M37.4 87.6h-3.4M37.4 88.8h-4.6M37.4 90.0h-4.6M37.4 91.2h-4.6M37.4 92.4h-3.4M37.4 93.6h-4.6M37.4 94.8h-4.6M37.4 96.0h-3.4M37.4 97.2h-4.6" stroke="#000" stroke-width="1.0" fill="none"/>
<path d="M57.2 110.4v4.8M81.7 110.4v4.8M100.0 110.4v4.8M116.5 110.4v4.8M68.9 110.4v3.0M72.1 110.4v3.0M74.4 110.4v3.0M76.2 110.4v3.0M77.6 110.4v3.0M78.9 110.4v3.0M79.9 110.4v3.0M80.9 110.4v3.0M87.2 110.4v3.0M90.4 110.4v3.0M92.7 110.4v3.0M94.5 110.4v3.0M95.9 110.4v3.0M97.2 110.4v3.0M98.2 110.4v3.0M99.2 110.4v3.0M105.0 110.4v3.0M107.9 110.4v3.0M109.9 110.4v3.0M111.5 110.4v3.0M112.8 110.4v3.0M113.9 110.4v3.0M114.9 110.4v3.0M115.7 110.4v3.0M122.0 110.4v3.0M125.2 110.4v3.0M127.5 110.4v3.0M129.3 110.4v3.0" stroke="#111" stroke-width="0.85" fill="none"/>
<path d="M48.8 110.4v3.6M50.0 110.4v4.8M51.2 110.4v3.6M52.4 110.4v4.8M53.6 110.4v4.8M54.8 110.4v3.6M56.0 110.4v4.8M57.2 110.4v4.8M58.4 110.4v4.8M59.6 110.4v3.6M60.8 110.4v4.8M62.0 110.4v4.8M63.2 110.4v3.6M64.4 110.4v4.8M65.6 110.4v3.6" stroke="#000" stroke-width="1.0" fill="none"/>
<path d="M45.2 110.4v3.0M39.7 110.4v3.0" stroke="#111" stroke-width="0.85" fill="none"/>
<text x="57.2" y="126.5" font-size="7.90" text-anchor="middle" fill="#111" stroke="#111" stroke-width="0.22">0</text>
<text x="81.7" y="126.5" font-size="7.90" text-anchor="middle" fill="#111" stroke="#111" stroke-width="0.22">10<tspan dy="-3.00" font-size="5.53">4</tspan></text>
<text x="100.0" y="126.5" font-size="7.90" text-anchor="middle" fill="#111" stroke="#111" stroke-width="0.22">10<tspan dy="-3.00" font-size="5.53">5</tspan></text>
<text x="116.5" y="126.5" font-size="7.90" text-anchor="middle" fill="#111" stroke="#111" stroke-width="0.22">10<tspan dy="-3.00" font-size="5.53">6</tspan></text>
<text x="68.5" y="137.5" font-size="8.40" text-anchor="middle" fill="#111" stroke="#111" stroke-width="0.22">KLRG1-BV750</text>
<line x1="102.00" y1="134.50" x2="119.70" y2="134.50" stroke="#111" stroke-width="0.90"/>
<polygon points="125.50,134.50 119.70,136.90 119.70,132.10" fill="#111"/>
<text x="12.7" y="84.0" font-size="8.40" text-anchor="middle" fill="#111" stroke="#111" stroke-width="0.22" transform="rotate(-90 12.70 81.00)">CD62L-AF 700</text>
<line x1="12.30" y1="43.00" x2="12.30" y2="25.60" stroke="#111" stroke-width="0.90"/>
<polygon points="12.30,19.80 14.80,25.60 9.80,25.60" fill="#111"/>
<path d="M223.5 89.6h1.4v1.4h-1.4zM209.3 80.4h1.4v1.4h-1.4zM208.0 81.8h1.4v1.4h-1.4zM205.1 80.5h1.4v1.4h-1.4zM216.9 88.7h1.4v1.4h-1.4zM214.5 89.5h1.4v1.4h-1.4zM225.7 80.6h1.4v1.4h-1.4zM218.0 84.0h1.4v1.4h-1.4zM206.0 89.6h1.4v1.4h-1.4zM209.4 85.6h1.4v1.4h-1.4zM219.0 89.6h1.4v1.4h-1.4zM219.7 83.9h1.4v1.4h-1.4zM214.2 81.6h1.4v1.4h-1.4zM227.1 89.9h1.4v1.4h-1.4zM208.5 80.4h1.4v1.4h-1.4zM209.4 83.5h1.4v1.4h-1.4zM225.6 89.0h1.4v1.4h-1.4zM223.9 80.5h1.4v1.4h-1.4zM222.7 87.1h1.4v1.4h-1.4zM219.2 89.9h1.4v1.4h-1.4zM204.4 81.4h1.4v1.4h-1.4zM221.9 89.4h1.4v1.4h-1.4zM219.9 83.0h1.4v1.4h-1.4zM217.8 87.6h1.4v1.4h-1.4zM205.6 83.2h1.4v1.4h-1.4zM209.4 81.2h1.4v1.4h-1.4zM215.0 81.7h1.4v1.4h-1.4zM209.0 81.4h1.4v1.4h-1.4zM219.9 80.1h1.4v1.4h-1.4zM220.9 82.0h1.4v1.4h-1.4zM203.9 89.3h1.4v1.4h-1.4zM208.5 89.3h1.4v1.4h-1.4zM224.7 88.9h1.4v1.4h-1.4zM206.5 84.5h1.4v1.4h-1.4zM205.4 89.3h1.4v1.4h-1.4z" fill="#1414ff"/>
<path d="M220.7 80.7h1.4v1.4h-1.4zM212.5 78.1h1.4v1.4h-1.4zM220.3 79.3h1.4v1.4h-1.4zM216.2 76.3h1.4v1.4h-1.4zM207.7 75.5h1.4v1.4h-1.4zM218.0 80.0h1.4v1.4h-1.4zM206.0 82.8h1.4v1.4h-1.4zM208.6 78.7h1.4v1.4h-1.4zM206.3 77.4h1.4v1.4h-1.4zM220.6 78.0h1.4v1.4h-1.4z" fill="#1414ff"/>
<path d="M258.7 78.0h1.4v1.4h-1.4zM259.3 79.6h1.4v1.4h-1.4z" fill="#1414ff"/>
<path d="M252.6 104.6h1.4v1.4h-1.4zM251.9 100.7h1.4v1.4h-1.4zM253.9 97.9h1.4v1.4h-1.4zM243.1 103.6h1.4v1.4h-1.4zM245.6 92.0h1.4v1.4h-1.4zM243.2 104.3h1.4v1.4h-1.4zM243.7 91.4h1.4v1.4h-1.4zM229.4 102.1h1.4v1.4h-1.4zM251.2 100.7h1.4v1.4h-1.4zM238.0 104.6h1.4v1.4h-1.4zM226.3 94.1h1.4v1.4h-1.4zM245.6 90.5h1.4v1.4h-1.4zM224.8 103.2h1.4v1.4h-1.4zM243.2 90.5h1.4v1.4h-1.4zM243.4 91.6h1.4v1.4h-1.4zM253.8 95.8h1.4v1.4h-1.4zM249.9 96.8h1.4v1.4h-1.4zM243.3 91.0h1.4v1.4h-1.4zM222.6 95.9h1.4v1.4h-1.4zM234.6 103.9h1.4v1.4h-1.4zM227.4 100.2h1.4v1.4h-1.4zM249.1 96.5h1.4v1.4h-1.4zM227.8 93.3h1.4v1.4h-1.4zM237.2 92.1h1.4v1.4h-1.4zM241.0 90.9h1.4v1.4h-1.4zM241.1 91.2h1.4v1.4h-1.4zM245.4 92.3h1.4v1.4h-1.4zM224.2 101.5h1.4v1.4h-1.4zM248.6 95.0h1.4v1.4h-1.4zM227.9 105.0h1.4v1.4h-1.4zM225.1 94.7h1.4v1.4h-1.4zM225.4 96.8h1.4v1.4h-1.4zM251.0 97.1h1.4v1.4h-1.4zM247.1 88.1h1.4v1.4h-1.4zM227.5 101.3h1.4v1.4h-1.4zM225.1 97.1h1.4v1.4h-1.4zM228.4 93.7h1.4v1.4h-1.4zM250.3 102.6h1.4v1.4h-1.4zM251.9 100.6h1.4v1.4h-1.4zM222.6 93.5h1.4v1.4h-1.4zM250.5 95.0h1.4v1.4h-1.4zM232.1 105.1h1.4v1.4h-1.4zM223.8 92.5h1.4v1.4h-1.4zM232.8 104.8h1.4v1.4h-1.4zM225.6 98.6h1.4v1.4h-1.4zM247.4 102.7h1.4v1.4h-1.4zM225.5 100.4h1.4v1.4h-1.4zM231.2 102.6h1.4v1.4h-1.4zM225.4 104.3h1.4v1.4h-1.4zM236.5 104.1h1.4v1.4h-1.4zM244.0 104.3h1.4v1.4h-1.4zM248.2 94.6h1.4v1.4h-1.4zM248.3 93.2h1.4v1.4h-1.4zM249.6 103.3h1.4v1.4h-1.4zM244.1 92.6h1.4v1.4h-1.4zM247.5 102.1h1.4v1.4h-1.4zM241.8 105.7h1.4v1.4h-1.4zM237.8 91.2h1.4v1.4h-1.4zM237.1 91.2h1.4v1.4h-1.4zM234.3 91.8h1.4v1.4h-1.4zM233.6 105.1h1.4v1.4h-1.4zM231.5 103.7h1.4v1.4h-1.4zM226.7 96.2h1.4v1.4h-1.4zM239.3 91.2h1.4v1.4h-1.4zM249.6 97.7h1.4v1.4h-1.4zM226.6 91.9h1.4v1.4h-1.4zM249.9 99.1h1.4v1.4h-1.4zM247.1 91.2h1.4v1.4h-1.4zM244.0 103.5h1.4v1.4h-1.4zM243.6 92.8h1.4v1.4h-1.4zM229.0 103.0h1.4v1.4h-1.4zM252.0 93.1h1.4v1.4h-1.4zM245.4 92.0h1.4v1.4h-1.4zM231.4 92.2h1.4v1.4h-1.4zM253.1 96.6h1.4v1.4h-1.4zM250.6 90.7h1.4v1.4h-1.4zM229.9 104.2h1.4v1.4h-1.4zM248.6 102.6h1.4v1.4h-1.4zM225.0 100.7h1.4v1.4h-1.4zM248.6 102.1h1.4v1.4h-1.4zM250.3 94.4h1.4v1.4h-1.4zM243.7 103.2h1.4v1.4h-1.4zM231.5 103.1h1.4v1.4h-1.4zM232.5 91.9h1.4v1.4h-1.4zM236.6 89.3h1.4v1.4h-1.4zM226.0 96.0h1.4v1.4h-1.4zM250.1 103.3h1.4v1.4h-1.4zM247.7 102.1h1.4v1.4h-1.4zM233.3 91.9h1.4v1.4h-1.4zM223.8 97.9h1.4v1.4h-1.4zM243.3 104.1h1.4v1.4h-1.4z" fill="#1414ff"/>
<path d="M242.2 94.2h1.4v1.4h-1.4zM231.6 95.3h1.4v1.4h-1.4zM229.6 94.3h1.4v1.4h-1.4zM241.5 93.6h1.4v1.4h-1.4zM244.7 95.8h1.4v1.4h-1.4zM231.5 101.5h1.4v1.4h-1.4zM246.5 98.1h1.4v1.4h-1.4zM230.1 99.4h1.4v1.4h-1.4zM246.0 101.9h1.4v1.4h-1.4zM233.2 103.1h1.4v1.4h-1.4zM245.8 96.8h1.4v1.4h-1.4zM229.4 97.6h1.4v1.4h-1.4zM247.4 98.5h1.4v1.4h-1.4zM230.4 96.0h1.4v1.4h-1.4zM245.6 93.8h1.4v1.4h-1.4zM229.8 98.2h1.4v1.4h-1.4zM243.5 101.7h1.4v1.4h-1.4zM242.6 94.3h1.4v1.4h-1.4zM246.0 99.4h1.4v1.4h-1.4zM230.4 99.7h1.4v1.4h-1.4zM247.1 96.0h1.4v1.4h-1.4zM234.6 102.9h1.4v1.4h-1.4zM244.8 101.3h1.4v1.4h-1.4zM246.1 96.8h1.4v1.4h-1.4zM237.1 102.0h1.4v1.4h-1.4zM245.5 100.4h1.4v1.4h-1.4zM243.1 93.8h1.4v1.4h-1.4zM228.8 95.8h1.4v1.4h-1.4zM241.3 103.4h1.4v1.4h-1.4zM229.4 99.1h1.4v1.4h-1.4zM232.0 95.4h1.4v1.4h-1.4zM239.5 102.2h1.4v1.4h-1.4zM231.1 101.2h1.4v1.4h-1.4zM230.4 96.5h1.4v1.4h-1.4zM231.7 102.3h1.4v1.4h-1.4zM241.7 94.1h1.4v1.4h-1.4zM238.5 93.9h1.4v1.4h-1.4zM240.4 92.5h1.4v1.4h-1.4zM238.9 93.2h1.4v1.4h-1.4zM230.6 99.2h1.4v1.4h-1.4zM231.1 100.9h1.4v1.4h-1.4zM243.6 101.7h1.4v1.4h-1.4zM230.5 96.3h1.4v1.4h-1.4zM229.6 97.5h1.4v1.4h-1.4zM232.1 101.8h1.4v1.4h-1.4zM234.2 94.1h1.4v1.4h-1.4zM230.7 100.7h1.4v1.4h-1.4zM245.9 97.1h1.4v1.4h-1.4zM228.9 99.9h1.4v1.4h-1.4zM246.4 94.6h1.4v1.4h-1.4zM229.7 97.7h1.4v1.4h-1.4zM231.5 94.4h1.4v1.4h-1.4zM234.3 103.2h1.4v1.4h-1.4zM243.1 94.0h1.4v1.4h-1.4zM229.1 98.1h1.4v1.4h-1.4zM237.0 103.2h1.4v1.4h-1.4zM229.0 99.9h1.4v1.4h-1.4zM244.1 102.7h1.4v1.4h-1.4zM245.5 95.2h1.4v1.4h-1.4zM229.3 97.6h1.4v1.4h-1.4zM230.3 101.5h1.4v1.4h-1.4zM233.5 102.8h1.4v1.4h-1.4zM245.0 100.9h1.4v1.4h-1.4zM232.7 101.2h1.4v1.4h-1.4zM245.8 102.1h1.4v1.4h-1.4zM248.4 99.0h1.4v1.4h-1.4zM229.2 100.8h1.4v1.4h-1.4zM236.9 92.3h1.4v1.4h-1.4zM242.8 94.0h1.4v1.4h-1.4zM228.2 100.2h1.4v1.4h-1.4zM243.8 94.1h1.4v1.4h-1.4zM247.7 95.7h1.4v1.4h-1.4zM248.2 99.9h1.4v1.4h-1.4zM230.5 99.9h1.4v1.4h-1.4zM237.4 102.5h1.4v1.4h-1.4zM247.8 97.0h1.4v1.4h-1.4zM235.2 92.8h1.4v1.4h-1.4zM243.7 101.6h1.4v1.4h-1.4zM243.0 102.7h1.4v1.4h-1.4zM231.7 95.7h1.4v1.4h-1.4zM241.6 103.3h1.4v1.4h-1.4zM234.4 101.6h1.4v1.4h-1.4zM247.6 100.9h1.4v1.4h-1.4zM246.9 97.4h1.4v1.4h-1.4zM244.3 100.6h1.4v1.4h-1.4zM246.8 95.5h1.4v1.4h-1.4zM241.9 102.7h1.4v1.4h-1.4zM232.0 101.4h1.4v1.4h-1.4zM229.0 95.9h1.4v1.4h-1.4zM242.6 92.9h1.4v1.4h-1.4zM229.8 98.1h1.4v1.4h-1.4zM235.9 103.2h1.4v1.4h-1.4zM234.5 101.6h1.4v1.4h-1.4zM247.5 96.8h1.4v1.4h-1.4zM233.7 93.6h1.4v1.4h-1.4zM235.3 102.5h1.4v1.4h-1.4zM245.7 96.8h1.4v1.4h-1.4zM246.8 100.7h1.4v1.4h-1.4zM231.6 101.4h1.4v1.4h-1.4zM230.6 100.2h1.4v1.4h-1.4zM244.8 95.1h1.4v1.4h-1.4zM229.1 98.3h1.4v1.4h-1.4zM239.3 102.6h1.4v1.4h-1.4zM244.4 100.8h1.4v1.4h-1.4zM227.5 96.2h1.4v1.4h-1.4zM249.2 97.7h1.4v1.4h-1.4zM246.7 96.8h1.4v1.4h-1.4zM247.4 98.5h1.4v1.4h-1.4zM245.5 94.8h1.4v1.4h-1.4zM244.3 94.7h1.4v1.4h-1.4zM242.9 94.0h1.4v1.4h-1.4zM241.5 102.2h1.4v1.4h-1.4zM235.3 103.3h1.4v1.4h-1.4zM244.2 94.8h1.4v1.4h-1.4zM244.7 94.5h1.4v1.4h-1.4z" fill="#1a50ff"/>
<path d="M235.6 95.8h1.4v1.4h-1.4zM232.3 98.4h1.4v1.4h-1.4zM237.8 100.4h1.4v1.4h-1.4zM242.7 99.7h1.4v1.4h-1.4zM237.1 95.0h1.4v1.4h-1.4zM240.2 94.9h1.4v1.4h-1.4zM240.9 101.5h1.4v1.4h-1.4zM242.2 96.7h1.4v1.4h-1.4zM236.9 95.7h1.4v1.4h-1.4zM237.3 100.4h1.4v1.4h-1.4zM237.2 94.3h1.4v1.4h-1.4zM240.4 95.0h1.4v1.4h-1.4zM241.8 96.0h1.4v1.4h-1.4zM242.9 97.5h1.4v1.4h-1.4zM236.5 95.7h1.4v1.4h-1.4zM232.4 100.4h1.4v1.4h-1.4zM239.1 94.8h1.4v1.4h-1.4zM238.4 101.2h1.4v1.4h-1.4zM238.0 101.8h1.4v1.4h-1.4zM233.5 95.5h1.4v1.4h-1.4zM234.5 95.8h1.4v1.4h-1.4zM235.6 95.4h1.4v1.4h-1.4zM234.2 96.1h1.4v1.4h-1.4zM230.6 97.5h1.4v1.4h-1.4zM243.5 97.1h1.4v1.4h-1.4zM236.1 101.5h1.4v1.4h-1.4zM236.8 100.6h1.4v1.4h-1.4zM236.1 100.5h1.4v1.4h-1.4zM244.5 98.3h1.4v1.4h-1.4zM241.3 96.0h1.4v1.4h-1.4zM243.2 95.2h1.4v1.4h-1.4zM244.4 99.4h1.4v1.4h-1.4zM241.9 99.6h1.4v1.4h-1.4zM241.6 100.7h1.4v1.4h-1.4zM231.4 96.4h1.4v1.4h-1.4zM232.7 95.8h1.4v1.4h-1.4zM237.0 95.0h1.4v1.4h-1.4zM233.4 100.1h1.4v1.4h-1.4zM230.4 98.0h1.4v1.4h-1.4zM240.4 100.8h1.4v1.4h-1.4zM243.4 96.5h1.4v1.4h-1.4zM242.6 97.4h1.4v1.4h-1.4zM235.2 94.7h1.4v1.4h-1.4zM243.5 100.0h1.4v1.4h-1.4zM244.4 97.9h1.4v1.4h-1.4zM240.9 100.8h1.4v1.4h-1.4zM243.6 95.6h1.4v1.4h-1.4zM241.2 100.5h1.4v1.4h-1.4zM239.7 100.1h1.4v1.4h-1.4zM244.0 98.1h1.4v1.4h-1.4zM235.7 95.9h1.4v1.4h-1.4zM231.6 96.3h1.4v1.4h-1.4zM241.5 99.3h1.4v1.4h-1.4zM238.8 94.8h1.4v1.4h-1.4zM236.6 94.7h1.4v1.4h-1.4zM240.7 100.5h1.4v1.4h-1.4zM232.4 96.4h1.4v1.4h-1.4zM231.4 99.1h1.4v1.4h-1.4zM240.4 95.2h1.4v1.4h-1.4zM238.3 101.6h1.4v1.4h-1.4zM237.0 95.5h1.4v1.4h-1.4zM238.2 100.2h1.4v1.4h-1.4zM235.2 99.8h1.4v1.4h-1.4zM243.7 97.5h1.4v1.4h-1.4zM231.2 97.3h1.4v1.4h-1.4zM234.9 100.2h1.4v1.4h-1.4zM240.1 100.7h1.4v1.4h-1.4zM234.7 95.2h1.4v1.4h-1.4zM242.6 99.6h1.4v1.4h-1.4zM233.0 97.9h1.4v1.4h-1.4zM236.5 95.3h1.4v1.4h-1.4zM234.4 100.0h1.4v1.4h-1.4zM234.2 96.4h1.4v1.4h-1.4zM232.5 96.7h1.4v1.4h-1.4zM236.1 100.4h1.4v1.4h-1.4zM236.6 101.6h1.4v1.4h-1.4zM241.8 100.1h1.4v1.4h-1.4zM234.6 95.1h1.4v1.4h-1.4zM236.3 95.4h1.4v1.4h-1.4zM241.7 95.2h1.4v1.4h-1.4zM234.9 96.3h1.4v1.4h-1.4zM240.4 100.0h1.4v1.4h-1.4zM235.8 101.3h1.4v1.4h-1.4zM243.9 98.8h1.4v1.4h-1.4zM235.2 96.3h1.4v1.4h-1.4zM236.9 95.3h1.4v1.4h-1.4zM243.0 98.8h1.4v1.4h-1.4zM235.6 94.6h1.4v1.4h-1.4zM244.9 96.7h1.4v1.4h-1.4zM232.7 95.2h1.4v1.4h-1.4zM232.9 97.3h1.4v1.4h-1.4zM244.1 99.2h1.4v1.4h-1.4zM234.0 99.3h1.4v1.4h-1.4zM238.4 100.7h1.4v1.4h-1.4zM230.4 97.6h1.4v1.4h-1.4zM244.0 96.7h1.4v1.4h-1.4zM242.4 100.0h1.4v1.4h-1.4zM235.0 99.9h1.4v1.4h-1.4zM243.3 99.1h1.4v1.4h-1.4zM235.2 99.7h1.4v1.4h-1.4zM233.8 98.9h1.4v1.4h-1.4zM234.9 95.8h1.4v1.4h-1.4zM241.1 95.4h1.4v1.4h-1.4zM235.9 100.0h1.4v1.4h-1.4zM240.8 95.2h1.4v1.4h-1.4zM241.2 100.5h1.4v1.4h-1.4zM233.8 98.9h1.4v1.4h-1.4zM239.7 94.3h1.4v1.4h-1.4zM230.7 97.7h1.4v1.4h-1.4zM234.0 101.3h1.4v1.4h-1.4zM235.9 101.7h1.4v1.4h-1.4zM232.0 96.7h1.4v1.4h-1.4zM234.5 95.6h1.4v1.4h-1.4zM242.5 98.4h1.4v1.4h-1.4zM234.7 94.5h1.4v1.4h-1.4zM231.5 96.6h1.4v1.4h-1.4zM241.3 99.5h1.4v1.4h-1.4zM232.8 97.5h1.4v1.4h-1.4zM234.7 99.4h1.4v1.4h-1.4zM238.6 101.5h1.4v1.4h-1.4zM239.4 101.0h1.4v1.4h-1.4zM236.1 94.3h1.4v1.4h-1.4zM242.9 100.4h1.4v1.4h-1.4zM235.6 95.5h1.4v1.4h-1.4zM240.7 101.7h1.4v1.4h-1.4zM235.0 94.8h1.4v1.4h-1.4zM241.9 95.0h1.4v1.4h-1.4zM243.6 99.5h1.4v1.4h-1.4z" fill="#1a8cff"/>
<path d="M239.9 97.2h1.4v1.4h-1.4zM239.2 97.9h1.4v1.4h-1.4zM238.3 98.2h1.4v1.4h-1.4zM234.6 97.1h1.4v1.4h-1.4zM240.6 98.7h1.4v1.4h-1.4zM238.8 99.3h1.4v1.4h-1.4zM237.6 96.8h1.4v1.4h-1.4zM236.8 98.0h1.4v1.4h-1.4zM235.2 99.6h1.4v1.4h-1.4zM236.6 97.8h1.4v1.4h-1.4zM239.3 99.5h1.4v1.4h-1.4zM241.1 98.3h1.4v1.4h-1.4zM237.0 96.4h1.4v1.4h-1.4zM241.4 98.5h1.4v1.4h-1.4zM237.3 99.8h1.4v1.4h-1.4zM234.8 99.1h1.4v1.4h-1.4zM237.9 95.8h1.4v1.4h-1.4zM235.4 97.7h1.4v1.4h-1.4zM241.8 98.3h1.4v1.4h-1.4zM239.4 97.4h1.4v1.4h-1.4zM234.1 97.6h1.4v1.4h-1.4zM240.6 99.3h1.4v1.4h-1.4zM239.4 99.1h1.4v1.4h-1.4zM241.1 97.0h1.4v1.4h-1.4zM238.4 97.8h1.4v1.4h-1.4zM235.4 97.2h1.4v1.4h-1.4zM240.2 98.1h1.4v1.4h-1.4zM234.6 97.9h1.4v1.4h-1.4zM236.7 97.2h1.4v1.4h-1.4zM241.0 99.5h1.4v1.4h-1.4zM238.2 96.3h1.4v1.4h-1.4zM239.0 98.2h1.4v1.4h-1.4zM238.0 99.1h1.4v1.4h-1.4zM234.8 97.3h1.4v1.4h-1.4zM235.9 98.8h1.4v1.4h-1.4zM238.2 99.0h1.4v1.4h-1.4zM239.9 96.4h1.4v1.4h-1.4zM239.4 96.0h1.4v1.4h-1.4zM234.5 98.6h1.4v1.4h-1.4zM240.5 96.7h1.4v1.4h-1.4zM235.7 99.0h1.4v1.4h-1.4zM237.2 99.3h1.4v1.4h-1.4zM239.9 98.3h1.4v1.4h-1.4zM237.8 98.1h1.4v1.4h-1.4zM237.5 99.0h1.4v1.4h-1.4zM238.0 96.5h1.4v1.4h-1.4zM237.4 99.5h1.4v1.4h-1.4zM241.3 97.2h1.4v1.4h-1.4zM238.2 96.9h1.4v1.4h-1.4zM236.6 99.8h1.4v1.4h-1.4zM234.8 98.6h1.4v1.4h-1.4zM238.9 98.2h1.4v1.4h-1.4zM237.1 97.9h1.4v1.4h-1.4zM238.1 100.0h1.4v1.4h-1.4zM238.1 99.0h1.4v1.4h-1.4zM235.5 97.3h1.4v1.4h-1.4zM236.4 96.0h1.4v1.4h-1.4zM239.7 98.5h1.4v1.4h-1.4zM237.9 97.7h1.4v1.4h-1.4zM241.5 96.8h1.4v1.4h-1.4zM239.0 99.4h1.4v1.4h-1.4zM238.9 96.8h1.4v1.4h-1.4zM237.9 99.6h1.4v1.4h-1.4zM235.6 97.2h1.4v1.4h-1.4zM235.7 98.8h1.4v1.4h-1.4zM238.1 96.2h1.4v1.4h-1.4zM238.6 96.1h1.4v1.4h-1.4zM238.4 96.8h1.4v1.4h-1.4zM237.6 96.9h1.4v1.4h-1.4zM235.5 97.0h1.4v1.4h-1.4zM239.1 98.5h1.4v1.4h-1.4zM235.1 99.4h1.4v1.4h-1.4zM239.1 97.8h1.4v1.4h-1.4zM235.8 99.7h1.4v1.4h-1.4zM238.6 97.1h1.4v1.4h-1.4zM233.9 98.3h1.4v1.4h-1.4z" fill="#00d0ff"/>
<path d="M217.2 105.5h1.4v1.4h-1.4zM213.0 95.3h1.4v1.4h-1.4zM217.2 99.8h1.4v1.4h-1.4zM206.8 97.2h1.4v1.4h-1.4zM210.2 98.8h1.4v1.4h-1.4zM222.4 96.2h1.4v1.4h-1.4zM213.9 96.8h1.4v1.4h-1.4zM217.7 96.7h1.4v1.4h-1.4zM212.2 92.8h1.4v1.4h-1.4zM213.5 101.4h1.4v1.4h-1.4zM213.9 102.0h1.4v1.4h-1.4zM216.1 95.9h1.4v1.4h-1.4zM204.9 93.1h1.4v1.4h-1.4zM221.7 90.3h1.4v1.4h-1.4zM208.8 91.2h1.4v1.4h-1.4zM211.3 98.8h1.4v1.4h-1.4zM217.9 87.0h1.4v1.4h-1.4zM222.9 93.4h1.4v1.4h-1.4zM211.1 103.4h1.4v1.4h-1.4zM214.0 90.5h1.4v1.4h-1.4zM210.8 92.8h1.4v1.4h-1.4zM208.7 94.5h1.4v1.4h-1.4zM219.6 97.5h1.4v1.4h-1.4zM208.8 96.5h1.4v1.4h-1.4zM214.7 99.4h1.4v1.4h-1.4zM212.6 98.0h1.4v1.4h-1.4zM226.6 96.4h1.4v1.4h-1.4zM208.3 97.5h1.4v1.4h-1.4zM209.9 94.4h1.4v1.4h-1.4zM215.6 97.5h1.4v1.4h-1.4zM212.9 99.7h1.4v1.4h-1.4zM213.4 90.2h1.4v1.4h-1.4zM219.6 94.4h1.4v1.4h-1.4zM221.5 93.1h1.4v1.4h-1.4zM217.8 97.4h1.4v1.4h-1.4zM208.1 102.2h1.4v1.4h-1.4zM203.6 100.0h1.4v1.4h-1.4zM220.8 98.2h1.4v1.4h-1.4zM218.4 93.8h1.4v1.4h-1.4zM214.4 97.0h1.4v1.4h-1.4zM216.9 99.1h1.4v1.4h-1.4zM213.3 92.9h1.4v1.4h-1.4zM211.3 97.8h1.4v1.4h-1.4zM204.9 90.5h1.4v1.4h-1.4zM212.1 93.6h1.4v1.4h-1.4zM212.9 84.2h1.4v1.4h-1.4zM212.5 94.9h1.4v1.4h-1.4zM219.0 87.3h1.4v1.4h-1.4zM212.7 98.1h1.4v1.4h-1.4zM217.3 101.3h1.4v1.4h-1.4zM220.6 91.4h1.4v1.4h-1.4zM218.2 94.5h1.4v1.4h-1.4zM209.9 102.8h1.4v1.4h-1.4zM210.9 92.2h1.4v1.4h-1.4zM212.1 92.2h1.4v1.4h-1.4zM220.3 97.7h1.4v1.4h-1.4zM222.6 97.8h1.4v1.4h-1.4zM211.0 100.6h1.4v1.4h-1.4zM210.7 94.0h1.4v1.4h-1.4zM213.5 96.2h1.4v1.4h-1.4zM221.4 93.3h1.4v1.4h-1.4zM216.5 95.9h1.4v1.4h-1.4zM207.2 91.2h1.4v1.4h-1.4zM213.2 97.8h1.4v1.4h-1.4zM216.4 98.1h1.4v1.4h-1.4zM214.8 94.0h1.4v1.4h-1.4zM217.0 91.6h1.4v1.4h-1.4zM206.7 94.5h1.4v1.4h-1.4zM206.2 93.7h1.4v1.4h-1.4zM210.2 93.5h1.4v1.4h-1.4zM214.2 92.5h1.4v1.4h-1.4zM212.1 88.4h1.4v1.4h-1.4zM215.3 92.1h1.4v1.4h-1.4zM216.8 83.5h1.4v1.4h-1.4zM209.9 97.1h1.4v1.4h-1.4zM200.4 94.4h1.4v1.4h-1.4zM215.0 96.5h1.4v1.4h-1.4zM205.8 97.0h1.4v1.4h-1.4zM215.4 91.7h1.4v1.4h-1.4zM218.8 95.8h1.4v1.4h-1.4zM214.6 94.0h1.4v1.4h-1.4zM217.7 96.4h1.4v1.4h-1.4zM221.1 98.0h1.4v1.4h-1.4zM210.9 95.0h1.4v1.4h-1.4zM219.8 94.4h1.4v1.4h-1.4zM216.7 98.3h1.4v1.4h-1.4zM213.5 85.7h1.4v1.4h-1.4zM215.3 97.0h1.4v1.4h-1.4zM215.3 92.6h1.4v1.4h-1.4zM221.5 95.4h1.4v1.4h-1.4zM210.9 92.8h1.4v1.4h-1.4zM216.6 91.1h1.4v1.4h-1.4zM208.7 104.9h1.4v1.4h-1.4zM222.1 100.7h1.4v1.4h-1.4zM222.4 98.6h1.4v1.4h-1.4zM204.7 101.3h1.4v1.4h-1.4zM221.7 98.2h1.4v1.4h-1.4zM203.1 101.5h1.4v1.4h-1.4zM222.4 93.8h1.4v1.4h-1.4zM215.2 99.5h1.4v1.4h-1.4zM214.0 100.9h1.4v1.4h-1.4zM215.0 99.1h1.4v1.4h-1.4zM215.0 89.4h1.4v1.4h-1.4zM216.1 101.8h1.4v1.4h-1.4zM221.1 103.6h1.4v1.4h-1.4zM217.7 93.3h1.4v1.4h-1.4zM214.6 87.4h1.4v1.4h-1.4zM213.4 100.0h1.4v1.4h-1.4zM201.9 96.9h1.4v1.4h-1.4zM219.3 101.9h1.4v1.4h-1.4zM209.1 93.1h1.4v1.4h-1.4zM203.6 91.5h1.4v1.4h-1.4zM217.6 105.2h1.4v1.4h-1.4zM207.8 102.2h1.4v1.4h-1.4zM217.0 93.8h1.4v1.4h-1.4zM227.3 84.7h1.4v1.4h-1.4zM214.1 97.0h1.4v1.4h-1.4zM226.9 104.0h1.4v1.4h-1.4zM227.7 96.6h1.4v1.4h-1.4zM220.2 102.1h1.4v1.4h-1.4zM217.5 97.6h1.4v1.4h-1.4zM213.4 94.2h1.4v1.4h-1.4zM207.3 104.7h1.4v1.4h-1.4zM211.9 86.7h1.4v1.4h-1.4zM216.0 95.8h1.4v1.4h-1.4zM215.5 104.1h1.4v1.4h-1.4zM213.9 94.8h1.4v1.4h-1.4zM210.1 95.9h1.4v1.4h-1.4zM211.9 96.9h1.4v1.4h-1.4zM209.5 104.6h1.4v1.4h-1.4zM219.5 99.7h1.4v1.4h-1.4zM218.7 99.7h1.4v1.4h-1.4zM218.4 102.3h1.4v1.4h-1.4zM220.4 102.0h1.4v1.4h-1.4zM211.6 96.0h1.4v1.4h-1.4zM210.2 100.3h1.4v1.4h-1.4zM219.4 93.9h1.4v1.4h-1.4zM221.7 91.0h1.4v1.4h-1.4zM214.0 98.8h1.4v1.4h-1.4zM214.3 97.7h1.4v1.4h-1.4zM221.4 97.5h1.4v1.4h-1.4zM208.1 99.2h1.4v1.4h-1.4zM213.9 96.5h1.4v1.4h-1.4zM211.2 89.8h1.4v1.4h-1.4zM207.2 94.4h1.4v1.4h-1.4zM208.3 83.8h1.4v1.4h-1.4zM221.2 90.8h1.4v1.4h-1.4zM210.3 98.4h1.4v1.4h-1.4zM200.4 102.0h1.4v1.4h-1.4zM210.0 99.0h1.4v1.4h-1.4zM211.7 97.4h1.4v1.4h-1.4zM215.1 96.0h1.4v1.4h-1.4zM203.8 89.4h1.4v1.4h-1.4zM214.3 102.3h1.4v1.4h-1.4zM211.3 98.4h1.4v1.4h-1.4zM215.4 98.2h1.4v1.4h-1.4zM220.3 89.3h1.4v1.4h-1.4zM216.1 95.2h1.4v1.4h-1.4zM212.7 92.2h1.4v1.4h-1.4zM209.9 91.4h1.4v1.4h-1.4zM224.4 96.0h1.4v1.4h-1.4zM218.8 91.6h1.4v1.4h-1.4zM215.3 102.5h1.4v1.4h-1.4zM214.3 91.5h1.4v1.4h-1.4zM213.1 91.5h1.4v1.4h-1.4zM206.3 95.0h1.4v1.4h-1.4zM212.2 92.4h1.4v1.4h-1.4zM209.3 91.8h1.4v1.4h-1.4zM215.9 102.2h1.4v1.4h-1.4zM205.0 97.2h1.4v1.4h-1.4zM207.7 95.3h1.4v1.4h-1.4zM215.1 98.5h1.4v1.4h-1.4zM221.1 93.5h1.4v1.4h-1.4zM207.2 95.2h1.4v1.4h-1.4zM216.2 92.9h1.4v1.4h-1.4zM219.7 103.5h1.4v1.4h-1.4zM206.2 97.6h1.4v1.4h-1.4zM220.4 87.4h1.4v1.4h-1.4zM215.7 95.0h1.4v1.4h-1.4zM206.2 101.9h1.4v1.4h-1.4zM215.8 93.9h1.4v1.4h-1.4zM217.1 98.9h1.4v1.4h-1.4zM219.0 98.6h1.4v1.4h-1.4zM216.9 90.7h1.4v1.4h-1.4zM212.0 96.6h1.4v1.4h-1.4zM212.3 91.3h1.4v1.4h-1.4zM203.9 97.1h1.4v1.4h-1.4zM214.7 93.4h1.4v1.4h-1.4zM212.1 92.0h1.4v1.4h-1.4z" fill="#1414ff"/>
<g clip-path="url(#c2)"><g filter="url(#bl)"><ellipse cx="214.5" cy="96.2" rx="11.0" ry="9.0" fill="#1414ff"/><ellipse cx="214.5" cy="96.8" rx="9.3" ry="7.6" fill="#0a7dff"/><ellipse cx="214.6" cy="97.4" rx="7.8" ry="6.4" fill="#00e8ff"/><ellipse cx="214.7" cy="98.2" rx="5.8" ry="4.8" fill="#18ff28"/><ellipse cx="214.7" cy="98.1" rx="4.2" ry="3.6" fill="#ffff00"/><ellipse cx="214.7" cy="98.0" rx="3.4" ry="3.0" fill="#ff8c00"/><ellipse cx="214.7" cy="98.0" rx="2.8" ry="2.5" fill="#ff0000"/></g></g>
<path d="M333.6 84.4h1.4v1.4h-1.4zM325.4 85.4h1.4v1.4h-1.4zM326.0 82.2h1.4v1.4h-1.4zM316.0 87.7h1.4v1.4h-1.4zM308.2 83.8h1.4v1.4h-1.4zM344.5 84.7h1.4v1.4h-1.4zM322.8 84.4h1.4v1.4h-1.4zM350.9 82.9h1.4v1.4h-1.4zM340.0 90.6h1.4v1.4h-1.4zM316.1 86.2h1.4v1.4h-1.4zM348.6 88.2h1.4v1.4h-1.4zM325.4 82.4h1.4v1.4h-1.4zM329.3 85.7h1.4v1.4h-1.4zM344.2 85.0h1.4v1.4h-1.4zM327.4 88.5h1.4v1.4h-1.4zM349.6 85.5h1.4v1.4h-1.4zM326.2 87.8h1.4v1.4h-1.4zM355.9 83.9h1.4v1.4h-1.4zM358.4 89.1h1.4v1.4h-1.4zM325.5 88.7h1.4v1.4h-1.4zM323.1 82.7h1.4v1.4h-1.4zM346.6 85.8h1.4v1.4h-1.4zM333.9 87.0h1.4v1.4h-1.4zM354.6 89.6h1.4v1.4h-1.4zM306.4 87.9h1.4v1.4h-1.4zM330.4 86.6h1.4v1.4h-1.4zM351.2 86.1h1.4v1.4h-1.4zM331.0 90.9h1.4v1.4h-1.4zM329.2 86.9h1.4v1.4h-1.4zM333.1 90.2h1.4v1.4h-1.4zM341.9 89.4h1.4v1.4h-1.4zM327.1 82.4h1.4v1.4h-1.4zM342.4 87.5h1.4v1.4h-1.4zM347.3 89.7h1.4v1.4h-1.4zM311.5 84.2h1.4v1.4h-1.4zM309.2 90.2h1.4v1.4h-1.4zM310.6 82.9h1.4v1.4h-1.4zM346.4 87.6h1.4v1.4h-1.4zM308.0 88.8h1.4v1.4h-1.4zM344.1 86.8h1.4v1.4h-1.4zM308.0 88.9h1.4v1.4h-1.4zM328.0 87.8h1.4v1.4h-1.4zM359.9 90.2h1.4v1.4h-1.4zM353.0 83.5h1.4v1.4h-1.4zM323.4 87.2h1.4v1.4h-1.4z" fill="#1414ff"/>
<path d="M312.2 83.9h1.4v1.4h-1.4zM319.7 76.6h1.4v1.4h-1.4zM320.8 76.6h1.4v1.4h-1.4zM336.0 79.6h1.4v1.4h-1.4zM326.3 78.2h1.4v1.4h-1.4zM313.4 77.0h1.4v1.4h-1.4zM336.3 82.0h1.4v1.4h-1.4zM336.0 76.6h1.4v1.4h-1.4zM317.7 74.5h1.4v1.4h-1.4zM327.0 77.7h1.4v1.4h-1.4z" fill="#1414ff"/>
<path d="M360.2 87.7h1.4v1.4h-1.4zM362.8 84.8h1.4v1.4h-1.4zM367.6 80.8h1.4v1.4h-1.4zM370.2 89.3h1.4v1.4h-1.4zM351.1 83.5h1.4v1.4h-1.4zM361.7 85.8h1.4v1.4h-1.4z" fill="#1414ff"/>
<path d="M349.9 104.2h1.4v1.4h-1.4zM336.6 100.4h1.4v1.4h-1.4zM356.2 89.6h1.4v1.4h-1.4zM366.7 99.7h1.4v1.4h-1.4zM358.8 88.7h1.4v1.4h-1.4zM336.1 98.7h1.4v1.4h-1.4zM341.3 105.0h1.4v1.4h-1.4zM352.2 103.8h1.4v1.4h-1.4zM358.1 103.6h1.4v1.4h-1.4zM338.6 96.0h1.4v1.4h-1.4zM344.5 103.9h1.4v1.4h-1.4zM335.2 97.9h1.4v1.4h-1.4zM371.1 98.8h1.4v1.4h-1.4zM337.9 98.5h1.4v1.4h-1.4zM353.7 103.8h1.4v1.4h-1.4zM340.4 94.5h1.4v1.4h-1.4zM352.4 103.7h1.4v1.4h-1.4zM366.2 97.9h1.4v1.4h-1.4zM355.2 90.5h1.4v1.4h-1.4zM360.0 92.9h1.4v1.4h-1.4zM360.9 90.7h1.4v1.4h-1.4zM362.9 94.7h1.4v1.4h-1.4zM359.1 92.5h1.4v1.4h-1.4zM358.4 92.5h1.4v1.4h-1.4zM365.8 96.8h1.4v1.4h-1.4zM351.8 104.7h1.4v1.4h-1.4zM341.1 101.8h1.4v1.4h-1.4zM366.0 95.7h1.4v1.4h-1.4zM343.2 92.6h1.4v1.4h-1.4zM359.3 92.7h1.4v1.4h-1.4zM342.6 103.4h1.4v1.4h-1.4zM344.3 92.6h1.4v1.4h-1.4zM366.4 99.7h1.4v1.4h-1.4zM339.0 93.3h1.4v1.4h-1.4zM338.0 99.8h1.4v1.4h-1.4zM338.9 103.6h1.4v1.4h-1.4zM366.2 100.3h1.4v1.4h-1.4zM339.4 99.9h1.4v1.4h-1.4zM362.0 94.4h1.4v1.4h-1.4zM368.1 95.9h1.4v1.4h-1.4zM341.7 101.6h1.4v1.4h-1.4zM337.0 104.1h1.4v1.4h-1.4zM338.7 95.0h1.4v1.4h-1.4zM337.5 100.1h1.4v1.4h-1.4zM343.0 93.4h1.4v1.4h-1.4zM340.4 103.9h1.4v1.4h-1.4zM340.5 104.6h1.4v1.4h-1.4zM339.6 101.3h1.4v1.4h-1.4zM339.2 90.8h1.4v1.4h-1.4zM364.3 95.9h1.4v1.4h-1.4zM358.4 104.5h1.4v1.4h-1.4zM343.6 91.4h1.4v1.4h-1.4zM336.4 97.9h1.4v1.4h-1.4zM349.7 104.7h1.4v1.4h-1.4zM355.7 91.5h1.4v1.4h-1.4zM365.7 93.5h1.4v1.4h-1.4zM351.3 91.5h1.4v1.4h-1.4zM342.2 92.2h1.4v1.4h-1.4zM340.1 94.1h1.4v1.4h-1.4zM342.3 89.5h1.4v1.4h-1.4zM338.3 95.9h1.4v1.4h-1.4zM366.5 99.6h1.4v1.4h-1.4zM354.8 104.1h1.4v1.4h-1.4zM355.9 104.5h1.4v1.4h-1.4zM365.6 99.2h1.4v1.4h-1.4zM343.2 93.9h1.4v1.4h-1.4zM354.4 105.0h1.4v1.4h-1.4zM366.4 97.8h1.4v1.4h-1.4zM356.5 103.4h1.4v1.4h-1.4zM365.1 97.0h1.4v1.4h-1.4zM369.0 95.5h1.4v1.4h-1.4zM367.9 98.6h1.4v1.4h-1.4zM341.5 103.9h1.4v1.4h-1.4zM359.9 103.0h1.4v1.4h-1.4zM364.1 94.7h1.4v1.4h-1.4zM337.3 99.0h1.4v1.4h-1.4zM369.4 99.0h1.4v1.4h-1.4zM347.2 89.8h1.4v1.4h-1.4z" fill="#1414ff"/>
<path d="M348.7 103.3h1.4v1.4h-1.4zM355.5 93.6h1.4v1.4h-1.4zM361.1 95.9h1.4v1.4h-1.4zM354.9 94.1h1.4v1.4h-1.4zM346.5 93.3h1.4v1.4h-1.4zM341.9 100.6h1.4v1.4h-1.4zM363.6 99.9h1.4v1.4h-1.4zM343.7 101.4h1.4v1.4h-1.4zM353.7 102.3h1.4v1.4h-1.4zM359.4 100.2h1.4v1.4h-1.4zM361.1 96.4h1.4v1.4h-1.4zM352.0 93.9h1.4v1.4h-1.4zM343.8 95.5h1.4v1.4h-1.4zM344.7 95.8h1.4v1.4h-1.4zM361.4 98.9h1.4v1.4h-1.4zM361.5 100.9h1.4v1.4h-1.4zM359.1 101.4h1.4v1.4h-1.4zM358.4 95.1h1.4v1.4h-1.4zM342.1 98.1h1.4v1.4h-1.4zM358.6 100.6h1.4v1.4h-1.4zM357.1 101.7h1.4v1.4h-1.4zM341.0 95.7h1.4v1.4h-1.4zM352.3 102.7h1.4v1.4h-1.4zM343.0 94.4h1.4v1.4h-1.4zM355.3 94.4h1.4v1.4h-1.4zM342.7 98.5h1.4v1.4h-1.4zM352.1 93.0h1.4v1.4h-1.4zM355.5 102.7h1.4v1.4h-1.4zM362.6 101.1h1.4v1.4h-1.4zM363.7 96.9h1.4v1.4h-1.4zM361.6 97.0h1.4v1.4h-1.4zM347.0 92.9h1.4v1.4h-1.4zM355.3 92.9h1.4v1.4h-1.4zM346.3 102.0h1.4v1.4h-1.4zM361.3 98.1h1.4v1.4h-1.4zM345.0 95.6h1.4v1.4h-1.4zM360.8 101.6h1.4v1.4h-1.4zM344.6 100.5h1.4v1.4h-1.4zM361.1 96.9h1.4v1.4h-1.4zM360.2 100.6h1.4v1.4h-1.4zM358.2 94.8h1.4v1.4h-1.4zM361.3 94.8h1.4v1.4h-1.4zM361.9 100.2h1.4v1.4h-1.4zM344.4 101.9h1.4v1.4h-1.4zM340.1 97.3h1.4v1.4h-1.4zM359.8 95.7h1.4v1.4h-1.4zM347.9 93.9h1.4v1.4h-1.4zM358.6 101.7h1.4v1.4h-1.4zM363.5 97.3h1.4v1.4h-1.4zM356.1 93.1h1.4v1.4h-1.4zM348.9 92.8h1.4v1.4h-1.4zM358.1 101.2h1.4v1.4h-1.4zM352.4 94.1h1.4v1.4h-1.4zM340.9 96.1h1.4v1.4h-1.4zM356.8 94.0h1.4v1.4h-1.4zM361.1 99.9h1.4v1.4h-1.4zM352.3 92.7h1.4v1.4h-1.4zM343.8 94.0h1.4v1.4h-1.4zM342.5 97.2h1.4v1.4h-1.4zM346.8 94.0h1.4v1.4h-1.4zM343.4 100.6h1.4v1.4h-1.4zM358.9 102.2h1.4v1.4h-1.4zM352.2 93.9h1.4v1.4h-1.4zM360.5 102.0h1.4v1.4h-1.4zM348.8 93.4h1.4v1.4h-1.4zM363.3 98.1h1.4v1.4h-1.4zM346.9 102.0h1.4v1.4h-1.4zM355.6 93.9h1.4v1.4h-1.4zM361.3 98.7h1.4v1.4h-1.4zM341.4 97.6h1.4v1.4h-1.4zM340.4 99.5h1.4v1.4h-1.4zM349.7 94.3h1.4v1.4h-1.4zM356.0 103.2h1.4v1.4h-1.4zM340.4 96.0h1.4v1.4h-1.4zM349.8 92.5h1.4v1.4h-1.4zM350.0 93.1h1.4v1.4h-1.4zM357.8 102.2h1.4v1.4h-1.4zM355.0 94.4h1.4v1.4h-1.4zM343.2 96.4h1.4v1.4h-1.4z" fill="#1a50ff"/>
<path d="M345.5 96.8h1.4v1.4h-1.4zM360.0 99.3h1.4v1.4h-1.4zM347.9 96.7h1.4v1.4h-1.4zM350.5 100.3h1.4v1.4h-1.4zM356.7 96.8h1.4v1.4h-1.4zM350.4 100.5h1.4v1.4h-1.4zM345.9 96.5h1.4v1.4h-1.4zM358.0 96.4h1.4v1.4h-1.4zM350.8 94.3h1.4v1.4h-1.4zM350.1 101.1h1.4v1.4h-1.4zM355.2 95.9h1.4v1.4h-1.4zM347.6 101.3h1.4v1.4h-1.4zM347.3 100.7h1.4v1.4h-1.4zM344.4 97.9h1.4v1.4h-1.4zM354.6 101.4h1.4v1.4h-1.4zM355.6 100.3h1.4v1.4h-1.4zM359.8 98.7h1.4v1.4h-1.4zM345.4 97.7h1.4v1.4h-1.4zM346.9 96.8h1.4v1.4h-1.4zM354.9 95.1h1.4v1.4h-1.4zM359.7 96.7h1.4v1.4h-1.4zM353.8 100.3h1.4v1.4h-1.4zM344.8 96.0h1.4v1.4h-1.4zM356.6 95.9h1.4v1.4h-1.4zM352.6 100.3h1.4v1.4h-1.4zM346.3 98.7h1.4v1.4h-1.4zM355.2 94.6h1.4v1.4h-1.4zM349.2 100.1h1.4v1.4h-1.4zM347.1 96.0h1.4v1.4h-1.4zM357.4 99.5h1.4v1.4h-1.4zM349.4 94.4h1.4v1.4h-1.4zM354.6 100.6h1.4v1.4h-1.4zM359.3 97.1h1.4v1.4h-1.4zM357.2 97.8h1.4v1.4h-1.4zM352.0 101.3h1.4v1.4h-1.4zM346.8 95.5h1.4v1.4h-1.4zM347.9 95.8h1.4v1.4h-1.4zM352.5 95.1h1.4v1.4h-1.4zM344.0 97.0h1.4v1.4h-1.4zM354.0 94.9h1.4v1.4h-1.4zM351.6 95.9h1.4v1.4h-1.4zM349.7 101.3h1.4v1.4h-1.4zM354.6 100.8h1.4v1.4h-1.4zM357.0 97.2h1.4v1.4h-1.4zM348.3 101.4h1.4v1.4h-1.4zM356.8 99.7h1.4v1.4h-1.4zM345.8 100.1h1.4v1.4h-1.4zM358.1 97.4h1.4v1.4h-1.4zM352.1 95.2h1.4v1.4h-1.4zM345.5 97.5h1.4v1.4h-1.4zM347.8 96.0h1.4v1.4h-1.4zM351.4 100.6h1.4v1.4h-1.4zM357.2 99.9h1.4v1.4h-1.4zM353.2 94.5h1.4v1.4h-1.4zM347.6 100.9h1.4v1.4h-1.4zM354.5 94.9h1.4v1.4h-1.4zM356.9 100.4h1.4v1.4h-1.4zM359.6 99.5h1.4v1.4h-1.4zM351.2 100.4h1.4v1.4h-1.4zM354.4 94.9h1.4v1.4h-1.4zM355.7 95.4h1.4v1.4h-1.4zM356.1 100.1h1.4v1.4h-1.4zM360.1 99.4h1.4v1.4h-1.4zM356.4 99.6h1.4v1.4h-1.4zM347.0 95.7h1.4v1.4h-1.4zM345.0 96.2h1.4v1.4h-1.4zM358.9 97.2h1.4v1.4h-1.4zM349.2 99.9h1.4v1.4h-1.4zM346.7 99.6h1.4v1.4h-1.4zM343.4 97.6h1.4v1.4h-1.4zM354.1 100.6h1.4v1.4h-1.4zM357.0 98.9h1.4v1.4h-1.4zM351.4 101.3h1.4v1.4h-1.4zM358.8 97.8h1.4v1.4h-1.4zM356.8 98.6h1.4v1.4h-1.4zM353.5 100.6h1.4v1.4h-1.4zM360.5 97.5h1.4v1.4h-1.4z" fill="#1a8cff"/>
<path d="M350.4 97.1h1.4v1.4h-1.4zM354.0 97.0h1.4v1.4h-1.4zM354.4 96.3h1.4v1.4h-1.4zM354.9 98.9h1.4v1.4h-1.4zM350.2 96.1h1.4v1.4h-1.4zM347.7 97.2h1.4v1.4h-1.4zM354.5 96.3h1.4v1.4h-1.4zM350.4 98.6h1.4v1.4h-1.4zM350.3 96.4h1.4v1.4h-1.4zM353.9 96.4h1.4v1.4h-1.4zM355.2 97.3h1.4v1.4h-1.4zM355.7 99.0h1.4v1.4h-1.4zM353.8 97.6h1.4v1.4h-1.4zM350.6 97.1h1.4v1.4h-1.4zM351.1 99.3h1.4v1.4h-1.4zM348.7 97.4h1.4v1.4h-1.4zM349.5 96.2h1.4v1.4h-1.4zM354.1 99.3h1.4v1.4h-1.4zM354.9 96.8h1.4v1.4h-1.4zM353.2 99.7h1.4v1.4h-1.4zM354.6 97.1h1.4v1.4h-1.4zM351.3 96.8h1.4v1.4h-1.4zM354.3 97.9h1.4v1.4h-1.4zM353.0 97.8h1.4v1.4h-1.4zM349.1 98.8h1.4v1.4h-1.4zM350.0 96.2h1.4v1.4h-1.4zM349.5 99.6h1.4v1.4h-1.4zM349.2 99.7h1.4v1.4h-1.4zM351.9 96.1h1.4v1.4h-1.4zM355.7 97.4h1.4v1.4h-1.4zM349.2 98.8h1.4v1.4h-1.4zM355.9 98.2h1.4v1.4h-1.4zM354.3 96.2h1.4v1.4h-1.4zM351.8 98.0h1.4v1.4h-1.4zM352.0 97.1h1.4v1.4h-1.4zM350.0 99.7h1.4v1.4h-1.4zM349.8 97.5h1.4v1.4h-1.4zM351.2 100.0h1.4v1.4h-1.4zM355.4 96.6h1.4v1.4h-1.4zM351.0 99.1h1.4v1.4h-1.4zM350.2 99.8h1.4v1.4h-1.4zM352.3 97.0h1.4v1.4h-1.4zM351.5 99.3h1.4v1.4h-1.4zM352.6 99.5h1.4v1.4h-1.4zM351.0 96.7h1.4v1.4h-1.4zM349.4 98.6h1.4v1.4h-1.4zM355.1 97.9h1.4v1.4h-1.4zM347.8 98.3h1.4v1.4h-1.4zM355.0 99.0h1.4v1.4h-1.4zM354.7 99.2h1.4v1.4h-1.4z" fill="#00d0ff"/>
<path d="M326.5 90.6h1.4v1.4h-1.4zM338.2 87.0h1.4v1.4h-1.4zM329.5 95.5h1.4v1.4h-1.4zM332.2 100.8h1.4v1.4h-1.4zM326.6 95.4h1.4v1.4h-1.4zM339.9 88.1h1.4v1.4h-1.4zM323.9 95.3h1.4v1.4h-1.4zM341.3 91.4h1.4v1.4h-1.4zM339.2 96.7h1.4v1.4h-1.4zM307.3 88.4h1.4v1.4h-1.4zM308.1 95.6h1.4v1.4h-1.4zM330.9 98.2h1.4v1.4h-1.4zM339.4 92.5h1.4v1.4h-1.4zM342.9 98.7h1.4v1.4h-1.4zM334.6 97.1h1.4v1.4h-1.4zM310.1 96.6h1.4v1.4h-1.4zM313.6 89.7h1.4v1.4h-1.4zM323.1 95.6h1.4v1.4h-1.4zM327.3 93.5h1.4v1.4h-1.4zM314.1 95.8h1.4v1.4h-1.4zM317.7 88.7h1.4v1.4h-1.4zM329.3 101.5h1.4v1.4h-1.4zM322.4 90.2h1.4v1.4h-1.4zM347.3 102.7h1.4v1.4h-1.4zM323.9 94.1h1.4v1.4h-1.4zM329.9 99.5h1.4v1.4h-1.4zM334.2 86.9h1.4v1.4h-1.4zM312.6 89.5h1.4v1.4h-1.4zM334.0 95.5h1.4v1.4h-1.4zM352.9 93.8h1.4v1.4h-1.4zM332.3 95.3h1.4v1.4h-1.4zM332.0 101.6h1.4v1.4h-1.4zM346.1 92.3h1.4v1.4h-1.4zM337.6 93.3h1.4v1.4h-1.4zM329.5 95.7h1.4v1.4h-1.4zM328.3 92.9h1.4v1.4h-1.4zM349.7 93.8h1.4v1.4h-1.4zM337.8 102.5h1.4v1.4h-1.4zM336.7 99.6h1.4v1.4h-1.4zM347.4 99.9h1.4v1.4h-1.4zM352.0 88.6h1.4v1.4h-1.4zM355.3 95.1h1.4v1.4h-1.4zM303.6 92.1h1.4v1.4h-1.4zM308.5 94.9h1.4v1.4h-1.4zM307.2 90.5h1.4v1.4h-1.4zM332.1 95.7h1.4v1.4h-1.4zM316.9 93.9h1.4v1.4h-1.4zM326.6 95.3h1.4v1.4h-1.4zM327.9 94.0h1.4v1.4h-1.4zM340.3 87.8h1.4v1.4h-1.4zM321.1 95.6h1.4v1.4h-1.4zM322.4 92.5h1.4v1.4h-1.4zM321.9 95.9h1.4v1.4h-1.4zM345.4 94.2h1.4v1.4h-1.4zM324.3 96.6h1.4v1.4h-1.4zM324.6 86.3h1.4v1.4h-1.4zM331.8 93.3h1.4v1.4h-1.4zM320.0 97.8h1.4v1.4h-1.4zM328.6 92.5h1.4v1.4h-1.4zM328.2 94.5h1.4v1.4h-1.4zM334.1 96.0h1.4v1.4h-1.4zM321.3 89.3h1.4v1.4h-1.4zM312.7 94.4h1.4v1.4h-1.4zM311.9 98.4h1.4v1.4h-1.4zM309.4 86.9h1.4v1.4h-1.4zM325.3 87.0h1.4v1.4h-1.4zM350.8 90.5h1.4v1.4h-1.4zM327.3 93.9h1.4v1.4h-1.4zM316.5 87.0h1.4v1.4h-1.4zM342.3 104.7h1.4v1.4h-1.4zM307.5 97.5h1.4v1.4h-1.4zM327.8 98.8h1.4v1.4h-1.4zM320.8 98.2h1.4v1.4h-1.4zM340.5 97.7h1.4v1.4h-1.4zM348.3 94.2h1.4v1.4h-1.4zM349.6 91.8h1.4v1.4h-1.4zM328.2 91.4h1.4v1.4h-1.4zM328.0 99.6h1.4v1.4h-1.4zM338.1 95.4h1.4v1.4h-1.4zM351.8 88.4h1.4v1.4h-1.4zM316.6 101.8h1.4v1.4h-1.4zM332.6 85.7h1.4v1.4h-1.4zM332.8 89.7h1.4v1.4h-1.4zM348.7 100.1h1.4v1.4h-1.4zM320.3 100.8h1.4v1.4h-1.4zM316.3 99.1h1.4v1.4h-1.4zM336.1 94.4h1.4v1.4h-1.4zM308.1 93.7h1.4v1.4h-1.4zM302.1 100.5h1.4v1.4h-1.4zM314.5 84.1h1.4v1.4h-1.4zM336.2 96.7h1.4v1.4h-1.4zM320.9 104.5h1.4v1.4h-1.4zM338.8 95.3h1.4v1.4h-1.4zM334.7 99.3h1.4v1.4h-1.4zM319.7 88.6h1.4v1.4h-1.4zM327.4 87.5h1.4v1.4h-1.4zM328.1 98.5h1.4v1.4h-1.4zM349.1 96.2h1.4v1.4h-1.4zM330.8 98.4h1.4v1.4h-1.4zM347.6 93.6h1.4v1.4h-1.4zM310.8 91.4h1.4v1.4h-1.4zM310.4 91.0h1.4v1.4h-1.4zM326.3 96.5h1.4v1.4h-1.4zM330.2 95.3h1.4v1.4h-1.4zM323.0 96.9h1.4v1.4h-1.4zM340.4 98.4h1.4v1.4h-1.4zM349.0 93.7h1.4v1.4h-1.4zM324.5 102.6h1.4v1.4h-1.4zM330.8 96.9h1.4v1.4h-1.4zM323.3 99.4h1.4v1.4h-1.4zM322.4 90.5h1.4v1.4h-1.4zM327.2 93.0h1.4v1.4h-1.4zM339.7 93.3h1.4v1.4h-1.4zM329.7 94.0h1.4v1.4h-1.4zM332.8 92.2h1.4v1.4h-1.4zM343.5 88.6h1.4v1.4h-1.4zM322.6 91.8h1.4v1.4h-1.4zM337.1 95.2h1.4v1.4h-1.4zM334.8 93.5h1.4v1.4h-1.4zM317.9 90.0h1.4v1.4h-1.4zM323.3 92.6h1.4v1.4h-1.4zM331.9 96.6h1.4v1.4h-1.4zM341.7 94.5h1.4v1.4h-1.4zM317.5 90.2h1.4v1.4h-1.4zM328.9 96.6h1.4v1.4h-1.4zM355.3 95.8h1.4v1.4h-1.4zM352.6 103.4h1.4v1.4h-1.4zM313.3 100.4h1.4v1.4h-1.4zM343.9 101.1h1.4v1.4h-1.4zM327.9 99.3h1.4v1.4h-1.4zM321.3 94.7h1.4v1.4h-1.4zM328.3 103.0h1.4v1.4h-1.4zM325.0 99.3h1.4v1.4h-1.4zM328.9 91.8h1.4v1.4h-1.4zM331.4 98.0h1.4v1.4h-1.4zM318.0 97.9h1.4v1.4h-1.4zM318.0 91.1h1.4v1.4h-1.4zM331.1 93.9h1.4v1.4h-1.4zM314.2 87.7h1.4v1.4h-1.4zM328.3 96.1h1.4v1.4h-1.4zM321.6 95.8h1.4v1.4h-1.4zM306.6 96.8h1.4v1.4h-1.4zM333.8 96.3h1.4v1.4h-1.4zM319.4 95.4h1.4v1.4h-1.4zM329.8 99.8h1.4v1.4h-1.4zM331.9 96.1h1.4v1.4h-1.4zM317.9 98.9h1.4v1.4h-1.4zM344.4 92.8h1.4v1.4h-1.4zM336.9 96.4h1.4v1.4h-1.4zM327.3 89.2h1.4v1.4h-1.4zM352.6 86.6h1.4v1.4h-1.4zM332.2 93.3h1.4v1.4h-1.4zM344.0 93.1h1.4v1.4h-1.4zM328.6 97.7h1.4v1.4h-1.4zM334.4 92.7h1.4v1.4h-1.4zM337.5 96.8h1.4v1.4h-1.4zM341.8 92.7h1.4v1.4h-1.4zM327.4 93.2h1.4v1.4h-1.4zM316.3 96.1h1.4v1.4h-1.4zM333.7 101.4h1.4v1.4h-1.4zM323.5 96.7h1.4v1.4h-1.4zM344.0 94.5h1.4v1.4h-1.4zM328.9 95.6h1.4v1.4h-1.4zM318.4 90.6h1.4v1.4h-1.4zM343.6 95.8h1.4v1.4h-1.4zM327.0 89.4h1.4v1.4h-1.4zM329.6 100.3h1.4v1.4h-1.4zM311.9 91.0h1.4v1.4h-1.4zM343.5 101.4h1.4v1.4h-1.4zM349.7 92.5h1.4v1.4h-1.4zM336.4 91.6h1.4v1.4h-1.4zM335.3 93.4h1.4v1.4h-1.4zM330.7 101.0h1.4v1.4h-1.4zM332.7 93.9h1.4v1.4h-1.4zM328.8 96.2h1.4v1.4h-1.4zM320.9 95.9h1.4v1.4h-1.4zM336.4 102.0h1.4v1.4h-1.4zM310.8 98.9h1.4v1.4h-1.4zM362.0 95.9h1.4v1.4h-1.4zM329.7 100.1h1.4v1.4h-1.4zM320.9 92.8h1.4v1.4h-1.4zM332.7 92.4h1.4v1.4h-1.4zM343.5 95.0h1.4v1.4h-1.4zM321.8 99.1h1.4v1.4h-1.4zM316.5 100.6h1.4v1.4h-1.4zM341.4 95.6h1.4v1.4h-1.4zM341.8 102.2h1.4v1.4h-1.4zM347.1 95.0h1.4v1.4h-1.4zM327.2 99.9h1.4v1.4h-1.4zM307.6 92.3h1.4v1.4h-1.4zM334.7 97.5h1.4v1.4h-1.4zM353.8 102.9h1.4v1.4h-1.4zM332.5 97.0h1.4v1.4h-1.4zM309.7 94.2h1.4v1.4h-1.4zM331.6 94.0h1.4v1.4h-1.4zM328.8 97.7h1.4v1.4h-1.4zM314.8 92.5h1.4v1.4h-1.4zM303.4 100.1h1.4v1.4h-1.4zM313.4 87.4h1.4v1.4h-1.4zM338.7 94.0h1.4v1.4h-1.4zM341.4 93.4h1.4v1.4h-1.4zM357.5 98.2h1.4v1.4h-1.4zM330.1 95.5h1.4v1.4h-1.4zM325.1 98.6h1.4v1.4h-1.4zM355.7 93.1h1.4v1.4h-1.4zM312.9 97.7h1.4v1.4h-1.4zM342.8 88.4h1.4v1.4h-1.4zM318.4 90.6h1.4v1.4h-1.4zM335.8 97.2h1.4v1.4h-1.4zM317.8 90.0h1.4v1.4h-1.4zM337.4 85.9h1.4v1.4h-1.4zM336.9 94.3h1.4v1.4h-1.4zM354.5 99.4h1.4v1.4h-1.4zM320.0 93.8h1.4v1.4h-1.4zM324.2 91.8h1.4v1.4h-1.4zM329.1 99.3h1.4v1.4h-1.4zM307.2 94.0h1.4v1.4h-1.4zM348.6 98.3h1.4v1.4h-1.4zM316.8 91.4h1.4v1.4h-1.4zM316.2 87.9h1.4v1.4h-1.4zM343.9 95.3h1.4v1.4h-1.4zM318.4 88.6h1.4v1.4h-1.4zM322.7 92.7h1.4v1.4h-1.4zM351.7 93.0h1.4v1.4h-1.4zM329.6 99.7h1.4v1.4h-1.4zM337.2 94.2h1.4v1.4h-1.4zM336.2 93.1h1.4v1.4h-1.4zM326.8 90.8h1.4v1.4h-1.4zM315.6 88.4h1.4v1.4h-1.4zM334.9 97.3h1.4v1.4h-1.4zM330.4 98.5h1.4v1.4h-1.4zM335.4 95.5h1.4v1.4h-1.4zM315.8 97.6h1.4v1.4h-1.4zM344.3 97.8h1.4v1.4h-1.4zM345.2 92.9h1.4v1.4h-1.4zM314.5 100.5h1.4v1.4h-1.4zM320.0 96.1h1.4v1.4h-1.4zM325.4 95.1h1.4v1.4h-1.4zM324.3 92.6h1.4v1.4h-1.4zM303.5 103.4h1.4v1.4h-1.4zM330.8 86.5h1.4v1.4h-1.4zM315.5 90.0h1.4v1.4h-1.4zM317.8 83.7h1.4v1.4h-1.4zM335.9 102.2h1.4v1.4h-1.4zM324.6 98.3h1.4v1.4h-1.4zM336.3 89.5h1.4v1.4h-1.4zM344.7 87.6h1.4v1.4h-1.4zM320.1 93.4h1.4v1.4h-1.4zM345.2 95.5h1.4v1.4h-1.4zM326.3 91.5h1.4v1.4h-1.4zM329.2 95.2h1.4v1.4h-1.4zM338.0 101.2h1.4v1.4h-1.4zM338.1 95.1h1.4v1.4h-1.4zM325.9 102.1h1.4v1.4h-1.4zM330.8 94.9h1.4v1.4h-1.4zM352.6 101.9h1.4v1.4h-1.4zM335.8 94.5h1.4v1.4h-1.4zM319.3 99.7h1.4v1.4h-1.4zM321.8 99.2h1.4v1.4h-1.4zM317.3 95.5h1.4v1.4h-1.4zM333.5 95.6h1.4v1.4h-1.4zM331.2 96.7h1.4v1.4h-1.4zM312.6 90.1h1.4v1.4h-1.4zM326.0 102.9h1.4v1.4h-1.4zM326.3 90.9h1.4v1.4h-1.4zM319.0 95.1h1.4v1.4h-1.4zM344.2 92.5h1.4v1.4h-1.4zM335.7 95.8h1.4v1.4h-1.4zM323.1 90.8h1.4v1.4h-1.4zM325.9 91.8h1.4v1.4h-1.4zM335.4 87.3h1.4v1.4h-1.4zM343.4 98.3h1.4v1.4h-1.4zM335.9 101.6h1.4v1.4h-1.4zM336.2 87.5h1.4v1.4h-1.4zM328.7 97.0h1.4v1.4h-1.4zM318.7 90.0h1.4v1.4h-1.4zM333.9 97.2h1.4v1.4h-1.4zM322.2 93.9h1.4v1.4h-1.4zM321.1 92.5h1.4v1.4h-1.4zM327.2 99.7h1.4v1.4h-1.4zM306.0 93.5h1.4v1.4h-1.4zM350.1 96.4h1.4v1.4h-1.4zM330.1 98.7h1.4v1.4h-1.4zM314.3 89.7h1.4v1.4h-1.4zM305.3 88.6h1.4v1.4h-1.4zM331.4 98.7h1.4v1.4h-1.4zM322.3 92.0h1.4v1.4h-1.4zM333.5 97.7h1.4v1.4h-1.4z" fill="#1414ff"/>
<g clip-path="url(#c3)"><g filter="url(#bl)"><ellipse cx="330.0" cy="96.0" rx="28.0" ry="8.0" fill="#1414ff"/><ellipse cx="318.0" cy="92.5" rx="13.0" ry="6.5" fill="#1414ff"/><ellipse cx="329.0" cy="96.8" rx="25.0" ry="6.6" fill="#0a7dff"/><ellipse cx="328.0" cy="97.0" rx="22.0" ry="5.7" fill="#00e8ff"/><ellipse cx="327.0" cy="97.2" rx="19.0" ry="4.8" fill="#18ff28"/><ellipse cx="326.0" cy="97.3" rx="15.5" ry="3.8" fill="#ffff00"/><ellipse cx="324.5" cy="97.3" rx="12.0" ry="3.2" fill="#ff8c00"/><ellipse cx="323.5" cy="97.3" rx="10.0" ry="2.7" fill="#ff0000"/></g></g>
<path d="M429.8 84.6h1.4v1.4h-1.4zM428.3 85.7h1.4v1.4h-1.4zM430.4 80.5h1.4v1.4h-1.4zM417.5 83.8h1.4v1.4h-1.4zM410.5 82.9h1.4v1.4h-1.4zM411.4 78.4h1.4v1.4h-1.4zM422.9 79.2h1.4v1.4h-1.4zM434.2 85.0h1.4v1.4h-1.4zM421.5 79.6h1.4v1.4h-1.4zM412.2 82.1h1.4v1.4h-1.4zM423.1 80.9h1.4v1.4h-1.4zM428.3 82.2h1.4v1.4h-1.4zM429.9 78.8h1.4v1.4h-1.4zM410.9 81.1h1.4v1.4h-1.4zM422.1 80.0h1.4v1.4h-1.4zM427.1 79.8h1.4v1.4h-1.4zM417.6 81.8h1.4v1.4h-1.4zM428.2 84.2h1.4v1.4h-1.4zM419.0 81.6h1.4v1.4h-1.4zM434.0 85.5h1.4v1.4h-1.4zM425.7 78.8h1.4v1.4h-1.4zM421.3 83.1h1.4v1.4h-1.4zM416.5 78.3h1.4v1.4h-1.4zM435.5 85.3h1.4v1.4h-1.4zM412.5 81.7h1.4v1.4h-1.4zM425.7 80.4h1.4v1.4h-1.4zM410.9 84.0h1.4v1.4h-1.4zM429.8 81.5h1.4v1.4h-1.4zM411.3 81.2h1.4v1.4h-1.4zM411.5 85.7h1.4v1.4h-1.4zM410.4 80.3h1.4v1.4h-1.4zM429.7 79.1h1.4v1.4h-1.4zM411.9 78.6h1.4v1.4h-1.4zM413.4 82.3h1.4v1.4h-1.4zM431.5 79.4h1.4v1.4h-1.4z" fill="#1414ff"/>
<path d="M413.5 78.1h1.4v1.4h-1.4zM418.5 74.7h1.4v1.4h-1.4zM412.5 73.9h1.4v1.4h-1.4zM429.4 72.9h1.4v1.4h-1.4zM415.2 77.9h1.4v1.4h-1.4zM427.8 79.2h1.4v1.4h-1.4z" fill="#1414ff"/>
<path d="M450.8 93.4h1.4v1.4h-1.4zM441.0 96.9h1.4v1.4h-1.4zM457.4 93.3h1.4v1.4h-1.4zM473.8 100.3h1.4v1.4h-1.4zM453.6 98.2h1.4v1.4h-1.4zM457.6 100.2h1.4v1.4h-1.4zM464.2 95.4h1.4v1.4h-1.4zM463.9 92.6h1.4v1.4h-1.4zM466.5 101.6h1.4v1.4h-1.4zM454.1 97.8h1.4v1.4h-1.4zM440.2 99.3h1.4v1.4h-1.4zM467.4 91.3h1.4v1.4h-1.4zM476.6 96.0h1.4v1.4h-1.4zM439.5 89.9h1.4v1.4h-1.4zM467.3 94.4h1.4v1.4h-1.4zM469.8 89.2h1.4v1.4h-1.4zM456.9 99.5h1.4v1.4h-1.4zM450.8 98.3h1.4v1.4h-1.4zM444.8 98.7h1.4v1.4h-1.4zM472.0 90.9h1.4v1.4h-1.4zM455.5 88.5h1.4v1.4h-1.4zM461.2 92.5h1.4v1.4h-1.4zM452.0 92.1h1.4v1.4h-1.4zM461.1 93.6h1.4v1.4h-1.4zM448.3 94.6h1.4v1.4h-1.4zM462.3 92.0h1.4v1.4h-1.4zM469.9 88.7h1.4v1.4h-1.4zM462.4 93.9h1.4v1.4h-1.4zM474.8 92.9h1.4v1.4h-1.4zM450.9 90.0h1.4v1.4h-1.4zM479.2 98.0h1.4v1.4h-1.4zM446.4 94.1h1.4v1.4h-1.4zM447.8 101.7h1.4v1.4h-1.4zM462.5 87.2h1.4v1.4h-1.4zM460.2 99.2h1.4v1.4h-1.4zM460.3 92.6h1.4v1.4h-1.4zM457.6 92.7h1.4v1.4h-1.4zM447.2 96.5h1.4v1.4h-1.4zM466.8 85.6h1.4v1.4h-1.4zM452.3 101.0h1.4v1.4h-1.4zM467.8 92.6h1.4v1.4h-1.4zM472.5 91.5h1.4v1.4h-1.4zM449.6 103.4h1.4v1.4h-1.4zM440.4 91.4h1.4v1.4h-1.4zM445.4 94.9h1.4v1.4h-1.4zM438.4 99.8h1.4v1.4h-1.4zM454.2 93.0h1.4v1.4h-1.4zM451.2 98.5h1.4v1.4h-1.4zM474.4 93.8h1.4v1.4h-1.4zM475.3 102.1h1.4v1.4h-1.4zM472.4 96.7h1.4v1.4h-1.4zM442.1 98.3h1.4v1.4h-1.4zM437.8 94.3h1.4v1.4h-1.4zM460.5 91.7h1.4v1.4h-1.4zM461.1 102.3h1.4v1.4h-1.4zM460.5 92.7h1.4v1.4h-1.4zM448.2 97.2h1.4v1.4h-1.4zM451.7 86.1h1.4v1.4h-1.4zM460.8 98.9h1.4v1.4h-1.4zM449.5 101.5h1.4v1.4h-1.4zM463.4 100.4h1.4v1.4h-1.4zM441.7 95.5h1.4v1.4h-1.4zM475.1 103.7h1.4v1.4h-1.4zM472.1 95.5h1.4v1.4h-1.4zM460.0 92.9h1.4v1.4h-1.4zM469.8 92.7h1.4v1.4h-1.4zM459.3 87.1h1.4v1.4h-1.4zM441.9 102.8h1.4v1.4h-1.4zM434.5 95.4h1.4v1.4h-1.4zM480.2 89.4h1.4v1.4h-1.4zM452.3 94.6h1.4v1.4h-1.4zM444.5 89.9h1.4v1.4h-1.4zM444.7 98.1h1.4v1.4h-1.4zM457.5 98.9h1.4v1.4h-1.4zM446.4 97.9h1.4v1.4h-1.4zM468.0 95.6h1.4v1.4h-1.4zM454.2 88.7h1.4v1.4h-1.4zM458.7 98.7h1.4v1.4h-1.4zM451.2 95.2h1.4v1.4h-1.4zM439.0 90.0h1.4v1.4h-1.4zM462.3 100.8h1.4v1.4h-1.4zM454.7 88.6h1.4v1.4h-1.4zM453.9 89.1h1.4v1.4h-1.4zM455.0 103.4h1.4v1.4h-1.4zM469.2 93.9h1.4v1.4h-1.4zM462.8 89.5h1.4v1.4h-1.4zM465.7 99.1h1.4v1.4h-1.4zM433.4 84.3h1.4v1.4h-1.4zM448.3 101.6h1.4v1.4h-1.4zM458.2 98.3h1.4v1.4h-1.4zM464.0 99.2h1.4v1.4h-1.4zM451.1 93.1h1.4v1.4h-1.4zM462.1 98.0h1.4v1.4h-1.4zM464.2 96.9h1.4v1.4h-1.4zM452.8 100.1h1.4v1.4h-1.4zM463.1 99.9h1.4v1.4h-1.4zM450.8 96.0h1.4v1.4h-1.4zM452.8 94.2h1.4v1.4h-1.4zM449.4 85.0h1.4v1.4h-1.4zM449.6 97.7h1.4v1.4h-1.4zM448.9 97.3h1.4v1.4h-1.4zM454.0 91.6h1.4v1.4h-1.4zM470.7 102.4h1.4v1.4h-1.4zM468.4 90.0h1.4v1.4h-1.4zM448.5 100.2h1.4v1.4h-1.4zM467.8 93.5h1.4v1.4h-1.4zM449.6 97.0h1.4v1.4h-1.4zM442.7 93.4h1.4v1.4h-1.4zM455.5 85.3h1.4v1.4h-1.4zM464.4 98.7h1.4v1.4h-1.4zM469.6 89.5h1.4v1.4h-1.4zM444.0 92.1h1.4v1.4h-1.4zM447.4 94.2h1.4v1.4h-1.4zM473.8 91.0h1.4v1.4h-1.4zM467.6 96.1h1.4v1.4h-1.4zM445.2 96.1h1.4v1.4h-1.4zM442.7 102.2h1.4v1.4h-1.4zM450.0 99.7h1.4v1.4h-1.4zM472.2 92.9h1.4v1.4h-1.4zM448.2 96.0h1.4v1.4h-1.4zM446.6 99.2h1.4v1.4h-1.4zM459.9 92.3h1.4v1.4h-1.4zM450.5 98.5h1.4v1.4h-1.4zM442.2 102.5h1.4v1.4h-1.4zM449.4 94.7h1.4v1.4h-1.4zM447.9 102.3h1.4v1.4h-1.4zM467.0 100.9h1.4v1.4h-1.4zM465.1 95.9h1.4v1.4h-1.4zM476.5 98.3h1.4v1.4h-1.4zM462.8 97.9h1.4v1.4h-1.4zM466.1 96.7h1.4v1.4h-1.4zM456.2 88.8h1.4v1.4h-1.4zM480.5 90.1h1.4v1.4h-1.4zM434.4 92.5h1.4v1.4h-1.4zM479.2 100.6h1.4v1.4h-1.4zM451.4 96.6h1.4v1.4h-1.4zM457.7 87.2h1.4v1.4h-1.4zM470.8 90.5h1.4v1.4h-1.4zM433.3 88.9h1.4v1.4h-1.4zM454.0 89.8h1.4v1.4h-1.4zM463.0 97.1h1.4v1.4h-1.4zM464.3 100.7h1.4v1.4h-1.4zM444.4 85.7h1.4v1.4h-1.4zM448.0 97.2h1.4v1.4h-1.4zM457.8 98.6h1.4v1.4h-1.4zM456.1 93.0h1.4v1.4h-1.4zM460.7 97.7h1.4v1.4h-1.4zM447.3 101.0h1.4v1.4h-1.4zM470.6 97.4h1.4v1.4h-1.4zM439.9 98.3h1.4v1.4h-1.4zM447.3 93.4h1.4v1.4h-1.4zM469.0 91.6h1.4v1.4h-1.4zM452.3 99.1h1.4v1.4h-1.4zM478.4 92.6h1.4v1.4h-1.4zM470.1 92.8h1.4v1.4h-1.4zM462.3 97.5h1.4v1.4h-1.4zM445.5 99.8h1.4v1.4h-1.4zM477.8 95.7h1.4v1.4h-1.4zM461.0 90.6h1.4v1.4h-1.4zM477.7 95.8h1.4v1.4h-1.4zM444.0 98.7h1.4v1.4h-1.4zM441.9 92.6h1.4v1.4h-1.4zM434.6 101.3h1.4v1.4h-1.4zM450.8 93.1h1.4v1.4h-1.4zM451.8 97.8h1.4v1.4h-1.4zM474.0 91.3h1.4v1.4h-1.4zM462.8 87.9h1.4v1.4h-1.4zM474.8 95.1h1.4v1.4h-1.4zM450.3 101.9h1.4v1.4h-1.4zM456.8 101.3h1.4v1.4h-1.4zM469.8 102.5h1.4v1.4h-1.4zM449.2 95.7h1.4v1.4h-1.4zM474.8 92.5h1.4v1.4h-1.4zM469.0 101.2h1.4v1.4h-1.4zM436.5 91.4h1.4v1.4h-1.4zM448.1 93.2h1.4v1.4h-1.4zM466.2 92.2h1.4v1.4h-1.4zM456.7 92.3h1.4v1.4h-1.4zM456.0 89.5h1.4v1.4h-1.4zM468.5 98.3h1.4v1.4h-1.4zM456.7 92.6h1.4v1.4h-1.4zM453.0 92.7h1.4v1.4h-1.4zM441.0 102.4h1.4v1.4h-1.4zM445.2 97.9h1.4v1.4h-1.4zM464.7 88.9h1.4v1.4h-1.4zM436.9 97.8h1.4v1.4h-1.4zM436.1 101.5h1.4v1.4h-1.4zM452.6 95.9h1.4v1.4h-1.4zM458.0 93.2h1.4v1.4h-1.4zM471.7 95.1h1.4v1.4h-1.4zM457.6 93.3h1.4v1.4h-1.4zM451.0 92.4h1.4v1.4h-1.4zM458.1 103.2h1.4v1.4h-1.4zM470.3 96.5h1.4v1.4h-1.4zM476.4 99.8h1.4v1.4h-1.4zM445.9 96.5h1.4v1.4h-1.4zM454.5 88.8h1.4v1.4h-1.4zM443.9 103.6h1.4v1.4h-1.4zM460.4 97.6h1.4v1.4h-1.4zM460.2 93.5h1.4v1.4h-1.4zM463.1 100.1h1.4v1.4h-1.4zM454.6 97.7h1.4v1.4h-1.4zM469.3 93.5h1.4v1.4h-1.4zM459.9 92.4h1.4v1.4h-1.4zM464.6 94.0h1.4v1.4h-1.4zM470.6 92.3h1.4v1.4h-1.4zM476.6 94.2h1.4v1.4h-1.4zM448.8 91.7h1.4v1.4h-1.4zM465.3 91.9h1.4v1.4h-1.4zM477.8 100.9h1.4v1.4h-1.4zM463.7 89.5h1.4v1.4h-1.4zM457.7 92.4h1.4v1.4h-1.4zM438.1 97.3h1.4v1.4h-1.4zM466.9 100.9h1.4v1.4h-1.4zM447.4 94.1h1.4v1.4h-1.4zM461.0 97.5h1.4v1.4h-1.4zM445.4 96.4h1.4v1.4h-1.4zM456.8 99.5h1.4v1.4h-1.4zM440.4 93.1h1.4v1.4h-1.4zM452.5 94.2h1.4v1.4h-1.4zM465.9 92.9h1.4v1.4h-1.4zM467.2 99.8h1.4v1.4h-1.4zM468.6 94.6h1.4v1.4h-1.4zM448.9 94.4h1.4v1.4h-1.4zM465.3 96.0h1.4v1.4h-1.4zM464.4 97.9h1.4v1.4h-1.4zM448.3 91.6h1.4v1.4h-1.4zM473.9 93.5h1.4v1.4h-1.4zM440.6 103.3h1.4v1.4h-1.4zM448.8 91.6h1.4v1.4h-1.4zM468.6 90.7h1.4v1.4h-1.4zM448.4 99.9h1.4v1.4h-1.4zM450.9 94.6h1.4v1.4h-1.4zM452.5 95.4h1.4v1.4h-1.4zM466.5 90.2h1.4v1.4h-1.4zM447.9 86.7h1.4v1.4h-1.4zM474.5 95.2h1.4v1.4h-1.4zM469.0 96.8h1.4v1.4h-1.4zM467.4 94.8h1.4v1.4h-1.4zM437.5 100.1h1.4v1.4h-1.4zM440.6 91.3h1.4v1.4h-1.4zM465.4 95.7h1.4v1.4h-1.4zM466.9 102.7h1.4v1.4h-1.4zM478.5 101.3h1.4v1.4h-1.4zM448.3 95.1h1.4v1.4h-1.4zM469.0 94.6h1.4v1.4h-1.4zM473.0 85.1h1.4v1.4h-1.4zM472.0 100.0h1.4v1.4h-1.4zM457.2 97.9h1.4v1.4h-1.4zM447.3 100.2h1.4v1.4h-1.4zM473.4 95.3h1.4v1.4h-1.4zM454.3 93.5h1.4v1.4h-1.4zM455.9 90.2h1.4v1.4h-1.4zM443.1 102.5h1.4v1.4h-1.4zM457.8 97.8h1.4v1.4h-1.4zM461.4 97.5h1.4v1.4h-1.4zM441.2 91.5h1.4v1.4h-1.4zM465.0 99.7h1.4v1.4h-1.4zM445.4 93.1h1.4v1.4h-1.4zM446.2 98.2h1.4v1.4h-1.4zM450.9 96.9h1.4v1.4h-1.4zM458.4 92.4h1.4v1.4h-1.4zM461.7 92.7h1.4v1.4h-1.4zM468.5 98.1h1.4v1.4h-1.4zM450.4 98.0h1.4v1.4h-1.4zM458.7 92.5h1.4v1.4h-1.4zM447.9 88.5h1.4v1.4h-1.4zM445.6 97.0h1.4v1.4h-1.4zM471.3 92.9h1.4v1.4h-1.4zM466.6 97.4h1.4v1.4h-1.4zM471.5 98.7h1.4v1.4h-1.4zM449.6 97.2h1.4v1.4h-1.4zM458.2 97.9h1.4v1.4h-1.4zM454.7 99.0h1.4v1.4h-1.4zM472.5 92.0h1.4v1.4h-1.4zM452.0 96.6h1.4v1.4h-1.4zM463.4 96.1h1.4v1.4h-1.4zM467.1 90.5h1.4v1.4h-1.4zM466.5 100.4h1.4v1.4h-1.4zM470.2 97.3h1.4v1.4h-1.4zM457.2 88.8h1.4v1.4h-1.4zM451.3 95.3h1.4v1.4h-1.4zM452.3 91.6h1.4v1.4h-1.4zM459.9 99.7h1.4v1.4h-1.4zM453.6 98.3h1.4v1.4h-1.4zM454.3 92.9h1.4v1.4h-1.4zM444.4 99.2h1.4v1.4h-1.4zM452.2 96.5h1.4v1.4h-1.4zM470.4 97.8h1.4v1.4h-1.4zM468.5 98.4h1.4v1.4h-1.4zM450.8 95.7h1.4v1.4h-1.4zM451.8 91.2h1.4v1.4h-1.4zM461.3 92.2h1.4v1.4h-1.4zM476.5 92.4h1.4v1.4h-1.4zM452.0 95.9h1.4v1.4h-1.4zM452.3 95.7h1.4v1.4h-1.4zM451.3 89.5h1.4v1.4h-1.4zM474.7 97.4h1.4v1.4h-1.4zM442.7 92.1h1.4v1.4h-1.4zM448.2 100.8h1.4v1.4h-1.4zM446.4 100.4h1.4v1.4h-1.4zM472.9 99.2h1.4v1.4h-1.4zM468.3 91.0h1.4v1.4h-1.4zM470.5 102.6h1.4v1.4h-1.4zM446.0 99.8h1.4v1.4h-1.4zM444.4 102.3h1.4v1.4h-1.4zM467.6 95.4h1.4v1.4h-1.4zM474.2 91.5h1.4v1.4h-1.4zM467.7 91.3h1.4v1.4h-1.4zM473.5 94.3h1.4v1.4h-1.4zM471.5 93.8h1.4v1.4h-1.4zM462.4 100.3h1.4v1.4h-1.4zM448.1 95.9h1.4v1.4h-1.4zM448.8 99.1h1.4v1.4h-1.4zM451.4 93.9h1.4v1.4h-1.4zM455.8 100.4h1.4v1.4h-1.4zM446.5 95.4h1.4v1.4h-1.4zM454.4 93.2h1.4v1.4h-1.4zM449.3 94.8h1.4v1.4h-1.4zM460.2 89.0h1.4v1.4h-1.4zM460.6 90.5h1.4v1.4h-1.4zM447.4 95.2h1.4v1.4h-1.4zM455.2 99.6h1.4v1.4h-1.4zM452.8 88.0h1.4v1.4h-1.4zM440.3 96.2h1.4v1.4h-1.4zM460.8 100.0h1.4v1.4h-1.4zM452.1 98.3h1.4v1.4h-1.4zM446.3 100.9h1.4v1.4h-1.4zM457.2 92.7h1.4v1.4h-1.4zM460.0 102.8h1.4v1.4h-1.4zM448.7 90.3h1.4v1.4h-1.4zM446.8 90.6h1.4v1.4h-1.4zM471.0 94.3h1.4v1.4h-1.4zM444.2 85.9h1.4v1.4h-1.4zM460.7 92.6h1.4v1.4h-1.4zM463.1 88.9h1.4v1.4h-1.4zM447.5 95.8h1.4v1.4h-1.4zM456.4 100.3h1.4v1.4h-1.4zM452.5 86.8h1.4v1.4h-1.4zM470.9 88.6h1.4v1.4h-1.4zM447.3 97.1h1.4v1.4h-1.4zM460.6 97.7h1.4v1.4h-1.4zM463.9 92.5h1.4v1.4h-1.4zM471.8 88.4h1.4v1.4h-1.4zM451.5 96.7h1.4v1.4h-1.4zM459.5 91.5h1.4v1.4h-1.4zM475.4 101.7h1.4v1.4h-1.4zM447.7 97.1h1.4v1.4h-1.4zM451.0 93.7h1.4v1.4h-1.4zM468.8 96.0h1.4v1.4h-1.4zM445.1 100.6h1.4v1.4h-1.4zM449.7 101.0h1.4v1.4h-1.4zM453.0 93.6h1.4v1.4h-1.4zM474.3 96.3h1.4v1.4h-1.4zM451.0 93.3h1.4v1.4h-1.4zM464.7 103.4h1.4v1.4h-1.4zM464.8 93.8h1.4v1.4h-1.4zM445.7 92.7h1.4v1.4h-1.4zM450.8 100.9h1.4v1.4h-1.4zM447.5 92.5h1.4v1.4h-1.4zM463.5 97.5h1.4v1.4h-1.4zM453.7 99.5h1.4v1.4h-1.4zM442.5 102.4h1.4v1.4h-1.4zM459.3 103.8h1.4v1.4h-1.4zM458.6 101.1h1.4v1.4h-1.4zM463.8 88.2h1.4v1.4h-1.4zM455.7 102.7h1.4v1.4h-1.4zM468.1 96.9h1.4v1.4h-1.4zM460.1 101.3h1.4v1.4h-1.4zM461.7 87.6h1.4v1.4h-1.4zM447.6 94.3h1.4v1.4h-1.4zM456.8 102.5h1.4v1.4h-1.4zM468.3 98.0h1.4v1.4h-1.4zM450.0 98.8h1.4v1.4h-1.4zM448.9 95.3h1.4v1.4h-1.4zM454.1 90.7h1.4v1.4h-1.4zM464.7 95.2h1.4v1.4h-1.4zM445.2 95.2h1.4v1.4h-1.4zM442.9 101.5h1.4v1.4h-1.4zM463.7 103.8h1.4v1.4h-1.4zM451.8 98.5h1.4v1.4h-1.4zM447.4 91.9h1.4v1.4h-1.4zM468.1 94.4h1.4v1.4h-1.4zM470.1 99.5h1.4v1.4h-1.4zM448.4 94.8h1.4v1.4h-1.4zM448.0 102.6h1.4v1.4h-1.4zM452.0 99.2h1.4v1.4h-1.4zM468.0 94.4h1.4v1.4h-1.4zM452.7 96.9h1.4v1.4h-1.4zM449.5 90.2h1.4v1.4h-1.4zM447.4 96.9h1.4v1.4h-1.4zM460.1 102.9h1.4v1.4h-1.4zM438.0 97.6h1.4v1.4h-1.4zM445.4 100.3h1.4v1.4h-1.4zM465.6 96.0h1.4v1.4h-1.4zM474.2 93.9h1.4v1.4h-1.4zM452.2 91.1h1.4v1.4h-1.4zM450.8 96.0h1.4v1.4h-1.4zM465.4 100.9h1.4v1.4h-1.4zM455.1 92.5h1.4v1.4h-1.4zM454.3 93.7h1.4v1.4h-1.4zM452.9 93.8h1.4v1.4h-1.4zM448.5 95.3h1.4v1.4h-1.4zM452.4 94.8h1.4v1.4h-1.4zM442.9 96.1h1.4v1.4h-1.4zM464.3 98.2h1.4v1.4h-1.4zM452.0 90.7h1.4v1.4h-1.4zM443.8 90.6h1.4v1.4h-1.4zM451.0 94.2h1.4v1.4h-1.4zM438.6 98.3h1.4v1.4h-1.4zM441.2 92.6h1.4v1.4h-1.4zM450.1 99.0h1.4v1.4h-1.4zM478.1 94.0h1.4v1.4h-1.4zM456.8 92.2h1.4v1.4h-1.4zM461.9 93.3h1.4v1.4h-1.4zM464.3 91.0h1.4v1.4h-1.4zM481.0 96.4h1.4v1.4h-1.4zM438.7 98.4h1.4v1.4h-1.4zM452.9 90.7h1.4v1.4h-1.4zM462.8 93.3h1.4v1.4h-1.4zM466.0 93.2h1.4v1.4h-1.4zM467.8 96.1h1.4v1.4h-1.4zM454.0 94.0h1.4v1.4h-1.4zM462.9 98.4h1.4v1.4h-1.4zM476.4 90.7h1.4v1.4h-1.4zM469.8 95.2h1.4v1.4h-1.4zM460.5 92.2h1.4v1.4h-1.4zM476.0 92.1h1.4v1.4h-1.4zM457.1 92.5h1.4v1.4h-1.4zM479.0 100.7h1.4v1.4h-1.4zM443.7 93.6h1.4v1.4h-1.4zM462.0 93.7h1.4v1.4h-1.4zM454.2 91.0h1.4v1.4h-1.4zM460.7 91.0h1.4v1.4h-1.4zM454.5 102.3h1.4v1.4h-1.4z" fill="#1414ff"/>
<path d="M454.2 96.9h1.4v1.4h-1.4zM458.0 97.4h1.4v1.4h-1.4zM456.8 96.4h1.4v1.4h-1.4zM461.7 96.2h1.4v1.4h-1.4zM453.3 94.6h1.4v1.4h-1.4zM453.6 96.3h1.4v1.4h-1.4zM458.6 96.4h1.4v1.4h-1.4zM453.3 95.9h1.4v1.4h-1.4zM461.2 94.9h1.4v1.4h-1.4zM461.6 96.3h1.4v1.4h-1.4zM460.1 96.9h1.4v1.4h-1.4zM456.9 95.3h1.4v1.4h-1.4zM460.2 97.4h1.4v1.4h-1.4zM454.3 96.7h1.4v1.4h-1.4zM461.6 95.8h1.4v1.4h-1.4zM459.6 96.1h1.4v1.4h-1.4zM456.8 94.5h1.4v1.4h-1.4zM462.1 94.7h1.4v1.4h-1.4zM462.3 94.8h1.4v1.4h-1.4zM458.9 93.6h1.4v1.4h-1.4zM457.1 97.5h1.4v1.4h-1.4zM456.4 94.2h1.4v1.4h-1.4zM460.3 94.8h1.4v1.4h-1.4zM459.4 95.7h1.4v1.4h-1.4zM457.8 95.3h1.4v1.4h-1.4zM456.7 95.3h1.4v1.4h-1.4zM456.7 94.0h1.4v1.4h-1.4zM461.8 95.6h1.4v1.4h-1.4zM459.8 96.9h1.4v1.4h-1.4zM455.4 97.2h1.4v1.4h-1.4zM455.4 93.9h1.4v1.4h-1.4zM458.8 95.3h1.4v1.4h-1.4zM459.5 97.2h1.4v1.4h-1.4zM459.7 93.5h1.4v1.4h-1.4zM456.4 96.8h1.4v1.4h-1.4zM457.1 95.6h1.4v1.4h-1.4zM456.9 93.5h1.4v1.4h-1.4zM461.2 95.5h1.4v1.4h-1.4zM457.4 97.0h1.4v1.4h-1.4zM456.2 96.3h1.4v1.4h-1.4zM455.3 97.2h1.4v1.4h-1.4zM456.8 95.9h1.4v1.4h-1.4zM456.7 96.5h1.4v1.4h-1.4zM455.8 96.3h1.4v1.4h-1.4zM459.6 93.6h1.4v1.4h-1.4zM458.2 95.8h1.4v1.4h-1.4zM462.0 96.5h1.4v1.4h-1.4zM457.0 97.2h1.4v1.4h-1.4zM455.0 93.9h1.4v1.4h-1.4zM455.8 94.8h1.4v1.4h-1.4zM461.9 96.2h1.4v1.4h-1.4z" fill="#1a64ff"/>
<path d="M424.8 90.4h1.4v1.4h-1.4zM419.4 88.8h1.4v1.4h-1.4zM422.9 97.8h1.4v1.4h-1.4zM428.9 92.5h1.4v1.4h-1.4zM413.2 93.6h1.4v1.4h-1.4zM434.4 95.5h1.4v1.4h-1.4zM421.5 82.8h1.4v1.4h-1.4zM418.8 97.0h1.4v1.4h-1.4zM415.0 101.3h1.4v1.4h-1.4zM417.8 89.3h1.4v1.4h-1.4zM417.7 93.5h1.4v1.4h-1.4zM429.4 91.0h1.4v1.4h-1.4zM408.8 93.6h1.4v1.4h-1.4zM425.9 102.3h1.4v1.4h-1.4zM413.7 102.0h1.4v1.4h-1.4zM427.0 96.5h1.4v1.4h-1.4zM416.3 89.2h1.4v1.4h-1.4zM414.9 99.1h1.4v1.4h-1.4zM423.6 99.8h1.4v1.4h-1.4zM435.4 94.1h1.4v1.4h-1.4zM421.7 104.4h1.4v1.4h-1.4zM412.4 91.6h1.4v1.4h-1.4zM419.3 92.0h1.4v1.4h-1.4zM423.1 89.5h1.4v1.4h-1.4zM430.6 86.7h1.4v1.4h-1.4zM416.0 84.9h1.4v1.4h-1.4zM411.7 97.2h1.4v1.4h-1.4zM426.6 93.0h1.4v1.4h-1.4zM428.2 97.4h1.4v1.4h-1.4zM417.7 93.8h1.4v1.4h-1.4zM424.7 104.9h1.4v1.4h-1.4zM418.8 96.0h1.4v1.4h-1.4zM426.0 100.6h1.4v1.4h-1.4zM425.1 99.8h1.4v1.4h-1.4zM414.2 92.6h1.4v1.4h-1.4zM439.2 95.3h1.4v1.4h-1.4zM422.7 95.5h1.4v1.4h-1.4zM423.1 86.9h1.4v1.4h-1.4zM416.9 93.1h1.4v1.4h-1.4zM423.2 89.4h1.4v1.4h-1.4zM421.2 90.1h1.4v1.4h-1.4zM412.3 90.5h1.4v1.4h-1.4zM416.1 98.5h1.4v1.4h-1.4zM431.9 97.1h1.4v1.4h-1.4zM420.4 91.0h1.4v1.4h-1.4zM410.4 91.2h1.4v1.4h-1.4zM433.5 100.2h1.4v1.4h-1.4zM423.7 92.7h1.4v1.4h-1.4zM422.0 96.3h1.4v1.4h-1.4zM421.9 96.3h1.4v1.4h-1.4zM416.3 94.3h1.4v1.4h-1.4zM419.4 99.8h1.4v1.4h-1.4zM412.9 101.0h1.4v1.4h-1.4zM421.4 91.3h1.4v1.4h-1.4zM422.2 94.7h1.4v1.4h-1.4zM420.3 96.3h1.4v1.4h-1.4zM417.7 84.9h1.4v1.4h-1.4zM427.1 93.9h1.4v1.4h-1.4zM434.3 96.1h1.4v1.4h-1.4zM416.9 97.0h1.4v1.4h-1.4zM438.4 99.9h1.4v1.4h-1.4zM413.9 93.5h1.4v1.4h-1.4zM410.2 97.6h1.4v1.4h-1.4zM426.1 88.5h1.4v1.4h-1.4zM425.3 99.1h1.4v1.4h-1.4zM428.0 90.4h1.4v1.4h-1.4zM416.9 88.0h1.4v1.4h-1.4zM412.5 95.7h1.4v1.4h-1.4zM422.3 101.0h1.4v1.4h-1.4zM424.0 92.3h1.4v1.4h-1.4zM411.5 102.3h1.4v1.4h-1.4zM423.2 93.9h1.4v1.4h-1.4zM414.6 88.4h1.4v1.4h-1.4zM426.7 88.8h1.4v1.4h-1.4zM426.3 97.4h1.4v1.4h-1.4zM419.2 85.4h1.4v1.4h-1.4zM425.0 101.6h1.4v1.4h-1.4zM415.9 87.3h1.4v1.4h-1.4zM430.0 94.8h1.4v1.4h-1.4zM417.4 100.6h1.4v1.4h-1.4zM420.0 96.5h1.4v1.4h-1.4zM419.0 90.0h1.4v1.4h-1.4zM423.6 89.5h1.4v1.4h-1.4zM408.9 91.2h1.4v1.4h-1.4zM431.1 99.9h1.4v1.4h-1.4zM438.0 99.4h1.4v1.4h-1.4zM433.9 95.4h1.4v1.4h-1.4zM418.8 96.5h1.4v1.4h-1.4zM415.0 98.0h1.4v1.4h-1.4zM418.7 95.4h1.4v1.4h-1.4zM415.7 93.3h1.4v1.4h-1.4zM429.2 92.9h1.4v1.4h-1.4zM417.0 95.6h1.4v1.4h-1.4zM428.5 93.1h1.4v1.4h-1.4zM413.4 85.7h1.4v1.4h-1.4zM412.1 99.7h1.4v1.4h-1.4zM421.4 96.6h1.4v1.4h-1.4zM429.9 95.6h1.4v1.4h-1.4zM425.5 91.4h1.4v1.4h-1.4zM410.2 97.4h1.4v1.4h-1.4zM421.3 97.1h1.4v1.4h-1.4zM414.2 93.3h1.4v1.4h-1.4zM436.8 89.6h1.4v1.4h-1.4zM422.7 101.0h1.4v1.4h-1.4zM420.3 94.7h1.4v1.4h-1.4zM418.8 100.9h1.4v1.4h-1.4zM421.3 92.1h1.4v1.4h-1.4zM425.2 92.8h1.4v1.4h-1.4zM418.2 102.3h1.4v1.4h-1.4zM429.2 94.6h1.4v1.4h-1.4zM427.9 98.4h1.4v1.4h-1.4zM426.3 94.3h1.4v1.4h-1.4zM422.5 96.2h1.4v1.4h-1.4zM426.2 95.9h1.4v1.4h-1.4zM418.0 93.7h1.4v1.4h-1.4zM425.4 88.8h1.4v1.4h-1.4zM421.9 98.1h1.4v1.4h-1.4zM423.2 92.6h1.4v1.4h-1.4zM421.8 91.5h1.4v1.4h-1.4zM429.2 92.1h1.4v1.4h-1.4zM409.8 87.7h1.4v1.4h-1.4zM424.2 95.2h1.4v1.4h-1.4zM418.5 87.1h1.4v1.4h-1.4zM420.9 89.6h1.4v1.4h-1.4zM417.2 94.1h1.4v1.4h-1.4zM416.4 95.7h1.4v1.4h-1.4zM416.6 91.6h1.4v1.4h-1.4zM420.3 101.8h1.4v1.4h-1.4zM433.6 99.1h1.4v1.4h-1.4zM416.6 94.1h1.4v1.4h-1.4zM428.7 98.3h1.4v1.4h-1.4zM410.0 93.8h1.4v1.4h-1.4zM416.6 98.0h1.4v1.4h-1.4zM426.7 91.3h1.4v1.4h-1.4zM437.7 92.6h1.4v1.4h-1.4zM439.9 93.2h1.4v1.4h-1.4zM421.4 104.1h1.4v1.4h-1.4zM418.1 91.6h1.4v1.4h-1.4zM432.8 93.9h1.4v1.4h-1.4zM425.5 87.5h1.4v1.4h-1.4zM435.1 99.3h1.4v1.4h-1.4zM424.6 97.8h1.4v1.4h-1.4zM418.3 91.6h1.4v1.4h-1.4zM410.5 96.0h1.4v1.4h-1.4zM431.1 98.6h1.4v1.4h-1.4zM428.8 97.8h1.4v1.4h-1.4zM415.2 87.2h1.4v1.4h-1.4zM426.7 95.0h1.4v1.4h-1.4zM429.2 92.6h1.4v1.4h-1.4zM415.5 96.4h1.4v1.4h-1.4zM417.9 85.5h1.4v1.4h-1.4zM417.5 89.5h1.4v1.4h-1.4zM413.8 91.2h1.4v1.4h-1.4zM434.7 91.9h1.4v1.4h-1.4zM430.4 93.7h1.4v1.4h-1.4zM425.0 90.5h1.4v1.4h-1.4zM421.5 85.3h1.4v1.4h-1.4zM435.2 90.1h1.4v1.4h-1.4zM426.3 91.0h1.4v1.4h-1.4zM424.0 87.9h1.4v1.4h-1.4zM419.2 98.9h1.4v1.4h-1.4zM426.4 83.9h1.4v1.4h-1.4zM428.3 87.2h1.4v1.4h-1.4zM424.1 96.8h1.4v1.4h-1.4zM417.3 92.4h1.4v1.4h-1.4zM420.2 96.2h1.4v1.4h-1.4zM428.7 101.2h1.4v1.4h-1.4zM424.4 104.5h1.4v1.4h-1.4zM415.0 103.4h1.4v1.4h-1.4zM420.1 98.1h1.4v1.4h-1.4zM421.1 94.5h1.4v1.4h-1.4zM415.3 96.1h1.4v1.4h-1.4zM436.9 94.9h1.4v1.4h-1.4zM421.8 94.1h1.4v1.4h-1.4zM427.2 93.0h1.4v1.4h-1.4zM422.0 95.2h1.4v1.4h-1.4zM431.6 99.1h1.4v1.4h-1.4zM414.3 90.8h1.4v1.4h-1.4zM422.1 98.5h1.4v1.4h-1.4zM429.1 93.0h1.4v1.4h-1.4zM437.6 93.2h1.4v1.4h-1.4zM432.3 101.5h1.4v1.4h-1.4zM433.7 95.1h1.4v1.4h-1.4zM426.2 86.1h1.4v1.4h-1.4zM408.9 90.9h1.4v1.4h-1.4zM427.3 99.7h1.4v1.4h-1.4zM421.2 99.5h1.4v1.4h-1.4zM426.2 102.1h1.4v1.4h-1.4zM410.3 89.8h1.4v1.4h-1.4zM415.0 88.6h1.4v1.4h-1.4zM434.1 89.3h1.4v1.4h-1.4zM415.9 92.0h1.4v1.4h-1.4zM428.5 91.7h1.4v1.4h-1.4zM427.4 97.0h1.4v1.4h-1.4zM417.3 81.7h1.4v1.4h-1.4zM415.3 87.6h1.4v1.4h-1.4z" fill="#1414ff"/>
<g clip-path="url(#c4)"><g filter="url(#bl)"><ellipse cx="422.0" cy="94.5" rx="14.0" ry="11.0" fill="#1414ff"/><ellipse cx="422.5" cy="95.0" rx="12.0" ry="9.3" fill="#0a7dff"/><ellipse cx="423.1" cy="96.3" rx="9.9" ry="6.4" fill="#00e8ff"/><ellipse cx="423.1" cy="96.2" rx="7.8" ry="5.2" fill="#18ff28"/><ellipse cx="423.1" cy="96.1" rx="5.8" ry="3.9" fill="#ffff00"/><ellipse cx="423.1" cy="96.0" rx="4.6" ry="3.2" fill="#ff8c00"/><ellipse cx="423.1" cy="96.0" rx="3.8" ry="2.7" fill="#ff0000"/></g></g>
<path d="M543.6 85.8h1.4v1.4h-1.4zM532.2 82.6h1.4v1.4h-1.4zM539.5 81.2h1.4v1.4h-1.4zM524.5 84.2h1.4v1.4h-1.4zM540.6 80.5h1.4v1.4h-1.4zM537.7 86.9h1.4v1.4h-1.4zM524.9 79.4h1.4v1.4h-1.4zM533.3 81.3h1.4v1.4h-1.4zM543.8 88.0h1.4v1.4h-1.4zM532.2 85.9h1.4v1.4h-1.4zM536.5 79.7h1.4v1.4h-1.4zM544.4 79.7h1.4v1.4h-1.4zM523.7 82.5h1.4v1.4h-1.4zM522.4 82.8h1.4v1.4h-1.4zM531.5 87.5h1.4v1.4h-1.4zM531.5 86.5h1.4v1.4h-1.4zM539.9 83.9h1.4v1.4h-1.4zM527.5 81.0h1.4v1.4h-1.4zM533.3 82.0h1.4v1.4h-1.4zM536.8 83.1h1.4v1.4h-1.4zM529.4 84.1h1.4v1.4h-1.4zM544.9 80.0h1.4v1.4h-1.4zM529.7 78.1h1.4v1.4h-1.4zM524.2 78.6h1.4v1.4h-1.4zM531.7 86.4h1.4v1.4h-1.4z" fill="#1414ff"/>
<path d="M540.5 79.7h1.4v1.4h-1.4zM542.6 76.7h1.4v1.4h-1.4zM538.7 72.1h1.4v1.4h-1.4zM535.8 74.1h1.4v1.4h-1.4zM539.3 72.5h1.4v1.4h-1.4zM538.1 75.0h1.4v1.4h-1.4zM537.4 75.2h1.4v1.4h-1.4zM531.5 77.9h1.4v1.4h-1.4z" fill="#1414ff"/>
<path d="M563.0 89.6h1.4v1.4h-1.4zM556.2 89.6h1.4v1.4h-1.4zM563.7 93.9h1.4v1.4h-1.4zM562.6 83.5h1.4v1.4h-1.4z" fill="#1414ff"/>
<path d="M555.9 89.8h1.4v1.4h-1.4zM547.7 87.1h1.4v1.4h-1.4zM545.9 88.2h1.4v1.4h-1.4zM543.6 91.5h1.4v1.4h-1.4zM560.0 95.1h1.4v1.4h-1.4zM543.9 102.6h1.4v1.4h-1.4zM552.1 88.2h1.4v1.4h-1.4zM556.0 103.2h1.4v1.4h-1.4zM557.8 101.7h1.4v1.4h-1.4zM554.8 90.6h1.4v1.4h-1.4zM562.1 97.0h1.4v1.4h-1.4zM551.1 90.5h1.4v1.4h-1.4zM542.4 91.6h1.4v1.4h-1.4zM556.8 89.6h1.4v1.4h-1.4zM545.3 90.2h1.4v1.4h-1.4zM557.8 102.7h1.4v1.4h-1.4zM557.5 101.6h1.4v1.4h-1.4zM559.0 99.8h1.4v1.4h-1.4zM543.7 90.4h1.4v1.4h-1.4zM550.5 103.7h1.4v1.4h-1.4zM547.7 90.5h1.4v1.4h-1.4zM562.5 92.7h1.4v1.4h-1.4zM541.5 101.9h1.4v1.4h-1.4zM549.2 88.4h1.4v1.4h-1.4zM561.1 92.7h1.4v1.4h-1.4zM556.4 91.3h1.4v1.4h-1.4zM542.1 102.1h1.4v1.4h-1.4zM552.3 103.2h1.4v1.4h-1.4zM553.5 103.4h1.4v1.4h-1.4zM556.7 104.9h1.4v1.4h-1.4zM544.1 102.5h1.4v1.4h-1.4zM540.2 102.8h1.4v1.4h-1.4zM559.6 98.3h1.4v1.4h-1.4zM551.4 104.3h1.4v1.4h-1.4zM557.1 92.1h1.4v1.4h-1.4zM547.1 102.8h1.4v1.4h-1.4zM544.0 102.2h1.4v1.4h-1.4zM540.1 93.9h1.4v1.4h-1.4zM552.7 103.4h1.4v1.4h-1.4zM540.4 95.0h1.4v1.4h-1.4zM540.9 99.2h1.4v1.4h-1.4zM554.5 102.5h1.4v1.4h-1.4zM557.4 101.2h1.4v1.4h-1.4zM548.4 104.8h1.4v1.4h-1.4zM564.3 94.0h1.4v1.4h-1.4zM561.3 98.1h1.4v1.4h-1.4zM551.5 91.0h1.4v1.4h-1.4zM542.6 104.1h1.4v1.4h-1.4zM558.3 102.9h1.4v1.4h-1.4zM561.2 93.4h1.4v1.4h-1.4zM541.5 91.7h1.4v1.4h-1.4zM558.6 102.0h1.4v1.4h-1.4zM551.5 90.8h1.4v1.4h-1.4zM552.0 91.0h1.4v1.4h-1.4z" fill="#1414ff"/>
<path d="M556.4 93.1h1.4v1.4h-1.4zM550.1 102.0h1.4v1.4h-1.4zM550.6 91.8h1.4v1.4h-1.4zM546.3 101.1h1.4v1.4h-1.4zM557.0 94.9h1.4v1.4h-1.4zM556.6 94.5h1.4v1.4h-1.4zM542.6 98.2h1.4v1.4h-1.4zM545.1 94.0h1.4v1.4h-1.4zM545.1 93.5h1.4v1.4h-1.4zM551.4 102.9h1.4v1.4h-1.4zM541.9 96.1h1.4v1.4h-1.4zM546.4 101.5h1.4v1.4h-1.4zM553.5 101.3h1.4v1.4h-1.4zM544.0 99.9h1.4v1.4h-1.4zM547.6 92.2h1.4v1.4h-1.4zM546.5 102.3h1.4v1.4h-1.4zM549.9 101.8h1.4v1.4h-1.4zM547.1 91.6h1.4v1.4h-1.4zM550.9 92.8h1.4v1.4h-1.4zM557.5 100.1h1.4v1.4h-1.4zM540.9 95.8h1.4v1.4h-1.4zM555.6 92.9h1.4v1.4h-1.4zM542.6 98.5h1.4v1.4h-1.4zM556.9 96.7h1.4v1.4h-1.4zM556.1 100.8h1.4v1.4h-1.4zM543.6 98.4h1.4v1.4h-1.4zM556.1 95.1h1.4v1.4h-1.4zM557.5 94.4h1.4v1.4h-1.4zM558.0 95.2h1.4v1.4h-1.4zM556.6 98.9h1.4v1.4h-1.4zM543.7 94.4h1.4v1.4h-1.4zM547.2 101.1h1.4v1.4h-1.4zM542.8 95.9h1.4v1.4h-1.4zM545.5 92.0h1.4v1.4h-1.4zM557.0 99.0h1.4v1.4h-1.4zM556.7 98.2h1.4v1.4h-1.4zM552.8 92.2h1.4v1.4h-1.4zM558.8 96.1h1.4v1.4h-1.4zM541.6 95.9h1.4v1.4h-1.4zM551.0 102.9h1.4v1.4h-1.4zM549.5 102.6h1.4v1.4h-1.4zM550.8 91.6h1.4v1.4h-1.4zM542.1 95.9h1.4v1.4h-1.4zM549.0 92.1h1.4v1.4h-1.4zM549.9 101.6h1.4v1.4h-1.4zM550.0 91.1h1.4v1.4h-1.4zM547.5 101.4h1.4v1.4h-1.4zM552.0 92.3h1.4v1.4h-1.4zM559.1 98.2h1.4v1.4h-1.4zM550.6 101.7h1.4v1.4h-1.4zM541.1 97.1h1.4v1.4h-1.4zM553.0 102.0h1.4v1.4h-1.4zM553.6 102.5h1.4v1.4h-1.4zM550.6 92.7h1.4v1.4h-1.4z" fill="#1a50ff"/>
<path d="M546.4 99.2h1.4v1.4h-1.4zM555.3 97.3h1.4v1.4h-1.4zM550.4 100.7h1.4v1.4h-1.4zM554.3 96.1h1.4v1.4h-1.4zM544.1 96.6h1.4v1.4h-1.4zM554.7 97.4h1.4v1.4h-1.4zM553.4 99.4h1.4v1.4h-1.4zM551.6 94.5h1.4v1.4h-1.4zM555.3 96.7h1.4v1.4h-1.4zM545.6 95.8h1.4v1.4h-1.4zM553.4 95.2h1.4v1.4h-1.4zM550.5 93.8h1.4v1.4h-1.4zM554.0 98.8h1.4v1.4h-1.4zM554.4 99.2h1.4v1.4h-1.4zM553.9 98.4h1.4v1.4h-1.4zM544.5 99.2h1.4v1.4h-1.4zM555.4 97.7h1.4v1.4h-1.4zM554.1 99.7h1.4v1.4h-1.4zM548.7 100.0h1.4v1.4h-1.4zM549.7 94.4h1.4v1.4h-1.4zM547.8 99.8h1.4v1.4h-1.4zM544.2 97.5h1.4v1.4h-1.4zM553.0 94.8h1.4v1.4h-1.4zM553.5 100.4h1.4v1.4h-1.4zM554.5 94.7h1.4v1.4h-1.4zM547.2 94.2h1.4v1.4h-1.4zM545.1 96.7h1.4v1.4h-1.4zM554.3 94.2h1.4v1.4h-1.4zM543.9 97.8h1.4v1.4h-1.4zM554.2 96.6h1.4v1.4h-1.4zM545.6 99.8h1.4v1.4h-1.4zM544.3 94.9h1.4v1.4h-1.4zM556.2 96.6h1.4v1.4h-1.4zM546.3 100.2h1.4v1.4h-1.4zM545.9 98.3h1.4v1.4h-1.4zM546.2 96.0h1.4v1.4h-1.4zM553.4 95.2h1.4v1.4h-1.4zM551.2 93.0h1.4v1.4h-1.4zM552.2 94.1h1.4v1.4h-1.4zM547.6 94.8h1.4v1.4h-1.4zM546.6 94.8h1.4v1.4h-1.4zM545.9 97.9h1.4v1.4h-1.4zM551.5 99.2h1.4v1.4h-1.4zM552.6 93.2h1.4v1.4h-1.4zM548.8 93.6h1.4v1.4h-1.4zM546.6 93.9h1.4v1.4h-1.4zM546.4 96.1h1.4v1.4h-1.4zM554.4 99.0h1.4v1.4h-1.4zM556.5 97.3h1.4v1.4h-1.4zM549.0 93.8h1.4v1.4h-1.4zM555.8 96.7h1.4v1.4h-1.4zM544.3 95.9h1.4v1.4h-1.4zM550.6 93.7h1.4v1.4h-1.4zM550.6 94.4h1.4v1.4h-1.4zM548.0 94.7h1.4v1.4h-1.4zM549.5 94.5h1.4v1.4h-1.4zM548.0 100.2h1.4v1.4h-1.4zM554.6 99.0h1.4v1.4h-1.4zM554.5 95.8h1.4v1.4h-1.4zM545.7 95.9h1.4v1.4h-1.4zM555.4 97.3h1.4v1.4h-1.4zM548.3 99.3h1.4v1.4h-1.4zM553.9 95.2h1.4v1.4h-1.4zM551.9 99.6h1.4v1.4h-1.4zM544.3 95.0h1.4v1.4h-1.4zM544.7 97.5h1.4v1.4h-1.4zM552.8 94.0h1.4v1.4h-1.4zM554.6 97.8h1.4v1.4h-1.4zM546.3 96.6h1.4v1.4h-1.4zM552.9 98.9h1.4v1.4h-1.4zM555.0 95.6h1.4v1.4h-1.4zM553.1 95.4h1.4v1.4h-1.4z" fill="#1a8cff"/>
<path d="M551.5 97.0h1.4v1.4h-1.4zM551.5 96.1h1.4v1.4h-1.4zM550.4 96.1h1.4v1.4h-1.4zM552.0 96.4h1.4v1.4h-1.4zM548.3 98.9h1.4v1.4h-1.4zM546.7 96.9h1.4v1.4h-1.4zM551.3 95.5h1.4v1.4h-1.4zM551.4 94.9h1.4v1.4h-1.4zM552.6 95.5h1.4v1.4h-1.4zM549.8 98.8h1.4v1.4h-1.4zM553.2 96.5h1.4v1.4h-1.4zM551.3 97.0h1.4v1.4h-1.4zM549.7 95.4h1.4v1.4h-1.4zM548.1 98.4h1.4v1.4h-1.4zM553.3 97.7h1.4v1.4h-1.4zM552.1 97.4h1.4v1.4h-1.4zM550.8 97.0h1.4v1.4h-1.4zM551.1 96.3h1.4v1.4h-1.4zM548.4 97.1h1.4v1.4h-1.4zM549.8 97.0h1.4v1.4h-1.4zM551.6 98.4h1.4v1.4h-1.4zM549.6 97.6h1.4v1.4h-1.4zM550.7 98.8h1.4v1.4h-1.4zM548.0 98.4h1.4v1.4h-1.4zM547.9 95.9h1.4v1.4h-1.4zM552.5 98.5h1.4v1.4h-1.4zM550.7 95.4h1.4v1.4h-1.4zM547.8 96.0h1.4v1.4h-1.4zM552.7 96.5h1.4v1.4h-1.4z" fill="#00d0ff"/>
<path d="M528.8 101.4h1.4v1.4h-1.4zM524.0 98.9h1.4v1.4h-1.4zM546.0 97.6h1.4v1.4h-1.4zM524.4 100.5h1.4v1.4h-1.4zM521.7 96.1h1.4v1.4h-1.4zM530.1 100.5h1.4v1.4h-1.4zM539.4 95.4h1.4v1.4h-1.4zM542.9 99.2h1.4v1.4h-1.4zM529.7 89.8h1.4v1.4h-1.4zM546.8 92.6h1.4v1.4h-1.4zM534.9 93.9h1.4v1.4h-1.4zM529.7 86.8h1.4v1.4h-1.4zM531.7 93.9h1.4v1.4h-1.4zM538.2 92.0h1.4v1.4h-1.4zM523.4 89.3h1.4v1.4h-1.4zM532.3 95.7h1.4v1.4h-1.4zM536.7 92.7h1.4v1.4h-1.4zM535.6 95.2h1.4v1.4h-1.4zM542.3 94.2h1.4v1.4h-1.4zM533.3 97.2h1.4v1.4h-1.4zM539.6 90.1h1.4v1.4h-1.4zM529.7 93.2h1.4v1.4h-1.4zM520.1 100.8h1.4v1.4h-1.4zM538.8 94.6h1.4v1.4h-1.4zM544.3 102.1h1.4v1.4h-1.4zM537.8 87.7h1.4v1.4h-1.4zM541.4 96.5h1.4v1.4h-1.4zM525.5 94.8h1.4v1.4h-1.4zM536.9 99.2h1.4v1.4h-1.4zM533.5 92.0h1.4v1.4h-1.4zM537.0 90.8h1.4v1.4h-1.4zM532.1 98.2h1.4v1.4h-1.4zM524.1 96.3h1.4v1.4h-1.4zM521.1 90.0h1.4v1.4h-1.4zM525.3 94.1h1.4v1.4h-1.4zM536.7 94.3h1.4v1.4h-1.4zM537.8 95.0h1.4v1.4h-1.4zM531.3 96.9h1.4v1.4h-1.4zM531.1 95.2h1.4v1.4h-1.4zM538.6 91.8h1.4v1.4h-1.4zM539.2 89.2h1.4v1.4h-1.4zM531.2 86.1h1.4v1.4h-1.4zM529.4 102.2h1.4v1.4h-1.4zM534.6 100.6h1.4v1.4h-1.4zM523.9 89.6h1.4v1.4h-1.4zM535.2 98.5h1.4v1.4h-1.4zM537.4 86.4h1.4v1.4h-1.4zM535.5 94.2h1.4v1.4h-1.4zM533.2 96.8h1.4v1.4h-1.4zM530.9 86.3h1.4v1.4h-1.4zM526.3 87.5h1.4v1.4h-1.4zM524.8 93.9h1.4v1.4h-1.4zM540.1 91.1h1.4v1.4h-1.4zM528.0 89.0h1.4v1.4h-1.4zM522.4 94.8h1.4v1.4h-1.4zM529.7 93.3h1.4v1.4h-1.4zM526.9 96.8h1.4v1.4h-1.4zM525.5 97.1h1.4v1.4h-1.4zM528.6 98.3h1.4v1.4h-1.4zM527.3 96.6h1.4v1.4h-1.4zM535.1 94.1h1.4v1.4h-1.4zM542.0 95.3h1.4v1.4h-1.4zM527.3 97.8h1.4v1.4h-1.4zM527.7 91.9h1.4v1.4h-1.4zM532.6 95.4h1.4v1.4h-1.4zM542.5 86.1h1.4v1.4h-1.4zM531.0 100.0h1.4v1.4h-1.4zM531.6 96.1h1.4v1.4h-1.4zM541.4 88.6h1.4v1.4h-1.4zM532.8 98.3h1.4v1.4h-1.4zM529.1 86.0h1.4v1.4h-1.4zM526.7 95.4h1.4v1.4h-1.4zM533.6 103.4h1.4v1.4h-1.4zM540.3 87.0h1.4v1.4h-1.4zM538.6 98.9h1.4v1.4h-1.4zM542.0 93.8h1.4v1.4h-1.4zM529.2 95.2h1.4v1.4h-1.4zM541.5 97.5h1.4v1.4h-1.4zM542.4 98.3h1.4v1.4h-1.4zM529.1 89.6h1.4v1.4h-1.4zM543.3 87.2h1.4v1.4h-1.4zM530.5 93.0h1.4v1.4h-1.4zM527.2 91.7h1.4v1.4h-1.4zM532.1 92.0h1.4v1.4h-1.4zM533.2 99.0h1.4v1.4h-1.4zM527.7 92.5h1.4v1.4h-1.4zM522.3 97.9h1.4v1.4h-1.4zM536.5 101.8h1.4v1.4h-1.4zM537.6 93.2h1.4v1.4h-1.4zM530.2 93.0h1.4v1.4h-1.4zM525.4 98.2h1.4v1.4h-1.4zM528.9 91.0h1.4v1.4h-1.4zM535.5 95.0h1.4v1.4h-1.4zM529.1 93.4h1.4v1.4h-1.4zM529.6 101.0h1.4v1.4h-1.4zM538.4 91.0h1.4v1.4h-1.4zM532.3 101.1h1.4v1.4h-1.4zM530.8 103.1h1.4v1.4h-1.4zM535.1 97.7h1.4v1.4h-1.4zM520.4 98.6h1.4v1.4h-1.4zM534.5 97.3h1.4v1.4h-1.4zM535.3 97.1h1.4v1.4h-1.4zM529.5 98.9h1.4v1.4h-1.4zM532.9 89.4h1.4v1.4h-1.4zM526.5 95.3h1.4v1.4h-1.4zM534.5 83.8h1.4v1.4h-1.4zM520.4 99.6h1.4v1.4h-1.4zM523.5 93.3h1.4v1.4h-1.4zM529.0 97.2h1.4v1.4h-1.4zM540.7 102.3h1.4v1.4h-1.4zM526.6 100.5h1.4v1.4h-1.4zM525.4 96.0h1.4v1.4h-1.4zM533.5 97.5h1.4v1.4h-1.4zM527.8 101.0h1.4v1.4h-1.4zM532.1 94.4h1.4v1.4h-1.4zM530.9 89.3h1.4v1.4h-1.4zM536.7 96.1h1.4v1.4h-1.4zM535.2 103.5h1.4v1.4h-1.4zM527.4 93.1h1.4v1.4h-1.4zM532.5 98.6h1.4v1.4h-1.4zM531.5 99.0h1.4v1.4h-1.4zM535.2 86.0h1.4v1.4h-1.4zM528.5 84.7h1.4v1.4h-1.4zM530.8 92.5h1.4v1.4h-1.4zM536.0 95.3h1.4v1.4h-1.4zM532.1 100.6h1.4v1.4h-1.4zM536.0 88.5h1.4v1.4h-1.4zM528.5 96.1h1.4v1.4h-1.4zM542.5 93.5h1.4v1.4h-1.4zM531.5 95.8h1.4v1.4h-1.4zM537.1 94.1h1.4v1.4h-1.4zM534.2 92.5h1.4v1.4h-1.4zM529.3 90.6h1.4v1.4h-1.4zM536.4 91.8h1.4v1.4h-1.4zM535.7 96.5h1.4v1.4h-1.4zM538.2 81.5h1.4v1.4h-1.4zM526.8 88.6h1.4v1.4h-1.4zM531.5 98.4h1.4v1.4h-1.4zM547.3 102.0h1.4v1.4h-1.4zM540.5 96.4h1.4v1.4h-1.4zM530.2 97.1h1.4v1.4h-1.4zM519.7 99.0h1.4v1.4h-1.4zM532.6 97.5h1.4v1.4h-1.4zM526.5 89.2h1.4v1.4h-1.4zM528.7 94.3h1.4v1.4h-1.4zM534.5 92.8h1.4v1.4h-1.4zM534.5 97.8h1.4v1.4h-1.4zM525.7 94.0h1.4v1.4h-1.4zM523.4 91.8h1.4v1.4h-1.4zM537.8 91.0h1.4v1.4h-1.4zM543.4 97.0h1.4v1.4h-1.4zM537.7 95.0h1.4v1.4h-1.4zM537.6 99.8h1.4v1.4h-1.4zM533.1 91.9h1.4v1.4h-1.4zM529.3 103.9h1.4v1.4h-1.4zM531.4 92.3h1.4v1.4h-1.4z" fill="#1414ff"/>
<g clip-path="url(#c5)"><g filter="url(#bl)"><ellipse cx="532.5" cy="95.0" rx="12.0" ry="10.0" fill="#1414ff"/><ellipse cx="533.0" cy="95.8" rx="10.2" ry="8.3" fill="#0a7dff"/><ellipse cx="533.4" cy="96.6" rx="7.9" ry="6.2" fill="#00e8ff"/><ellipse cx="533.4" cy="96.5" rx="6.3" ry="4.9" fill="#18ff28"/><ellipse cx="533.4" cy="96.4" rx="4.6" ry="3.7" fill="#ffff00"/><ellipse cx="533.4" cy="96.3" rx="3.7" ry="3.1" fill="#ff8c00"/><ellipse cx="533.4" cy="96.3" rx="3.0" ry="2.6" fill="#ff0000"/></g></g>
<rect x="193.75" y="15.90" width="93.45" height="93.10" fill="none" stroke="#222" stroke-width="0.90"/>
<rect x="227.50" y="73.30" width="47.00" height="33.70" fill="none" stroke="#e2487f" stroke-width="0.90"/>
<text x="261.6" y="67.2" font-size="9.00" text-anchor="middle" fill="#111" stroke="#111" stroke-width="0.22">8.4%</text>
<path d="M193.8 108.0h-4.6M193.8 102.5h-2M193.8 97.0h-2M193.8 91.6h-2M193.8 86.1h-4.6M193.8 80.6h-2M193.8 75.1h-2M193.8 69.7h-2M193.8 64.2h-4.6M193.8 58.7h-2M193.8 53.2h-2M193.8 47.8h-2M193.8 42.3h-4.6M193.8 36.8h-2M193.8 31.4h-2M193.8 25.9h-2M193.8 20.4h-4.6" stroke="#222" stroke-width="0.75" fill="none"/>
<path d="M214.0 109.0v4.8M239.0 109.0v4.8M260.6 109.0v4.8M276.0 109.0v4.8M223.9 109.0v3.0M227.7 109.0v3.0M230.4 109.0v3.0M232.5 109.0v3.0M234.2 109.0v3.0M235.7 109.0v3.0M236.9 109.0v3.0M238.0 109.0v3.0M245.5 109.0v3.0M249.3 109.0v3.0M252.0 109.0v3.0M254.1 109.0v3.0M255.8 109.0v3.0M257.3 109.0v3.0M258.5 109.0v3.0M259.6 109.0v3.0M265.2 109.0v3.0M267.9 109.0v3.0M269.9 109.0v3.0M271.4 109.0v3.0M272.6 109.0v3.0M273.6 109.0v3.0M274.5 109.0v3.0M275.3 109.0v3.0M282.5 109.0v3.0M286.3 109.0v3.0" stroke="#111" stroke-width="0.85" fill="none"/>
<path d="M205.6 109.0v3.6M206.8 109.0v4.8M208.0 109.0v3.6M209.2 109.0v4.8M210.4 109.0v4.8M211.6 109.0v3.6M212.8 109.0v4.8M214.0 109.0v4.8M215.2 109.0v4.8M216.4 109.0v3.6M217.6 109.0v4.8M218.8 109.0v4.8M220.0 109.0v3.6M221.2 109.0v4.8M222.4 109.0v3.6" stroke="#000" stroke-width="1.0" fill="none"/>
<path d="M202.0 109.0v3.0M196.5 109.0v3.0" stroke="#111" stroke-width="0.85" fill="none"/>
<text x="214.0" y="125.8" font-size="7.90" text-anchor="middle" fill="#111" stroke="#111" stroke-width="0.22">0</text>
<text x="239.0" y="125.8" font-size="7.90" text-anchor="middle" fill="#111" stroke="#111" stroke-width="0.22">10<tspan dy="-3.00" font-size="5.53">4</tspan></text>
<text x="260.6" y="125.8" font-size="7.90" text-anchor="middle" fill="#111" stroke="#111" stroke-width="0.22">10<tspan dy="-3.00" font-size="5.53">5</tspan></text>
<text x="276.0" y="125.8" font-size="7.90" text-anchor="middle" fill="#111" stroke="#111" stroke-width="0.22">10<tspan dy="-3.00" font-size="5.53">6</tspan></text>
<text x="244.0" y="139.0" font-size="8.20" text-anchor="middle" fill="#111" stroke="#111" stroke-width="0.22">CD69-BUV805</text>
<text x="238.0" y="7.2" font-size="9.20" text-anchor="middle" fill="#111" stroke="#111" stroke-width="0.22">CD69</text>
<rect x="301.50" y="14.90" width="92.50" height="92.40" fill="none" stroke="#222" stroke-width="0.90"/>
<rect x="335.20" y="73.20" width="44.90" height="32.50" fill="none" stroke="#e2487f" stroke-width="0.90"/>
<text x="365.8" y="70.2" font-size="9.00" text-anchor="middle" fill="#111" stroke="#111" stroke-width="0.22">28.9%</text>
<path d="M301.5 106.3h-4.6M301.5 100.9h-2M301.5 95.4h-2M301.5 90.0h-2M301.5 84.6h-4.6M301.5 79.1h-2M301.5 73.7h-2M301.5 68.3h-2M301.5 62.8h-4.6M301.5 57.4h-2M301.5 52.0h-2M301.5 46.6h-2M301.5 41.1h-4.6M301.5 35.7h-2M301.5 30.3h-2M301.5 24.8h-2M301.5 19.4h-4.6" stroke="#222" stroke-width="0.75" fill="none"/>
<path d="M321.9 107.3v4.8M346.4 107.3v4.8M364.8 107.3v4.8M382.2 107.3v4.8M333.5 107.3v3.0M336.8 107.3v3.0M339.1 107.3v3.0M340.9 107.3v3.0M342.3 107.3v3.0M343.5 107.3v3.0M344.6 107.3v3.0M345.6 107.3v3.0M351.9 107.3v3.0M355.2 107.3v3.0M357.5 107.3v3.0M359.3 107.3v3.0M360.7 107.3v3.0M361.9 107.3v3.0M363.0 107.3v3.0M364.0 107.3v3.0M370.0 107.3v3.0M373.1 107.3v3.0M375.3 107.3v3.0M377.0 107.3v3.0M378.3 107.3v3.0M379.5 107.3v3.0M380.5 107.3v3.0M381.4 107.3v3.0M387.7 107.3v3.0M391.0 107.3v3.0M393.3 107.3v3.0" stroke="#111" stroke-width="0.85" fill="none"/>
<path d="M313.5 107.3v3.6M314.7 107.3v4.8M315.9 107.3v3.6M317.1 107.3v4.8M318.3 107.3v4.8M319.5 107.3v3.6M320.7 107.3v4.8M321.9 107.3v4.8M323.1 107.3v4.8M324.3 107.3v3.6M325.5 107.3v4.8M326.7 107.3v4.8M327.9 107.3v3.6M329.1 107.3v4.8M330.3 107.3v3.6" stroke="#000" stroke-width="1.0" fill="none"/>
<path d="M309.9 107.3v3.0M304.4 107.3v3.0" stroke="#111" stroke-width="0.85" fill="none"/>
<text x="321.9" y="124.1" font-size="7.90" text-anchor="middle" fill="#111" stroke="#111" stroke-width="0.22">0</text>
<text x="346.4" y="124.1" font-size="7.90" text-anchor="middle" fill="#111" stroke="#111" stroke-width="0.22">10<tspan dy="-3.00" font-size="5.53">4</tspan></text>
<text x="364.8" y="124.1" font-size="7.90" text-anchor="middle" fill="#111" stroke="#111" stroke-width="0.22">10<tspan dy="-3.00" font-size="5.53">5</tspan></text>
<text x="382.2" y="124.1" font-size="7.90" text-anchor="middle" fill="#111" stroke="#111" stroke-width="0.22">10<tspan dy="-3.00" font-size="5.53">6</tspan></text>
<text x="351.5" y="139.0" font-size="8.20" text-anchor="middle" fill="#111" stroke="#111" stroke-width="0.22">ICOS-BB15</text>
<text x="347.0" y="7.2" font-size="9.20" text-anchor="middle" fill="#111" stroke="#111" stroke-width="0.22">ICOS</text>
<rect x="408.20" y="14.30" width="93.40" height="92.40" fill="none" stroke="#222" stroke-width="0.90"/>
<rect x="439.20" y="74.20" width="52.20" height="31.50" fill="none" stroke="#e2487f" stroke-width="0.90"/>
<text x="478.3" y="70.2" font-size="9.00" text-anchor="middle" fill="#111" stroke="#111" stroke-width="0.22">2.9%</text>
<path d="M408.2 105.7h-4.6M408.2 100.3h-2M408.2 94.8h-2M408.2 89.4h-2M408.2 84.0h-4.6M408.2 78.5h-2M408.2 73.1h-2M408.2 67.7h-2M408.2 62.2h-4.6M408.2 56.8h-2M408.2 51.4h-2M408.2 46.0h-2M408.2 40.5h-4.6M408.2 35.1h-2M408.2 29.7h-2M408.2 24.2h-2M408.2 18.8h-4.6" stroke="#222" stroke-width="0.75" fill="none"/>
<path d="M429.6 106.7v4.8M455.6 106.7v4.8M473.6 106.7v4.8M490.3 106.7v4.8M443.0 106.7v3.0M446.2 106.7v3.0M448.4 106.7v3.0M450.2 106.7v3.0M451.6 106.7v3.0M452.8 106.7v3.0M453.9 106.7v3.0M454.8 106.7v3.0M461.0 106.7v3.0M464.2 106.7v3.0M466.4 106.7v3.0M468.2 106.7v3.0M469.6 106.7v3.0M470.8 106.7v3.0M471.9 106.7v3.0M472.8 106.7v3.0M478.6 106.7v3.0M481.6 106.7v3.0M483.7 106.7v3.0M485.3 106.7v3.0M486.6 106.7v3.0M487.7 106.7v3.0M488.7 106.7v3.0M489.5 106.7v3.0M495.7 106.7v3.0M498.9 106.7v3.0" stroke="#111" stroke-width="0.85" fill="none"/>
<path d="M421.2 106.7v3.6M422.4 106.7v4.8M423.6 106.7v3.6M424.8 106.7v4.8M426.0 106.7v4.8M427.2 106.7v3.6M428.4 106.7v4.8M429.6 106.7v4.8M430.8 106.7v4.8M432.0 106.7v3.6M433.2 106.7v4.8M434.4 106.7v4.8M435.6 106.7v3.6M436.8 106.7v4.8M438.0 106.7v3.6" stroke="#000" stroke-width="1.0" fill="none"/>
<path d="M417.6 106.7v3.0M412.1 106.7v3.0" stroke="#111" stroke-width="0.85" fill="none"/>
<text x="429.6" y="123.5" font-size="7.90" text-anchor="middle" fill="#111" stroke="#111" stroke-width="0.22">0</text>
<text x="455.6" y="123.5" font-size="7.90" text-anchor="middle" fill="#111" stroke="#111" stroke-width="0.22">10<tspan dy="-3.00" font-size="5.53">4</tspan></text>
<text x="473.6" y="123.5" font-size="7.90" text-anchor="middle" fill="#111" stroke="#111" stroke-width="0.22">10<tspan dy="-3.00" font-size="5.53">5</tspan></text>
<text x="490.3" y="123.5" font-size="7.90" text-anchor="middle" fill="#111" stroke="#111" stroke-width="0.22">10<tspan dy="-3.00" font-size="5.53">6</tspan></text>
<text x="458.0" y="139.0" font-size="8.20" text-anchor="middle" fill="#111" stroke="#111" stroke-width="0.22">KLRG1-BV750</text>
<text x="455.6" y="7.2" font-size="9.20" text-anchor="middle" fill="#111" stroke="#111" stroke-width="0.22">KLRG1</text>
<rect x="514.30" y="13.90" width="93.60" height="92.40" fill="none" stroke="#222" stroke-width="0.90"/>
<rect x="544.60" y="75.60" width="55.10" height="29.00" fill="none" stroke="#e2487f" stroke-width="0.90"/>
<text x="588.3" y="70.6" font-size="9.00" text-anchor="middle" fill="#111" stroke="#111" stroke-width="0.22">4.8%</text>
<path d="M514.3 105.3h-4.6M514.3 99.9h-2M514.3 94.4h-2M514.3 89.0h-2M514.3 83.6h-4.6M514.3 78.1h-2M514.3 72.7h-2M514.3 67.3h-2M514.3 61.8h-4.6M514.3 56.4h-2M514.3 51.0h-2M514.3 45.6h-2M514.3 40.1h-4.6M514.3 34.7h-2M514.3 29.3h-2M514.3 23.8h-2M514.3 18.4h-4.6" stroke="#222" stroke-width="0.75" fill="none"/>
<path d="M535.2 106.3v4.8M560.3 106.3v4.8M579.3 106.3v4.8M595.6 106.3v4.8M547.0 106.3v3.0M550.4 106.3v3.0M552.7 106.3v3.0M554.6 106.3v3.0M556.1 106.3v3.0M557.4 106.3v3.0M558.5 106.3v3.0M559.4 106.3v3.0M566.0 106.3v3.0M569.4 106.3v3.0M571.7 106.3v3.0M573.6 106.3v3.0M575.1 106.3v3.0M576.4 106.3v3.0M577.5 106.3v3.0M578.4 106.3v3.0M584.2 106.3v3.0M587.1 106.3v3.0M589.1 106.3v3.0M590.7 106.3v3.0M592.0 106.3v3.0M593.1 106.3v3.0M594.0 106.3v3.0M594.9 106.3v3.0M601.3 106.3v3.0M604.7 106.3v3.0M607.0 106.3v3.0" stroke="#111" stroke-width="0.85" fill="none"/>
<path d="M526.8 106.3v3.6M528.0 106.3v4.8M529.2 106.3v3.6M530.4 106.3v4.8M531.6 106.3v4.8M532.8 106.3v3.6M534.0 106.3v4.8M535.2 106.3v4.8M536.4 106.3v4.8M537.6 106.3v3.6M538.8 106.3v4.8M540.0 106.3v4.8M541.2 106.3v3.6M542.4 106.3v4.8M543.6 106.3v3.6" stroke="#000" stroke-width="1.0" fill="none"/>
<path d="M523.2 106.3v3.0M517.7 106.3v3.0" stroke="#111" stroke-width="0.85" fill="none"/>
<text x="535.2" y="123.1" font-size="7.90" text-anchor="middle" fill="#111" stroke="#111" stroke-width="0.22">0</text>
<text x="560.3" y="123.1" font-size="7.90" text-anchor="middle" fill="#111" stroke="#111" stroke-width="0.22">10<tspan dy="-3.00" font-size="5.53">4</tspan></text>
<text x="579.3" y="123.1" font-size="7.90" text-anchor="middle" fill="#111" stroke="#111" stroke-width="0.22">10<tspan dy="-3.00" font-size="5.53">5</tspan></text>
<text x="595.6" y="123.1" font-size="7.90" text-anchor="middle" fill="#111" stroke="#111" stroke-width="0.22">10<tspan dy="-3.00" font-size="5.53">6</tspan></text>
<text x="567.0" y="139.0" font-size="8.20" text-anchor="middle" fill="#111" stroke="#111" stroke-width="0.22">CXCR3-BUV737</text>
<text x="563.0" y="7.2" font-size="9.20" text-anchor="middle" fill="#111" stroke="#111" stroke-width="0.22">CXCR3</text>
<text x="185.2" y="23.5" font-size="8.50" text-anchor="end" fill="#111" stroke="#111" stroke-width="0.22">4.0M</text>
<text x="185.2" y="46.0" font-size="8.50" text-anchor="end" fill="#111" stroke="#111" stroke-width="0.22">3.0M</text>
<text x="185.2" y="68.1" font-size="8.50" text-anchor="end" fill="#111" stroke="#111" stroke-width="0.22">2.0M</text>
<text x="185.2" y="89.7" font-size="8.50" text-anchor="end" fill="#111" stroke="#111" stroke-width="0.22">1.0M</text>
<text x="185.2" y="111.1" font-size="8.50" text-anchor="end" fill="#111" stroke="#111" stroke-width="0.22">0</text>
<text x="158.2" y="92.5" font-size="8.40" text-anchor="middle" fill="#111" stroke="#111" stroke-width="0.22" transform="rotate(-90 158.20 89.50)">FSC-A</text>
<line x1="158.40" y1="66.00" x2="158.40" y2="25.80" stroke="#111" stroke-width="0.90"/>
<polygon points="158.40,20.00 160.90,25.80 155.90,25.80" fill="#111"/>
<path d="M44.60,524.40 L44.6,524.4 L45.3,524.4 L46.0,524.4 L46.7,524.4 L47.4,524.4 L48.1,524.4 L48.8,524.4 L49.5,524.4 L50.2,524.4 L50.9,524.3 L51.6,524.3 L52.3,524.2 L53.0,524.1 L53.7,524.0 L54.4,523.7 L55.1,523.4 L55.8,522.9 L56.5,522.3 L57.2,521.5 L57.9,520.5 L58.6,519.2 L59.3,517.8 L60.0,516.1 L60.7,514.3 L61.4,512.5 L62.1,510.6 L62.8,509.0 L63.5,507.5 L64.2,506.4 L64.9,505.8 L65.6,505.6 L66.3,505.8 L67.0,506.4 L67.7,507.3 L68.4,508.5 L69.1,509.9 L69.8,511.4 L70.5,513.0 L71.2,514.6 L71.9,516.1 L72.6,517.5 L73.3,518.8 L74.0,520.0 L74.7,520.9 L75.4,521.8 L76.1,522.4 L76.8,522.9 L77.5,523.3 L78.2,523.7 L78.9,523.9 L79.6,524.0 L80.3,524.2 L81.0,524.2 L81.7,524.3 L82.4,524.3 L83.1,524.4 L83.8,524.4 L84.5,524.4 L85.2,524.4 L85.9,524.4 L86.6,524.4 L87.3,524.4 L88.0,524.4 L88.7,524.4 L89.4,524.4 L90.1,524.4 L90.8,524.4 L91.5,524.4 L92.2,524.4 L92.9,524.4 L93.6,524.4 L94.3,524.4 L95.0,524.4 L95.7,524.4 L96.4,524.4 L97.1,524.4 L97.8,524.4 L98.5,524.4 L99.2,524.4 L99.9,524.4 L100.6,524.4 L101.3,524.4 L102.0,524.4 L102.7,524.4 L103.4,524.4 L104.1,524.4 L104.8,524.4 L105.5,524.4 L106.2,524.4 L106.9,524.4 L107.6,524.4 L108.3,524.4 L109.0,524.4 L109.7,524.4 L110.4,524.4 L111.1,524.4 L111.8,524.4 L112.5,524.4 L113.2,524.4 L113.9,524.4 L114.6,524.4 L115.3,524.4 L116.0,524.4 L116.7,524.4 L117.4,524.4 L118.1,524.4 L118.8,524.4 L119.5,524.4 L120.2,524.4 L120.9,524.4 L121.6,524.4 L122.3,524.4 L123.0,524.4 L123.7,524.4 L124.4,524.4 L125.1,524.4 L125.8,524.4 L126.5,524.4 L127.2,524.4 L127.9,524.4 L128.6,524.4 L129.3,524.4 L130.0,524.4 L130.7,524.4 L131.4,524.4 L132.1,524.4 L132.8,524.4 L133.5,524.4 L134.2,524.4 L134.9,524.4 L135.6,524.4 L136.3,524.4 L137.0,524.4 L137.7,524.4 L138.4,524.4 L139.1,524.4 L139.8,524.4 L140.5,524.4 L141.2,524.4 L141.9,524.4 L142.6,524.4 L143.3,524.4 L144.0,524.4 L144.7,524.4 L145.4,524.4 L146.1,524.4 L146.8,524.4 L147.5,524.4 L148.2,524.4 L148.9,524.4 L149.6,524.4 L150.3,524.4 L150.3,524.4 L150.30,524.40 Z" fill="#c9e4e2" stroke="none"/>
<path d="M44.6,524.4 L45.3,524.4 L46.0,524.4 L46.7,524.4 L47.4,524.4 L48.1,524.4 L48.8,524.4 L49.5,524.4 L50.2,524.4 L50.9,524.3 L51.6,524.3 L52.3,524.2 L53.0,524.1 L53.7,524.0 L54.4,523.7 L55.1,523.4 L55.8,522.9 L56.5,522.3 L57.2,521.5 L57.9,520.5 L58.6,519.2 L59.3,517.8 L60.0,516.1 L60.7,514.3 L61.4,512.5 L62.1,510.6 L62.8,509.0 L63.5,507.5 L64.2,506.4 L64.9,505.8 L65.6,505.6 L66.3,505.8 L67.0,506.4 L67.7,507.3 L68.4,508.5 L69.1,509.9 L69.8,511.4 L70.5,513.0 L71.2,514.6 L71.9,516.1 L72.6,517.5 L73.3,518.8 L74.0,520.0 L74.7,520.9 L75.4,521.8 L76.1,522.4 L76.8,522.9 L77.5,523.3 L78.2,523.7 L78.9,523.9 L79.6,524.0 L80.3,524.2 L81.0,524.2 L81.7,524.3 L82.4,524.3 L83.1,524.4 L83.8,524.4 L84.5,524.4 L85.2,524.4 L85.9,524.4 L86.6,524.4 L87.3,524.4 L88.0,524.4 L88.7,524.4 L89.4,524.4 L90.1,524.4 L90.8,524.4 L91.5,524.4 L92.2,524.4 L92.9,524.4 L93.6,524.4 L94.3,524.4 L95.0,524.4 L95.7,524.4 L96.4,524.4 L97.1,524.4 L97.8,524.4 L98.5,524.4 L99.2,524.4 L99.9,524.4 L100.6,524.4 L101.3,524.4 L102.0,524.4 L102.7,524.4 L103.4,524.4 L104.1,524.4 L104.8,524.4 L105.5,524.4 L106.2,524.4 L106.9,524.4 L107.6,524.4 L108.3,524.4 L109.0,524.4 L109.7,524.4 L110.4,524.4 L111.1,524.4 L111.8,524.4 L112.5,524.4 L113.2,524.4 L113.9,524.4 L114.6,524.4 L115.3,524.4 L116.0,524.4 L116.7,524.4 L117.4,524.4 L118.1,524.4 L118.8,524.4 L119.5,524.4 L120.2,524.4 L120.9,524.4 L121.6,524.4 L122.3,524.4 L123.0,524.4 L123.7,524.4 L124.4,524.4 L125.1,524.4 L125.8,524.4 L126.5,524.4 L127.2,524.4 L127.9,524.4 L128.6,524.4 L129.3,524.4 L130.0,524.4 L130.7,524.4 L131.4,524.4 L132.1,524.4 L132.8,524.4 L133.5,524.4 L134.2,524.4 L134.9,524.4 L135.6,524.4 L136.3,524.4 L137.0,524.4 L137.7,524.4 L138.4,524.4 L139.1,524.4 L139.8,524.4 L140.5,524.4 L141.2,524.4 L141.9,524.4 L142.6,524.4 L143.3,524.4 L144.0,524.4 L144.7,524.4 L145.4,524.4 L146.1,524.4 L146.8,524.4 L147.5,524.4 L148.2,524.4 L148.9,524.4 L149.6,524.4 L150.3,524.4 L150.3,524.4" fill="none" stroke="#2e9a96" stroke-width="0.9"/>
<path d="M44.60,545.30 L44.6,545.3 L45.3,545.3 L46.0,545.3 L46.7,545.3 L47.4,545.3 L48.1,545.3 L48.8,545.2 L49.5,545.1 L50.2,545.1 L50.9,545.0 L51.6,544.8 L52.3,544.7 L53.0,544.3 L53.7,544.0 L54.4,543.5 L55.1,543.0 L55.8,541.9 L56.5,540.5 L57.2,539.5 L57.9,538.7 L58.6,538.1 L59.3,536.1 L60.0,535.0 L60.7,532.9 L61.4,531.3 L62.1,528.8 L62.8,527.4 L63.5,526.8 L64.2,526.5 L64.9,526.9 L65.6,526.7 L66.3,527.5 L67.0,528.4 L67.7,528.6 L68.4,529.9 L69.1,530.0 L69.8,530.9 L70.5,531.0 L71.2,532.4 L71.9,533.8 L72.6,534.5 L73.3,534.5 L74.0,534.7 L74.7,536.2 L75.4,537.1 L76.1,538.3 L76.8,538.2 L77.5,539.2 L78.2,539.5 L78.9,539.8 L79.6,539.8 L80.3,540.1 L81.0,540.6 L81.7,540.3 L82.4,540.5 L83.1,540.5 L83.8,540.8 L84.5,540.5 L85.2,539.8 L85.9,539.6 L86.6,539.7 L87.3,540.0 L88.0,540.1 L88.7,540.0 L89.4,540.4 L90.1,540.6 L90.8,541.2 L91.5,541.8 L92.2,542.3 L92.9,542.7 L93.6,542.7 L94.3,542.8 L95.0,542.8 L95.7,543.3 L96.4,543.8 L97.1,544.3 L97.8,544.7 L98.5,544.8 L99.2,545.0 L99.9,545.0 L100.6,545.1 L101.3,545.1 L102.0,545.2 L102.7,545.2 L103.4,545.3 L104.1,545.3 L104.8,545.3 L105.5,545.3 L106.2,545.3 L106.9,545.3 L107.6,545.3 L108.3,545.3 L109.0,545.3 L109.7,545.3 L110.4,545.3 L111.1,545.3 L111.8,545.3 L112.5,545.3 L113.2,545.3 L113.9,545.3 L114.6,545.3 L115.3,545.3 L116.0,545.3 L116.7,545.3 L117.4,545.3 L118.1,545.3 L118.8,545.3 L119.5,545.3 L120.2,545.3 L120.9,545.3 L121.6,545.3 L122.3,545.3 L123.0,545.3 L123.7,545.3 L124.4,545.3 L125.1,545.3 L125.8,545.3 L126.5,545.3 L127.2,545.3 L127.9,545.3 L128.6,545.3 L129.3,545.3 L130.0,545.3 L130.7,545.3 L131.4,545.3 L132.1,545.3 L132.8,545.3 L133.5,545.3 L134.2,545.3 L134.9,545.3 L135.6,545.3 L136.3,545.3 L137.0,545.3 L137.7,545.3 L138.4,545.3 L139.1,545.3 L139.8,545.3 L140.5,545.3 L141.2,545.3 L141.9,545.3 L142.6,545.3 L143.3,545.3 L144.0,545.3 L144.7,545.3 L145.4,545.3 L146.1,545.3 L146.8,545.3 L147.5,545.3 L148.2,545.3 L148.9,545.3 L149.6,545.3 L150.3,545.3 L150.3,545.3 L150.30,545.30 Z" fill="#efefef" stroke="none"/>
<path d="M44.6,545.3 L45.3,545.3 L46.0,545.3 L46.7,545.3 L47.4,545.3 L48.1,545.3 L48.8,545.2 L49.5,545.1 L50.2,545.1 L50.9,545.0 L51.6,544.8 L52.3,544.7 L53.0,544.3 L53.7,544.0 L54.4,543.5 L55.1,543.0 L55.8,541.9 L56.5,540.5 L57.2,539.5 L57.9,538.7 L58.6,538.1 L59.3,536.1 L60.0,535.0 L60.7,532.9 L61.4,531.3 L62.1,528.8 L62.8,527.4 L63.5,526.8 L64.2,526.5 L64.9,526.9 L65.6,526.7 L66.3,527.5 L67.0,528.4 L67.7,528.6 L68.4,529.9 L69.1,530.0 L69.8,530.9 L70.5,531.0 L71.2,532.4 L71.9,533.8 L72.6,534.5 L73.3,534.5 L74.0,534.7 L74.7,536.2 L75.4,537.1 L76.1,538.3 L76.8,538.2 L77.5,539.2 L78.2,539.5 L78.9,539.8 L79.6,539.8 L80.3,540.1 L81.0,540.6 L81.7,540.3 L82.4,540.5 L83.1,540.5 L83.8,540.8 L84.5,540.5 L85.2,539.8 L85.9,539.6 L86.6,539.7 L87.3,540.0 L88.0,540.1 L88.7,540.0 L89.4,540.4 L90.1,540.6 L90.8,541.2 L91.5,541.8 L92.2,542.3 L92.9,542.7 L93.6,542.7 L94.3,542.8 L95.0,542.8 L95.7,543.3 L96.4,543.8 L97.1,544.3 L97.8,544.7 L98.5,544.8 L99.2,545.0 L99.9,545.0 L100.6,545.1 L101.3,545.1 L102.0,545.2 L102.7,545.2 L103.4,545.3 L104.1,545.3 L104.8,545.3 L105.5,545.3 L106.2,545.3 L106.9,545.3 L107.6,545.3 L108.3,545.3 L109.0,545.3 L109.7,545.3 L110.4,545.3 L111.1,545.3 L111.8,545.3 L112.5,545.3 L113.2,545.3 L113.9,545.3 L114.6,545.3 L115.3,545.3 L116.0,545.3 L116.7,545.3 L117.4,545.3 L118.1,545.3 L118.8,545.3 L119.5,545.3 L120.2,545.3 L120.9,545.3 L121.6,545.3 L122.3,545.3 L123.0,545.3 L123.7,545.3 L124.4,545.3 L125.1,545.3 L125.8,545.3 L126.5,545.3 L127.2,545.3 L127.9,545.3 L128.6,545.3 L129.3,545.3 L130.0,545.3 L130.7,545.3 L131.4,545.3 L132.1,545.3 L132.8,545.3 L133.5,545.3 L134.2,545.3 L134.9,545.3 L135.6,545.3 L136.3,545.3 L137.0,545.3 L137.7,545.3 L138.4,545.3 L139.1,545.3 L139.8,545.3 L140.5,545.3 L141.2,545.3 L141.9,545.3 L142.6,545.3 L143.3,545.3 L144.0,545.3 L144.7,545.3 L145.4,545.3 L146.1,545.3 L146.8,545.3 L147.5,545.3 L148.2,545.3 L148.9,545.3 L149.6,545.3 L150.3,545.3 L150.3,545.3" fill="none" stroke="#c8c8c8" stroke-width="0.9"/>
<path d="M44.60,566.40 L44.6,566.4 L45.3,566.4 L46.0,566.4 L46.7,566.4 L47.4,566.4 L48.1,566.4 L48.8,566.4 L49.5,566.4 L50.2,566.3 L50.9,566.3 L51.6,566.2 L52.3,566.1 L53.0,565.8 L53.7,565.4 L54.4,565.2 L55.1,564.9 L55.8,564.2 L56.5,563.7 L57.2,562.7 L57.9,562.3 L58.6,561.0 L59.3,560.0 L60.0,558.4 L60.7,556.3 L61.4,554.7 L62.1,553.2 L62.8,552.1 L63.5,551.0 L64.2,550.3 L64.9,549.6 L65.6,548.6 L66.3,547.6 L67.0,548.6 L67.7,548.7 L68.4,549.9 L69.1,549.7 L69.8,550.8 L70.5,550.6 L71.2,552.4 L71.9,554.1 L72.6,555.4 L73.3,555.6 L74.0,556.3 L74.7,558.3 L75.4,559.0 L76.1,559.6 L76.8,560.1 L77.5,560.1 L78.2,561.1 L78.9,561.0 L79.6,561.9 L80.3,561.6 L81.0,561.5 L81.7,561.8 L82.4,562.1 L83.1,562.5 L83.8,562.9 L84.5,563.1 L85.2,562.7 L85.9,562.6 L86.6,562.5 L87.3,562.7 L88.0,562.5 L88.7,562.7 L89.4,563.1 L90.1,563.6 L90.8,564.0 L91.5,564.2 L92.2,564.4 L92.9,564.3 L93.6,564.7 L94.3,565.0 L95.0,565.3 L95.7,565.5 L96.4,565.7 L97.1,565.9 L97.8,566.0 L98.5,566.0 L99.2,566.0 L99.9,566.1 L100.6,566.2 L101.3,566.3 L102.0,566.3 L102.7,566.3 L103.4,566.3 L104.1,566.4 L104.8,566.4 L105.5,566.4 L106.2,566.4 L106.9,566.4 L107.6,566.4 L108.3,566.4 L109.0,566.4 L109.7,566.4 L110.4,566.4 L111.1,566.4 L111.8,566.4 L112.5,566.4 L113.2,566.4 L113.9,566.4 L114.6,566.4 L115.3,566.4 L116.0,566.4 L116.7,566.4 L117.4,566.4 L118.1,566.4 L118.8,566.4 L119.5,566.4 L120.2,566.4 L120.9,566.4 L121.6,566.4 L122.3,566.4 L123.0,566.4 L123.7,566.4 L124.4,566.4 L125.1,566.4 L125.8,566.4 L126.5,566.4 L127.2,566.4 L127.9,566.4 L128.6,566.4 L129.3,566.4 L130.0,566.4 L130.7,566.4 L131.4,566.4 L132.1,566.4 L132.8,566.4 L133.5,566.4 L134.2,566.4 L134.9,566.4 L135.6,566.4 L136.3,566.4 L137.0,566.4 L137.7,566.4 L138.4,566.4 L139.1,566.4 L139.8,566.4 L140.5,566.4 L141.2,566.4 L141.9,566.4 L142.6,566.4 L143.3,566.4 L144.0,566.4 L144.7,566.4 L145.4,566.4 L146.1,566.4 L146.8,566.4 L147.5,566.4 L148.2,566.4 L148.9,566.4 L149.6,566.4 L150.3,566.4 L150.3,566.4 L150.30,566.40 Z" fill="#ffc6c6" stroke="none"/>
<path d="M44.6,566.4 L45.3,566.4 L46.0,566.4 L46.7,566.4 L47.4,566.4 L48.1,566.4 L48.8,566.4 L49.5,566.4 L50.2,566.3 L50.9,566.3 L51.6,566.2 L52.3,566.1 L53.0,565.8 L53.7,565.4 L54.4,565.2 L55.1,564.9 L55.8,564.2 L56.5,563.7 L57.2,562.7 L57.9,562.3 L58.6,561.0 L59.3,560.0 L60.0,558.4 L60.7,556.3 L61.4,554.7 L62.1,553.2 L62.8,552.1 L63.5,551.0 L64.2,550.3 L64.9,549.6 L65.6,548.6 L66.3,547.6 L67.0,548.6 L67.7,548.7 L68.4,549.9 L69.1,549.7 L69.8,550.8 L70.5,550.6 L71.2,552.4 L71.9,554.1 L72.6,555.4 L73.3,555.6 L74.0,556.3 L74.7,558.3 L75.4,559.0 L76.1,559.6 L76.8,560.1 L77.5,560.1 L78.2,561.1 L78.9,561.0 L79.6,561.9 L80.3,561.6 L81.0,561.5 L81.7,561.8 L82.4,562.1 L83.1,562.5 L83.8,562.9 L84.5,563.1 L85.2,562.7 L85.9,562.6 L86.6,562.5 L87.3,562.7 L88.0,562.5 L88.7,562.7 L89.4,563.1 L90.1,563.6 L90.8,564.0 L91.5,564.2 L92.2,564.4 L92.9,564.3 L93.6,564.7 L94.3,565.0 L95.0,565.3 L95.7,565.5 L96.4,565.7 L97.1,565.9 L97.8,566.0 L98.5,566.0 L99.2,566.0 L99.9,566.1 L100.6,566.2 L101.3,566.3 L102.0,566.3 L102.7,566.3 L103.4,566.3 L104.1,566.4 L104.8,566.4 L105.5,566.4 L106.2,566.4 L106.9,566.4 L107.6,566.4 L108.3,566.4 L109.0,566.4 L109.7,566.4 L110.4,566.4 L111.1,566.4 L111.8,566.4 L112.5,566.4 L113.2,566.4 L113.9,566.4 L114.6,566.4 L115.3,566.4 L116.0,566.4 L116.7,566.4 L117.4,566.4 L118.1,566.4 L118.8,566.4 L119.5,566.4 L120.2,566.4 L120.9,566.4 L121.6,566.4 L122.3,566.4 L123.0,566.4 L123.7,566.4 L124.4,566.4 L125.1,566.4 L125.8,566.4 L126.5,566.4 L127.2,566.4 L127.9,566.4 L128.6,566.4 L129.3,566.4 L130.0,566.4 L130.7,566.4 L131.4,566.4 L132.1,566.4 L132.8,566.4 L133.5,566.4 L134.2,566.4 L134.9,566.4 L135.6,566.4 L136.3,566.4 L137.0,566.4 L137.7,566.4 L138.4,566.4 L139.1,566.4 L139.8,566.4 L140.5,566.4 L141.2,566.4 L141.9,566.4 L142.6,566.4 L143.3,566.4 L144.0,566.4 L144.7,566.4 L145.4,566.4 L146.1,566.4 L146.8,566.4 L147.5,566.4 L148.2,566.4 L148.9,566.4 L149.6,566.4 L150.3,566.4 L150.3,566.4" fill="none" stroke="#ff2a2a" stroke-width="0.9"/>
<path d="M44.6,587.3 L45.3,587.3 L46.0,587.3 L46.7,587.3 L47.4,587.3 L48.1,587.3 L48.8,587.3 L49.5,587.3 L50.2,587.3 L50.9,587.2 L51.6,587.2 L52.3,587.2 L53.0,587.1 L53.7,587.0 L54.4,586.8 L55.1,586.6 L55.8,586.4 L56.5,586.0 L57.2,585.5 L57.9,584.9 L58.6,584.2 L59.3,583.3 L60.0,582.2 L60.7,581.0 L61.4,579.6 L62.1,578.1 L62.8,576.6 L63.5,575.0 L64.2,573.5 L64.9,572.0 L65.6,570.8 L66.3,569.8 L67.0,569.0 L67.7,568.6 L68.4,568.5 L69.1,568.6 L69.8,569.0 L70.5,569.5 L71.2,570.2 L71.9,571.0 L72.6,571.9 L73.3,572.8 L74.0,573.8 L74.7,574.8 L75.4,575.8 L76.1,576.7 L76.8,577.6 L77.5,578.4 L78.2,579.2 L78.9,579.8 L79.6,580.4 L80.3,580.9 L81.0,581.4 L81.7,581.8 L82.4,582.1 L83.1,582.4 L83.8,582.7 L84.5,582.9 L85.2,583.0 L85.9,583.2 L86.6,583.3 L87.3,583.5 L88.0,583.6 L88.7,583.7 L89.4,583.9 L90.1,584.0 L90.8,584.2 L91.5,584.4 L92.2,584.7 L92.9,584.9 L93.6,585.1 L94.3,585.4 L95.0,585.6 L95.7,585.8 L96.4,586.1 L97.1,586.3 L97.8,586.4 L98.5,586.6 L99.2,586.7 L99.9,586.8 L100.6,586.9 L101.3,587.0 L102.0,587.1 L102.7,587.1 L103.4,587.2 L104.1,587.2 L104.8,587.2 L105.5,587.3 L106.2,587.3 L106.9,587.3 L107.6,587.3 L108.3,587.3 L109.0,587.3 L109.7,587.3 L110.4,587.3 L111.1,587.3 L111.8,587.3 L112.5,587.3 L113.2,587.3 L113.9,587.3 L114.6,587.3 L115.3,587.3 L116.0,587.3 L116.7,587.3 L117.4,587.3 L118.1,587.3 L118.8,587.3 L119.5,587.3 L120.2,587.3 L120.9,587.3 L121.6,587.3 L122.3,587.3 L123.0,587.3 L123.7,587.3 L124.4,587.3 L125.1,587.3 L125.8,587.3 L126.5,587.3 L127.2,587.3 L127.9,587.3 L128.6,587.3 L129.3,587.3 L130.0,587.3 L130.7,587.3 L131.4,587.3 L132.1,587.3 L132.8,587.3 L133.5,587.3 L134.2,587.3 L134.9,587.3 L135.6,587.3 L136.3,587.3 L137.0,587.3 L137.7,587.3 L138.4,587.3 L139.1,587.3 L139.8,587.3 L140.5,587.3 L141.2,587.3 L141.9,587.3 L142.6,587.3 L143.3,587.3 L144.0,587.3 L144.7,587.3 L145.4,587.3 L146.1,587.3 L146.8,587.3 L147.5,587.3 L148.2,587.3 L148.9,587.3 L149.6,587.3 L150.3,587.3 L150.3,587.3" fill="none" stroke="#2a2a2a" stroke-width="0.9"/>
<path d="M44.60,608.30 L44.6,608.3 L45.3,608.3 L46.0,608.3 L46.7,608.3 L47.4,608.3 L48.1,608.3 L48.8,608.3 L49.5,608.3 L50.2,608.3 L50.9,608.2 L51.6,608.2 L52.3,608.1 L53.0,608.0 L53.7,607.9 L54.4,607.6 L55.1,607.3 L55.8,607.0 L56.5,606.4 L57.2,605.8 L57.9,605.0 L58.6,604.0 L59.3,602.8 L60.0,601.5 L60.7,600.0 L61.4,598.4 L62.1,596.8 L62.8,595.2 L63.5,593.6 L64.2,592.2 L64.9,591.1 L65.6,590.2 L66.3,589.7 L67.0,589.5 L67.7,589.6 L68.4,590.0 L69.1,590.7 L69.8,591.5 L70.5,592.5 L71.2,593.6 L71.9,594.8 L72.6,596.0 L73.3,597.1 L74.0,598.2 L74.7,599.2 L75.4,600.1 L76.1,600.9 L76.8,601.6 L77.5,602.2 L78.2,602.7 L78.9,603.1 L79.6,603.4 L80.3,603.7 L81.0,603.8 L81.7,604.0 L82.4,604.0 L83.1,604.0 L83.8,604.0 L84.5,604.0 L85.2,603.9 L85.9,603.8 L86.6,603.8 L87.3,603.8 L88.0,603.8 L88.7,603.9 L89.4,604.1 L90.1,604.3 L90.8,604.5 L91.5,604.8 L92.2,605.1 L92.9,605.5 L93.6,605.9 L94.3,606.2 L95.0,606.5 L95.7,606.8 L96.4,607.1 L97.1,607.4 L97.8,607.6 L98.5,607.7 L99.2,607.9 L99.9,608.0 L100.6,608.1 L101.3,608.1 L102.0,608.2 L102.7,608.2 L103.4,608.3 L104.1,608.3 L104.8,608.3 L105.5,608.3 L106.2,608.3 L106.9,608.3 L107.6,608.3 L108.3,608.3 L109.0,608.3 L109.7,608.3 L110.4,608.3 L111.1,608.3 L111.8,608.3 L112.5,608.3 L113.2,608.3 L113.9,608.3 L114.6,608.3 L115.3,608.3 L116.0,608.3 L116.7,608.3 L117.4,608.3 L118.1,608.3 L118.8,608.3 L119.5,608.3 L120.2,608.3 L120.9,608.3 L121.6,608.3 L122.3,608.3 L123.0,608.3 L123.7,608.3 L124.4,608.3 L125.1,608.3 L125.8,608.3 L126.5,608.3 L127.2,608.3 L127.9,608.3 L128.6,608.3 L129.3,608.3 L130.0,608.3 L130.7,608.3 L131.4,608.3 L132.1,608.3 L132.8,608.3 L133.5,608.3 L134.2,608.3 L134.9,608.3 L135.6,608.3 L136.3,608.3 L137.0,608.3 L137.7,608.3 L138.4,608.3 L139.1,608.3 L139.8,608.3 L140.5,608.3 L141.2,608.3 L141.9,608.3 L142.6,608.3 L143.3,608.3 L144.0,608.3 L144.7,608.3 L145.4,608.3 L146.1,608.3 L146.8,608.3 L147.5,608.3 L148.2,608.3 L148.9,608.3 L149.6,608.3 L150.3,608.3 L150.3,608.3 L150.30,608.30 Z" fill="#d3d8ee" stroke="none"/>
<path d="M44.6,608.3 L45.3,608.3 L46.0,608.3 L46.7,608.3 L47.4,608.3 L48.1,608.3 L48.8,608.3 L49.5,608.3 L50.2,608.3 L50.9,608.2 L51.6,608.2 L52.3,608.1 L53.0,608.0 L53.7,607.9 L54.4,607.6 L55.1,607.3 L55.8,607.0 L56.5,606.4 L57.2,605.8 L57.9,605.0 L58.6,604.0 L59.3,602.8 L60.0,601.5 L60.7,600.0 L61.4,598.4 L62.1,596.8 L62.8,595.2 L63.5,593.6 L64.2,592.2 L64.9,591.1 L65.6,590.2 L66.3,589.7 L67.0,589.5 L67.7,589.6 L68.4,590.0 L69.1,590.7 L69.8,591.5 L70.5,592.5 L71.2,593.6 L71.9,594.8 L72.6,596.0 L73.3,597.1 L74.0,598.2 L74.7,599.2 L75.4,600.1 L76.1,600.9 L76.8,601.6 L77.5,602.2 L78.2,602.7 L78.9,603.1 L79.6,603.4 L80.3,603.7 L81.0,603.8 L81.7,604.0 L82.4,604.0 L83.1,604.0 L83.8,604.0 L84.5,604.0 L85.2,603.9 L85.9,603.8 L86.6,603.8 L87.3,603.8 L88.0,603.8 L88.7,603.9 L89.4,604.1 L90.1,604.3 L90.8,604.5 L91.5,604.8 L92.2,605.1 L92.9,605.5 L93.6,605.9 L94.3,606.2 L95.0,606.5 L95.7,606.8 L96.4,607.1 L97.1,607.4 L97.8,607.6 L98.5,607.7 L99.2,607.9 L99.9,608.0 L100.6,608.1 L101.3,608.1 L102.0,608.2 L102.7,608.2 L103.4,608.3 L104.1,608.3 L104.8,608.3 L105.5,608.3 L106.2,608.3 L106.9,608.3 L107.6,608.3 L108.3,608.3 L109.0,608.3 L109.7,608.3 L110.4,608.3 L111.1,608.3 L111.8,608.3 L112.5,608.3 L113.2,608.3 L113.9,608.3 L114.6,608.3 L115.3,608.3 L116.0,608.3 L116.7,608.3 L117.4,608.3 L118.1,608.3 L118.8,608.3 L119.5,608.3 L120.2,608.3 L120.9,608.3 L121.6,608.3 L122.3,608.3 L123.0,608.3 L123.7,608.3 L124.4,608.3 L125.1,608.3 L125.8,608.3 L126.5,608.3 L127.2,608.3 L127.9,608.3 L128.6,608.3 L129.3,608.3 L130.0,608.3 L130.7,608.3 L131.4,608.3 L132.1,608.3 L132.8,608.3 L133.5,608.3 L134.2,608.3 L134.9,608.3 L135.6,608.3 L136.3,608.3 L137.0,608.3 L137.7,608.3 L138.4,608.3 L139.1,608.3 L139.8,608.3 L140.5,608.3 L141.2,608.3 L141.9,608.3 L142.6,608.3 L143.3,608.3 L144.0,608.3 L144.7,608.3 L145.4,608.3 L146.1,608.3 L146.8,608.3 L147.5,608.3 L148.2,608.3 L148.9,608.3 L149.6,608.3 L150.3,608.3 L150.3,608.3" fill="none" stroke="#4a5fc4" stroke-width="0.9"/>
<rect x="44.60" y="502.50" width="105.70" height="105.80" fill="none" stroke="#222" stroke-width="0.90"/>
<path d="M66.8 608.3v4.8M97.4 608.3v4.8M117.9 608.3v4.8M137.3 608.3v4.8M83.1 608.3v3.0M86.7 608.3v3.0M89.2 608.3v3.0M91.2 608.3v3.0M92.9 608.3v3.0M94.2 608.3v3.0M95.4 608.3v3.0M96.5 608.3v3.0M103.6 608.3v3.0M107.2 608.3v3.0M109.7 608.3v3.0M111.7 608.3v3.0M113.4 608.3v3.0M114.7 608.3v3.0M115.9 608.3v3.0M117.0 608.3v3.0M123.7 608.3v3.0M127.2 608.3v3.0M129.6 608.3v3.0M131.5 608.3v3.0M133.0 608.3v3.0M134.3 608.3v3.0M135.4 608.3v3.0M136.4 608.3v3.0M143.5 608.3v3.0M147.1 608.3v3.0M149.6 608.3v3.0" stroke="#111" stroke-width="0.85" fill="none"/>
<path d="M58.4 608.3v3.6M59.6 608.3v4.8M60.8 608.3v3.6M62.0 608.3v4.8M63.2 608.3v4.8M64.4 608.3v3.6M65.6 608.3v4.8M66.8 608.3v4.8M68.0 608.3v4.8M69.2 608.3v3.6M70.4 608.3v4.8M71.6 608.3v4.8M72.8 608.3v3.6M74.0 608.3v4.8M75.2 608.3v3.6" stroke="#000" stroke-width="1.0" fill="none"/>
<path d="M54.8 608.3v3.0M49.3 608.3v3.0" stroke="#111" stroke-width="0.85" fill="none"/>
<text x="66.8" y="622.1" font-size="8.00" text-anchor="middle" fill="#111" stroke="#111" stroke-width="0.22">0</text>
<text x="97.4" y="622.1" font-size="8.00" text-anchor="middle" fill="#111" stroke="#111" stroke-width="0.22">10<tspan dy="-3.04" font-size="5.60">4</tspan></text>
<text x="117.9" y="622.1" font-size="8.00" text-anchor="middle" fill="#111" stroke="#111" stroke-width="0.22">10<tspan dy="-3.04" font-size="5.60">5</tspan></text>
<text x="137.3" y="622.1" font-size="8.00" text-anchor="middle" fill="#111" stroke="#111" stroke-width="0.22">10<tspan dy="-3.04" font-size="5.60">6</tspan></text>
<path d="M156.20,524.40 L156.2,524.4 L156.9,524.4 L157.6,524.4 L158.3,524.4 L159.0,524.4 L159.7,524.4 L160.4,524.4 L161.1,524.4 L161.8,524.4 L162.5,524.4 L163.2,524.4 L163.9,524.4 L164.6,524.4 L165.3,524.4 L166.0,524.4 L166.7,524.4 L167.4,524.4 L168.1,524.4 L168.8,524.4 L169.5,524.4 L170.2,524.4 L170.9,524.4 L171.6,524.4 L172.3,524.3 L173.0,524.3 L173.7,524.3 L174.4,524.2 L175.1,524.1 L175.8,524.1 L176.5,524.0 L177.2,523.9 L177.9,523.5 L178.6,523.4 L179.3,523.0 L180.0,522.6 L180.7,522.0 L181.4,521.6 L182.1,521.1 L182.8,520.7 L183.5,519.8 L184.2,519.1 L184.9,517.8 L185.6,516.9 L186.3,515.9 L187.0,515.2 L187.7,514.1 L188.4,512.0 L189.1,510.2 L189.8,509.0 L190.5,509.0 L191.2,507.6 L191.9,506.9 L192.6,506.0 L193.3,506.5 L194.0,505.7 L194.7,505.6 L195.4,505.8 L196.1,506.6 L196.8,507.5 L197.5,508.4 L198.2,509.2 L198.9,510.7 L199.6,510.8 L200.3,511.0 L201.0,511.4 L201.7,512.9 L202.4,515.0 L203.1,515.6 L203.8,516.5 L204.5,516.8 L205.2,518.1 L205.9,519.1 L206.6,520.2 L207.3,520.6 L208.0,520.7 L208.7,521.2 L209.4,521.7 L210.1,522.5 L210.8,522.7 L211.5,522.8 L212.2,522.9 L212.9,523.1 L213.6,523.6 L214.3,523.8 L215.0,524.0 L215.7,524.0 L216.4,524.0 L217.1,524.1 L217.8,524.3 L218.5,524.3 L219.2,524.4 L219.9,524.3 L220.6,524.4 L221.3,524.3 L222.0,524.4 L222.7,524.4 L223.4,524.4 L224.1,524.4 L224.8,524.4 L225.5,524.4 L226.2,524.4 L226.9,524.4 L227.6,524.4 L228.3,524.4 L229.0,524.4 L229.7,524.4 L230.4,524.4 L231.1,524.4 L231.8,524.4 L232.5,524.4 L233.2,524.4 L233.9,524.4 L234.6,524.4 L235.3,524.4 L236.0,524.4 L236.7,524.4 L237.4,524.4 L238.1,524.4 L238.8,524.4 L239.5,524.4 L240.2,524.4 L240.9,524.4 L241.6,524.4 L242.3,524.4 L243.0,524.4 L243.7,524.4 L244.4,524.4 L245.1,524.4 L245.8,524.4 L246.5,524.4 L247.2,524.4 L247.9,524.4 L248.6,524.4 L249.3,524.4 L250.0,524.4 L250.7,524.4 L251.4,524.4 L252.1,524.4 L252.8,524.4 L253.5,524.4 L254.2,524.4 L254.9,524.4 L255.6,524.4 L256.3,524.4 L257.0,524.4 L257.7,524.4 L258.4,524.4 L259.1,524.4 L259.8,524.4 L260.5,524.4 L261.2,524.4 L261.9,524.4 L262.3,524.4 L262.30,524.40 Z" fill="#c9e4e2" stroke="none"/>
<path d="M156.2,524.4 L156.9,524.4 L157.6,524.4 L158.3,524.4 L159.0,524.4 L159.7,524.4 L160.4,524.4 L161.1,524.4 L161.8,524.4 L162.5,524.4 L163.2,524.4 L163.9,524.4 L164.6,524.4 L165.3,524.4 L166.0,524.4 L166.7,524.4 L167.4,524.4 L168.1,524.4 L168.8,524.4 L169.5,524.4 L170.2,524.4 L170.9,524.4 L171.6,524.4 L172.3,524.3 L173.0,524.3 L173.7,524.3 L174.4,524.2 L175.1,524.1 L175.8,524.1 L176.5,524.0 L177.2,523.9 L177.9,523.5 L178.6,523.4 L179.3,523.0 L180.0,522.6 L180.7,522.0 L181.4,521.6 L182.1,521.1 L182.8,520.7 L183.5,519.8 L184.2,519.1 L184.9,517.8 L185.6,516.9 L186.3,515.9 L187.0,515.2 L187.7,514.1 L188.4,512.0 L189.1,510.2 L189.8,509.0 L190.5,509.0 L191.2,507.6 L191.9,506.9 L192.6,506.0 L193.3,506.5 L194.0,505.7 L194.7,505.6 L195.4,505.8 L196.1,506.6 L196.8,507.5 L197.5,508.4 L198.2,509.2 L198.9,510.7 L199.6,510.8 L200.3,511.0 L201.0,511.4 L201.7,512.9 L202.4,515.0 L203.1,515.6 L203.8,516.5 L204.5,516.8 L205.2,518.1 L205.9,519.1 L206.6,520.2 L207.3,520.6 L208.0,520.7 L208.7,521.2 L209.4,521.7 L210.1,522.5 L210.8,522.7 L211.5,522.8 L212.2,522.9 L212.9,523.1 L213.6,523.6 L214.3,523.8 L215.0,524.0 L215.7,524.0 L216.4,524.0 L217.1,524.1 L217.8,524.3 L218.5,524.3 L219.2,524.4 L219.9,524.3 L220.6,524.4 L221.3,524.3 L222.0,524.4 L222.7,524.4 L223.4,524.4 L224.1,524.4 L224.8,524.4 L225.5,524.4 L226.2,524.4 L226.9,524.4 L227.6,524.4 L228.3,524.4 L229.0,524.4 L229.7,524.4 L230.4,524.4 L231.1,524.4 L231.8,524.4 L232.5,524.4 L233.2,524.4 L233.9,524.4 L234.6,524.4 L235.3,524.4 L236.0,524.4 L236.7,524.4 L237.4,524.4 L238.1,524.4 L238.8,524.4 L239.5,524.4 L240.2,524.4 L240.9,524.4 L241.6,524.4 L242.3,524.4 L243.0,524.4 L243.7,524.4 L244.4,524.4 L245.1,524.4 L245.8,524.4 L246.5,524.4 L247.2,524.4 L247.9,524.4 L248.6,524.4 L249.3,524.4 L250.0,524.4 L250.7,524.4 L251.4,524.4 L252.1,524.4 L252.8,524.4 L253.5,524.4 L254.2,524.4 L254.9,524.4 L255.6,524.4 L256.3,524.4 L257.0,524.4 L257.7,524.4 L258.4,524.4 L259.1,524.4 L259.8,524.4 L260.5,524.4 L261.2,524.4 L261.9,524.4 L262.3,524.4" fill="none" stroke="#2e9a96" stroke-width="0.9"/>
<path d="M156.20,545.30 L156.2,545.3 L156.9,545.3 L157.6,545.3 L158.3,545.3 L159.0,545.3 L159.7,545.3 L160.4,545.3 L161.1,545.3 L161.8,545.3 L162.5,545.3 L163.2,545.3 L163.9,545.3 L164.6,545.3 L165.3,545.3 L166.0,545.3 L166.7,545.3 L167.4,545.3 L168.1,545.3 L168.8,545.3 L169.5,545.3 L170.2,545.3 L170.9,545.3 L171.6,545.3 L172.3,545.3 L173.0,545.3 L173.7,545.3 L174.4,545.3 L175.1,545.3 L175.8,545.3 L176.5,545.3 L177.2,545.3 L177.9,545.2 L178.6,545.2 L179.3,545.2 L180.0,545.2 L180.7,545.1 L181.4,545.0 L182.1,544.9 L182.8,544.8 L183.5,544.9 L184.2,544.7 L184.9,544.4 L185.6,544.0 L186.3,543.8 L187.0,543.3 L187.7,542.7 L188.4,542.0 L189.1,541.5 L189.8,541.3 L190.5,540.6 L191.2,539.5 L191.9,538.1 L192.6,537.3 L193.3,536.7 L194.0,536.1 L194.7,535.0 L195.4,533.7 L196.1,532.3 L196.8,530.2 L197.5,529.1 L198.2,527.9 L198.9,528.6 L199.6,527.6 L200.3,527.5 L201.0,526.5 L201.7,526.8 L202.4,527.0 L203.1,526.7 L203.8,527.1 L204.5,528.5 L205.2,530.4 L205.9,530.6 L206.6,530.6 L207.3,530.1 L208.0,531.5 L208.7,532.4 L209.4,533.8 L210.1,534.5 L210.8,535.2 L211.5,536.3 L212.2,537.4 L212.9,538.4 L213.6,539.5 L214.3,540.9 L215.0,542.3 L215.7,542.9 L216.4,543.4 L217.1,543.8 L217.8,544.2 L218.5,544.6 L219.2,544.8 L219.9,544.9 L220.6,545.0 L221.3,545.1 L222.0,545.1 L222.7,545.2 L223.4,545.3 L224.1,545.3 L224.8,545.3 L225.5,545.3 L226.2,545.3 L226.9,545.3 L227.6,545.3 L228.3,545.3 L229.0,545.3 L229.7,545.3 L230.4,545.3 L231.1,545.3 L231.8,545.3 L232.5,545.3 L233.2,545.3 L233.9,545.3 L234.6,545.3 L235.3,545.3 L236.0,545.3 L236.7,545.3 L237.4,545.3 L238.1,545.3 L238.8,545.3 L239.5,545.3 L240.2,545.3 L240.9,545.3 L241.6,545.3 L242.3,545.3 L243.0,545.3 L243.7,545.3 L244.4,545.3 L245.1,545.3 L245.8,545.3 L246.5,545.3 L247.2,545.3 L247.9,545.3 L248.6,545.3 L249.3,545.3 L250.0,545.3 L250.7,545.3 L251.4,545.3 L252.1,545.3 L252.8,545.3 L253.5,545.3 L254.2,545.3 L254.9,545.3 L255.6,545.3 L256.3,545.3 L257.0,545.3 L257.7,545.3 L258.4,545.3 L259.1,545.3 L259.8,545.3 L260.5,545.3 L261.2,545.3 L261.9,545.3 L262.3,545.3 L262.30,545.30 Z" fill="#efefef" stroke="none"/>
<path d="M156.2,545.3 L156.9,545.3 L157.6,545.3 L158.3,545.3 L159.0,545.3 L159.7,545.3 L160.4,545.3 L161.1,545.3 L161.8,545.3 L162.5,545.3 L163.2,545.3 L163.9,545.3 L164.6,545.3 L165.3,545.3 L166.0,545.3 L166.7,545.3 L167.4,545.3 L168.1,545.3 L168.8,545.3 L169.5,545.3 L170.2,545.3 L170.9,545.3 L171.6,545.3 L172.3,545.3 L173.0,545.3 L173.7,545.3 L174.4,545.3 L175.1,545.3 L175.8,545.3 L176.5,545.3 L177.2,545.3 L177.9,545.2 L178.6,545.2 L179.3,545.2 L180.0,545.2 L180.7,545.1 L181.4,545.0 L182.1,544.9 L182.8,544.8 L183.5,544.9 L184.2,544.7 L184.9,544.4 L185.6,544.0 L186.3,543.8 L187.0,543.3 L187.7,542.7 L188.4,542.0 L189.1,541.5 L189.8,541.3 L190.5,540.6 L191.2,539.5 L191.9,538.1 L192.6,537.3 L193.3,536.7 L194.0,536.1 L194.7,535.0 L195.4,533.7 L196.1,532.3 L196.8,530.2 L197.5,529.1 L198.2,527.9 L198.9,528.6 L199.6,527.6 L200.3,527.5 L201.0,526.5 L201.7,526.8 L202.4,527.0 L203.1,526.7 L203.8,527.1 L204.5,528.5 L205.2,530.4 L205.9,530.6 L206.6,530.6 L207.3,530.1 L208.0,531.5 L208.7,532.4 L209.4,533.8 L210.1,534.5 L210.8,535.2 L211.5,536.3 L212.2,537.4 L212.9,538.4 L213.6,539.5 L214.3,540.9 L215.0,542.3 L215.7,542.9 L216.4,543.4 L217.1,543.8 L217.8,544.2 L218.5,544.6 L219.2,544.8 L219.9,544.9 L220.6,545.0 L221.3,545.1 L222.0,545.1 L222.7,545.2 L223.4,545.3 L224.1,545.3 L224.8,545.3 L225.5,545.3 L226.2,545.3 L226.9,545.3 L227.6,545.3 L228.3,545.3 L229.0,545.3 L229.7,545.3 L230.4,545.3 L231.1,545.3 L231.8,545.3 L232.5,545.3 L233.2,545.3 L233.9,545.3 L234.6,545.3 L235.3,545.3 L236.0,545.3 L236.7,545.3 L237.4,545.3 L238.1,545.3 L238.8,545.3 L239.5,545.3 L240.2,545.3 L240.9,545.3 L241.6,545.3 L242.3,545.3 L243.0,545.3 L243.7,545.3 L244.4,545.3 L245.1,545.3 L245.8,545.3 L246.5,545.3 L247.2,545.3 L247.9,545.3 L248.6,545.3 L249.3,545.3 L250.0,545.3 L250.7,545.3 L251.4,545.3 L252.1,545.3 L252.8,545.3 L253.5,545.3 L254.2,545.3 L254.9,545.3 L255.6,545.3 L256.3,545.3 L257.0,545.3 L257.7,545.3 L258.4,545.3 L259.1,545.3 L259.8,545.3 L260.5,545.3 L261.2,545.3 L261.9,545.3 L262.3,545.3" fill="none" stroke="#c8c8c8" stroke-width="0.9"/>
<path d="M156.20,566.40 L156.2,566.4 L156.9,566.4 L157.6,566.4 L158.3,566.4 L159.0,566.4 L159.7,566.4 L160.4,566.4 L161.1,566.4 L161.8,566.4 L162.5,566.4 L163.2,566.4 L163.9,566.4 L164.6,566.4 L165.3,566.4 L166.0,566.4 L166.7,566.4 L167.4,566.4 L168.1,566.4 L168.8,566.4 L169.5,566.4 L170.2,566.4 L170.9,566.4 L171.6,566.4 L172.3,566.4 L173.0,566.4 L173.7,566.4 L174.4,566.4 L175.1,566.4 L175.8,566.4 L176.5,566.4 L177.2,566.4 L177.9,566.4 L178.6,566.3 L179.3,566.3 L180.0,566.2 L180.7,566.2 L181.4,566.0 L182.1,566.0 L182.8,565.8 L183.5,565.7 L184.2,565.5 L184.9,565.4 L185.6,565.0 L186.3,564.5 L187.0,564.0 L187.7,563.6 L188.4,562.8 L189.1,561.9 L189.8,561.1 L190.5,560.5 L191.2,560.1 L191.9,559.2 L192.6,558.4 L193.3,556.6 L194.0,555.7 L194.7,554.3 L195.4,553.8 L196.1,552.3 L196.8,551.8 L197.5,550.6 L198.2,550.0 L198.9,549.3 L199.6,548.9 L200.3,548.5 L201.0,547.6 L201.7,548.5 L202.4,549.5 L203.1,550.3 L203.8,549.7 L204.5,550.1 L205.2,550.9 L205.9,551.9 L206.6,551.4 L207.3,552.2 L208.0,553.2 L208.7,555.2 L209.4,556.3 L210.1,556.3 L210.8,556.8 L211.5,556.9 L212.2,558.2 L212.9,559.1 L213.6,560.5 L214.3,561.5 L215.0,562.3 L215.7,563.4 L216.4,564.3 L217.1,565.1 L217.8,565.4 L218.5,565.7 L219.2,565.9 L219.9,566.2 L220.6,566.2 L221.3,566.1 L222.0,566.2 L222.7,566.3 L223.4,566.4 L224.1,566.4 L224.8,566.4 L225.5,566.4 L226.2,566.4 L226.9,566.4 L227.6,566.4 L228.3,566.4 L229.0,566.4 L229.7,566.4 L230.4,566.4 L231.1,566.4 L231.8,566.4 L232.5,566.4 L233.2,566.4 L233.9,566.4 L234.6,566.4 L235.3,566.4 L236.0,566.4 L236.7,566.4 L237.4,566.4 L238.1,566.4 L238.8,566.4 L239.5,566.4 L240.2,566.4 L240.9,566.4 L241.6,566.4 L242.3,566.4 L243.0,566.4 L243.7,566.4 L244.4,566.4 L245.1,566.4 L245.8,566.4 L246.5,566.4 L247.2,566.4 L247.9,566.4 L248.6,566.4 L249.3,566.4 L250.0,566.4 L250.7,566.4 L251.4,566.4 L252.1,566.4 L252.8,566.4 L253.5,566.4 L254.2,566.4 L254.9,566.4 L255.6,566.4 L256.3,566.4 L257.0,566.4 L257.7,566.4 L258.4,566.4 L259.1,566.4 L259.8,566.4 L260.5,566.4 L261.2,566.4 L261.9,566.4 L262.3,566.4 L262.30,566.40 Z" fill="#ffc6c6" stroke="none"/>
<path d="M156.2,566.4 L156.9,566.4 L157.6,566.4 L158.3,566.4 L159.0,566.4 L159.7,566.4 L160.4,566.4 L161.1,566.4 L161.8,566.4 L162.5,566.4 L163.2,566.4 L163.9,566.4 L164.6,566.4 L165.3,566.4 L166.0,566.4 L166.7,566.4 L167.4,566.4 L168.1,566.4 L168.8,566.4 L169.5,566.4 L170.2,566.4 L170.9,566.4 L171.6,566.4 L172.3,566.4 L173.0,566.4 L173.7,566.4 L174.4,566.4 L175.1,566.4 L175.8,566.4 L176.5,566.4 L177.2,566.4 L177.9,566.4 L178.6,566.3 L179.3,566.3 L180.0,566.2 L180.7,566.2 L181.4,566.0 L182.1,566.0 L182.8,565.8 L183.5,565.7 L184.2,565.5 L184.9,565.4 L185.6,565.0 L186.3,564.5 L187.0,564.0 L187.7,563.6 L188.4,562.8 L189.1,561.9 L189.8,561.1 L190.5,560.5 L191.2,560.1 L191.9,559.2 L192.6,558.4 L193.3,556.6 L194.0,555.7 L194.7,554.3 L195.4,553.8 L196.1,552.3 L196.8,551.8 L197.5,550.6 L198.2,550.0 L198.9,549.3 L199.6,548.9 L200.3,548.5 L201.0,547.6 L201.7,548.5 L202.4,549.5 L203.1,550.3 L203.8,549.7 L204.5,550.1 L205.2,550.9 L205.9,551.9 L206.6,551.4 L207.3,552.2 L208.0,553.2 L208.7,555.2 L209.4,556.3 L210.1,556.3 L210.8,556.8 L211.5,556.9 L212.2,558.2 L212.9,559.1 L213.6,560.5 L214.3,561.5 L215.0,562.3 L215.7,563.4 L216.4,564.3 L217.1,565.1 L217.8,565.4 L218.5,565.7 L219.2,565.9 L219.9,566.2 L220.6,566.2 L221.3,566.1 L222.0,566.2 L222.7,566.3 L223.4,566.4 L224.1,566.4 L224.8,566.4 L225.5,566.4 L226.2,566.4 L226.9,566.4 L227.6,566.4 L228.3,566.4 L229.0,566.4 L229.7,566.4 L230.4,566.4 L231.1,566.4 L231.8,566.4 L232.5,566.4 L233.2,566.4 L233.9,566.4 L234.6,566.4 L235.3,566.4 L236.0,566.4 L236.7,566.4 L237.4,566.4 L238.1,566.4 L238.8,566.4 L239.5,566.4 L240.2,566.4 L240.9,566.4 L241.6,566.4 L242.3,566.4 L243.0,566.4 L243.7,566.4 L244.4,566.4 L245.1,566.4 L245.8,566.4 L246.5,566.4 L247.2,566.4 L247.9,566.4 L248.6,566.4 L249.3,566.4 L250.0,566.4 L250.7,566.4 L251.4,566.4 L252.1,566.4 L252.8,566.4 L253.5,566.4 L254.2,566.4 L254.9,566.4 L255.6,566.4 L256.3,566.4 L257.0,566.4 L257.7,566.4 L258.4,566.4 L259.1,566.4 L259.8,566.4 L260.5,566.4 L261.2,566.4 L261.9,566.4 L262.3,566.4" fill="none" stroke="#ff2a2a" stroke-width="0.9"/>
<path d="M156.2,587.3 L156.9,587.3 L157.6,587.3 L158.3,587.3 L159.0,587.3 L159.7,587.3 L160.4,587.3 L161.1,587.3 L161.8,587.3 L162.5,587.3 L163.2,587.3 L163.9,587.3 L164.6,587.3 L165.3,587.3 L166.0,587.3 L166.7,587.3 L167.4,587.3 L168.1,587.3 L168.8,587.3 L169.5,587.3 L170.2,587.3 L170.9,587.3 L171.6,587.3 L172.3,587.3 L173.0,587.3 L173.7,587.3 L174.4,587.3 L175.1,587.3 L175.8,587.3 L176.5,587.3 L177.2,587.3 L177.9,587.3 L178.6,587.3 L179.3,587.2 L180.0,587.3 L180.7,587.3 L181.4,587.2 L182.1,587.0 L182.8,587.1 L183.5,587.0 L184.2,587.0 L184.9,586.6 L185.6,586.3 L186.3,586.0 L187.0,585.8 L187.7,585.2 L188.4,584.4 L189.1,583.4 L189.8,582.8 L190.5,582.0 L191.2,581.0 L191.9,580.1 L192.6,579.5 L193.3,578.8 L194.0,577.4 L194.7,575.6 L195.4,574.5 L196.1,573.5 L196.8,572.9 L197.5,572.2 L198.2,571.5 L198.9,570.7 L199.6,569.3 L200.3,569.5 L201.0,569.3 L201.7,569.9 L202.4,568.7 L203.1,569.0 L203.8,568.5 L204.5,569.4 L205.2,570.3 L205.9,571.9 L206.6,573.2 L207.3,573.4 L208.0,573.6 L208.7,573.6 L209.4,574.5 L210.1,576.1 L210.8,577.5 L211.5,578.7 L212.2,579.4 L212.9,580.2 L213.6,580.9 L214.3,582.0 L215.0,583.5 L215.7,584.8 L216.4,585.8 L217.1,586.1 L217.8,586.5 L218.5,586.6 L219.2,586.8 L219.9,586.8 L220.6,586.9 L221.3,587.1 L222.0,587.2 L222.7,587.2 L223.4,587.2 L224.1,587.3 L224.8,587.3 L225.5,587.3 L226.2,587.3 L226.9,587.3 L227.6,587.3 L228.3,587.3 L229.0,587.3 L229.7,587.3 L230.4,587.3 L231.1,587.3 L231.8,587.3 L232.5,587.3 L233.2,587.3 L233.9,587.3 L234.6,587.3 L235.3,587.3 L236.0,587.3 L236.7,587.3 L237.4,587.3 L238.1,587.3 L238.8,587.3 L239.5,587.3 L240.2,587.3 L240.9,587.3 L241.6,587.3 L242.3,587.3 L243.0,587.3 L243.7,587.3 L244.4,587.3 L245.1,587.3 L245.8,587.3 L246.5,587.3 L247.2,587.3 L247.9,587.3 L248.6,587.3 L249.3,587.3 L250.0,587.3 L250.7,587.3 L251.4,587.3 L252.1,587.3 L252.8,587.3 L253.5,587.3 L254.2,587.3 L254.9,587.3 L255.6,587.3 L256.3,587.3 L257.0,587.3 L257.7,587.3 L258.4,587.3 L259.1,587.3 L259.8,587.3 L260.5,587.3 L261.2,587.3 L261.9,587.3 L262.3,587.3" fill="none" stroke="#2a2a2a" stroke-width="0.9"/>
<path d="M156.20,608.30 L156.2,608.3 L156.9,608.3 L157.6,608.3 L158.3,608.3 L159.0,608.3 L159.7,608.3 L160.4,608.3 L161.1,608.3 L161.8,608.3 L162.5,608.3 L163.2,608.3 L163.9,608.3 L164.6,608.3 L165.3,608.3 L166.0,608.3 L166.7,608.3 L167.4,608.3 L168.1,608.3 L168.8,608.3 L169.5,608.3 L170.2,608.3 L170.9,608.3 L171.6,608.3 L172.3,608.3 L173.0,608.3 L173.7,608.3 L174.4,608.3 L175.1,608.3 L175.8,608.3 L176.5,608.3 L177.2,608.3 L177.9,608.2 L178.6,608.1 L179.3,608.1 L180.0,608.0 L180.7,607.9 L181.4,607.6 L182.1,607.4 L182.8,607.1 L183.5,607.1 L184.2,606.7 L184.9,606.3 L185.6,605.6 L186.3,604.6 L187.0,603.6 L187.7,602.1 L188.4,601.1 L189.1,599.7 L189.8,599.7 L190.5,598.4 L191.2,597.0 L191.9,595.6 L192.6,594.0 L193.3,593.7 L194.0,592.9 L194.7,592.6 L195.4,591.7 L196.1,590.3 L196.8,590.2 L197.5,589.5 L198.2,590.5 L198.9,590.1 L199.6,589.9 L200.3,589.6 L201.0,589.9 L201.7,590.5 L202.4,591.6 L203.1,593.0 L203.8,594.3 L204.5,594.7 L205.2,595.3 L205.9,596.6 L206.6,597.3 L207.3,598.6 L208.0,599.4 L208.7,600.7 L209.4,601.0 L210.1,601.9 L210.8,602.9 L211.5,603.3 L212.2,604.1 L212.9,604.4 L213.6,605.3 L214.3,605.8 L215.0,606.3 L215.7,606.7 L216.4,606.9 L217.1,607.4 L217.8,607.6 L218.5,607.8 L219.2,607.8 L219.9,607.9 L220.6,607.9 L221.3,607.8 L222.0,607.8 L222.7,608.0 L223.4,608.1 L224.1,608.2 L224.8,608.2 L225.5,608.2 L226.2,608.3 L226.9,608.3 L227.6,608.3 L228.3,608.3 L229.0,608.3 L229.7,608.3 L230.4,608.3 L231.1,608.3 L231.8,608.3 L232.5,608.3 L233.2,608.3 L233.9,608.3 L234.6,608.3 L235.3,608.3 L236.0,608.3 L236.7,608.3 L237.4,608.3 L238.1,608.3 L238.8,608.3 L239.5,608.3 L240.2,608.3 L240.9,608.3 L241.6,608.3 L242.3,608.3 L243.0,608.3 L243.7,608.3 L244.4,608.3 L245.1,608.3 L245.8,608.3 L246.5,608.3 L247.2,608.3 L247.9,608.3 L248.6,608.3 L249.3,608.3 L250.0,608.3 L250.7,608.3 L251.4,608.3 L252.1,608.3 L252.8,608.3 L253.5,608.3 L254.2,608.3 L254.9,608.3 L255.6,608.3 L256.3,608.3 L257.0,608.3 L257.7,608.3 L258.4,608.3 L259.1,608.3 L259.8,608.3 L260.5,608.3 L261.2,608.3 L261.9,608.3 L262.3,608.3 L262.30,608.30 Z" fill="#d3d8ee" stroke="none"/>
<path d="M156.2,608.3 L156.9,608.3 L157.6,608.3 L158.3,608.3 L159.0,608.3 L159.7,608.3 L160.4,608.3 L161.1,608.3 L161.8,608.3 L162.5,608.3 L163.2,608.3 L163.9,608.3 L164.6,608.3 L165.3,608.3 L166.0,608.3 L166.7,608.3 L167.4,608.3 L168.1,608.3 L168.8,608.3 L169.5,608.3 L170.2,608.3 L170.9,608.3 L171.6,608.3 L172.3,608.3 L173.0,608.3 L173.7,608.3 L174.4,608.3 L175.1,608.3 L175.8,608.3 L176.5,608.3 L177.2,608.3 L177.9,608.2 L178.6,608.1 L179.3,608.1 L180.0,608.0 L180.7,607.9 L181.4,607.6 L182.1,607.4 L182.8,607.1 L183.5,607.1 L184.2,606.7 L184.9,606.3 L185.6,605.6 L186.3,604.6 L187.0,603.6 L187.7,602.1 L188.4,601.1 L189.1,599.7 L189.8,599.7 L190.5,598.4 L191.2,597.0 L191.9,595.6 L192.6,594.0 L193.3,593.7 L194.0,592.9 L194.7,592.6 L195.4,591.7 L196.1,590.3 L196.8,590.2 L197.5,589.5 L198.2,590.5 L198.9,590.1 L199.6,589.9 L200.3,589.6 L201.0,589.9 L201.7,590.5 L202.4,591.6 L203.1,593.0 L203.8,594.3 L204.5,594.7 L205.2,595.3 L205.9,596.6 L206.6,597.3 L207.3,598.6 L208.0,599.4 L208.7,600.7 L209.4,601.0 L210.1,601.9 L210.8,602.9 L211.5,603.3 L212.2,604.1 L212.9,604.4 L213.6,605.3 L214.3,605.8 L215.0,606.3 L215.7,606.7 L216.4,606.9 L217.1,607.4 L217.8,607.6 L218.5,607.8 L219.2,607.8 L219.9,607.9 L220.6,607.9 L221.3,607.8 L222.0,607.8 L222.7,608.0 L223.4,608.1 L224.1,608.2 L224.8,608.2 L225.5,608.2 L226.2,608.3 L226.9,608.3 L227.6,608.3 L228.3,608.3 L229.0,608.3 L229.7,608.3 L230.4,608.3 L231.1,608.3 L231.8,608.3 L232.5,608.3 L233.2,608.3 L233.9,608.3 L234.6,608.3 L235.3,608.3 L236.0,608.3 L236.7,608.3 L237.4,608.3 L238.1,608.3 L238.8,608.3 L239.5,608.3 L240.2,608.3 L240.9,608.3 L241.6,608.3 L242.3,608.3 L243.0,608.3 L243.7,608.3 L244.4,608.3 L245.1,608.3 L245.8,608.3 L246.5,608.3 L247.2,608.3 L247.9,608.3 L248.6,608.3 L249.3,608.3 L250.0,608.3 L250.7,608.3 L251.4,608.3 L252.1,608.3 L252.8,608.3 L253.5,608.3 L254.2,608.3 L254.9,608.3 L255.6,608.3 L256.3,608.3 L257.0,608.3 L257.7,608.3 L258.4,608.3 L259.1,608.3 L259.8,608.3 L260.5,608.3 L261.2,608.3 L261.9,608.3 L262.3,608.3" fill="none" stroke="#4a5fc4" stroke-width="0.9"/>
<rect x="156.20" y="502.50" width="106.10" height="105.80" fill="none" stroke="#222" stroke-width="0.90"/>
<path d="M178.8 608.3v4.8M209.5 608.3v4.8M228.9 608.3v4.8M249.3 608.3v4.8M195.9 608.3v3.0M199.4 608.3v3.0M201.8 608.3v3.0M203.7 608.3v3.0M205.2 608.3v3.0M206.5 608.3v3.0M207.6 608.3v3.0M208.6 608.3v3.0M215.3 608.3v3.0M218.8 608.3v3.0M221.2 608.3v3.0M223.1 608.3v3.0M224.6 608.3v3.0M225.9 608.3v3.0M227.0 608.3v3.0M228.0 608.3v3.0M235.0 608.3v3.0M238.6 608.3v3.0M241.2 608.3v3.0M243.2 608.3v3.0M244.8 608.3v3.0M246.1 608.3v3.0M247.3 608.3v3.0M248.4 608.3v3.0M255.1 608.3v3.0M258.6 608.3v3.0M261.0 608.3v3.0" stroke="#111" stroke-width="0.85" fill="none"/>
<path d="M170.4 608.3v3.6M171.6 608.3v4.8M172.8 608.3v3.6M174.0 608.3v4.8M175.2 608.3v4.8M176.4 608.3v3.6M177.6 608.3v4.8M178.8 608.3v4.8M180.0 608.3v4.8M181.2 608.3v3.6M182.4 608.3v4.8M183.6 608.3v4.8M184.8 608.3v3.6M186.0 608.3v4.8M187.2 608.3v3.6" stroke="#000" stroke-width="1.0" fill="none"/>
<path d="M166.8 608.3v3.0M161.3 608.3v3.0" stroke="#111" stroke-width="0.85" fill="none"/>
<text x="178.8" y="622.1" font-size="8.00" text-anchor="middle" fill="#111" stroke="#111" stroke-width="0.22">0</text>
<text x="209.5" y="622.1" font-size="8.00" text-anchor="middle" fill="#111" stroke="#111" stroke-width="0.22">10<tspan dy="-3.04" font-size="5.60">4</tspan></text>
<text x="228.9" y="622.1" font-size="8.00" text-anchor="middle" fill="#111" stroke="#111" stroke-width="0.22">10<tspan dy="-3.04" font-size="5.60">5</tspan></text>
<text x="249.3" y="622.1" font-size="8.00" text-anchor="middle" fill="#111" stroke="#111" stroke-width="0.22">10<tspan dy="-3.04" font-size="5.60">6</tspan></text>
<path d="M268.10,524.40 L268.1,524.4 L268.8,524.4 L269.5,524.4 L270.2,524.4 L270.9,524.4 L271.6,524.4 L272.3,524.4 L273.0,524.4 L273.7,524.4 L274.4,524.4 L275.1,524.4 L275.8,524.4 L276.5,524.4 L277.2,524.4 L277.9,524.4 L278.6,524.4 L279.3,524.4 L280.0,524.3 L280.7,524.3 L281.4,524.2 L282.1,524.0 L282.8,523.7 L283.5,523.2 L284.2,522.4 L284.9,521.4 L285.6,519.9 L286.3,518.2 L287.0,516.0 L287.7,513.7 L288.4,511.3 L289.1,509.0 L289.8,507.2 L290.5,506.0 L291.2,505.6 L291.9,506.0 L292.6,507.0 L293.3,508.5 L294.0,510.5 L294.7,512.7 L295.4,514.9 L296.1,517.0 L296.8,518.8 L297.5,520.3 L298.2,521.6 L298.9,522.5 L299.6,523.2 L300.3,523.6 L301.0,523.9 L301.7,524.1 L302.4,524.3 L303.1,524.3 L303.8,524.4 L304.5,524.4 L305.2,524.4 L305.9,524.4 L306.6,524.4 L307.3,524.4 L308.0,524.4 L308.7,524.4 L309.4,524.4 L310.1,524.4 L310.8,524.4 L311.5,524.4 L312.2,524.4 L312.9,524.4 L313.6,524.4 L314.3,524.4 L315.0,524.4 L315.7,524.4 L316.4,524.4 L317.1,524.4 L317.8,524.4 L318.5,524.4 L319.2,524.4 L319.9,524.4 L320.6,524.4 L321.3,524.4 L322.0,524.4 L322.7,524.4 L323.4,524.4 L324.1,524.4 L324.8,524.4 L325.5,524.4 L326.2,524.4 L326.9,524.4 L327.6,524.4 L328.3,524.4 L329.0,524.4 L329.7,524.4 L330.4,524.4 L331.1,524.4 L331.8,524.4 L332.5,524.4 L333.2,524.4 L333.9,524.4 L334.6,524.4 L335.3,524.4 L336.0,524.4 L336.7,524.4 L337.4,524.4 L338.1,524.4 L338.8,524.4 L339.5,524.4 L340.2,524.4 L340.9,524.4 L341.6,524.4 L342.3,524.4 L343.0,524.4 L343.7,524.4 L344.4,524.4 L345.1,524.4 L345.8,524.4 L346.5,524.4 L347.2,524.4 L347.9,524.4 L348.6,524.4 L349.3,524.4 L350.0,524.4 L350.7,524.4 L351.4,524.4 L352.1,524.4 L352.8,524.4 L353.5,524.4 L354.2,524.4 L354.9,524.4 L355.6,524.4 L356.3,524.4 L357.0,524.4 L357.7,524.4 L358.4,524.4 L359.1,524.4 L359.8,524.4 L360.5,524.4 L361.2,524.4 L361.9,524.4 L362.6,524.4 L363.3,524.4 L364.0,524.4 L364.7,524.4 L365.4,524.4 L366.1,524.4 L366.8,524.4 L367.5,524.4 L368.2,524.4 L368.9,524.4 L369.6,524.4 L370.3,524.4 L371.0,524.4 L371.7,524.4 L372.4,524.4 L373.1,524.4 L373.8,524.4 L374.0,524.4 L374.00,524.40 Z" fill="#c9e4e2" stroke="none"/>
<path d="M268.1,524.4 L268.8,524.4 L269.5,524.4 L270.2,524.4 L270.9,524.4 L271.6,524.4 L272.3,524.4 L273.0,524.4 L273.7,524.4 L274.4,524.4 L275.1,524.4 L275.8,524.4 L276.5,524.4 L277.2,524.4 L277.9,524.4 L278.6,524.4 L279.3,524.4 L280.0,524.3 L280.7,524.3 L281.4,524.2 L282.1,524.0 L282.8,523.7 L283.5,523.2 L284.2,522.4 L284.9,521.4 L285.6,519.9 L286.3,518.2 L287.0,516.0 L287.7,513.7 L288.4,511.3 L289.1,509.0 L289.8,507.2 L290.5,506.0 L291.2,505.6 L291.9,506.0 L292.6,507.0 L293.3,508.5 L294.0,510.5 L294.7,512.7 L295.4,514.9 L296.1,517.0 L296.8,518.8 L297.5,520.3 L298.2,521.6 L298.9,522.5 L299.6,523.2 L300.3,523.6 L301.0,523.9 L301.7,524.1 L302.4,524.3 L303.1,524.3 L303.8,524.4 L304.5,524.4 L305.2,524.4 L305.9,524.4 L306.6,524.4 L307.3,524.4 L308.0,524.4 L308.7,524.4 L309.4,524.4 L310.1,524.4 L310.8,524.4 L311.5,524.4 L312.2,524.4 L312.9,524.4 L313.6,524.4 L314.3,524.4 L315.0,524.4 L315.7,524.4 L316.4,524.4 L317.1,524.4 L317.8,524.4 L318.5,524.4 L319.2,524.4 L319.9,524.4 L320.6,524.4 L321.3,524.4 L322.0,524.4 L322.7,524.4 L323.4,524.4 L324.1,524.4 L324.8,524.4 L325.5,524.4 L326.2,524.4 L326.9,524.4 L327.6,524.4 L328.3,524.4 L329.0,524.4 L329.7,524.4 L330.4,524.4 L331.1,524.4 L331.8,524.4 L332.5,524.4 L333.2,524.4 L333.9,524.4 L334.6,524.4 L335.3,524.4 L336.0,524.4 L336.7,524.4 L337.4,524.4 L338.1,524.4 L338.8,524.4 L339.5,524.4 L340.2,524.4 L340.9,524.4 L341.6,524.4 L342.3,524.4 L343.0,524.4 L343.7,524.4 L344.4,524.4 L345.1,524.4 L345.8,524.4 L346.5,524.4 L347.2,524.4 L347.9,524.4 L348.6,524.4 L349.3,524.4 L350.0,524.4 L350.7,524.4 L351.4,524.4 L352.1,524.4 L352.8,524.4 L353.5,524.4 L354.2,524.4 L354.9,524.4 L355.6,524.4 L356.3,524.4 L357.0,524.4 L357.7,524.4 L358.4,524.4 L359.1,524.4 L359.8,524.4 L360.5,524.4 L361.2,524.4 L361.9,524.4 L362.6,524.4 L363.3,524.4 L364.0,524.4 L364.7,524.4 L365.4,524.4 L366.1,524.4 L366.8,524.4 L367.5,524.4 L368.2,524.4 L368.9,524.4 L369.6,524.4 L370.3,524.4 L371.0,524.4 L371.7,524.4 L372.4,524.4 L373.1,524.4 L373.8,524.4 L374.0,524.4" fill="none" stroke="#2e9a96" stroke-width="0.9"/>
<path d="M268.10,545.30 L268.1,545.3 L268.8,545.3 L269.5,545.3 L270.2,545.3 L270.9,545.3 L271.6,545.3 L272.3,545.3 L273.0,545.3 L273.7,545.3 L274.4,545.3 L275.1,545.3 L275.8,545.3 L276.5,545.3 L277.2,545.3 L277.9,545.3 L278.6,545.3 L279.3,545.3 L280.0,545.2 L280.7,545.2 L281.4,545.0 L282.1,545.0 L282.8,544.5 L283.5,544.1 L284.2,542.9 L284.9,541.9 L285.6,540.2 L286.3,539.2 L287.0,537.3 L287.7,535.2 L288.4,532.6 L289.1,530.5 L289.8,528.9 L290.5,527.1 L291.2,526.5 L291.9,526.6 L292.6,527.5 L293.3,529.0 L294.0,530.5 L294.7,532.8 L295.4,534.9 L296.1,536.9 L296.8,538.9 L297.5,540.6 L298.2,541.8 L298.9,542.8 L299.6,543.6 L300.3,544.3 L301.0,544.7 L301.7,544.8 L302.4,545.0 L303.1,545.1 L303.8,545.2 L304.5,545.2 L305.2,545.3 L305.9,545.3 L306.6,545.3 L307.3,545.3 L308.0,545.3 L308.7,545.3 L309.4,545.3 L310.1,545.3 L310.8,545.3 L311.5,545.3 L312.2,545.3 L312.9,545.3 L313.6,545.3 L314.3,545.3 L315.0,545.3 L315.7,545.3 L316.4,545.3 L317.1,545.3 L317.8,545.3 L318.5,545.3 L319.2,545.3 L319.9,545.3 L320.6,545.3 L321.3,545.3 L322.0,545.3 L322.7,545.3 L323.4,545.3 L324.1,545.3 L324.8,545.3 L325.5,545.3 L326.2,545.3 L326.9,545.3 L327.6,545.3 L328.3,545.3 L329.0,545.3 L329.7,545.3 L330.4,545.3 L331.1,545.3 L331.8,545.3 L332.5,545.3 L333.2,545.3 L333.9,545.3 L334.6,545.3 L335.3,545.3 L336.0,545.3 L336.7,545.3 L337.4,545.3 L338.1,545.3 L338.8,545.3 L339.5,545.3 L340.2,545.3 L340.9,545.3 L341.6,545.3 L342.3,545.3 L343.0,545.3 L343.7,545.3 L344.4,545.3 L345.1,545.3 L345.8,545.3 L346.5,545.3 L347.2,545.3 L347.9,545.3 L348.6,545.3 L349.3,545.3 L350.0,545.3 L350.7,545.3 L351.4,545.3 L352.1,545.3 L352.8,545.3 L353.5,545.3 L354.2,545.3 L354.9,545.3 L355.6,545.3 L356.3,545.3 L357.0,545.3 L357.7,545.3 L358.4,545.3 L359.1,545.3 L359.8,545.3 L360.5,545.3 L361.2,545.3 L361.9,545.3 L362.6,545.3 L363.3,545.3 L364.0,545.3 L364.7,545.3 L365.4,545.3 L366.1,545.3 L366.8,545.3 L367.5,545.3 L368.2,545.3 L368.9,545.3 L369.6,545.3 L370.3,545.3 L371.0,545.3 L371.7,545.3 L372.4,545.3 L373.1,545.3 L373.8,545.3 L374.0,545.3 L374.00,545.30 Z" fill="#efefef" stroke="none"/>
<path d="M268.1,545.3 L268.8,545.3 L269.5,545.3 L270.2,545.3 L270.9,545.3 L271.6,545.3 L272.3,545.3 L273.0,545.3 L273.7,545.3 L274.4,545.3 L275.1,545.3 L275.8,545.3 L276.5,545.3 L277.2,545.3 L277.9,545.3 L278.6,545.3 L279.3,545.3 L280.0,545.2 L280.7,545.2 L281.4,545.0 L282.1,545.0 L282.8,544.5 L283.5,544.1 L284.2,542.9 L284.9,541.9 L285.6,540.2 L286.3,539.2 L287.0,537.3 L287.7,535.2 L288.4,532.6 L289.1,530.5 L289.8,528.9 L290.5,527.1 L291.2,526.5 L291.9,526.6 L292.6,527.5 L293.3,529.0 L294.0,530.5 L294.7,532.8 L295.4,534.9 L296.1,536.9 L296.8,538.9 L297.5,540.6 L298.2,541.8 L298.9,542.8 L299.6,543.6 L300.3,544.3 L301.0,544.7 L301.7,544.8 L302.4,545.0 L303.1,545.1 L303.8,545.2 L304.5,545.2 L305.2,545.3 L305.9,545.3 L306.6,545.3 L307.3,545.3 L308.0,545.3 L308.7,545.3 L309.4,545.3 L310.1,545.3 L310.8,545.3 L311.5,545.3 L312.2,545.3 L312.9,545.3 L313.6,545.3 L314.3,545.3 L315.0,545.3 L315.7,545.3 L316.4,545.3 L317.1,545.3 L317.8,545.3 L318.5,545.3 L319.2,545.3 L319.9,545.3 L320.6,545.3 L321.3,545.3 L322.0,545.3 L322.7,545.3 L323.4,545.3 L324.1,545.3 L324.8,545.3 L325.5,545.3 L326.2,545.3 L326.9,545.3 L327.6,545.3 L328.3,545.3 L329.0,545.3 L329.7,545.3 L330.4,545.3 L331.1,545.3 L331.8,545.3 L332.5,545.3 L333.2,545.3 L333.9,545.3 L334.6,545.3 L335.3,545.3 L336.0,545.3 L336.7,545.3 L337.4,545.3 L338.1,545.3 L338.8,545.3 L339.5,545.3 L340.2,545.3 L340.9,545.3 L341.6,545.3 L342.3,545.3 L343.0,545.3 L343.7,545.3 L344.4,545.3 L345.1,545.3 L345.8,545.3 L346.5,545.3 L347.2,545.3 L347.9,545.3 L348.6,545.3 L349.3,545.3 L350.0,545.3 L350.7,545.3 L351.4,545.3 L352.1,545.3 L352.8,545.3 L353.5,545.3 L354.2,545.3 L354.9,545.3 L355.6,545.3 L356.3,545.3 L357.0,545.3 L357.7,545.3 L358.4,545.3 L359.1,545.3 L359.8,545.3 L360.5,545.3 L361.2,545.3 L361.9,545.3 L362.6,545.3 L363.3,545.3 L364.0,545.3 L364.7,545.3 L365.4,545.3 L366.1,545.3 L366.8,545.3 L367.5,545.3 L368.2,545.3 L368.9,545.3 L369.6,545.3 L370.3,545.3 L371.0,545.3 L371.7,545.3 L372.4,545.3 L373.1,545.3 L373.8,545.3 L374.0,545.3" fill="none" stroke="#c8c8c8" stroke-width="0.9"/>
<path d="M268.10,566.40 L268.1,566.4 L268.8,566.4 L269.5,566.4 L270.2,566.4 L270.9,566.4 L271.6,566.4 L272.3,566.4 L273.0,566.4 L273.7,566.4 L274.4,566.4 L275.1,566.4 L275.8,566.4 L276.5,566.4 L277.2,566.4 L277.9,566.4 L278.6,566.4 L279.3,566.3 L280.0,566.3 L280.7,566.1 L281.4,566.1 L282.1,566.0 L282.8,565.8 L283.5,565.3 L284.2,564.5 L284.9,563.8 L285.6,562.2 L286.3,560.8 L287.0,558.6 L287.7,557.3 L288.4,554.9 L289.1,552.0 L289.8,548.8 L290.5,547.6 L291.2,548.3 L291.9,548.8 L292.6,549.6 L293.3,551.1 L294.0,553.2 L294.7,555.1 L295.4,556.9 L296.1,558.5 L296.8,560.2 L297.5,561.6 L298.2,563.1 L298.9,564.0 L299.6,564.5 L300.3,565.1 L301.0,565.4 L301.7,565.8 L302.4,565.9 L303.1,566.1 L303.8,566.2 L304.5,566.3 L305.2,566.4 L305.9,566.4 L306.6,566.4 L307.3,566.4 L308.0,566.4 L308.7,566.4 L309.4,566.4 L310.1,566.4 L310.8,566.4 L311.5,566.4 L312.2,566.4 L312.9,566.4 L313.6,566.4 L314.3,566.4 L315.0,566.4 L315.7,566.4 L316.4,566.4 L317.1,566.4 L317.8,566.4 L318.5,566.4 L319.2,566.4 L319.9,566.4 L320.6,566.4 L321.3,566.4 L322.0,566.4 L322.7,566.4 L323.4,566.4 L324.1,566.4 L324.8,566.4 L325.5,566.4 L326.2,566.4 L326.9,566.4 L327.6,566.4 L328.3,566.4 L329.0,566.4 L329.7,566.4 L330.4,566.4 L331.1,566.4 L331.8,566.4 L332.5,566.4 L333.2,566.4 L333.9,566.4 L334.6,566.4 L335.3,566.4 L336.0,566.4 L336.7,566.4 L337.4,566.4 L338.1,566.4 L338.8,566.4 L339.5,566.4 L340.2,566.4 L340.9,566.4 L341.6,566.4 L342.3,566.4 L343.0,566.4 L343.7,566.4 L344.4,566.4 L345.1,566.4 L345.8,566.4 L346.5,566.4 L347.2,566.4 L347.9,566.4 L348.6,566.4 L349.3,566.4 L350.0,566.4 L350.7,566.4 L351.4,566.4 L352.1,566.4 L352.8,566.4 L353.5,566.4 L354.2,566.4 L354.9,566.4 L355.6,566.4 L356.3,566.4 L357.0,566.4 L357.7,566.4 L358.4,566.4 L359.1,566.4 L359.8,566.4 L360.5,566.4 L361.2,566.4 L361.9,566.4 L362.6,566.4 L363.3,566.4 L364.0,566.4 L364.7,566.4 L365.4,566.4 L366.1,566.4 L366.8,566.4 L367.5,566.4 L368.2,566.4 L368.9,566.4 L369.6,566.4 L370.3,566.4 L371.0,566.4 L371.7,566.4 L372.4,566.4 L373.1,566.4 L373.8,566.4 L374.0,566.4 L374.00,566.40 Z" fill="#ffc6c6" stroke="none"/>
<path d="M268.1,566.4 L268.8,566.4 L269.5,566.4 L270.2,566.4 L270.9,566.4 L271.6,566.4 L272.3,566.4 L273.0,566.4 L273.7,566.4 L274.4,566.4 L275.1,566.4 L275.8,566.4 L276.5,566.4 L277.2,566.4 L277.9,566.4 L278.6,566.4 L279.3,566.3 L280.0,566.3 L280.7,566.1 L281.4,566.1 L282.1,566.0 L282.8,565.8 L283.5,565.3 L284.2,564.5 L284.9,563.8 L285.6,562.2 L286.3,560.8 L287.0,558.6 L287.7,557.3 L288.4,554.9 L289.1,552.0 L289.8,548.8 L290.5,547.6 L291.2,548.3 L291.9,548.8 L292.6,549.6 L293.3,551.1 L294.0,553.2 L294.7,555.1 L295.4,556.9 L296.1,558.5 L296.8,560.2 L297.5,561.6 L298.2,563.1 L298.9,564.0 L299.6,564.5 L300.3,565.1 L301.0,565.4 L301.7,565.8 L302.4,565.9 L303.1,566.1 L303.8,566.2 L304.5,566.3 L305.2,566.4 L305.9,566.4 L306.6,566.4 L307.3,566.4 L308.0,566.4 L308.7,566.4 L309.4,566.4 L310.1,566.4 L310.8,566.4 L311.5,566.4 L312.2,566.4 L312.9,566.4 L313.6,566.4 L314.3,566.4 L315.0,566.4 L315.7,566.4 L316.4,566.4 L317.1,566.4 L317.8,566.4 L318.5,566.4 L319.2,566.4 L319.9,566.4 L320.6,566.4 L321.3,566.4 L322.0,566.4 L322.7,566.4 L323.4,566.4 L324.1,566.4 L324.8,566.4 L325.5,566.4 L326.2,566.4 L326.9,566.4 L327.6,566.4 L328.3,566.4 L329.0,566.4 L329.7,566.4 L330.4,566.4 L331.1,566.4 L331.8,566.4 L332.5,566.4 L333.2,566.4 L333.9,566.4 L334.6,566.4 L335.3,566.4 L336.0,566.4 L336.7,566.4 L337.4,566.4 L338.1,566.4 L338.8,566.4 L339.5,566.4 L340.2,566.4 L340.9,566.4 L341.6,566.4 L342.3,566.4 L343.0,566.4 L343.7,566.4 L344.4,566.4 L345.1,566.4 L345.8,566.4 L346.5,566.4 L347.2,566.4 L347.9,566.4 L348.6,566.4 L349.3,566.4 L350.0,566.4 L350.7,566.4 L351.4,566.4 L352.1,566.4 L352.8,566.4 L353.5,566.4 L354.2,566.4 L354.9,566.4 L355.6,566.4 L356.3,566.4 L357.0,566.4 L357.7,566.4 L358.4,566.4 L359.1,566.4 L359.8,566.4 L360.5,566.4 L361.2,566.4 L361.9,566.4 L362.6,566.4 L363.3,566.4 L364.0,566.4 L364.7,566.4 L365.4,566.4 L366.1,566.4 L366.8,566.4 L367.5,566.4 L368.2,566.4 L368.9,566.4 L369.6,566.4 L370.3,566.4 L371.0,566.4 L371.7,566.4 L372.4,566.4 L373.1,566.4 L373.8,566.4 L374.0,566.4" fill="none" stroke="#ff2a2a" stroke-width="0.9"/>
<path d="M268.1,587.3 L268.8,587.3 L269.5,587.3 L270.2,587.3 L270.9,587.3 L271.6,587.3 L272.3,587.3 L273.0,587.3 L273.7,587.3 L274.4,587.3 L275.1,587.3 L275.8,587.3 L276.5,587.3 L277.2,587.3 L277.9,587.3 L278.6,587.3 L279.3,587.3 L280.0,587.2 L280.7,587.2 L281.4,587.1 L282.1,586.9 L282.8,586.5 L283.5,586.0 L284.2,585.3 L284.9,584.3 L285.6,582.9 L286.3,581.2 L287.0,579.1 L287.7,576.9 L288.4,574.5 L289.1,572.3 L289.8,570.4 L290.5,569.1 L291.2,568.5 L291.9,568.6 L292.6,569.4 L293.3,570.7 L294.0,572.4 L294.7,574.4 L295.4,576.5 L296.1,578.5 L296.8,580.4 L297.5,582.1 L298.2,583.5 L298.9,584.6 L299.6,585.5 L300.3,586.1 L301.0,586.5 L301.7,586.8 L302.4,587.0 L303.1,587.1 L303.8,587.2 L304.5,587.3 L305.2,587.3 L305.9,587.3 L306.6,587.3 L307.3,587.3 L308.0,587.3 L308.7,587.3 L309.4,587.3 L310.1,587.3 L310.8,587.3 L311.5,587.3 L312.2,587.3 L312.9,587.3 L313.6,587.3 L314.3,587.3 L315.0,587.3 L315.7,587.3 L316.4,587.3 L317.1,587.3 L317.8,587.3 L318.5,587.3 L319.2,587.3 L319.9,587.3 L320.6,587.3 L321.3,587.3 L322.0,587.3 L322.7,587.3 L323.4,587.3 L324.1,587.3 L324.8,587.3 L325.5,587.3 L326.2,587.3 L326.9,587.3 L327.6,587.3 L328.3,587.3 L329.0,587.3 L329.7,587.3 L330.4,587.3 L331.1,587.3 L331.8,587.3 L332.5,587.3 L333.2,587.3 L333.9,587.3 L334.6,587.3 L335.3,587.3 L336.0,587.3 L336.7,587.3 L337.4,587.3 L338.1,587.3 L338.8,587.3 L339.5,587.3 L340.2,587.3 L340.9,587.3 L341.6,587.3 L342.3,587.3 L343.0,587.3 L343.7,587.3 L344.4,587.3 L345.1,587.3 L345.8,587.3 L346.5,587.3 L347.2,587.3 L347.9,587.3 L348.6,587.3 L349.3,587.3 L350.0,587.3 L350.7,587.3 L351.4,587.3 L352.1,587.3 L352.8,587.3 L353.5,587.3 L354.2,587.3 L354.9,587.3 L355.6,587.3 L356.3,587.3 L357.0,587.3 L357.7,587.3 L358.4,587.3 L359.1,587.3 L359.8,587.3 L360.5,587.3 L361.2,587.3 L361.9,587.3 L362.6,587.3 L363.3,587.3 L364.0,587.3 L364.7,587.3 L365.4,587.3 L366.1,587.3 L366.8,587.3 L367.5,587.3 L368.2,587.3 L368.9,587.3 L369.6,587.3 L370.3,587.3 L371.0,587.3 L371.7,587.3 L372.4,587.3 L373.1,587.3 L373.8,587.3 L374.0,587.3" fill="none" stroke="#2a2a2a" stroke-width="0.9"/>
<path d="M268.10,608.30 L268.1,608.3 L268.8,608.3 L269.5,608.3 L270.2,608.3 L270.9,608.3 L271.6,608.3 L272.3,608.3 L273.0,608.3 L273.7,608.3 L274.4,608.3 L275.1,608.3 L275.8,608.3 L276.5,608.3 L277.2,608.3 L277.9,608.3 L278.6,608.3 L279.3,608.3 L280.0,608.2 L280.7,608.2 L281.4,608.1 L282.1,607.9 L282.8,607.5 L283.5,607.0 L284.2,606.3 L284.9,605.3 L285.6,603.9 L286.3,602.2 L287.0,600.1 L287.7,597.9 L288.4,595.5 L289.1,593.3 L289.8,591.4 L290.5,590.1 L291.2,589.5 L291.9,589.6 L292.6,590.4 L293.3,591.7 L294.0,593.4 L294.7,595.4 L295.4,597.5 L296.1,599.5 L296.8,601.4 L297.5,603.1 L298.2,604.5 L298.9,605.6 L299.6,606.5 L300.3,607.1 L301.0,607.5 L301.7,607.8 L302.4,608.0 L303.1,608.1 L303.8,608.2 L304.5,608.3 L305.2,608.3 L305.9,608.3 L306.6,608.3 L307.3,608.3 L308.0,608.3 L308.7,608.3 L309.4,608.3 L310.1,608.3 L310.8,608.3 L311.5,608.3 L312.2,608.3 L312.9,608.3 L313.6,608.3 L314.3,608.3 L315.0,608.3 L315.7,608.3 L316.4,608.3 L317.1,608.3 L317.8,608.3 L318.5,608.3 L319.2,608.3 L319.9,608.3 L320.6,608.3 L321.3,608.3 L322.0,608.3 L322.7,608.3 L323.4,608.3 L324.1,608.3 L324.8,608.3 L325.5,608.3 L326.2,608.3 L326.9,608.3 L327.6,608.3 L328.3,608.3 L329.0,608.3 L329.7,608.3 L330.4,608.3 L331.1,608.3 L331.8,608.3 L332.5,608.3 L333.2,608.3 L333.9,608.3 L334.6,608.3 L335.3,608.3 L336.0,608.3 L336.7,608.3 L337.4,608.3 L338.1,608.3 L338.8,608.3 L339.5,608.3 L340.2,608.3 L340.9,608.3 L341.6,608.3 L342.3,608.3 L343.0,608.3 L343.7,608.3 L344.4,608.3 L345.1,608.3 L345.8,608.3 L346.5,608.3 L347.2,608.3 L347.9,608.3 L348.6,608.3 L349.3,608.3 L350.0,608.3 L350.7,608.3 L351.4,608.3 L352.1,608.3 L352.8,608.3 L353.5,608.3 L354.2,608.3 L354.9,608.3 L355.6,608.3 L356.3,608.3 L357.0,608.3 L357.7,608.3 L358.4,608.3 L359.1,608.3 L359.8,608.3 L360.5,608.3 L361.2,608.3 L361.9,608.3 L362.6,608.3 L363.3,608.3 L364.0,608.3 L364.7,608.3 L365.4,608.3 L366.1,608.3 L366.8,608.3 L367.5,608.3 L368.2,608.3 L368.9,608.3 L369.6,608.3 L370.3,608.3 L371.0,608.3 L371.7,608.3 L372.4,608.3 L373.1,608.3 L373.8,608.3 L374.0,608.3 L374.00,608.30 Z" fill="#d3d8ee" stroke="none"/>
<path d="M268.1,608.3 L268.8,608.3 L269.5,608.3 L270.2,608.3 L270.9,608.3 L271.6,608.3 L272.3,608.3 L273.0,608.3 L273.7,608.3 L274.4,608.3 L275.1,608.3 L275.8,608.3 L276.5,608.3 L277.2,608.3 L277.9,608.3 L278.6,608.3 L279.3,608.3 L280.0,608.2 L280.7,608.2 L281.4,608.1 L282.1,607.9 L282.8,607.5 L283.5,607.0 L284.2,606.3 L284.9,605.3 L285.6,603.9 L286.3,602.2 L287.0,600.1 L287.7,597.9 L288.4,595.5 L289.1,593.3 L289.8,591.4 L290.5,590.1 L291.2,589.5 L291.9,589.6 L292.6,590.4 L293.3,591.7 L294.0,593.4 L294.7,595.4 L295.4,597.5 L296.1,599.5 L296.8,601.4 L297.5,603.1 L298.2,604.5 L298.9,605.6 L299.6,606.5 L300.3,607.1 L301.0,607.5 L301.7,607.8 L302.4,608.0 L303.1,608.1 L303.8,608.2 L304.5,608.3 L305.2,608.3 L305.9,608.3 L306.6,608.3 L307.3,608.3 L308.0,608.3 L308.7,608.3 L309.4,608.3 L310.1,608.3 L310.8,608.3 L311.5,608.3 L312.2,608.3 L312.9,608.3 L313.6,608.3 L314.3,608.3 L315.0,608.3 L315.7,608.3 L316.4,608.3 L317.1,608.3 L317.8,608.3 L318.5,608.3 L319.2,608.3 L319.9,608.3 L320.6,608.3 L321.3,608.3 L322.0,608.3 L322.7,608.3 L323.4,608.3 L324.1,608.3 L324.8,608.3 L325.5,608.3 L326.2,608.3 L326.9,608.3 L327.6,608.3 L328.3,608.3 L329.0,608.3 L329.7,608.3 L330.4,608.3 L331.1,608.3 L331.8,608.3 L332.5,608.3 L333.2,608.3 L333.9,608.3 L334.6,608.3 L335.3,608.3 L336.0,608.3 L336.7,608.3 L337.4,608.3 L338.1,608.3 L338.8,608.3 L339.5,608.3 L340.2,608.3 L340.9,608.3 L341.6,608.3 L342.3,608.3 L343.0,608.3 L343.7,608.3 L344.4,608.3 L345.1,608.3 L345.8,608.3 L346.5,608.3 L347.2,608.3 L347.9,608.3 L348.6,608.3 L349.3,608.3 L350.0,608.3 L350.7,608.3 L351.4,608.3 L352.1,608.3 L352.8,608.3 L353.5,608.3 L354.2,608.3 L354.9,608.3 L355.6,608.3 L356.3,608.3 L357.0,608.3 L357.7,608.3 L358.4,608.3 L359.1,608.3 L359.8,608.3 L360.5,608.3 L361.2,608.3 L361.9,608.3 L362.6,608.3 L363.3,608.3 L364.0,608.3 L364.7,608.3 L365.4,608.3 L366.1,608.3 L366.8,608.3 L367.5,608.3 L368.2,608.3 L368.9,608.3 L369.6,608.3 L370.3,608.3 L371.0,608.3 L371.7,608.3 L372.4,608.3 L373.1,608.3 L373.8,608.3 L374.0,608.3" fill="none" stroke="#4a5fc4" stroke-width="0.9"/>
<rect x="268.10" y="502.50" width="105.90" height="105.80" fill="none" stroke="#222" stroke-width="0.90"/>
<path d="M293.1 608.3v4.8M323.4 608.3v4.8M342.8 608.3v4.8M363.2 608.3v4.8M309.8 608.3v3.0M313.3 608.3v3.0M315.7 608.3v3.0M317.6 608.3v3.0M319.1 608.3v3.0M320.4 608.3v3.0M321.5 608.3v3.0M322.5 608.3v3.0M329.2 608.3v3.0M332.7 608.3v3.0M335.1 608.3v3.0M337.0 608.3v3.0M338.5 608.3v3.0M339.8 608.3v3.0M340.9 608.3v3.0M341.9 608.3v3.0M348.9 608.3v3.0M352.5 608.3v3.0M355.1 608.3v3.0M357.1 608.3v3.0M358.7 608.3v3.0M360.0 608.3v3.0M361.2 608.3v3.0M362.3 608.3v3.0M369.0 608.3v3.0M372.5 608.3v3.0" stroke="#111" stroke-width="0.85" fill="none"/>
<path d="M284.7 608.3v3.6M285.9 608.3v4.8M287.1 608.3v3.6M288.3 608.3v4.8M289.5 608.3v4.8M290.7 608.3v3.6M291.9 608.3v4.8M293.1 608.3v4.8M294.3 608.3v4.8M295.5 608.3v3.6M296.7 608.3v4.8M297.9 608.3v4.8M299.1 608.3v3.6M300.3 608.3v4.8M301.5 608.3v3.6" stroke="#000" stroke-width="1.0" fill="none"/>
<path d="M281.1 608.3v3.0M275.6 608.3v3.0M270.1 608.3v3.0" stroke="#111" stroke-width="0.85" fill="none"/>
<text x="293.1" y="622.1" font-size="8.00" text-anchor="middle" fill="#111" stroke="#111" stroke-width="0.22">0</text>
<text x="323.4" y="622.1" font-size="8.00" text-anchor="middle" fill="#111" stroke="#111" stroke-width="0.22">10<tspan dy="-3.04" font-size="5.60">4</tspan></text>
<text x="342.8" y="622.1" font-size="8.00" text-anchor="middle" fill="#111" stroke="#111" stroke-width="0.22">10<tspan dy="-3.04" font-size="5.60">5</tspan></text>
<text x="363.2" y="622.1" font-size="8.00" text-anchor="middle" fill="#111" stroke="#111" stroke-width="0.22">10<tspan dy="-3.04" font-size="5.60">6</tspan></text>
<path d="M379.80,524.40 L379.8,524.4 L380.5,524.4 L381.2,524.4 L381.9,524.4 L382.6,524.4 L383.3,524.4 L384.0,524.4 L384.7,524.4 L385.4,524.4 L386.1,524.4 L386.8,524.4 L387.5,524.4 L388.2,524.4 L388.9,524.4 L389.6,524.4 L390.3,524.4 L391.0,524.4 L391.7,524.4 L392.4,524.4 L393.1,524.4 L393.8,524.4 L394.5,524.3 L395.2,524.3 L395.9,524.2 L396.6,524.2 L397.3,524.1 L398.0,524.0 L398.7,523.9 L399.4,523.5 L400.1,523.1 L400.8,522.3 L401.5,521.7 L402.2,520.8 L402.9,519.9 L403.6,518.5 L404.3,517.1 L405.0,515.3 L405.7,513.8 L406.4,511.5 L407.1,509.4 L407.8,507.2 L408.5,506.2 L409.2,505.8 L409.9,505.7 L410.6,505.6 L411.3,505.9 L412.0,506.6 L412.7,507.5 L413.4,508.3 L414.1,509.5 L414.8,511.5 L415.5,513.1 L416.2,514.8 L416.9,516.3 L417.6,517.6 L418.3,518.6 L419.0,519.5 L419.7,520.7 L420.4,521.5 L421.1,522.5 L421.8,522.9 L422.5,523.3 L423.2,523.3 L423.9,523.6 L424.6,523.9 L425.3,524.2 L426.0,524.3 L426.7,524.4 L427.4,524.4 L428.1,524.4 L428.8,524.4 L429.5,524.4 L430.2,524.4 L430.9,524.4 L431.6,524.4 L432.3,524.4 L433.0,524.4 L433.7,524.4 L434.4,524.4 L435.1,524.4 L435.8,524.4 L436.5,524.4 L437.2,524.4 L437.9,524.4 L438.6,524.4 L439.3,524.4 L440.0,524.4 L440.7,524.4 L441.4,524.4 L442.1,524.4 L442.8,524.4 L443.5,524.4 L444.2,524.4 L444.9,524.4 L445.6,524.4 L446.3,524.4 L447.0,524.4 L447.7,524.4 L448.4,524.4 L449.1,524.4 L449.8,524.4 L450.5,524.4 L451.2,524.4 L451.9,524.4 L452.6,524.4 L453.3,524.4 L454.0,524.4 L454.7,524.4 L455.4,524.4 L456.1,524.4 L456.8,524.4 L457.5,524.4 L458.2,524.4 L458.9,524.4 L459.6,524.4 L460.3,524.4 L461.0,524.4 L461.7,524.4 L462.4,524.4 L463.1,524.4 L463.8,524.4 L464.5,524.4 L465.2,524.4 L465.9,524.4 L466.6,524.4 L467.3,524.4 L468.0,524.4 L468.7,524.4 L469.4,524.4 L470.1,524.4 L470.8,524.4 L471.5,524.4 L472.2,524.4 L472.9,524.4 L473.6,524.4 L474.3,524.4 L475.0,524.4 L475.7,524.4 L476.4,524.4 L477.1,524.4 L477.8,524.4 L478.5,524.4 L479.2,524.4 L479.9,524.4 L480.6,524.4 L481.3,524.4 L482.0,524.4 L482.7,524.4 L483.4,524.4 L484.1,524.4 L484.8,524.4 L485.5,524.4 L486.0,524.4 L486.00,524.40 Z" fill="#c9e4e2" stroke="none"/>
<path d="M379.8,524.4 L380.5,524.4 L381.2,524.4 L381.9,524.4 L382.6,524.4 L383.3,524.4 L384.0,524.4 L384.7,524.4 L385.4,524.4 L386.1,524.4 L386.8,524.4 L387.5,524.4 L388.2,524.4 L388.9,524.4 L389.6,524.4 L390.3,524.4 L391.0,524.4 L391.7,524.4 L392.4,524.4 L393.1,524.4 L393.8,524.4 L394.5,524.3 L395.2,524.3 L395.9,524.2 L396.6,524.2 L397.3,524.1 L398.0,524.0 L398.7,523.9 L399.4,523.5 L400.1,523.1 L400.8,522.3 L401.5,521.7 L402.2,520.8 L402.9,519.9 L403.6,518.5 L404.3,517.1 L405.0,515.3 L405.7,513.8 L406.4,511.5 L407.1,509.4 L407.8,507.2 L408.5,506.2 L409.2,505.8 L409.9,505.7 L410.6,505.6 L411.3,505.9 L412.0,506.6 L412.7,507.5 L413.4,508.3 L414.1,509.5 L414.8,511.5 L415.5,513.1 L416.2,514.8 L416.9,516.3 L417.6,517.6 L418.3,518.6 L419.0,519.5 L419.7,520.7 L420.4,521.5 L421.1,522.5 L421.8,522.9 L422.5,523.3 L423.2,523.3 L423.9,523.6 L424.6,523.9 L425.3,524.2 L426.0,524.3 L426.7,524.4 L427.4,524.4 L428.1,524.4 L428.8,524.4 L429.5,524.4 L430.2,524.4 L430.9,524.4 L431.6,524.4 L432.3,524.4 L433.0,524.4 L433.7,524.4 L434.4,524.4 L435.1,524.4 L435.8,524.4 L436.5,524.4 L437.2,524.4 L437.9,524.4 L438.6,524.4 L439.3,524.4 L440.0,524.4 L440.7,524.4 L441.4,524.4 L442.1,524.4 L442.8,524.4 L443.5,524.4 L444.2,524.4 L444.9,524.4 L445.6,524.4 L446.3,524.4 L447.0,524.4 L447.7,524.4 L448.4,524.4 L449.1,524.4 L449.8,524.4 L450.5,524.4 L451.2,524.4 L451.9,524.4 L452.6,524.4 L453.3,524.4 L454.0,524.4 L454.7,524.4 L455.4,524.4 L456.1,524.4 L456.8,524.4 L457.5,524.4 L458.2,524.4 L458.9,524.4 L459.6,524.4 L460.3,524.4 L461.0,524.4 L461.7,524.4 L462.4,524.4 L463.1,524.4 L463.8,524.4 L464.5,524.4 L465.2,524.4 L465.9,524.4 L466.6,524.4 L467.3,524.4 L468.0,524.4 L468.7,524.4 L469.4,524.4 L470.1,524.4 L470.8,524.4 L471.5,524.4 L472.2,524.4 L472.9,524.4 L473.6,524.4 L474.3,524.4 L475.0,524.4 L475.7,524.4 L476.4,524.4 L477.1,524.4 L477.8,524.4 L478.5,524.4 L479.2,524.4 L479.9,524.4 L480.6,524.4 L481.3,524.4 L482.0,524.4 L482.7,524.4 L483.4,524.4 L484.1,524.4 L484.8,524.4 L485.5,524.4 L486.0,524.4" fill="none" stroke="#2e9a96" stroke-width="0.9"/>
<path d="M379.80,545.30 L379.8,545.3 L380.5,545.3 L381.2,545.3 L381.9,545.3 L382.6,545.3 L383.3,545.3 L384.0,545.3 L384.7,545.3 L385.4,545.3 L386.1,545.3 L386.8,545.3 L387.5,545.3 L388.2,545.3 L388.9,545.3 L389.6,545.3 L390.3,545.3 L391.0,545.3 L391.7,545.3 L392.4,545.3 L393.1,545.3 L393.8,545.3 L394.5,545.3 L395.2,545.3 L395.9,545.3 L396.6,545.3 L397.3,545.3 L398.0,545.3 L398.7,545.2 L399.4,545.2 L400.1,545.0 L400.8,544.9 L401.5,544.9 L402.2,544.7 L402.9,544.8 L403.6,544.5 L404.3,544.3 L405.0,543.9 L405.7,543.5 L406.4,543.1 L407.1,542.3 L407.8,541.4 L408.5,540.8 L409.2,540.5 L409.9,540.4 L410.6,539.4 L411.3,538.2 L412.0,537.6 L412.7,537.2 L413.4,537.1 L414.1,535.6 L414.8,535.2 L415.5,534.7 L416.2,534.5 L416.9,534.1 L417.6,533.2 L418.3,532.8 L419.0,532.5 L419.7,532.2 L420.4,531.4 L421.1,530.6 L421.8,530.2 L422.5,529.3 L423.2,528.6 L423.9,528.1 L424.6,528.2 L425.3,528.0 L426.0,528.4 L426.7,528.2 L427.4,528.6 L428.1,527.6 L428.8,527.5 L429.5,526.5 L430.2,527.3 L430.9,528.5 L431.6,530.6 L432.3,533.1 L433.0,535.6 L433.7,538.0 L434.4,539.6 L435.1,541.0 L435.8,542.2 L436.5,543.4 L437.2,544.2 L437.9,544.8 L438.6,545.0 L439.3,545.1 L440.0,545.2 L440.7,545.3 L441.4,545.3 L442.1,545.3 L442.8,545.3 L443.5,545.3 L444.2,545.3 L444.9,545.3 L445.6,545.3 L446.3,545.3 L447.0,545.3 L447.7,545.3 L448.4,545.3 L449.1,545.3 L449.8,545.3 L450.5,545.3 L451.2,545.3 L451.9,545.3 L452.6,545.3 L453.3,545.3 L454.0,545.3 L454.7,545.3 L455.4,545.3 L456.1,545.3 L456.8,545.3 L457.5,545.3 L458.2,545.3 L458.9,545.3 L459.6,545.3 L460.3,545.3 L461.0,545.3 L461.7,545.3 L462.4,545.3 L463.1,545.3 L463.8,545.3 L464.5,545.3 L465.2,545.3 L465.9,545.3 L466.6,545.3 L467.3,545.3 L468.0,545.3 L468.7,545.3 L469.4,545.3 L470.1,545.3 L470.8,545.3 L471.5,545.3 L472.2,545.3 L472.9,545.3 L473.6,545.3 L474.3,545.3 L475.0,545.3 L475.7,545.3 L476.4,545.3 L477.1,545.3 L477.8,545.3 L478.5,545.3 L479.2,545.3 L479.9,545.3 L480.6,545.3 L481.3,545.3 L482.0,545.3 L482.7,545.3 L483.4,545.3 L484.1,545.3 L484.8,545.3 L485.5,545.3 L486.0,545.3 L486.00,545.30 Z" fill="#efefef" stroke="none"/>
<path d="M379.8,545.3 L380.5,545.3 L381.2,545.3 L381.9,545.3 L382.6,545.3 L383.3,545.3 L384.0,545.3 L384.7,545.3 L385.4,545.3 L386.1,545.3 L386.8,545.3 L387.5,545.3 L388.2,545.3 L388.9,545.3 L389.6,545.3 L390.3,545.3 L391.0,545.3 L391.7,545.3 L392.4,545.3 L393.1,545.3 L393.8,545.3 L394.5,545.3 L395.2,545.3 L395.9,545.3 L396.6,545.3 L397.3,545.3 L398.0,545.3 L398.7,545.2 L399.4,545.2 L400.1,545.0 L400.8,544.9 L401.5,544.9 L402.2,544.7 L402.9,544.8 L403.6,544.5 L404.3,544.3 L405.0,543.9 L405.7,543.5 L406.4,543.1 L407.1,542.3 L407.8,541.4 L408.5,540.8 L409.2,540.5 L409.9,540.4 L410.6,539.4 L411.3,538.2 L412.0,537.6 L412.7,537.2 L413.4,537.1 L414.1,535.6 L414.8,535.2 L415.5,534.7 L416.2,534.5 L416.9,534.1 L417.6,533.2 L418.3,532.8 L419.0,532.5 L419.7,532.2 L420.4,531.4 L421.1,530.6 L421.8,530.2 L422.5,529.3 L423.2,528.6 L423.9,528.1 L424.6,528.2 L425.3,528.0 L426.0,528.4 L426.7,528.2 L427.4,528.6 L428.1,527.6 L428.8,527.5 L429.5,526.5 L430.2,527.3 L430.9,528.5 L431.6,530.6 L432.3,533.1 L433.0,535.6 L433.7,538.0 L434.4,539.6 L435.1,541.0 L435.8,542.2 L436.5,543.4 L437.2,544.2 L437.9,544.8 L438.6,545.0 L439.3,545.1 L440.0,545.2 L440.7,545.3 L441.4,545.3 L442.1,545.3 L442.8,545.3 L443.5,545.3 L444.2,545.3 L444.9,545.3 L445.6,545.3 L446.3,545.3 L447.0,545.3 L447.7,545.3 L448.4,545.3 L449.1,545.3 L449.8,545.3 L450.5,545.3 L451.2,545.3 L451.9,545.3 L452.6,545.3 L453.3,545.3 L454.0,545.3 L454.7,545.3 L455.4,545.3 L456.1,545.3 L456.8,545.3 L457.5,545.3 L458.2,545.3 L458.9,545.3 L459.6,545.3 L460.3,545.3 L461.0,545.3 L461.7,545.3 L462.4,545.3 L463.1,545.3 L463.8,545.3 L464.5,545.3 L465.2,545.3 L465.9,545.3 L466.6,545.3 L467.3,545.3 L468.0,545.3 L468.7,545.3 L469.4,545.3 L470.1,545.3 L470.8,545.3 L471.5,545.3 L472.2,545.3 L472.9,545.3 L473.6,545.3 L474.3,545.3 L475.0,545.3 L475.7,545.3 L476.4,545.3 L477.1,545.3 L477.8,545.3 L478.5,545.3 L479.2,545.3 L479.9,545.3 L480.6,545.3 L481.3,545.3 L482.0,545.3 L482.7,545.3 L483.4,545.3 L484.1,545.3 L484.8,545.3 L485.5,545.3 L486.0,545.3" fill="none" stroke="#c8c8c8" stroke-width="0.9"/>
<path d="M379.80,566.40 L379.8,566.4 L380.5,566.4 L381.2,566.4 L381.9,566.4 L382.6,566.4 L383.3,566.4 L384.0,566.4 L384.7,566.4 L385.4,566.4 L386.1,566.4 L386.8,566.4 L387.5,566.4 L388.2,566.4 L388.9,566.4 L389.6,566.4 L390.3,566.4 L391.0,566.3 L391.7,566.3 L392.4,566.3 L393.1,566.3 L393.8,566.3 L394.5,566.2 L395.2,566.2 L395.9,566.3 L396.6,566.2 L397.3,566.1 L398.0,565.9 L398.7,565.8 L399.4,565.7 L400.1,565.6 L400.8,565.4 L401.5,565.1 L402.2,564.8 L402.9,564.7 L403.6,564.6 L404.3,564.3 L405.0,563.7 L405.7,563.2 L406.4,562.7 L407.1,562.3 L407.8,561.9 L408.5,561.6 L409.2,560.9 L409.9,560.7 L410.6,559.7 L411.3,559.2 L412.0,558.5 L412.7,558.4 L413.4,558.0 L414.1,557.7 L414.8,556.9 L415.5,556.3 L416.2,555.3 L416.9,555.2 L417.6,554.7 L418.3,554.1 L419.0,552.8 L419.7,552.5 L420.4,552.5 L421.1,551.7 L421.8,551.4 L422.5,551.4 L423.2,551.6 L423.9,550.9 L424.6,550.2 L425.3,550.4 L426.0,549.4 L426.7,548.6 L427.4,547.6 L428.1,548.5 L428.8,549.0 L429.5,549.4 L430.2,549.1 L430.9,549.9 L431.6,552.1 L432.3,554.6 L433.0,556.5 L433.7,558.1 L434.4,560.2 L435.1,561.9 L435.8,563.4 L436.5,564.1 L437.2,564.8 L437.9,565.3 L438.6,565.8 L439.3,566.1 L440.0,566.4 L440.7,566.4 L441.4,566.4 L442.1,566.3 L442.8,566.4 L443.5,566.4 L444.2,566.4 L444.9,566.4 L445.6,566.4 L446.3,566.4 L447.0,566.4 L447.7,566.4 L448.4,566.4 L449.1,566.4 L449.8,566.4 L450.5,566.4 L451.2,566.4 L451.9,566.4 L452.6,566.4 L453.3,566.4 L454.0,566.4 L454.7,566.4 L455.4,566.4 L456.1,566.4 L456.8,566.4 L457.5,566.4 L458.2,566.4 L458.9,566.4 L459.6,566.4 L460.3,566.4 L461.0,566.4 L461.7,566.4 L462.4,566.4 L463.1,566.4 L463.8,566.4 L464.5,566.4 L465.2,566.4 L465.9,566.4 L466.6,566.4 L467.3,566.4 L468.0,566.4 L468.7,566.4 L469.4,566.4 L470.1,566.4 L470.8,566.4 L471.5,566.4 L472.2,566.4 L472.9,566.4 L473.6,566.4 L474.3,566.4 L475.0,566.4 L475.7,566.4 L476.4,566.4 L477.1,566.4 L477.8,566.4 L478.5,566.4 L479.2,566.4 L479.9,566.4 L480.6,566.4 L481.3,566.4 L482.0,566.4 L482.7,566.4 L483.4,566.4 L484.1,566.4 L484.8,566.4 L485.5,566.4 L486.0,566.4 L486.00,566.40 Z" fill="#ffc6c6" stroke="none"/>
<path d="M379.8,566.4 L380.5,566.4 L381.2,566.4 L381.9,566.4 L382.6,566.4 L383.3,566.4 L384.0,566.4 L384.7,566.4 L385.4,566.4 L386.1,566.4 L386.8,566.4 L387.5,566.4 L388.2,566.4 L388.9,566.4 L389.6,566.4 L390.3,566.4 L391.0,566.3 L391.7,566.3 L392.4,566.3 L393.1,566.3 L393.8,566.3 L394.5,566.2 L395.2,566.2 L395.9,566.3 L396.6,566.2 L397.3,566.1 L398.0,565.9 L398.7,565.8 L399.4,565.7 L400.1,565.6 L400.8,565.4 L401.5,565.1 L402.2,564.8 L402.9,564.7 L403.6,564.6 L404.3,564.3 L405.0,563.7 L405.7,563.2 L406.4,562.7 L407.1,562.3 L407.8,561.9 L408.5,561.6 L409.2,560.9 L409.9,560.7 L410.6,559.7 L411.3,559.2 L412.0,558.5 L412.7,558.4 L413.4,558.0 L414.1,557.7 L414.8,556.9 L415.5,556.3 L416.2,555.3 L416.9,555.2 L417.6,554.7 L418.3,554.1 L419.0,552.8 L419.7,552.5 L420.4,552.5 L421.1,551.7 L421.8,551.4 L422.5,551.4 L423.2,551.6 L423.9,550.9 L424.6,550.2 L425.3,550.4 L426.0,549.4 L426.7,548.6 L427.4,547.6 L428.1,548.5 L428.8,549.0 L429.5,549.4 L430.2,549.1 L430.9,549.9 L431.6,552.1 L432.3,554.6 L433.0,556.5 L433.7,558.1 L434.4,560.2 L435.1,561.9 L435.8,563.4 L436.5,564.1 L437.2,564.8 L437.9,565.3 L438.6,565.8 L439.3,566.1 L440.0,566.4 L440.7,566.4 L441.4,566.4 L442.1,566.3 L442.8,566.4 L443.5,566.4 L444.2,566.4 L444.9,566.4 L445.6,566.4 L446.3,566.4 L447.0,566.4 L447.7,566.4 L448.4,566.4 L449.1,566.4 L449.8,566.4 L450.5,566.4 L451.2,566.4 L451.9,566.4 L452.6,566.4 L453.3,566.4 L454.0,566.4 L454.7,566.4 L455.4,566.4 L456.1,566.4 L456.8,566.4 L457.5,566.4 L458.2,566.4 L458.9,566.4 L459.6,566.4 L460.3,566.4 L461.0,566.4 L461.7,566.4 L462.4,566.4 L463.1,566.4 L463.8,566.4 L464.5,566.4 L465.2,566.4 L465.9,566.4 L466.6,566.4 L467.3,566.4 L468.0,566.4 L468.7,566.4 L469.4,566.4 L470.1,566.4 L470.8,566.4 L471.5,566.4 L472.2,566.4 L472.9,566.4 L473.6,566.4 L474.3,566.4 L475.0,566.4 L475.7,566.4 L476.4,566.4 L477.1,566.4 L477.8,566.4 L478.5,566.4 L479.2,566.4 L479.9,566.4 L480.6,566.4 L481.3,566.4 L482.0,566.4 L482.7,566.4 L483.4,566.4 L484.1,566.4 L484.8,566.4 L485.5,566.4 L486.0,566.4" fill="none" stroke="#ff2a2a" stroke-width="0.9"/>
<path d="M379.8,587.3 L380.5,587.3 L381.2,587.3 L381.9,587.3 L382.6,587.3 L383.3,587.3 L384.0,587.3 L384.7,587.3 L385.4,587.3 L386.1,587.3 L386.8,587.3 L387.5,587.3 L388.2,587.3 L388.9,587.3 L389.6,587.3 L390.3,587.3 L391.0,587.2 L391.7,587.2 L392.4,587.2 L393.1,587.1 L393.8,587.0 L394.5,587.0 L395.2,587.1 L395.9,587.1 L396.6,586.9 L397.3,586.9 L398.0,586.6 L398.7,586.4 L399.4,586.1 L400.1,585.9 L400.8,585.8 L401.5,585.9 L402.2,585.8 L402.9,585.5 L403.6,585.2 L404.3,585.1 L405.0,584.8 L405.7,584.1 L406.4,583.3 L407.1,583.0 L407.8,582.7 L408.5,582.5 L409.2,582.1 L409.9,581.7 L410.6,581.5 L411.3,581.2 L412.0,581.0 L412.7,580.0 L413.4,580.0 L414.1,580.0 L414.8,580.8 L415.5,580.1 L416.2,579.7 L416.9,579.1 L417.6,579.4 L418.3,579.2 L419.0,579.6 L419.7,579.6 L420.4,579.8 L421.1,579.0 L421.8,578.7 L422.5,578.5 L423.2,578.4 L423.9,577.5 L424.6,575.4 L425.3,573.2 L426.0,571.7 L426.7,569.9 L427.4,569.7 L428.1,568.7 L428.8,569.1 L429.5,568.5 L430.2,568.7 L430.9,569.5 L431.6,570.9 L432.3,573.4 L433.0,575.7 L433.7,577.9 L434.4,580.2 L435.1,581.9 L435.8,583.8 L436.5,584.6 L437.2,585.8 L437.9,586.3 L438.6,586.9 L439.3,587.0 L440.0,587.1 L440.7,587.2 L441.4,587.2 L442.1,587.2 L442.8,587.2 L443.5,587.3 L444.2,587.3 L444.9,587.3 L445.6,587.3 L446.3,587.3 L447.0,587.3 L447.7,587.3 L448.4,587.3 L449.1,587.3 L449.8,587.3 L450.5,587.3 L451.2,587.3 L451.9,587.3 L452.6,587.3 L453.3,587.3 L454.0,587.3 L454.7,587.3 L455.4,587.3 L456.1,587.3 L456.8,587.3 L457.5,587.3 L458.2,587.3 L458.9,587.3 L459.6,587.3 L460.3,587.3 L461.0,587.3 L461.7,587.3 L462.4,587.3 L463.1,587.3 L463.8,587.3 L464.5,587.3 L465.2,587.3 L465.9,587.3 L466.6,587.3 L467.3,587.3 L468.0,587.3 L468.7,587.3 L469.4,587.3 L470.1,587.3 L470.8,587.3 L471.5,587.3 L472.2,587.3 L472.9,587.3 L473.6,587.3 L474.3,587.3 L475.0,587.3 L475.7,587.3 L476.4,587.3 L477.1,587.3 L477.8,587.3 L478.5,587.3 L479.2,587.3 L479.9,587.3 L480.6,587.3 L481.3,587.3 L482.0,587.3 L482.7,587.3 L483.4,587.3 L484.1,587.3 L484.8,587.3 L485.5,587.3 L486.0,587.3" fill="none" stroke="#2a2a2a" stroke-width="0.9"/>
<path d="M379.80,608.30 L379.8,608.3 L380.5,608.3 L381.2,608.3 L381.9,608.3 L382.6,608.3 L383.3,608.3 L384.0,608.3 L384.7,608.3 L385.4,608.3 L386.1,608.3 L386.8,608.3 L387.5,608.3 L388.2,608.3 L388.9,608.3 L389.6,608.2 L390.3,608.2 L391.0,608.2 L391.7,608.2 L392.4,608.2 L393.1,608.3 L393.8,608.2 L394.5,608.2 L395.2,608.1 L395.9,607.9 L396.6,607.9 L397.3,607.9 L398.0,607.8 L398.7,607.6 L399.4,607.1 L400.1,606.9 L400.8,606.7 L401.5,606.8 L402.2,606.3 L402.9,606.1 L403.6,605.5 L404.3,605.4 L405.0,604.8 L405.7,604.1 L406.4,604.0 L407.1,603.8 L407.8,603.5 L408.5,603.1 L409.2,602.5 L409.9,601.7 L410.6,600.8 L411.3,600.2 L412.0,600.2 L412.7,599.9 L413.4,599.5 L414.1,599.3 L414.8,598.8 L415.5,599.0 L416.2,598.1 L416.9,598.4 L417.6,598.6 L418.3,599.5 L419.0,599.4 L419.7,599.0 L420.4,597.9 L421.1,597.5 L421.8,596.3 L422.5,596.2 L423.2,595.5 L423.9,595.6 L424.6,594.5 L425.3,594.0 L426.0,592.6 L426.7,592.5 L427.4,591.3 L428.1,590.4 L428.8,589.5 L429.5,590.1 L430.2,590.4 L430.9,591.2 L431.6,592.4 L432.3,594.5 L433.0,596.7 L433.7,599.2 L434.4,601.4 L435.1,603.8 L435.8,605.1 L436.5,606.1 L437.2,606.8 L437.9,607.2 L438.6,607.6 L439.3,608.0 L440.0,608.2 L440.7,608.2 L441.4,608.2 L442.1,608.2 L442.8,608.3 L443.5,608.3 L444.2,608.3 L444.9,608.3 L445.6,608.3 L446.3,608.3 L447.0,608.3 L447.7,608.3 L448.4,608.3 L449.1,608.3 L449.8,608.3 L450.5,608.3 L451.2,608.3 L451.9,608.3 L452.6,608.3 L453.3,608.3 L454.0,608.3 L454.7,608.3 L455.4,608.3 L456.1,608.3 L456.8,608.3 L457.5,608.3 L458.2,608.3 L458.9,608.3 L459.6,608.3 L460.3,608.3 L461.0,608.3 L461.7,608.3 L462.4,608.3 L463.1,608.3 L463.8,608.3 L464.5,608.3 L465.2,608.3 L465.9,608.3 L466.6,608.3 L467.3,608.3 L468.0,608.3 L468.7,608.3 L469.4,608.3 L470.1,608.3 L470.8,608.3 L471.5,608.3 L472.2,608.3 L472.9,608.3 L473.6,608.3 L474.3,608.3 L475.0,608.3 L475.7,608.3 L476.4,608.3 L477.1,608.3 L477.8,608.3 L478.5,608.3 L479.2,608.3 L479.9,608.3 L480.6,608.3 L481.3,608.3 L482.0,608.3 L482.7,608.3 L483.4,608.3 L484.1,608.3 L484.8,608.3 L485.5,608.3 L486.0,608.3 L486.00,608.30 Z" fill="#d3d8ee" stroke="none"/>
<path d="M379.8,608.3 L380.5,608.3 L381.2,608.3 L381.9,608.3 L382.6,608.3 L383.3,608.3 L384.0,608.3 L384.7,608.3 L385.4,608.3 L386.1,608.3 L386.8,608.3 L387.5,608.3 L388.2,608.3 L388.9,608.3 L389.6,608.2 L390.3,608.2 L391.0,608.2 L391.7,608.2 L392.4,608.2 L393.1,608.3 L393.8,608.2 L394.5,608.2 L395.2,608.1 L395.9,607.9 L396.6,607.9 L397.3,607.9 L398.0,607.8 L398.7,607.6 L399.4,607.1 L400.1,606.9 L400.8,606.7 L401.5,606.8 L402.2,606.3 L402.9,606.1 L403.6,605.5 L404.3,605.4 L405.0,604.8 L405.7,604.1 L406.4,604.0 L407.1,603.8 L407.8,603.5 L408.5,603.1 L409.2,602.5 L409.9,601.7 L410.6,600.8 L411.3,600.2 L412.0,600.2 L412.7,599.9 L413.4,599.5 L414.1,599.3 L414.8,598.8 L415.5,599.0 L416.2,598.1 L416.9,598.4 L417.6,598.6 L418.3,599.5 L419.0,599.4 L419.7,599.0 L420.4,597.9 L421.1,597.5 L421.8,596.3 L422.5,596.2 L423.2,595.5 L423.9,595.6 L424.6,594.5 L425.3,594.0 L426.0,592.6 L426.7,592.5 L427.4,591.3 L428.1,590.4 L428.8,589.5 L429.5,590.1 L430.2,590.4 L430.9,591.2 L431.6,592.4 L432.3,594.5 L433.0,596.7 L433.7,599.2 L434.4,601.4 L435.1,603.8 L435.8,605.1 L436.5,606.1 L437.2,606.8 L437.9,607.2 L438.6,607.6 L439.3,608.0 L440.0,608.2 L440.7,608.2 L441.4,608.2 L442.1,608.2 L442.8,608.3 L443.5,608.3 L444.2,608.3 L444.9,608.3 L445.6,608.3 L446.3,608.3 L447.0,608.3 L447.7,608.3 L448.4,608.3 L449.1,608.3 L449.8,608.3 L450.5,608.3 L451.2,608.3 L451.9,608.3 L452.6,608.3 L453.3,608.3 L454.0,608.3 L454.7,608.3 L455.4,608.3 L456.1,608.3 L456.8,608.3 L457.5,608.3 L458.2,608.3 L458.9,608.3 L459.6,608.3 L460.3,608.3 L461.0,608.3 L461.7,608.3 L462.4,608.3 L463.1,608.3 L463.8,608.3 L464.5,608.3 L465.2,608.3 L465.9,608.3 L466.6,608.3 L467.3,608.3 L468.0,608.3 L468.7,608.3 L469.4,608.3 L470.1,608.3 L470.8,608.3 L471.5,608.3 L472.2,608.3 L472.9,608.3 L473.6,608.3 L474.3,608.3 L475.0,608.3 L475.7,608.3 L476.4,608.3 L477.1,608.3 L477.8,608.3 L478.5,608.3 L479.2,608.3 L479.9,608.3 L480.6,608.3 L481.3,608.3 L482.0,608.3 L482.7,608.3 L483.4,608.3 L484.1,608.3 L484.8,608.3 L485.5,608.3 L486.0,608.3" fill="none" stroke="#4a5fc4" stroke-width="0.9"/>
<rect x="379.80" y="502.50" width="106.20" height="105.80" fill="none" stroke="#222" stroke-width="0.90"/>
<path d="M405.2 608.3v4.8M435.8 608.3v4.8M455.8 608.3v4.8M475.9 608.3v4.8M421.8 608.3v3.0M425.3 608.3v3.0M427.8 608.3v3.0M429.8 608.3v3.0M431.4 608.3v3.0M432.7 608.3v3.0M433.9 608.3v3.0M434.9 608.3v3.0M441.8 608.3v3.0M445.3 608.3v3.0M447.8 608.3v3.0M449.8 608.3v3.0M451.4 608.3v3.0M452.7 608.3v3.0M453.9 608.3v3.0M454.9 608.3v3.0M461.9 608.3v3.0M465.4 608.3v3.0M467.9 608.3v3.0M469.8 608.3v3.0M471.4 608.3v3.0M472.8 608.3v3.0M474.0 608.3v3.0M475.0 608.3v3.0M481.9 608.3v3.0M485.4 608.3v3.0" stroke="#111" stroke-width="0.85" fill="none"/>
<path d="M396.8 608.3v3.6M398.0 608.3v4.8M399.2 608.3v3.6M400.4 608.3v4.8M401.6 608.3v4.8M402.8 608.3v3.6M404.0 608.3v4.8M405.2 608.3v4.8M406.4 608.3v4.8M407.6 608.3v3.6M408.8 608.3v4.8M410.0 608.3v4.8M411.2 608.3v3.6M412.4 608.3v4.8M413.6 608.3v3.6" stroke="#000" stroke-width="1.0" fill="none"/>
<path d="M393.2 608.3v3.0M387.7 608.3v3.0M382.2 608.3v3.0" stroke="#111" stroke-width="0.85" fill="none"/>
<text x="405.2" y="622.1" font-size="8.00" text-anchor="middle" fill="#111" stroke="#111" stroke-width="0.22">0</text>
<text x="435.8" y="622.1" font-size="8.00" text-anchor="middle" fill="#111" stroke="#111" stroke-width="0.22">10<tspan dy="-3.04" font-size="5.60">4</tspan></text>
<text x="455.8" y="622.1" font-size="8.00" text-anchor="middle" fill="#111" stroke="#111" stroke-width="0.22">10<tspan dy="-3.04" font-size="5.60">5</tspan></text>
<text x="475.9" y="622.1" font-size="8.00" text-anchor="middle" fill="#111" stroke="#111" stroke-width="0.22">10<tspan dy="-3.04" font-size="5.60">6</tspan></text>
<path d="M491.30,524.40 L491.3,524.4 L492.0,524.4 L492.7,524.4 L493.4,524.4 L494.1,524.4 L494.8,524.4 L495.5,524.4 L496.2,524.4 L496.9,524.4 L497.6,524.4 L498.3,524.4 L499.0,524.3 L499.7,524.3 L500.4,524.2 L501.1,524.1 L501.8,523.9 L502.5,523.6 L503.2,523.3 L503.9,522.8 L504.6,522.1 L505.3,521.2 L506.0,520.1 L506.7,518.8 L507.4,517.3 L508.1,515.6 L508.8,513.8 L509.5,511.9 L510.2,510.1 L510.9,508.5 L511.6,507.2 L512.3,506.2 L513.0,505.7 L513.7,505.6 L514.4,506.0 L515.1,506.8 L515.8,508.0 L516.5,509.5 L517.2,511.1 L517.9,512.8 L518.6,514.6 L519.3,516.2 L520.0,517.7 L520.7,519.1 L521.4,520.2 L522.1,521.2 L522.8,521.9 L523.5,522.5 L524.2,522.9 L524.9,523.2 L525.6,523.4 L526.3,523.6 L527.0,523.7 L527.7,523.7 L528.4,523.8 L529.1,523.8 L529.8,523.8 L530.5,523.8 L531.2,523.8 L531.9,523.8 L532.6,523.9 L533.3,523.9 L534.0,523.9 L534.7,523.9 L535.4,524.0 L536.1,524.0 L536.8,524.0 L537.5,524.0 L538.2,524.1 L538.9,524.1 L539.6,524.1 L540.3,524.2 L541.0,524.2 L541.7,524.2 L542.4,524.2 L543.1,524.3 L543.8,524.3 L544.5,524.3 L545.2,524.3 L545.9,524.3 L546.6,524.3 L547.3,524.3 L548.0,524.4 L548.7,524.4 L549.4,524.4 L550.1,524.4 L550.8,524.4 L551.5,524.4 L552.2,524.4 L552.9,524.4 L553.6,524.4 L554.3,524.4 L555.0,524.4 L555.7,524.4 L556.4,524.4 L557.1,524.4 L557.8,524.4 L558.5,524.4 L559.2,524.4 L559.9,524.4 L560.6,524.4 L561.3,524.4 L562.0,524.4 L562.7,524.4 L563.4,524.4 L564.1,524.4 L564.8,524.4 L565.5,524.4 L566.2,524.4 L566.9,524.4 L567.6,524.4 L568.3,524.4 L569.0,524.4 L569.7,524.4 L570.4,524.4 L571.1,524.4 L571.8,524.4 L572.5,524.4 L573.2,524.4 L573.9,524.4 L574.6,524.4 L575.3,524.4 L576.0,524.4 L576.7,524.4 L577.4,524.4 L578.1,524.4 L578.8,524.4 L579.5,524.4 L580.2,524.4 L580.9,524.4 L581.6,524.4 L582.3,524.4 L583.0,524.4 L583.7,524.4 L584.4,524.4 L585.1,524.4 L585.8,524.4 L586.5,524.4 L587.2,524.4 L587.9,524.4 L588.6,524.4 L589.3,524.4 L590.0,524.4 L590.7,524.4 L591.4,524.4 L592.1,524.4 L592.8,524.4 L593.5,524.4 L594.2,524.4 L594.9,524.4 L595.6,524.4 L596.3,524.4 L597.0,524.4 L597.3,524.4 L597.30,524.40 Z" fill="#c9e4e2" stroke="none"/>
<path d="M491.3,524.4 L492.0,524.4 L492.7,524.4 L493.4,524.4 L494.1,524.4 L494.8,524.4 L495.5,524.4 L496.2,524.4 L496.9,524.4 L497.6,524.4 L498.3,524.4 L499.0,524.3 L499.7,524.3 L500.4,524.2 L501.1,524.1 L501.8,523.9 L502.5,523.6 L503.2,523.3 L503.9,522.8 L504.6,522.1 L505.3,521.2 L506.0,520.1 L506.7,518.8 L507.4,517.3 L508.1,515.6 L508.8,513.8 L509.5,511.9 L510.2,510.1 L510.9,508.5 L511.6,507.2 L512.3,506.2 L513.0,505.7 L513.7,505.6 L514.4,506.0 L515.1,506.8 L515.8,508.0 L516.5,509.5 L517.2,511.1 L517.9,512.8 L518.6,514.6 L519.3,516.2 L520.0,517.7 L520.7,519.1 L521.4,520.2 L522.1,521.2 L522.8,521.9 L523.5,522.5 L524.2,522.9 L524.9,523.2 L525.6,523.4 L526.3,523.6 L527.0,523.7 L527.7,523.7 L528.4,523.8 L529.1,523.8 L529.8,523.8 L530.5,523.8 L531.2,523.8 L531.9,523.8 L532.6,523.9 L533.3,523.9 L534.0,523.9 L534.7,523.9 L535.4,524.0 L536.1,524.0 L536.8,524.0 L537.5,524.0 L538.2,524.1 L538.9,524.1 L539.6,524.1 L540.3,524.2 L541.0,524.2 L541.7,524.2 L542.4,524.2 L543.1,524.3 L543.8,524.3 L544.5,524.3 L545.2,524.3 L545.9,524.3 L546.6,524.3 L547.3,524.3 L548.0,524.4 L548.7,524.4 L549.4,524.4 L550.1,524.4 L550.8,524.4 L551.5,524.4 L552.2,524.4 L552.9,524.4 L553.6,524.4 L554.3,524.4 L555.0,524.4 L555.7,524.4 L556.4,524.4 L557.1,524.4 L557.8,524.4 L558.5,524.4 L559.2,524.4 L559.9,524.4 L560.6,524.4 L561.3,524.4 L562.0,524.4 L562.7,524.4 L563.4,524.4 L564.1,524.4 L564.8,524.4 L565.5,524.4 L566.2,524.4 L566.9,524.4 L567.6,524.4 L568.3,524.4 L569.0,524.4 L569.7,524.4 L570.4,524.4 L571.1,524.4 L571.8,524.4 L572.5,524.4 L573.2,524.4 L573.9,524.4 L574.6,524.4 L575.3,524.4 L576.0,524.4 L576.7,524.4 L577.4,524.4 L578.1,524.4 L578.8,524.4 L579.5,524.4 L580.2,524.4 L580.9,524.4 L581.6,524.4 L582.3,524.4 L583.0,524.4 L583.7,524.4 L584.4,524.4 L585.1,524.4 L585.8,524.4 L586.5,524.4 L587.2,524.4 L587.9,524.4 L588.6,524.4 L589.3,524.4 L590.0,524.4 L590.7,524.4 L591.4,524.4 L592.1,524.4 L592.8,524.4 L593.5,524.4 L594.2,524.4 L594.9,524.4 L595.6,524.4 L596.3,524.4 L597.0,524.4 L597.3,524.4" fill="none" stroke="#2e9a96" stroke-width="0.9"/>
<path d="M491.30,545.30 L491.3,545.3 L492.0,545.3 L492.7,545.3 L493.4,545.3 L494.1,545.3 L494.8,545.3 L495.5,545.3 L496.2,545.2 L496.9,545.1 L497.6,545.2 L498.3,545.2 L499.0,545.2 L499.7,545.1 L500.4,545.1 L501.1,544.9 L501.8,544.6 L502.5,544.2 L503.2,544.1 L503.9,544.1 L504.6,543.9 L505.3,543.3 L506.0,542.8 L506.7,542.1 L507.4,541.3 L508.1,540.0 L508.8,539.4 L509.5,538.1 L510.2,537.3 L510.9,536.4 L511.6,535.5 L512.3,534.6 L513.0,532.4 L513.7,530.9 L514.4,529.9 L515.1,529.3 L515.8,528.3 L516.5,527.1 L517.2,526.5 L517.9,526.9 L518.6,526.7 L519.3,527.2 L520.0,527.1 L520.7,528.1 L521.4,529.2 L522.1,530.1 L522.8,530.9 L523.5,531.3 L524.2,532.7 L524.9,534.1 L525.6,535.1 L526.3,535.9 L527.0,536.3 L527.7,537.6 L528.4,538.6 L529.1,539.3 L529.8,540.3 L530.5,540.4 L531.2,541.0 L531.9,541.1 L532.6,541.8 L533.3,542.1 L534.0,542.4 L534.7,542.6 L535.4,543.0 L536.1,543.2 L536.8,543.3 L537.5,543.2 L538.2,542.9 L538.9,542.8 L539.6,542.8 L540.3,542.8 L541.0,543.0 L541.7,543.0 L542.4,542.7 L543.1,542.7 L543.8,543.1 L544.5,543.4 L545.2,543.2 L545.9,542.9 L546.6,542.9 L547.3,543.2 L548.0,543.4 L548.7,543.6 L549.4,543.3 L550.1,543.5 L550.8,543.6 L551.5,543.9 L552.2,543.9 L552.9,544.0 L553.6,544.0 L554.3,544.3 L555.0,544.3 L555.7,544.3 L556.4,544.2 L557.1,544.7 L557.8,544.8 L558.5,544.9 L559.2,544.7 L559.9,544.5 L560.6,544.4 L561.3,544.4 L562.0,544.6 L562.7,544.4 L563.4,544.5 L564.1,544.6 L564.8,544.9 L565.5,544.8 L566.2,544.8 L566.9,544.8 L567.6,544.9 L568.3,545.0 L569.0,545.1 L569.7,545.1 L570.4,545.1 L571.1,545.0 L571.8,545.1 L572.5,545.3 L573.2,545.2 L573.9,545.2 L574.6,545.2 L575.3,545.3 L576.0,545.2 L576.7,545.2 L577.4,545.2 L578.1,545.2 L578.8,545.2 L579.5,545.2 L580.2,545.2 L580.9,545.3 L581.6,545.3 L582.3,545.3 L583.0,545.3 L583.7,545.3 L584.4,545.3 L585.1,545.3 L585.8,545.3 L586.5,545.3 L587.2,545.3 L587.9,545.3 L588.6,545.3 L589.3,545.3 L590.0,545.3 L590.7,545.3 L591.4,545.3 L592.1,545.3 L592.8,545.3 L593.5,545.3 L594.2,545.3 L594.9,545.3 L595.6,545.3 L596.3,545.3 L597.0,545.3 L597.3,545.3 L597.30,545.30 Z" fill="#efefef" stroke="none"/>
<path d="M491.3,545.3 L492.0,545.3 L492.7,545.3 L493.4,545.3 L494.1,545.3 L494.8,545.3 L495.5,545.3 L496.2,545.2 L496.9,545.1 L497.6,545.2 L498.3,545.2 L499.0,545.2 L499.7,545.1 L500.4,545.1 L501.1,544.9 L501.8,544.6 L502.5,544.2 L503.2,544.1 L503.9,544.1 L504.6,543.9 L505.3,543.3 L506.0,542.8 L506.7,542.1 L507.4,541.3 L508.1,540.0 L508.8,539.4 L509.5,538.1 L510.2,537.3 L510.9,536.4 L511.6,535.5 L512.3,534.6 L513.0,532.4 L513.7,530.9 L514.4,529.9 L515.1,529.3 L515.8,528.3 L516.5,527.1 L517.2,526.5 L517.9,526.9 L518.6,526.7 L519.3,527.2 L520.0,527.1 L520.7,528.1 L521.4,529.2 L522.1,530.1 L522.8,530.9 L523.5,531.3 L524.2,532.7 L524.9,534.1 L525.6,535.1 L526.3,535.9 L527.0,536.3 L527.7,537.6 L528.4,538.6 L529.1,539.3 L529.8,540.3 L530.5,540.4 L531.2,541.0 L531.9,541.1 L532.6,541.8 L533.3,542.1 L534.0,542.4 L534.7,542.6 L535.4,543.0 L536.1,543.2 L536.8,543.3 L537.5,543.2 L538.2,542.9 L538.9,542.8 L539.6,542.8 L540.3,542.8 L541.0,543.0 L541.7,543.0 L542.4,542.7 L543.1,542.7 L543.8,543.1 L544.5,543.4 L545.2,543.2 L545.9,542.9 L546.6,542.9 L547.3,543.2 L548.0,543.4 L548.7,543.6 L549.4,543.3 L550.1,543.5 L550.8,543.6 L551.5,543.9 L552.2,543.9 L552.9,544.0 L553.6,544.0 L554.3,544.3 L555.0,544.3 L555.7,544.3 L556.4,544.2 L557.1,544.7 L557.8,544.8 L558.5,544.9 L559.2,544.7 L559.9,544.5 L560.6,544.4 L561.3,544.4 L562.0,544.6 L562.7,544.4 L563.4,544.5 L564.1,544.6 L564.8,544.9 L565.5,544.8 L566.2,544.8 L566.9,544.8 L567.6,544.9 L568.3,545.0 L569.0,545.1 L569.7,545.1 L570.4,545.1 L571.1,545.0 L571.8,545.1 L572.5,545.3 L573.2,545.2 L573.9,545.2 L574.6,545.2 L575.3,545.3 L576.0,545.2 L576.7,545.2 L577.4,545.2 L578.1,545.2 L578.8,545.2 L579.5,545.2 L580.2,545.2 L580.9,545.3 L581.6,545.3 L582.3,545.3 L583.0,545.3 L583.7,545.3 L584.4,545.3 L585.1,545.3 L585.8,545.3 L586.5,545.3 L587.2,545.3 L587.9,545.3 L588.6,545.3 L589.3,545.3 L590.0,545.3 L590.7,545.3 L591.4,545.3 L592.1,545.3 L592.8,545.3 L593.5,545.3 L594.2,545.3 L594.9,545.3 L595.6,545.3 L596.3,545.3 L597.0,545.3 L597.3,545.3" fill="none" stroke="#c8c8c8" stroke-width="0.9"/>
<path d="M491.30,566.40 L491.3,566.4 L492.0,566.4 L492.7,566.4 L493.4,566.4 L494.1,566.4 L494.8,566.4 L495.5,566.3 L496.2,566.4 L496.9,566.3 L497.6,566.3 L498.3,566.3 L499.0,566.2 L499.7,566.2 L500.4,566.3 L501.1,566.2 L501.8,566.0 L502.5,565.6 L503.2,565.5 L503.9,565.2 L504.6,565.1 L505.3,564.6 L506.0,564.0 L506.7,563.3 L507.4,562.0 L508.1,561.6 L508.8,560.1 L509.5,559.7 L510.2,558.2 L510.9,556.8 L511.6,554.9 L512.3,552.7 L513.0,551.8 L513.7,550.9 L514.4,550.1 L515.1,548.9 L515.8,548.1 L516.5,547.6 L517.2,547.9 L517.9,547.6 L518.6,548.3 L519.3,549.5 L520.0,551.6 L520.7,552.0 L521.4,552.2 L522.1,552.0 L522.8,553.6 L523.5,555.3 L524.2,557.3 L524.9,558.0 L525.6,558.9 L526.3,559.2 L527.0,560.3 L527.7,561.0 L528.4,562.3 L529.1,562.9 L529.8,563.1 L530.5,563.2 L531.2,563.3 L531.9,563.9 L532.6,563.8 L533.3,563.6 L534.0,563.2 L534.7,563.4 L535.4,564.1 L536.1,564.3 L536.8,564.5 L537.5,564.3 L538.2,564.5 L538.9,564.5 L539.6,564.4 L540.3,564.1 L541.0,563.9 L541.7,563.9 L542.4,564.1 L543.1,564.4 L543.8,564.5 L544.5,564.4 L545.2,564.2 L545.9,564.4 L546.6,564.3 L547.3,564.3 L548.0,564.1 L548.7,564.4 L549.4,564.4 L550.1,564.6 L550.8,564.8 L551.5,564.9 L552.2,565.2 L552.9,565.2 L553.6,565.2 L554.3,565.0 L555.0,565.1 L555.7,565.4 L556.4,565.6 L557.1,565.8 L557.8,565.7 L558.5,565.5 L559.2,565.3 L559.9,565.4 L560.6,565.7 L561.3,565.7 L562.0,565.7 L562.7,565.8 L563.4,565.9 L564.1,566.0 L564.8,566.0 L565.5,566.2 L566.2,566.2 L566.9,566.1 L567.6,566.0 L568.3,566.0 L569.0,566.0 L569.7,566.1 L570.4,566.1 L571.1,566.2 L571.8,566.2 L572.5,566.2 L573.2,566.2 L573.9,566.3 L574.6,566.3 L575.3,566.3 L576.0,566.3 L576.7,566.4 L577.4,566.4 L578.1,566.3 L578.8,566.3 L579.5,566.3 L580.2,566.4 L580.9,566.4 L581.6,566.3 L582.3,566.3 L583.0,566.3 L583.7,566.3 L584.4,566.4 L585.1,566.4 L585.8,566.4 L586.5,566.4 L587.2,566.4 L587.9,566.4 L588.6,566.4 L589.3,566.4 L590.0,566.4 L590.7,566.4 L591.4,566.4 L592.1,566.4 L592.8,566.4 L593.5,566.4 L594.2,566.4 L594.9,566.4 L595.6,566.4 L596.3,566.4 L597.0,566.4 L597.3,566.4 L597.30,566.40 Z" fill="#ffc6c6" stroke="none"/>
<path d="M491.3,566.4 L492.0,566.4 L492.7,566.4 L493.4,566.4 L494.1,566.4 L494.8,566.4 L495.5,566.3 L496.2,566.4 L496.9,566.3 L497.6,566.3 L498.3,566.3 L499.0,566.2 L499.7,566.2 L500.4,566.3 L501.1,566.2 L501.8,566.0 L502.5,565.6 L503.2,565.5 L503.9,565.2 L504.6,565.1 L505.3,564.6 L506.0,564.0 L506.7,563.3 L507.4,562.0 L508.1,561.6 L508.8,560.1 L509.5,559.7 L510.2,558.2 L510.9,556.8 L511.6,554.9 L512.3,552.7 L513.0,551.8 L513.7,550.9 L514.4,550.1 L515.1,548.9 L515.8,548.1 L516.5,547.6 L517.2,547.9 L517.9,547.6 L518.6,548.3 L519.3,549.5 L520.0,551.6 L520.7,552.0 L521.4,552.2 L522.1,552.0 L522.8,553.6 L523.5,555.3 L524.2,557.3 L524.9,558.0 L525.6,558.9 L526.3,559.2 L527.0,560.3 L527.7,561.0 L528.4,562.3 L529.1,562.9 L529.8,563.1 L530.5,563.2 L531.2,563.3 L531.9,563.9 L532.6,563.8 L533.3,563.6 L534.0,563.2 L534.7,563.4 L535.4,564.1 L536.1,564.3 L536.8,564.5 L537.5,564.3 L538.2,564.5 L538.9,564.5 L539.6,564.4 L540.3,564.1 L541.0,563.9 L541.7,563.9 L542.4,564.1 L543.1,564.4 L543.8,564.5 L544.5,564.4 L545.2,564.2 L545.9,564.4 L546.6,564.3 L547.3,564.3 L548.0,564.1 L548.7,564.4 L549.4,564.4 L550.1,564.6 L550.8,564.8 L551.5,564.9 L552.2,565.2 L552.9,565.2 L553.6,565.2 L554.3,565.0 L555.0,565.1 L555.7,565.4 L556.4,565.6 L557.1,565.8 L557.8,565.7 L558.5,565.5 L559.2,565.3 L559.9,565.4 L560.6,565.7 L561.3,565.7 L562.0,565.7 L562.7,565.8 L563.4,565.9 L564.1,566.0 L564.8,566.0 L565.5,566.2 L566.2,566.2 L566.9,566.1 L567.6,566.0 L568.3,566.0 L569.0,566.0 L569.7,566.1 L570.4,566.1 L571.1,566.2 L571.8,566.2 L572.5,566.2 L573.2,566.2 L573.9,566.3 L574.6,566.3 L575.3,566.3 L576.0,566.3 L576.7,566.4 L577.4,566.4 L578.1,566.3 L578.8,566.3 L579.5,566.3 L580.2,566.4 L580.9,566.4 L581.6,566.3 L582.3,566.3 L583.0,566.3 L583.7,566.3 L584.4,566.4 L585.1,566.4 L585.8,566.4 L586.5,566.4 L587.2,566.4 L587.9,566.4 L588.6,566.4 L589.3,566.4 L590.0,566.4 L590.7,566.4 L591.4,566.4 L592.1,566.4 L592.8,566.4 L593.5,566.4 L594.2,566.4 L594.9,566.4 L595.6,566.4 L596.3,566.4 L597.0,566.4 L597.3,566.4" fill="none" stroke="#ff2a2a" stroke-width="0.9"/>
<path d="M491.3,587.3 L492.0,587.3 L492.7,587.3 L493.4,587.3 L494.1,587.3 L494.8,587.3 L495.5,587.3 L496.2,587.3 L496.9,587.3 L497.6,587.2 L498.3,587.2 L499.0,587.2 L499.7,587.1 L500.4,587.1 L501.1,587.0 L501.8,586.9 L502.5,586.7 L503.2,586.5 L503.9,586.2 L504.6,585.9 L505.3,585.4 L506.0,584.9 L506.7,584.2 L507.4,583.4 L508.1,582.5 L508.8,581.4 L509.5,580.2 L510.2,579.0 L510.9,577.6 L511.6,576.2 L512.3,574.7 L513.0,573.3 L513.7,572.0 L514.4,570.9 L515.1,569.9 L515.8,569.2 L516.5,568.7 L517.2,568.5 L517.9,568.6 L518.6,568.9 L519.3,569.4 L520.0,570.2 L520.7,571.1 L521.4,572.2 L522.1,573.3 L522.8,574.5 L523.5,575.8 L524.2,577.0 L524.9,578.2 L525.6,579.2 L526.3,580.3 L527.0,581.2 L527.7,582.0 L528.4,582.7 L529.1,583.2 L529.8,583.7 L530.5,584.1 L531.2,584.4 L531.9,584.6 L532.6,584.8 L533.3,585.0 L534.0,585.0 L534.7,585.1 L535.4,585.1 L536.1,585.1 L536.8,585.2 L537.5,585.1 L538.2,585.1 L538.9,585.1 L539.6,585.1 L540.3,585.1 L541.0,585.1 L541.7,585.1 L542.4,585.1 L543.1,585.1 L543.8,585.1 L544.5,585.1 L545.2,585.2 L545.9,585.2 L546.6,585.2 L547.3,585.2 L548.0,585.3 L548.7,585.3 L549.4,585.4 L550.1,585.4 L550.8,585.5 L551.5,585.5 L552.2,585.6 L552.9,585.6 L553.6,585.7 L554.3,585.7 L555.0,585.8 L555.7,585.9 L556.4,585.9 L557.1,586.0 L557.8,586.0 L558.5,586.1 L559.2,586.2 L559.9,586.2 L560.6,586.3 L561.3,586.3 L562.0,586.4 L562.7,586.5 L563.4,586.5 L564.1,586.6 L564.8,586.6 L565.5,586.7 L566.2,586.7 L566.9,586.7 L567.6,586.8 L568.3,586.8 L569.0,586.9 L569.7,586.9 L570.4,586.9 L571.1,587.0 L571.8,587.0 L572.5,587.0 L573.2,587.0 L573.9,587.1 L574.6,587.1 L575.3,587.1 L576.0,587.1 L576.7,587.1 L577.4,587.2 L578.1,587.2 L578.8,587.2 L579.5,587.2 L580.2,587.2 L580.9,587.2 L581.6,587.2 L582.3,587.2 L583.0,587.2 L583.7,587.3 L584.4,587.3 L585.1,587.3 L585.8,587.3 L586.5,587.3 L587.2,587.3 L587.9,587.3 L588.6,587.3 L589.3,587.3 L590.0,587.3 L590.7,587.3 L591.4,587.3 L592.1,587.3 L592.8,587.3 L593.5,587.3 L594.2,587.3 L594.9,587.3 L595.6,587.3 L596.3,587.3 L597.0,587.3 L597.3,587.3" fill="none" stroke="#2a2a2a" stroke-width="0.9"/>
<path d="M491.30,608.30 L491.3,608.3 L492.0,608.3 L492.7,608.3 L493.4,608.3 L494.1,608.3 L494.8,608.3 L495.5,608.3 L496.2,608.3 L496.9,608.3 L497.6,608.3 L498.3,608.3 L499.0,608.2 L499.7,608.2 L500.4,608.2 L501.1,608.1 L501.8,608.0 L502.5,607.9 L503.2,607.7 L503.9,607.5 L504.6,607.2 L505.3,606.8 L506.0,606.3 L506.7,605.7 L507.4,604.9 L508.1,604.0 L508.8,603.0 L509.5,601.8 L510.2,600.5 L510.9,599.1 L511.6,597.6 L512.3,596.1 L513.0,594.6 L513.7,593.2 L514.4,592.0 L515.1,591.0 L515.8,590.2 L516.5,589.7 L517.2,589.5 L517.9,589.6 L518.6,590.0 L519.3,590.7 L520.0,591.6 L520.7,592.7 L521.4,594.0 L522.1,595.3 L522.8,596.7 L523.5,598.1 L524.2,599.4 L524.9,600.6 L525.6,601.8 L526.3,602.8 L527.0,603.7 L527.7,604.4 L528.4,605.0 L529.1,605.5 L529.8,605.9 L530.5,606.2 L531.2,606.5 L531.9,606.6 L532.6,606.8 L533.3,606.8 L534.0,606.9 L534.7,606.9 L535.4,607.0 L536.1,607.0 L536.8,607.0 L537.5,607.0 L538.2,607.0 L538.9,607.0 L539.6,607.0 L540.3,607.0 L541.0,607.0 L541.7,607.1 L542.4,607.1 L543.1,607.1 L543.8,607.1 L544.5,607.2 L545.2,607.2 L545.9,607.3 L546.6,607.3 L547.3,607.3 L548.0,607.4 L548.7,607.4 L549.4,607.5 L550.1,607.5 L550.8,607.6 L551.5,607.6 L552.2,607.7 L552.9,607.7 L553.6,607.7 L554.3,607.8 L555.0,607.8 L555.7,607.9 L556.4,607.9 L557.1,607.9 L557.8,608.0 L558.5,608.0 L559.2,608.0 L559.9,608.1 L560.6,608.1 L561.3,608.1 L562.0,608.1 L562.7,608.1 L563.4,608.2 L564.1,608.2 L564.8,608.2 L565.5,608.2 L566.2,608.2 L566.9,608.2 L567.6,608.2 L568.3,608.2 L569.0,608.3 L569.7,608.3 L570.4,608.3 L571.1,608.3 L571.8,608.3 L572.5,608.3 L573.2,608.3 L573.9,608.3 L574.6,608.3 L575.3,608.3 L576.0,608.3 L576.7,608.3 L577.4,608.3 L578.1,608.3 L578.8,608.3 L579.5,608.3 L580.2,608.3 L580.9,608.3 L581.6,608.3 L582.3,608.3 L583.0,608.3 L583.7,608.3 L584.4,608.3 L585.1,608.3 L585.8,608.3 L586.5,608.3 L587.2,608.3 L587.9,608.3 L588.6,608.3 L589.3,608.3 L590.0,608.3 L590.7,608.3 L591.4,608.3 L592.1,608.3 L592.8,608.3 L593.5,608.3 L594.2,608.3 L594.9,608.3 L595.6,608.3 L596.3,608.3 L597.0,608.3 L597.3,608.3 L597.30,608.30 Z" fill="#d3d8ee" stroke="none"/>
<path d="M491.3,608.3 L492.0,608.3 L492.7,608.3 L493.4,608.3 L494.1,608.3 L494.8,608.3 L495.5,608.3 L496.2,608.3 L496.9,608.3 L497.6,608.3 L498.3,608.3 L499.0,608.2 L499.7,608.2 L500.4,608.2 L501.1,608.1 L501.8,608.0 L502.5,607.9 L503.2,607.7 L503.9,607.5 L504.6,607.2 L505.3,606.8 L506.0,606.3 L506.7,605.7 L507.4,604.9 L508.1,604.0 L508.8,603.0 L509.5,601.8 L510.2,600.5 L510.9,599.1 L511.6,597.6 L512.3,596.1 L513.0,594.6 L513.7,593.2 L514.4,592.0 L515.1,591.0 L515.8,590.2 L516.5,589.7 L517.2,589.5 L517.9,589.6 L518.6,590.0 L519.3,590.7 L520.0,591.6 L520.7,592.7 L521.4,594.0 L522.1,595.3 L522.8,596.7 L523.5,598.1 L524.2,599.4 L524.9,600.6 L525.6,601.8 L526.3,602.8 L527.0,603.7 L527.7,604.4 L528.4,605.0 L529.1,605.5 L529.8,605.9 L530.5,606.2 L531.2,606.5 L531.9,606.6 L532.6,606.8 L533.3,606.8 L534.0,606.9 L534.7,606.9 L535.4,607.0 L536.1,607.0 L536.8,607.0 L537.5,607.0 L538.2,607.0 L538.9,607.0 L539.6,607.0 L540.3,607.0 L541.0,607.0 L541.7,607.1 L542.4,607.1 L543.1,607.1 L543.8,607.1 L544.5,607.2 L545.2,607.2 L545.9,607.3 L546.6,607.3 L547.3,607.3 L548.0,607.4 L548.7,607.4 L549.4,607.5 L550.1,607.5 L550.8,607.6 L551.5,607.6 L552.2,607.7 L552.9,607.7 L553.6,607.7 L554.3,607.8 L555.0,607.8 L555.7,607.9 L556.4,607.9 L557.1,607.9 L557.8,608.0 L558.5,608.0 L559.2,608.0 L559.9,608.1 L560.6,608.1 L561.3,608.1 L562.0,608.1 L562.7,608.1 L563.4,608.2 L564.1,608.2 L564.8,608.2 L565.5,608.2 L566.2,608.2 L566.9,608.2 L567.6,608.2 L568.3,608.2 L569.0,608.3 L569.7,608.3 L570.4,608.3 L571.1,608.3 L571.8,608.3 L572.5,608.3 L573.2,608.3 L573.9,608.3 L574.6,608.3 L575.3,608.3 L576.0,608.3 L576.7,608.3 L577.4,608.3 L578.1,608.3 L578.8,608.3 L579.5,608.3 L580.2,608.3 L580.9,608.3 L581.6,608.3 L582.3,608.3 L583.0,608.3 L583.7,608.3 L584.4,608.3 L585.1,608.3 L585.8,608.3 L586.5,608.3 L587.2,608.3 L587.9,608.3 L588.6,608.3 L589.3,608.3 L590.0,608.3 L590.7,608.3 L591.4,608.3 L592.1,608.3 L592.8,608.3 L593.5,608.3 L594.2,608.3 L594.9,608.3 L595.6,608.3 L596.3,608.3 L597.0,608.3 L597.3,608.3" fill="none" stroke="#4a5fc4" stroke-width="0.9"/>
<rect x="491.30" y="502.50" width="106.00" height="105.80" fill="none" stroke="#222" stroke-width="0.90"/>
<path d="M516.8 608.3v4.8M547.4 608.3v4.8M566.9 608.3v4.8M587.3 608.3v4.8M533.8 608.3v3.0M537.2 608.3v3.0M539.6 608.3v3.0M541.5 608.3v3.0M543.1 608.3v3.0M544.4 608.3v3.0M545.5 608.3v3.0M546.5 608.3v3.0M553.3 608.3v3.0M556.7 608.3v3.0M559.1 608.3v3.0M561.0 608.3v3.0M562.6 608.3v3.0M563.9 608.3v3.0M565.0 608.3v3.0M566.0 608.3v3.0M573.0 608.3v3.0M576.6 608.3v3.0M579.2 608.3v3.0M581.2 608.3v3.0M582.8 608.3v3.0M584.1 608.3v3.0M585.3 608.3v3.0M586.4 608.3v3.0M593.2 608.3v3.0M596.6 608.3v3.0" stroke="#111" stroke-width="0.85" fill="none"/>
<path d="M508.4 608.3v3.6M509.6 608.3v4.8M510.8 608.3v3.6M512.0 608.3v4.8M513.2 608.3v4.8M514.4 608.3v3.6M515.6 608.3v4.8M516.8 608.3v4.8M518.0 608.3v4.8M519.2 608.3v3.6M520.4 608.3v4.8M521.6 608.3v4.8M522.8 608.3v3.6M524.0 608.3v4.8M525.2 608.3v3.6" stroke="#000" stroke-width="1.0" fill="none"/>
<path d="M504.8 608.3v3.0M499.3 608.3v3.0M493.8 608.3v3.0" stroke="#111" stroke-width="0.85" fill="none"/>
<text x="516.8" y="622.1" font-size="8.00" text-anchor="middle" fill="#111" stroke="#111" stroke-width="0.22">0</text>
<text x="547.4" y="622.1" font-size="8.00" text-anchor="middle" fill="#111" stroke="#111" stroke-width="0.22">10<tspan dy="-3.04" font-size="5.60">4</tspan></text>
<text x="566.9" y="622.1" font-size="8.00" text-anchor="middle" fill="#111" stroke="#111" stroke-width="0.22">10<tspan dy="-3.04" font-size="5.60">5</tspan></text>
<text x="587.3" y="622.1" font-size="8.00" text-anchor="middle" fill="#111" stroke="#111" stroke-width="0.22">10<tspan dy="-3.04" font-size="5.60">6</tspan></text>
<text x="146.9" y="521.9" font-size="9.70" text-anchor="end" fill="#111" stroke="#111" stroke-width="0.22" letter-spacing="-0.4">2101</text>
<text x="147.4" y="542.8" font-size="9.70" text-anchor="end" fill="#111" stroke="#111" stroke-width="0.22" letter-spacing="-0.4">3188</text>
<text x="148.0" y="563.9" font-size="9.70" text-anchor="end" fill="#111" stroke="#111" stroke-width="0.22" letter-spacing="-0.4">3202</text>
<text x="147.7" y="584.8" font-size="9.70" text-anchor="end" fill="#111" stroke="#111" stroke-width="0.22" letter-spacing="-0.4">3250</text>
<text x="148.5" y="605.8" font-size="9.70" text-anchor="end" fill="#111" stroke="#111" stroke-width="0.22" letter-spacing="-0.4">3549</text>
<text x="258.3" y="521.9" font-size="9.70" text-anchor="end" fill="#111" stroke="#111" stroke-width="0.22" letter-spacing="-0.4">3037</text>
<text x="258.8" y="542.8" font-size="9.70" text-anchor="end" fill="#111" stroke="#111" stroke-width="0.22" letter-spacing="-0.4">2899</text>
<text x="259.4" y="563.9" font-size="9.70" text-anchor="end" fill="#111" stroke="#111" stroke-width="0.22" letter-spacing="-0.4">2907</text>
<text x="259.1" y="584.8" font-size="9.70" text-anchor="end" fill="#111" stroke="#111" stroke-width="0.22" letter-spacing="-0.4">3112</text>
<text x="259.9" y="605.8" font-size="9.70" text-anchor="end" fill="#111" stroke="#111" stroke-width="0.22" letter-spacing="-0.4">3017</text>
<text x="370.3" y="521.9" font-size="9.70" text-anchor="end" fill="#111" stroke="#111" stroke-width="0.22" letter-spacing="-0.4">8231</text>
<text x="370.8" y="542.8" font-size="9.70" text-anchor="end" fill="#111" stroke="#111" stroke-width="0.22" letter-spacing="-0.4">9115</text>
<text x="371.4" y="563.9" font-size="9.70" text-anchor="end" fill="#111" stroke="#111" stroke-width="0.22" letter-spacing="-0.4">9009</text>
<text x="371.1" y="584.8" font-size="9.70" text-anchor="end" fill="#111" stroke="#111" stroke-width="0.22" letter-spacing="-0.4">9274</text>
<text x="371.9" y="605.8" font-size="9.70" text-anchor="end" fill="#111" stroke="#111" stroke-width="0.22" letter-spacing="-0.4">9066</text>
<text x="481.9" y="521.9" font-size="9.70" text-anchor="end" fill="#111" stroke="#111" stroke-width="0.22" letter-spacing="-0.4">3969</text>
<text x="482.4" y="542.8" font-size="9.70" text-anchor="end" fill="#111" stroke="#111" stroke-width="0.22" letter-spacing="-0.4">4905</text>
<text x="483.0" y="563.9" font-size="9.70" text-anchor="end" fill="#111" stroke="#111" stroke-width="0.22" letter-spacing="-0.4">5376</text>
<text x="482.7" y="584.8" font-size="9.70" text-anchor="end" fill="#111" stroke="#111" stroke-width="0.22" letter-spacing="-0.4">6094</text>
<text x="483.5" y="605.8" font-size="9.70" text-anchor="end" fill="#111" stroke="#111" stroke-width="0.22" letter-spacing="-0.4">6240</text>
<text x="595.4" y="521.9" font-size="9.70" text-anchor="end" fill="#111" stroke="#111" stroke-width="0.22" letter-spacing="-0.4">3517</text>
<text x="595.9" y="542.8" font-size="9.70" text-anchor="end" fill="#111" stroke="#111" stroke-width="0.22" letter-spacing="-0.4">5295</text>
<text x="596.5" y="563.9" font-size="9.70" text-anchor="end" fill="#111" stroke="#111" stroke-width="0.22" letter-spacing="-0.4">6623</text>
<text x="596.2" y="584.8" font-size="9.70" text-anchor="end" fill="#111" stroke="#111" stroke-width="0.22" letter-spacing="-0.4">7388</text>
<text x="597.0" y="605.8" font-size="9.70" text-anchor="end" fill="#111" stroke="#111" stroke-width="0.22" letter-spacing="-0.4">7292</text>
<text x="147.0" y="511.6" font-size="8.80" text-anchor="end" fill="#111" stroke="#111" stroke-width="0.22">gMFI</text>
<text x="35.5" y="560.9" font-size="9.30" text-anchor="middle" fill="#111" stroke="#111" stroke-width="0.22" transform="rotate(-90 35.50 557.60)">Normalized to mode</text>
<text x="601.2" y="517.8" font-size="9.30" text-anchor="start" fill="#1f8a88" stroke="#1f8a88" stroke-width="0.22">Combo#5-TM</text>
<text x="601.2" y="538.8" font-size="9.30" text-anchor="start" fill="#cfcfcf" stroke="#cfcfcf" stroke-width="0.22">NTFIX</text>
<text x="601.2" y="557.7" font-size="9.30" text-anchor="start" fill="#ff1a1a" stroke="#ff1a1a" stroke-width="0.22">M1/alum</text>
<text x="601.2" y="578.6" font-size="9.30" text-anchor="start" fill="#111" stroke="#111" stroke-width="0.22">PBS/alum</text>
<text x="601.2" y="599.6" font-size="9.30" text-anchor="start" fill="#4a5fc4" stroke="#4a5fc4" stroke-width="0.22">PBS/PBS</text>
<text x="47.4" y="642.3" font-size="9.20" text-anchor="start" fill="#111" stroke="#111" stroke-width="0.22">T-bet-PECy7</text>
<line x1="109.30" y1="639.00" x2="139.50" y2="639.00" stroke="#111" stroke-width="0.90"/>
<polygon points="145.50,639.00 139.50,641.30 139.50,636.70" fill="#111"/>
<text x="158.4" y="642.3" font-size="9.20" text-anchor="start" fill="#111" stroke="#111" stroke-width="0.22">RORγt-BV421</text>
<line x1="222.80" y1="639.00" x2="252.10" y2="639.00" stroke="#111" stroke-width="0.90"/>
<polygon points="258.10,639.00 252.10,641.30 252.10,636.70" fill="#111"/>
<text x="268.6" y="642.3" font-size="9.20" text-anchor="start" fill="#111" stroke="#111" stroke-width="0.22">GATA-3-BV711</text>
<line x1="335.60" y1="639.00" x2="366.40" y2="639.00" stroke="#111" stroke-width="0.90"/>
<polygon points="372.40,639.00 366.40,641.30 366.40,636.70" fill="#111"/>
<text x="380.6" y="642.3" font-size="9.20" text-anchor="start" fill="#111" stroke="#111" stroke-width="0.22">TCF-1-PE</text>
<line x1="428.20" y1="639.00" x2="475.40" y2="639.00" stroke="#111" stroke-width="0.90"/>
<polygon points="481.40,639.00 475.40,641.30 475.40,636.70" fill="#111"/>
<text x="493.9" y="642.3" font-size="9.20" text-anchor="start" fill="#111" stroke="#111" stroke-width="0.22">Ki67-AF700</text>
<line x1="547.40" y1="639.00" x2="584.40" y2="639.00" stroke="#111" stroke-width="0.90"/>
<polygon points="590.40,639.00 584.40,641.30 584.40,636.70" fill="#111"/>
<path d="M92.1 699.3h1.1v1.1h-1.1zM59.5 724.0h1.1v1.1h-1.1zM124.4 700.8h1.1v1.1h-1.1zM64.7 709.6h1.1v1.1h-1.1zM124.4 735.0h1.1v1.1h-1.1zM125.1 708.7h1.1v1.1h-1.1zM74.9 704.8h1.1v1.1h-1.1zM121.9 701.5h1.1v1.1h-1.1zM127.4 703.6h1.1v1.1h-1.1zM125.3 703.2h1.1v1.1h-1.1zM117.2 696.0h1.1v1.1h-1.1zM76.7 706.8h1.1v1.1h-1.1zM67.5 708.3h1.1v1.1h-1.1zM128.7 711.9h1.1v1.1h-1.1zM122.6 739.6h1.1v1.1h-1.1zM59.4 719.6h1.1v1.1h-1.1zM129.2 710.7h1.1v1.1h-1.1zM60.1 720.4h1.1v1.1h-1.1zM127.4 708.1h1.1v1.1h-1.1zM69.4 710.6h1.1v1.1h-1.1zM127.6 709.1h1.1v1.1h-1.1zM126.2 713.7h1.1v1.1h-1.1zM124.1 732.0h1.1v1.1h-1.1zM64.3 711.5h1.1v1.1h-1.1zM125.4 702.9h1.1v1.1h-1.1zM63.2 718.6h1.1v1.1h-1.1zM65.3 709.3h1.1v1.1h-1.1zM126.5 711.4h1.1v1.1h-1.1zM60.0 726.0h1.1v1.1h-1.1zM62.5 712.1h1.1v1.1h-1.1zM97.5 700.9h1.1v1.1h-1.1zM62.2 714.1h1.1v1.1h-1.1zM69.0 707.3h1.1v1.1h-1.1zM69.5 708.0h1.1v1.1h-1.1zM112.1 697.7h1.1v1.1h-1.1zM63.6 713.3h1.1v1.1h-1.1zM57.4 737.5h1.1v1.1h-1.1zM62.5 715.4h1.1v1.1h-1.1zM103.7 700.6h1.1v1.1h-1.1zM58.6 718.7h1.1v1.1h-1.1zM127.3 701.8h1.1v1.1h-1.1zM61.9 715.2h1.1v1.1h-1.1zM126.1 712.0h1.1v1.1h-1.1zM70.8 703.8h1.1v1.1h-1.1zM66.4 709.6h1.1v1.1h-1.1zM99.9 700.3h1.1v1.1h-1.1zM126.5 732.1h1.1v1.1h-1.1zM63.7 711.5h1.1v1.1h-1.1zM121.7 742.0h1.1v1.1h-1.1zM60.3 725.2h1.1v1.1h-1.1zM124.1 701.3h1.1v1.1h-1.1zM127.6 699.9h1.1v1.1h-1.1zM127.8 708.2h1.1v1.1h-1.1zM126.4 736.8h1.1v1.1h-1.1zM63.6 710.9h1.1v1.1h-1.1zM54.9 722.7h1.1v1.1h-1.1zM122.7 724.2h1.1v1.1h-1.1zM58.2 722.0h1.1v1.1h-1.1zM126.8 704.6h1.1v1.1h-1.1zM126.2 736.5h1.1v1.1h-1.1zM123.4 701.2h1.1v1.1h-1.1zM123.1 730.0h1.1v1.1h-1.1zM82.8 699.4h1.1v1.1h-1.1zM128.8 708.8h1.1v1.1h-1.1zM67.5 707.1h1.1v1.1h-1.1zM127.4 710.9h1.1v1.1h-1.1zM126.8 704.3h1.1v1.1h-1.1zM117.5 697.8h1.1v1.1h-1.1zM92.1 700.0h1.1v1.1h-1.1zM126.6 707.7h1.1v1.1h-1.1z" fill="#111"/>
<path d="M62.8 767.6h1.1v1.1h-1.1zM118.3 769.3h1.1v1.1h-1.1zM123.3 769.7h1.1v1.1h-1.1zM51.7 774.4h1.1v1.1h-1.1zM131.3 759.6h1.1v1.1h-1.1zM127.0 760.4h1.1v1.1h-1.1zM112.6 769.4h1.1v1.1h-1.1zM65.0 771.1h1.1v1.1h-1.1zM129.5 764.1h1.1v1.1h-1.1zM97.6 771.1h1.1v1.1h-1.1zM50.4 770.1h1.1v1.1h-1.1zM76.2 769.8h1.1v1.1h-1.1zM128.9 758.1h1.1v1.1h-1.1zM132.3 760.3h1.1v1.1h-1.1zM115.5 767.0h1.1v1.1h-1.1zM125.0 765.0h1.1v1.1h-1.1zM128.6 749.6h1.1v1.1h-1.1zM86.5 772.6h1.1v1.1h-1.1zM126.7 752.6h1.1v1.1h-1.1zM127.0 765.2h1.1v1.1h-1.1zM127.0 756.1h1.1v1.1h-1.1zM112.9 771.2h1.1v1.1h-1.1zM90.0 770.2h1.1v1.1h-1.1zM127.0 761.5h1.1v1.1h-1.1zM128.4 752.9h1.1v1.1h-1.1zM109.1 768.1h1.1v1.1h-1.1zM91.5 769.2h1.1v1.1h-1.1zM129.3 753.8h1.1v1.1h-1.1zM125.8 762.9h1.1v1.1h-1.1zM113.9 771.1h1.1v1.1h-1.1zM93.7 768.6h1.1v1.1h-1.1zM126.1 766.1h1.1v1.1h-1.1zM131.1 756.3h1.1v1.1h-1.1zM130.8 767.7h1.1v1.1h-1.1zM73.4 770.7h1.1v1.1h-1.1zM55.5 773.5h1.1v1.1h-1.1zM69.5 773.5h1.1v1.1h-1.1zM100.3 771.8h1.1v1.1h-1.1zM74.6 771.8h1.1v1.1h-1.1zM85.0 772.5h1.1v1.1h-1.1z" fill="#111"/>
<g clip-path="url(#c6)"><g filter="url(#bl2)"><path d="M57.5,744.0 L58.5,730.0 L60.5,716.0 L65.0,710.0 L71.0,705.5 L83.6,703.0 L102.0,699.6 L121.6,698.4 L126.6,703.0 L126.8,712.0 L125.0,727.0 L122.5,742.0 Z" fill="#1414ff"/><path d="M50,744.5 L127,744.5 Q130,756 127.5,768.5 L52,768.5 Q48,756 50,744.5 Z" fill="#1414ff"/><path d="M60.0,743.0 L61.0,729.0 L63.0,718.0 L67.0,712.0 L73.0,708.0 L84.0,706.0 L102.0,702.5 L120.0,701.5 L124.0,705.0 L124.0,713.0 L122.5,727.0 L120.5,742.0 Z" fill="#0f3cff"/><ellipse cx="89.0" cy="756.5" rx="39.5" ry="11.2" fill="#0f3cff"/><ellipse cx="104.0" cy="716.0" rx="21.0" ry="15.0" fill="#0a8cff"/><ellipse cx="73.0" cy="724.0" rx="10.0" ry="13.0" fill="#0a8cff"/><ellipse cx="96.0" cy="733.0" rx="14.0" ry="7.0" fill="#0a8cff"/><ellipse cx="80.0" cy="737.0" rx="9.0" ry="5.0" fill="#0a8cff"/><ellipse cx="115.0" cy="733.0" rx="8.0" ry="7.0" fill="#0a8cff"/><ellipse cx="88.5" cy="756.5" rx="38.0" ry="9.8" fill="#0a8cff"/><ellipse cx="104.5" cy="716.0" rx="19.5" ry="13.5" fill="#00c8ff"/><ellipse cx="73.0" cy="722.0" rx="7.0" ry="9.0" fill="#00c8ff"/><ellipse cx="69.0" cy="732.0" rx="5.0" ry="5.0" fill="#00c8ff"/><ellipse cx="94.0" cy="734.0" rx="10.0" ry="5.0" fill="#00c8ff"/><ellipse cx="116.0" cy="731.0" rx="6.0" ry="6.0" fill="#00c8ff"/><ellipse cx="88.5" cy="756.5" rx="37.0" ry="9.2" fill="#00c8ff"/><ellipse cx="104.5" cy="716.0" rx="18.0" ry="12.0" fill="#00e8ff"/><ellipse cx="74.0" cy="719.0" rx="4.5" ry="5.0" fill="#00e8ff"/><ellipse cx="68.0" cy="730.0" rx="3.5" ry="3.5" fill="#00e8ff"/><ellipse cx="96.0" cy="735.0" rx="5.0" ry="3.0" fill="#00e8ff"/><ellipse cx="88.5" cy="756.5" rx="36.5" ry="8.6" fill="#00e8ff"/><ellipse cx="105.0" cy="716.0" rx="15.5" ry="10.0" fill="#20ff70"/><ellipse cx="106.5" cy="715.5" rx="13.0" ry="8.5" fill="#18ff28"/><ellipse cx="67.5" cy="756.5" rx="14.5" ry="7.8" fill="#18ff28"/><ellipse cx="104.0" cy="756.8" rx="20.0" ry="6.2" fill="#18ff28"/><ellipse cx="88.0" cy="756.8" rx="9.0" ry="5.0" fill="#18ff28"/><ellipse cx="110.5" cy="713.8" rx="5.0" ry="3.6" fill="#b8ff10"/><ellipse cx="111.0" cy="713.5" rx="2.5" ry="2.0" fill="#e0ff10"/><ellipse cx="68.0" cy="756.5" rx="12.0" ry="6.8" fill="#ffff00"/><ellipse cx="105.0" cy="756.8" rx="17.0" ry="4.8" fill="#ffff00"/><ellipse cx="88.0" cy="756.8" rx="7.0" ry="3.2" fill="#ffff00"/><ellipse cx="68.5" cy="756.4" rx="10.0" ry="5.8" fill="#ff8c00"/><ellipse cx="109.0" cy="756.6" rx="11.5" ry="3.8" fill="#ff8c00"/><ellipse cx="68.8" cy="756.3" rx="8.5" ry="5.0" fill="#ff0000"/><ellipse cx="109.5" cy="756.5" rx="9.0" ry="2.8" fill="#ff6400"/></g></g>
<rect x="48.40" y="679.10" width="102.50" height="102.50" fill="none" stroke="#222" stroke-width="0.90"/>
<line x1="83.40" y1="679.10" x2="83.40" y2="781.60" stroke="#c0306a" stroke-width="0.90"/>
<line x1="48.40" y1="743.20" x2="150.90" y2="743.20" stroke="#c0306a" stroke-width="0.90"/>
<text x="50.9" y="692.8" font-size="8.80" text-anchor="start" fill="#111" stroke="#111" stroke-width="0.22">IFNγ<tspan dy="-3.34" font-size="5.46">+</tspan><tspan dy="3.34"> SP</tspan></text>
<text x="101.0" y="692.8" font-size="8.80" text-anchor="start" fill="#111" stroke="#111" stroke-width="0.22">TNFα<tspan dy="-3.34" font-size="5.46">+</tspan><tspan dy="3.34">IFNγ</tspan><tspan dy="-3.34" font-size="5.46">+</tspan></text>
<text x="104.8" y="778.3" font-size="8.80" text-anchor="start" fill="#111" stroke="#111" stroke-width="0.22">TNFα<tspan dy="-3.34" font-size="5.46">+</tspan><tspan dy="3.34"> SP</tspan></text>
<line x1="48.40" y1="689.60" x2="44.20" y2="689.60" stroke="#111" stroke-width="0.90"/>
<text x="41.9" y="692.6" font-size="8.30" text-anchor="end" fill="#111" stroke="#111" stroke-width="0.22">10<tspan dy="-3.15" font-size="5.81">6</tspan></text>
<line x1="48.40" y1="707.50" x2="44.20" y2="707.50" stroke="#111" stroke-width="0.90"/>
<text x="41.9" y="710.5" font-size="8.30" text-anchor="end" fill="#111" stroke="#111" stroke-width="0.22">10<tspan dy="-3.15" font-size="5.81">5</tspan></text>
<line x1="48.40" y1="728.10" x2="44.20" y2="728.10" stroke="#111" stroke-width="0.90"/>
<text x="41.9" y="731.1" font-size="8.30" text-anchor="end" fill="#111" stroke="#111" stroke-width="0.22">10<tspan dy="-3.15" font-size="5.81">4</tspan></text>
<line x1="48.40" y1="760.40" x2="44.20" y2="760.40" stroke="#111" stroke-width="0.90"/>
<text x="33.5" y="763.4" font-size="8.30" text-anchor="middle" fill="#111" stroke="#111" stroke-width="0.22">0</text>
<path d="M48.4 721.9h-2.6M48.4 718.3h-2.6M48.4 715.7h-2.6M48.4 713.7h-2.6M48.4 712.1h-2.6M48.4 710.7h-2.6M48.4 709.5h-2.6M48.4 708.4h-2.6M48.4 702.1h-2.6M48.4 699.0h-2.6M48.4 696.7h-2.6M48.4 695.0h-2.6M48.4 693.6h-2.6M48.4 692.4h-2.6M48.4 691.3h-2.6M48.4 690.4h-2.6M48.4 684.0h-2.6M48.4 680.7h-2.6M48.4 744.0h-2.6M48.4 739.0h-2.6M48.4 776.0h-2.6M48.4 780.0h-2.6" stroke="#111" stroke-width="0.85" fill="none"/>
<path d="M48.4 752.0h-3.4M48.4 753.2h-4.6M48.4 754.4h-3.4M48.4 755.6h-4.6M48.4 756.8h-4.6M48.4 758.0h-3.4M48.4 759.2h-4.6M48.4 760.4h-4.6M48.4 761.6h-4.6M48.4 762.8h-3.4M48.4 764.0h-4.6M48.4 765.2h-4.6M48.4 766.4h-3.4M48.4 767.6h-4.6M48.4 768.8h-3.4" stroke="#000" stroke-width="1.0" fill="none"/>
<path d="M70.7 781.6v4.8M101.3 781.6v4.8M121.1 781.6v4.8M141.0 781.6v4.8M87.5 781.6v3.0M90.9 781.6v3.0M93.4 781.6v3.0M95.3 781.6v3.0M96.9 781.6v3.0M98.2 781.6v3.0M99.4 781.6v3.0M100.4 781.6v3.0M107.3 781.6v3.0M110.7 781.6v3.0M113.2 781.6v3.0M115.1 781.6v3.0M116.7 781.6v3.0M118.0 781.6v3.0M119.2 781.6v3.0M120.2 781.6v3.0M127.1 781.6v3.0M130.6 781.6v3.0M133.1 781.6v3.0M135.0 781.6v3.0M136.6 781.6v3.0M137.9 781.6v3.0M139.1 781.6v3.0M140.1 781.6v3.0M147.0 781.6v3.0" stroke="#111" stroke-width="0.85" fill="none"/>
<path d="M62.3 781.6v3.6M63.5 781.6v4.8M64.7 781.6v3.6M65.9 781.6v4.8M67.1 781.6v4.8M68.3 781.6v3.6M69.5 781.6v4.8M70.7 781.6v4.8M71.9 781.6v4.8M73.1 781.6v3.6M74.3 781.6v4.8M75.5 781.6v4.8M76.7 781.6v3.6M77.9 781.6v4.8M79.1 781.6v3.6" stroke="#000" stroke-width="1.0" fill="none"/>
<path d="M58.7 781.6v3.0M53.2 781.6v3.0" stroke="#111" stroke-width="0.85" fill="none"/>
<text x="70.7" y="797.9" font-size="7.90" text-anchor="middle" fill="#111" stroke="#111" stroke-width="0.22">0</text>
<text x="101.3" y="797.9" font-size="7.90" text-anchor="middle" fill="#111" stroke="#111" stroke-width="0.22">10<tspan dy="-3.00" font-size="5.53">4</tspan></text>
<text x="121.1" y="797.9" font-size="7.90" text-anchor="middle" fill="#111" stroke="#111" stroke-width="0.22">10<tspan dy="-3.00" font-size="5.53">5</tspan></text>
<text x="141.0" y="797.9" font-size="7.90" text-anchor="middle" fill="#111" stroke="#111" stroke-width="0.22">10<tspan dy="-3.00" font-size="5.53">6</tspan></text>
<text x="44.2" y="808.3" font-size="9.20" text-anchor="start" fill="#111" stroke="#111" stroke-width="0.22">TNFα–APC</text>
<line x1="97.30" y1="805.00" x2="143.00" y2="805.00" stroke="#111" stroke-width="0.90"/>
<polygon points="149.00,805.00 143.00,807.30 143.00,802.70" fill="#111"/>
<text x="21.1" y="762.8" font-size="9.20" text-anchor="middle" fill="#111" stroke="#111" stroke-width="0.22" transform="rotate(-90 21.10 759.50)">IFN-γ–PE</text>
<line x1="21.10" y1="737.00" x2="21.10" y2="683.00" stroke="#111" stroke-width="0.90"/>
<polygon points="21.10,677.00 23.50,683.00 18.70,683.00" fill="#111"/></svg></body></html>
